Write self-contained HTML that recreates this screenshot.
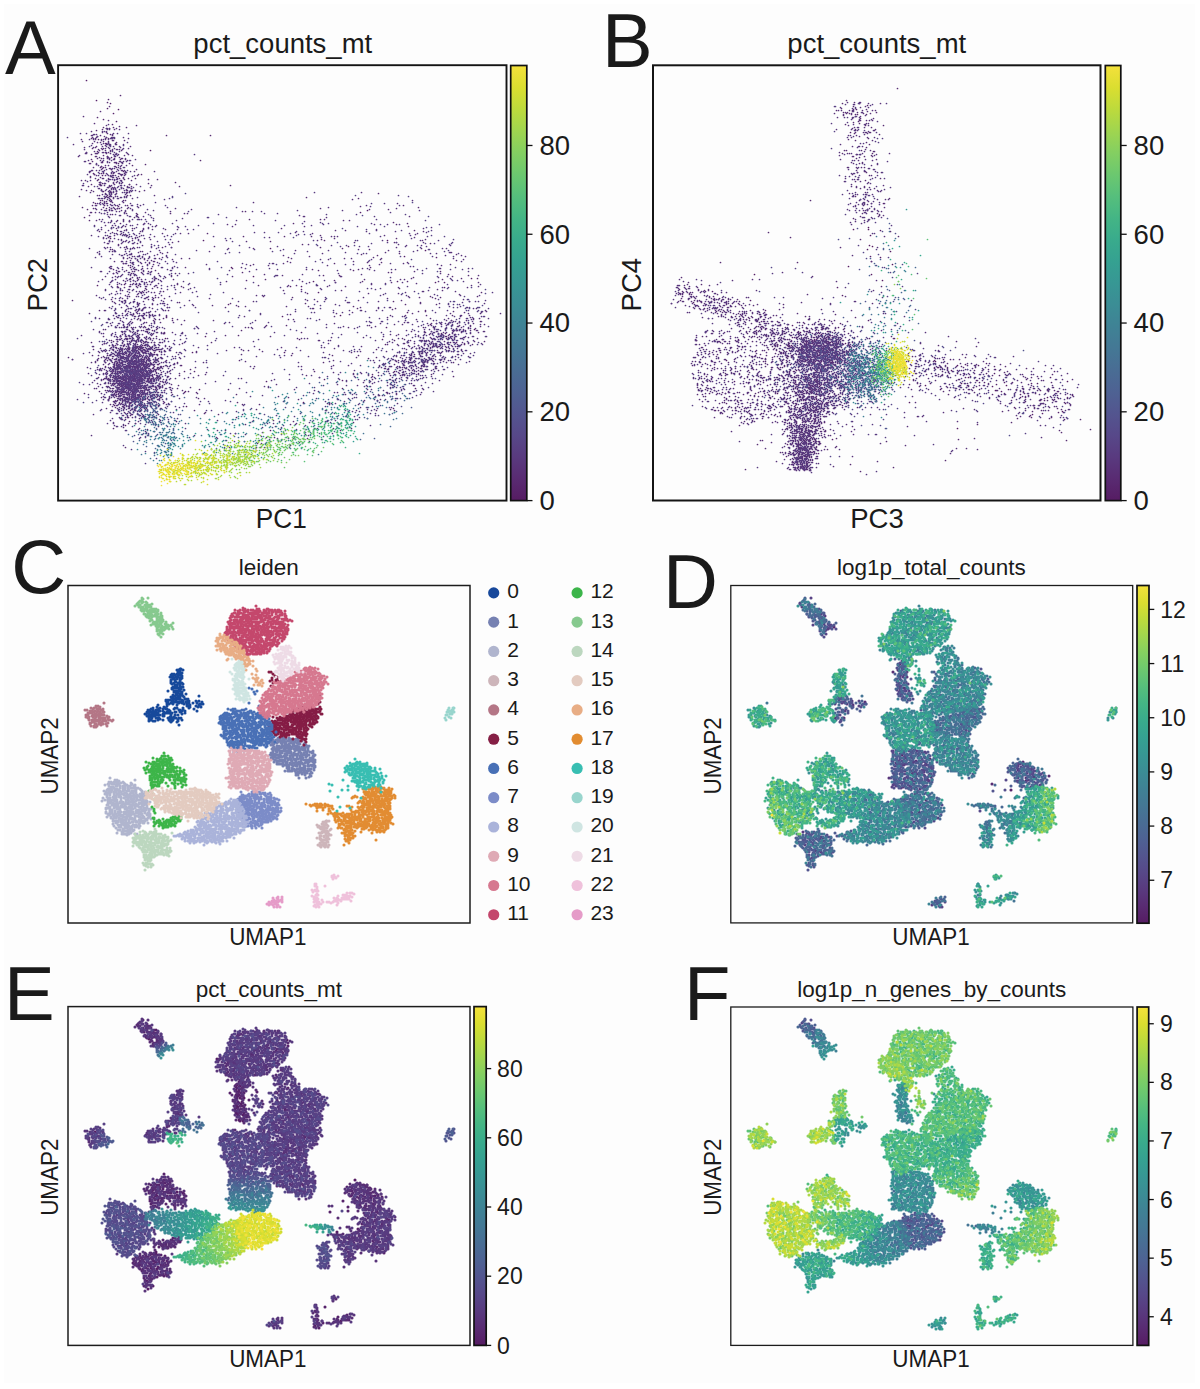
<!DOCTYPE html>
<html><head><meta charset="utf-8"><style>
html,body{margin:0;padding:0;background:#fff;}
svg{display:block;}
text{font-family:"Liberation Sans", sans-serif;fill:#1a1a1a;}
</style></head><body>
<svg width="1200" height="1389" viewBox="0 0 1200 1389">
<defs><linearGradient id="vir" x1="0" y1="0" x2="0" y2="1"><stop offset="0.00" stop-color="#f4e13b"/><stop offset="0.05" stop-color="#dbde30"/><stop offset="0.10" stop-color="#bdda3c"/><stop offset="0.15" stop-color="#a0d54f"/><stop offset="0.20" stop-color="#84cf61"/><stop offset="0.25" stop-color="#6cc86f"/><stop offset="0.30" stop-color="#56bf7c"/><stop offset="0.35" stop-color="#44b585"/><stop offset="0.40" stop-color="#39ab8c"/><stop offset="0.45" stop-color="#35a191"/><stop offset="0.50" stop-color="#379794"/><stop offset="0.55" stop-color="#3b8d95"/><stop offset="0.60" stop-color="#3f8295"/><stop offset="0.65" stop-color="#447895"/><stop offset="0.70" stop-color="#496d94"/><stop offset="0.75" stop-color="#4e6293"/><stop offset="0.80" stop-color="#53558f"/><stop offset="0.85" stop-color="#574889"/><stop offset="0.90" stop-color="#593a7f"/><stop offset="0.95" stop-color="#592b72"/><stop offset="1.00" stop-color="#561c63"/></linearGradient><filter id="bl" x="-2%" y="-2%" width="104%" height="104%"><feGaussianBlur stdDeviation="0.45"/></filter><filter id="bl2" x="-2%" y="-2%" width="104%" height="104%"><feGaussianBlur stdDeviation="0.6"/></filter></defs>
<rect x="4" y="4" width="1191" height="1379" fill="#fdfdfd"/>
<g fill="none" stroke-linecap="round" stroke-width="3.1" filter="url(#bl)">
<path stroke="#17489b" d="M180 669h0m1 0h0m-4 1h0m1 0h0m5 0h0m-3 1h0m-2 1h0m2 1h0m2 0h0m-10 1h0m2 0h0m3 0h0m2 0h0m-8 1h0m4 0h0m4 0h0m2 0h0m-8 1h0m5 0h0m4 0h0m-12 1h0m2 0h0m4 0h0m2 0h0m-4 1h0m6 0h0m2 0h0m-9 1h0m4 0h0m4 0h0m-10 1h0m4 0h0m5 0h0m-9 1h0m9 0h0m-9 1h0m4 0h0m1 0h0m-5 1h0m3 0h0m4 0h0m2 0h0m2 0h0m-10 1h0m11 0h0m-8 1h0m2 0h0m0 0h0m3 0h0m-5 1h0m2 0h0m-4 1h0m7 0h0m2 0h0m1 0h0m-11 1h0m2 0h0m2 0h0m2 0h0m-6 1h0m7 0h0m2 0h0m-1 1h0m4 0h0m-16 1h0m6 0h0m2 0h0m0 0h0m2 0h0m2 0h0m-6 1h0m3 0h0m5 0h0m-6 1h0m2 0h0m2 1h0m2 0h0m4 0h0m-13 1h0m3 0h0m0 0h0m1 0h0m5 0h0m-9 1h0m2 0h0m3 0h0m1 0h0m1 0h0m3 0h0m16 0h0m-28 1h0m7 0h0m2 0h0m4 0h0m-12 1h0m1 0h0m3 0h0m4 0h0m-6 1h0m2 0h0m2 0h0m1 0h0m1 0h0m5 0h0m1 0h0m2 0h0m-22 1h0m2 0h0m2 0h0m3 0h0m9 0h0m0 0h0m-16 1h0m1 0h0m1 0h0m4 0h0m1 0h0m3 0h0m7 0h0m5 0h0m1 0h0m7 0h0m3 0h0m-26 1h0m1 0h0m2 0h0m1 0h0m2 0h0m1 0h0m1 0h0m5 0h0m16 0h0m-35 1h0m1 0h0m3 0h0m8 0h0m3 0h0m1 0h0m4 0h0m2 0h0m4 0h0m4 0h0m-30 1h0m2 0h0m4 0h0m11 0h0m16 0h0m1 0h0m2 0h0m0 0h0m-45 1h0m19 0h0m10 0h0m3 0h0m9 0h0m-32 1h0m20 0h0m1 0h0m8 0h0m-39 1h0m0 0h0m7 0h0m26 0h0m8 0h0m3 0h0m-48 1h0m7 0h0m5 0h0m0 0h0m10 0h0m2 0h0m6 0h0m6 0h0m-38 1h0m8 0h0m4 0h0m3 0h0m1 0h0m7 0h0m9 0h0m11 0h0m-46 1h0m2 0h0m3 0h0m3 0h0m1 0h0m11 0h0m1 0h0m10 0h0m1 0h0m-21 1h0m1 0h0m0 0h0m3 0h0m7 0h0m12 0h0m3 0h0m12 0h0m-50 1h0m2 0h0m2 0h0m1 0h0m2 0h0m2 0h0m8 0h0m0 0h0m3 0h0m8 0h0m1 0h0m4 0h0m1 0h0m-33 1h0m4 0h0m6 0h0m6 0h0m2 0h0m2 0h0m2 0h0m2 0h0m13 0h0m-40 1h0m1 0h0m3 0h0m3 0h0m2 0h0m1 0h0m8 0h0m19 0h0m-33 1h0m2 0h0m5 0h0m2 0h0m2 0h0m4 0h0m7 0h0m4 0h0m0 0h0m3 0h0m-31 1h0m1 0h0m1 0h0m4 0h0m1 0h0m1 0h0m8 0h0m0 0h0m1 0h0m7 0h0m-20 1h0m19 0h0m4 0h0m-25 1h0m3 0h0m4 0h0m2 0h0m1 0h0m9 0h0m4 0h0m3 0h0m1 0h0m3 0h0m2 0h0m0 0h0m-23 1h0m2 0h0m10 0h0m-21 1h0m2 0h0m7 0h0m5 0h0m6 0h0m4 0h0m5 0h0m4 0h0m-33 1h0m4 0h0m2 0h0m15 0h0m2 0h0m6 0h0m-7 1h0m6 0h0m2 3h0"/>
<path stroke="#7681b2" d="M276 735h0m6 2h0m3 0h0m15 0h0m-22 1h0m1 0h0m5 0h0m5 0h0m-17 1h0m8 0h0m3 0h0m3 0h0m5 0h0m2 0h0m3 0h0m2 0h0m4 0h0m-29 1h0m3 0h0m2 0h0m6 0h0m5 0h0m1 0h0m3 0h0m3 0h0m-16 1h0m2 0h0m6 0h0m1 0h0m3 0h0m1 0h0m5 0h0m1 0h0m3 0h0m-31 1h0m2 0h0m1 0h0m4 0h0m6 0h0m2 0h0m9 0h0m4 0h0m-26 1h0m4 0h0m0 0h0m4 0h0m1 0h0m9 0h0m3 0h0m3 0h0m8 0h0m-31 1h0m11 0h0m1 0h0m3 0h0m4 0h0m6 0h0m1 0h0m0 0h0m4 0h0m-33 1h0m2 0h0m9 0h0m6 0h0m6 0h0m10 0h0m2 0h0m-29 1h0m2 0h0m5 0h0m2 0h0m4 0h0m3 0h0m2 0h0m1 0h0m1 0h0m7 0h0m3 0h0m2 0h0m-35 1h0m3 0h0m4 0h0m1 0h0m3 0h0m1 0h0m2 0h0m2 0h0m2 0h0m4 0h0m3 0h0m3 0h0m-29 1h0m5 0h0m2 0h0m1 0h0m6 0h0m11 0h0m5 0h0m2 0h0m0 0h0m3 0h0m-36 1h0m1 0h0m2 0h0m2 0h0m7 0h0m1 0h0m4 0h0m2 0h0m3 0h0m2 0h0m3 0h0m2 0h0m-28 1h0m6 0h0m18 0h0m2 0h0m4 0h0m2 0h0m3 0h0m0 0h0m-35 1h0m0 0h0m3 0h0m0 0h0m4 0h0m2 0h0m2 0h0m0 0h0m2 0h0m1 0h0m1 0h0m2 0h0m5 0h0m5 0h0m13 0h0m-36 1h0m12 0h0m2 0h0m8 0h0m1 0h0m6 0h0m1 0h0m3 0h0m2 0h0m-41 1h0m2 0h0m7 0h0m2 0h0m5 0h0m2 0h0m2 0h0m3 0h0m7 0h0m3 0h0m8 0h0m1 0h0m-38 1h0m10 0h0m1 0h0m9 0h0m2 0h0m1 0h0m6 0h0m3 0h0m-37 1h0m2 0h0m4 0h0m1 0h0m1 0h0m2 0h0m7 0h0m5 0h0m2 0h0m2 0h0m5 0h0m2 0h0m2 0h0m4 0h0m6 0h0m-42 1h0m2 0h0m4 0h0m2 0h0m3 0h0m2 0h0m4 0h0m7 0h0m3 0h0m6 0h0m1 0h0m6 0h0m1 0h0m-39 1h0m5 0h0m2 0h0m8 0h0m3 0h0m9 0h0m4 0h0m0 0h0m-35 1h0m2 0h0m4 0h0m1 0h0m7 0h0m2 0h0m10 0h0m3 0h0m1 0h0m2 0h0m7 0h0m1 0h0m2 0h0m-40 1h0m12 0h0m3 0h0m2 0h0m1 0h0m3 0h0m2 0h0m2 0h0m4 0h0m9 0h0m-36 1h0m5 0h0m2 0h0m2 0h0m4 0h0m3 0h0m4 0h0m6 0h0m3 0h0m2 0h0m1 0h0m1 0h0m2 0h0m3 0h0m2 0h0m-38 1h0m2 0h0m1 0h0m2 0h0m3 0h0m7 0h0m4 0h0m5 0h0m9 0h0m2 0h0m-38 1h0m12 0h0m1 0h0m9 0h0m3 0h0m7 0h0m2 0h0m1 0h0m4 0h0m2 0h0m-38 1h0m6 0h0m7 0h0m3 0h0m1 0h0m3 0h0m3 0h0m2 0h0m3 0h0m0 0h0m9 0h0m-37 1h0m1 0h0m1 0h0m1 0h0m2 0h0m0 0h0m4 0h0m1 0h0m4 0h0m7 0h0m5 0h0m5 0h0m6 0h0m-30 1h0m2 0h0m3 0h0m3 0h0m3 0h0m2 0h0m3 0h0m8 0h0m3 0h0m2 0h0m-30 1h0m4 0h0m6 0h0m3 0h0m1 0h0m7 0h0m1 0h0m3 0h0m1 0h0m3 0h0m3 0h0m-26 1h0m11 0h0m15 0h0m-28 1h0m5 0h0m9 0h0m2 0h0m2 0h0m9 0h0m-26 1h0m1 0h0m0 0h0m4 0h0m1 0h0m3 0h0m1 0h0m2 0h0m4 0h0m4 0h0m2 0h0m0 0h0m1 0h0m-19 1h0m4 0h0m6 0h0m3 0h0m4 0h0m5 0h0m-29 1h0m3 0h0m2 0h0m2 0h0m3 0h0m5 0h0m4 0h0m3 0h0m1 0h0m-10 1h0m1 0h0m2 0h0m3 0h0m7 0h0m-15 1h0m3 0h0m3 0h0m3 0h0m2 0h0m5 0h0m-14 1h0m4 0h0m3 0h0m5 0h0m-14 1h0m2 0h0m7 0h0m5 1h0m1 0h0m-2 1h0m-10 1h0m7 0h0"/>
<path stroke="#b0b5ce" d="M110 778h0m5 2h0m2 0h0m18 0h0m-19 1h0m1 0h0m2 0h0m-10 1h0m2 0h0m3 0h0m1 0h0m8 0h0m-14 1h0m2 0h0m2 0h0m5 0h0m3 0h0m3 0h0m7 0h0m-23 1h0m1 0h0m3 0h0m2 0h0m3 0h0m2 0h0m6 0h0m7 0h0m-27 1h0m11 0h0m9 0h0m2 0h0m4 0h0m4 0h0m-26 1h0m7 0h0m1 0h0m3 0h0m3 0h0m2 0h0m3 0h0m2 0h0m4 0h0m1 0h0m-24 1h0m2 0h0m10 0h0m5 0h0m-17 1h0m3 0h0m6 0h0m0 0h0m5 0h0m0 0h0m3 0h0m3 0h0m1 0h0m0 0h0m2 0h0m2 0h0m2 0h0m-30 1h0m1 0h0m6 0h0m2 0h0m6 0h0m17 0h0m-33 1h0m5 0h0m5 0h0m2 0h0m6 0h0m3 0h0m1 0h0m7 0h0m5 0h0m-37 1h0m5 0h0m2 0h0m4 0h0m4 0h0m1 0h0m3 0h0m4 0h0m2 0h0m3 0h0m0 0h0m2 0h0m0 0h0m8 0h0m-36 1h0m3 0h0m2 0h0m3 0h0m2 0h0m3 0h0m2 0h0m15 0h0m9 0h0m-37 1h0m6 0h0m11 0h0m1 0h0m5 0h0m1 0h0m1 0h0m3 0h0m6 0h0m4 0h0m-41 1h0m2 0h0m3 0h0m4 0h0m3 0h0m2 0h0m3 0h0m1 0h0m4 0h0m3 0h0m10 0h0m4 0h0m-37 1h0m3 0h0m10 0h0m4 0h0m4 0h0m2 0h0m4 0h0m3 0h0m4 0h0m4 0h0m-38 1h0m7 0h0m2 0h0m3 0h0m7 0h0m6 0h0m4 0h0m2 0h0m4 0h0m4 0h0m-39 1h0m6 0h0m3 0h0m3 0h0m2 0h0m5 0h0m2 0h0m2 0h0m1 0h0m4 0h0m2 0h0m3 0h0m4 0h0m-41 1h0m6 0h0m1 0h0m4 0h0m2 0h0m5 0h0m3 0h0m10 0h0m7 0h0m1 0h0m-34 1h0m2 0h0m5 0h0m13 0h0m3 0h0m1 0h0m2 0h0m3 0h0m6 0h0m2 0h0m-40 1h0m3 0h0m4 0h0m2 0h0m3 0h0m4 0h0m5 0h0m0 0h0m1 0h0m5 0h0m5 0h0m2 0h0m1 0h0m3 0h0m3 0h0m-44 1h0m6 0h0m2 0h0m5 0h0m14 0h0m4 0h0m3 0h0m6 0h0m5 0h0m-36 1h0m6 0h0m0 0h0m3 0h0m1 0h0m1 0h0m1 0h0m3 0h0m5 0h0m3 0h0m11 0h0m5 0h0m-42 1h0m2 0h0m3 0h0m7 0h0m3 0h0m5 0h0m5 0h0m6 0h0m2 0h0m1 0h0m2 0h0m3 0h0m-33 1h0m1 0h0m2 0h0m1 0h0m6 0h0m1 0h0m2 0h0m2 0h0m7 0h0m3 0h0m5 0h0m2 0h0m1 0h0m-40 1h0m1 0h0m4 0h0m10 0h0m9 0h0m1 0h0m2 0h0m4 0h0m4 0h0m2 0h0m-30 1h0m2 0h0m2 0h0m3 0h0m4 0h0m10 0h0m2 0h0m6 0h0m4 0h0m-37 1h0m0 0h0m6 0h0m5 0h0m2 0h0m3 0h0m3 0h0m2 0h0m1 0h0m7 0h0m2 0h0m-35 1h0m2 0h0m2 0h0m4 0h0m4 0h0m2 0h0m6 0h0m1 0h0m2 0h0m6 0h0m6 0h0m3 0h0m2 0h0m1 0h0m-41 1h0m11 0h0m1 0h0m1 0h0m6 0h0m2 0h0m4 0h0m1 0h0m1 0h0m8 0h0m4 0h0m4 0h0m2 0h0m0 0h0m-41 1h0m2 0h0m8 0h0m7 0h0m10 0h0m2 0h0m3 0h0m4 0h0m-36 1h0m5 0h0m14 0h0m2 0h0m5 0h0m2 0h0m1 0h0m4 0h0m2 0h0m4 0h0m-43 1h0m4 0h0m2 0h0m6 0h0m1 0h0m2 0h0m3 0h0m2 0h0m1 0h0m6 0h0m8 0h0m8 0h0m0 0h0m-43 1h0m6 0h0m3 0h0m3 0h0m2 0h0m6 0h0m3 0h0m2 0h0m2 0h0m3 0h0m2 0h0m7 0h0m3 0h0m-40 1h0m2 0h0m0 0h0m6 0h0m8 0h0m2 0h0m7 0h0m1 0h0m5 0h0m2 0h0m1 0h0m8 0h0m-41 1h0m4 0h0m6 0h0m2 0h0m2 0h0m4 0h0m2 0h0m2 0h0m11 0h0m5 0h0m2 0h0m1 0h0m-36 1h0m3 0h0m4 0h0m7 0h0m7 0h0m1 0h0m2 0h0m5 0h0m0 0h0m7 0h0m-43 1h0m4 0h0m0 0h0m3 0h0m2 0h0m7 0h0m1 0h0m2 0h0m4 0h0m5 0h0m4 0h0m1 0h0m4 0h0m5 0h0m-38 1h0m4 0h0m1 0h0m3 0h0m8 0h0m5 0h0m10 0h0m2 0h0m4 0h0m-35 1h0m6 0h0m2 0h0m1 0h0m4 0h0m4 0h0m2 0h0m2 0h0m1 0h0m6 0h0m5 0h0m5 0h0m-29 1h0m2 0h0m2 0h0m3 0h0m6 0h0m4 0h0m8 0h0m-34 1h0m1 0h0m2 0h0m1 0h0m1 0h0m3 0h0m15 0h0m5 0h0m1 0h0m2 0h0m1 0h0m-27 1h0m3 0h0m2 0h0m3 0h0m3 0h0m3 0h0m1 0h0m3 0h0m1 0h0m3 0h0m-24 1h0m8 0h0m3 0h0m3 0h0m10 0h0m3 0h0m1 0h0m4 0h0m-35 1h0m9 0h0m4 0h0m13 0h0m-21 1h0m2 0h0m4 0h0m4 0h0m5 0h0m1 0h0m2 0h0m-22 1h0m5 0h0m2 0h0m5 0h0m1 0h0m2 0h0m3 0h0m5 0h0m3 0h0m-21 1h0m2 0h0m0 0h0m4 0h0m3 0h0m3 0h0m1 0h0m3 0h0m1 0h0m-20 1h0m9 0h0m2 0h0m12 0h0m-16 1h0m7 0h0m2 0h0m-14 1h0m2 0h0m0 0h0m8 0h0m5 0h0m1 0h0m-11 1h0m2 0h0m2 0h0m3 0h0m3 0h0m-11 1h0m6 0h0m-11 1h0m6 0h0m5 0h0m2 0h0m1 0h0m-9 1h0m2 0h0m2 0h0m3 0h0m6 0h0m2 0h0m-10 1h0m0 0h0"/>
<path stroke="#cdb5ba" d="M326 821h0m1 0h0m2 0h0m-6 1h0m1 0h0m2 1h0m-4 1h0m1 0h0m-6 1h0m8 0h0m2 0h0m-8 1h0m5 0h0m4 0h0m-10 1h0m3 0h0m1 0h0m-2 1h0m4 0h0m2 0h0m1 0h0m-6 1h0m1 0h0m9 0h0m-7 1h0m6 0h0m-4 1h0m1 0h0m-5 1h0m2 0h0m4 0h0m-9 1h0m1 0h0m2 0h0m5 0h0m-1 1h0m3 0h0m-3 1h0m3 0h0m2 0h0m-11 1h0m1 0h0m3 0h0m4 0h0m-8 1h0m4 0h0m3 0h0m-10 1h0m11 0h0m-8 1h0m1 0h0m5 0h0m3 0h0m-8 1h0m1 0h0m1 0h0m2 0h0m2 0h0m0 1h0m-5 1h0m6 0h0m-8 1h0m4 0h0m2 0h0m0 1h0m-8 1h0m3 0h0m1 0h0m2 0h0m2 0h0m3 0h0m-9 1h0m1 0h0m3 0h0m-3 1h0m4 0h0m3 0h0"/>
<path stroke="#b47686" d="M104 703h0m-8 3h0m2 0h0m-2 1h0m4 0h0m-9 1h0m3 0h0m-1 1h0m4 0h0m1 0h0m2 0h0m3 0h0m-18 1h0m2 0h0m14 0h0m-11 1h0m2 0h0m3 0h0m3 0h0m0 0h0m5 0h0m-9 1h0m3 0h0m0 0h0m3 0h0m3 0h0m1 0h0m-16 1h0m2 0h0m1 0h0m1 0h0m3 1h0m1 0h0m3 0h0m2 0h0m-15 1h0m1 0h0m1 0h0m5 0h0m3 0h0m2 0h0m4 0h0m1 0h0m1 0h0m-12 1h0m2 0h0m6 0h0m7 0h0m-21 1h0m3 0h0m4 0h0m3 0h0m3 0h0m9 0h0m0 0h0m1 0h0m-21 1h0m13 0h0m2 0h0m2 0h0m-16 1h0m6 0h0m4 0h0m5 0h0m4 0h0m-19 1h0m3 0h0m1 0h0m4 0h0m3 0h0m3 0h0m2 0h0m4 0h0m1 0h0m3 0h0m-18 1h0m2 0h0m2 0h0m4 0h0m2 0h0m1 0h0m6 0h0m-20 1h0m2 0h0m5 0h0m3 0h0m-12 1h0m1 0h0m8 0h0m2 0h0m7 0h0m-18 1h0m5 0h0m1 0h0m3 0h0m4 0h0m3 0h0m-5 1h0m-10 1h0m3 0h0m3 0h0m10 0h0m-13 1h0m2 0h0"/>
<path stroke="#851f45" d="M269 672h0m2 0h0m2 2h0m2 2h0m2 1h0m-5 1h0m5 1h0m-5 1h0m4 0h0m-6 1h0m8 0h0m-2 1h0m-3 1h0m-2 3h0m9 0h0m40 10h0m-1 1h0m0 2h0m1 3h0m-2 2h0m-16 3h0m3 0h0m2 0h0m2 0h0m2 0h0m9 0h0m-22 1h0m9 0h0m7 0h0m0 0h0m-17 1h0m0 0h0m15 0h0m1 0h0m3 0h0m2 0h0m3 0h0m-34 1h0m7 0h0m1 0h0m4 0h0m2 0h0m3 0h0m1 0h0m4 0h0m1 0h0m-26 1h0m6 0h0m3 0h0m1 0h0m9 0h0m2 0h0m6 0h0m1 0h0m2 0h0m1 0h0m1 0h0m4 0h0m-33 1h0m4 0h0m6 0h0m2 0h0m2 0h0m0 0h0m6 0h0m3 0h0m7 0h0m2 0h0m-14 1h0m1 0h0m2 0h0m6 0h0m2 0h0m-32 1h0m6 0h0m3 0h0m4 0h0m3 0h0m2 0h0m8 0h0m2 0h0m9 0h0m1 0h0m-31 1h0m1 0h0m3 0h0m2 0h0m7 0h0m3 0h0m2 0h0m2 0h0m5 0h0m-31 1h0m1 0h0m2 0h0m10 0h0m1 0h0m2 0h0m4 0h0m9 0h0m0 0h0m3 0h0m-44 1h0m7 0h0m5 0h0m2 0h0m3 0h0m1 0h0m2 0h0m3 0h0m2 0h0m4 0h0m1 0h0m5 0h0m2 0h0m2 0h0m3 0h0m3 0h0m-41 1h0m5 0h0m2 0h0m7 0h0m1 0h0m2 0h0m6 0h0m4 0h0m3 0h0m11 0h0m-40 1h0m2 0h0m2 0h0m4 0h0m2 0h0m8 0h0m2 0h0m5 0h0m8 0h0m2 0h0m3 0h0m-38 1h0m1 0h0m2 0h0m4 0h0m2 0h0m3 0h0m1 0h0m3 0h0m3 0h0m3 0h0m1 0h0m5 0h0m3 0h0m1 0h0m3 0h0m1 0h0m2 0h0m-44 1h0m3 0h0m8 0h0m5 0h0m8 0h0m8 0h0m3 0h0m-34 1h0m3 0h0m9 0h0m6 0h0m2 0h0m4 0h0m1 0h0m2 0h0m2 0h0m4 0h0m4 0h0m3 0h0m4 0h0m-42 1h0m3 0h0m2 0h0m0 0h0m2 0h0m4 0h0m1 0h0m7 0h0m11 0h0m5 0h0m5 0h0m-45 1h0m3 0h0m3 0h0m6 0h0m2 0h0m4 0h0m7 0h0m3 0h0m1 0h0m2 0h0m2 0h0m3 0h0m6 0h0m2 0h0m-39 1h0m3 0h0m5 0h0m9 0h0m1 0h0m11 0h0m5 0h0m1 0h0m-39 1h0m3 0h0m6 0h0m4 0h0m2 0h0m2 0h0m9 0h0m2 0h0m2 0h0m2 0h0m3 0h0m4 0h0m-41 1h0m6 0h0m1 0h0m8 0h0m4 0h0m2 0h0m0 0h0m2 0h0m5 0h0m3 0h0m1 0h0m11 0h0m-41 1h0m2 0h0m4 0h0m2 0h0m2 0h0m5 0h0m7 0h0m2 0h0m9 0h0m1 0h0m2 0h0m-35 1h0m4 0h0m6 0h0m4 0h0m2 0h0m6 0h0m2 0h0m3 0h0m2 0h0m6 0h0m1 0h0m-34 1h0m4 0h0m1 0h0m5 0h0m2 0h0m0 0h0m4 0h0m1 0h0m1 0h0m2 0h0m10 0h0m3 0h0m-18 1h0m7 0h0m3 0h0m7 0h0m-37 1h0m2 0h0m2 0h0m1 0h0m2 0h0m1 0h0m2 0h0m2 0h0m3 0h0m5 0h0m2 0h0m2 0h0m3 0h0m2 0h0m3 0h0m0 0h0m3 0h0m-30 1h0m4 0h0m3 0h0m1 0h0m1 0h0m4 0h0m16 0h0m3 0h0m-28 1h0m7 0h0m7 0h0m1 0h0m1 0h0m2 0h0m3 0h0m1 0h0m5 0h0m1 0h0m1 0h0m-32 1h0m1 0h0m5 0h0m2 0h0m4 0h0m2 0h0m9 0h0m4 0h0m2 0h0m-22 1h0m3 0h0m12 0h0m9 0h0m-26 1h0m6 0h0m12 0h0m2 0h0m2 0h0m-2 1h0m1 0h0m-8 1h0m10 0h0m1 0h0m2 0h0m-1 1h0m-4 1h0m5 1h0m-2 3h0"/>
<path stroke="#4870b6" d="M249 688h0m3 1h0m5 2h0m-3 1h0m1 2h0m-6 9h0m10 3h0m-31 3h0m5 0h0m2 0h0m11 0h0m-15 1h0m11 0h0m2 0h0m-11 1h0m4 0h0m1 0h0m2 0h0m10 0h0m1 0h0m-16 1h0m13 0h0m6 0h0m-29 1h0m2 0h0m6 0h0m3 0h0m5 0h0m0 0h0m3 0h0m2 0h0m3 0h0m3 0h0m6 0h0m3 0h0m3 0h0m-40 1h0m5 0h0m3 0h0m0 0h0m3 0h0m2 0h0m19 0h0m0 0h0m4 0h0m-37 1h0m2 0h0m2 0h0m1 0h0m2 0h0m7 0h0m2 0h0m2 0h0m1 0h0m3 0h0m1 0h0m2 0h0m5 0h0m4 0h0m2 0h0m2 0h0m3 0h0m3 0h0m-46 1h0m15 0h0m2 0h0m3 0h0m5 0h0m1 0h0m6 0h0m10 0h0m2 0h0m-45 1h0m1 0h0m3 0h0m1 0h0m2 0h0m4 0h0m3 0h0m6 0h0m4 0h0m6 0h0m2 0h0m4 0h0m2 0h0m2 0h0m7 0h0m1 0h0m-46 1h0m7 0h0m1 0h0m0 0h0m2 0h0m6 0h0m2 0h0m4 0h0m1 0h0m1 0h0m3 0h0m4 0h0m3 0h0m3 0h0m2 0h0m-41 1h0m4 0h0m2 0h0m11 0h0m13 0h0m5 0h0m8 0h0m0 0h0m2 0h0m4 0h0m0 0h0m-46 1h0m4 0h0m2 0h0m3 0h0m4 0h0m2 0h0m1 0h0m8 0h0m3 0h0m4 0h0m7 0h0m4 0h0m-44 1h0m13 0h0m4 0h0m4 0h0m3 0h0m1 0h0m2 0h0m4 0h0m0 0h0m15 0h0m-47 1h0m4 0h0m3 0h0m2 0h0m3 0h0m3 0h0m5 0h0m2 0h0m6 0h0m7 0h0m4 0h0m3 0h0m3 0h0m3 0h0m2 0h0m-51 1h0m3 0h0m3 0h0m2 0h0m3 0h0m3 0h0m9 0h0m7 0h0m4 0h0m3 0h0m4 0h0m4 0h0m-43 1h0m2 0h0m9 0h0m3 0h0m3 0h0m1 0h0m4 0h0m3 0h0m5 0h0m1 0h0m2 0h0m1 0h0m8 0h0m1 0h0m3 0h0m1 0h0m3 0h0m-43 1h0m2 0h0m2 0h0m2 0h0m2 0h0m3 0h0m2 0h0m8 0h0m3 0h0m6 0h0m3 0h0m7 0h0m1 0h0m2 0h0m1 0h0m-49 1h0m2 0h0m1 0h0m5 0h0m5 0h0m6 0h0m3 0h0m2 0h0m4 0h0m1 0h0m4 0h0m2 0h0m1 0h0m6 0h0m-39 1h0m7 0h0m6 0h0m4 0h0m1 0h0m4 0h0m11 0h0m1 0h0m5 0h0m7 0h0m-49 1h0m1 0h0m5 0h0m3 0h0m5 0h0m10 0h0m5 0h0m2 0h0m2 0h0m2 0h0m9 0h0m2 0h0m1 0h0m0 0h0m-47 1h0m3 0h0m9 0h0m2 0h0m2 0h0m8 0h0m3 0h0m6 0h0m6 0h0m4 0h0m2 0h0m4 0h0m-39 1h0m3 0h0m5 0h0m0 0h0m2 0h0m1 0h0m5 0h0m5 0h0m7 0h0m1 0h0m2 0h0m6 0h0m-45 1h0m2 0h0m3 0h0m1 0h0m3 0h0m3 0h0m4 0h0m2 0h0m4 0h0m5 0h0m2 0h0m3 0h0m7 0h0m3 0h0m-43 1h0m7 0h0m4 0h0m7 0h0m2 0h0m4 0h0m7 0h0m1 0h0m6 0h0m7 0h0m7 0h0m-52 1h0m5 0h0m4 0h0m4 0h0m1 0h0m6 0h0m4 0h0m3 0h0m3 0h0m5 0h0m4 0h0m2 0h0m2 0h0m2 0h0m2 0h0m-46 1h0m2 0h0m3 0h0m3 0h0m3 0h0m6 0h0m12 0h0m2 0h0m6 0h0m2 0h0m3 0h0m2 0h0m-48 1h0m3 0h0m2 0h0m6 0h0m5 0h0m3 0h0m4 0h0m1 0h0m3 0h0m1 0h0m2 0h0m10 0h0m9 0h0m2 0h0m0 0h0m-50 1h0m2 0h0m6 0h0m7 0h0m2 0h0m4 0h0m2 0h0m8 0h0m3 0h0m3 0h0m2 0h0m2 0h0m3 0h0m4 0h0m-41 1h0m6 0h0m1 0h0m3 0h0m1 0h0m7 0h0m0 0h0m1 0h0m3 0h0m0 0h0m4 0h0m3 0h0m4 0h0m6 0h0m0 0h0m6 0h0m-50 1h0m2 0h0m3 0h0m3 0h0m1 0h0m4 0h0m4 0h0m15 0h0m16 0h0m-45 1h0m1 0h0m8 0h0m0 0h0m8 0h0m3 0h0m5 0h0m1 0h0m6 0h0m2 0h0m2 0h0m2 0h0m1 0h0m2 0h0m2 0h0m1 0h0m-44 1h0m14 0h0m1 0h0m3 0h0m4 0h0m4 0h0m3 0h0m2 0h0m4 0h0m4 0h0m5 0h0m-40 1h0m1 0h0m6 0h0m7 0h0m3 0h0m2 0h0m1 0h0m3 0h0m5 0h0m2 0h0m3 0h0m-37 1h0m3 0h0m4 0h0m1 0h0m2 0h0m2 0h0m3 0h0m2 0h0m7 0h0m1 0h0m4 0h0m6 0h0m5 0h0m2 0h0m6 0h0m-47 1h0m3 0h0m1 0h0m5 0h0m3 0h0m2 0h0m3 0h0m8 0h0m2 0h0m2 0h0m3 0h0m2 0h0m4 0h0m3 0h0m-35 1h0m7 0h0m15 0h0m11 0h0m-39 1h0m2 0h0m2 0h0m1 0h0m3 0h0m2 0h0m2 0h0m2 0h0m3 0h0m10 0h0m4 0h0m2 0h0m3 0h0m-26 1h0m5 0h0m1 0h0m3 0h0m1 0h0m1 0h0m1 0h0m3 0h0m14 0h0m-37 1h0m3 0h0m1 0h0m5 0h0m2 0h0m1 0h0m9 0h0m15 0h0m-29 1h0m1 0h0m5 0h0m6 0h0m3 0h0m3 0h0m2 0h0m-23 1h0m7 0h0m4 0h0m-9 1h0m3 1h0m5 0h0m-10 1h0m4 0h0m1 0h0"/>
<path stroke="#7c8cc8" d="M253 789h0m-12 3h0m11 0h0m0 0h0m4 0h0m2 0h0m1 0h0m1 0h0m3 1h0m2 0h0m5 0h0m-21 1h0m3 0h0m2 0h0m6 0h0m1 0h0m3 0h0m4 0h0m-26 1h0m1 0h0m5 0h0m1 0h0m5 0h0m2 0h0m1 0h0m8 0h0m6 0h0m-26 1h0m1 0h0m2 0h0m4 0h0m2 0h0m12 0h0m-26 1h0m2 0h0m1 0h0m7 0h0m7 0h0m1 0h0m3 0h0m6 0h0m2 0h0m2 0h0m-28 1h0m2 0h0m5 0h0m4 0h0m2 0h0m2 0h0m1 0h0m8 0h0m4 0h0m3 0h0m-36 1h0m1 0h0m2 0h0m3 0h0m3 0h0m4 0h0m5 0h0m4 0h0m1 0h0m3 0h0m3 0h0m2 0h0m6 0h0m1 0h0m1 0h0m-28 1h0m6 0h0m4 0h0m5 0h0m3 0h0m2 0h0m2 0h0m8 0h0m-45 1h0m5 0h0m1 0h0m2 0h0m5 0h0m1 0h0m3 0h0m1 0h0m21 0h0m0 0h0m-37 1h0m1 0h0m5 0h0m2 0h0m1 0h0m4 0h0m2 0h0m4 0h0m4 0h0m0 0h0m5 0h0m3 0h0m0 0h0m3 0h0m2 0h0m3 0h0m-37 1h0m5 0h0m4 0h0m5 0h0m5 0h0m2 0h0m3 0h0m1 0h0m1 0h0m4 0h0m2 0h0m3 0h0m5 0h0m-42 1h0m9 0h0m4 0h0m1 0h0m4 0h0m8 0h0m10 0h0m3 0h0m2 0h0m-45 1h0m7 0h0m3 0h0m2 0h0m4 0h0m2 0h0m6 0h0m1 0h0m4 0h0m0 0h0m4 0h0m6 0h0m1 0h0m3 0h0m4 0h0m-42 1h0m2 0h0m3 0h0m3 0h0m2 0h0m4 0h0m2 0h0m1 0h0m7 0h0m2 0h0m5 0h0m9 0h0m-41 1h0m2 0h0m1 0h0m5 0h0m6 0h0m4 0h0m3 0h0m2 0h0m6 0h0m4 0h0m1 0h0m-30 1h0m8 0h0m9 0h0m5 0h0m6 0h0m5 0h0m3 0h0m2 0h0m3 0h0m-39 1h0m1 0h0m3 0h0m3 0h0m3 0h0m1 0h0m7 0h0m7 0h0m3 0h0m2 0h0m2 0h0m-37 1h0m3 0h0m2 0h0m5 0h0m0 0h0m3 0h0m5 0h0m1 0h0m6 0h0m1 0h0m3 0h0m3 0h0m2 0h0m4 0h0m3 0h0m-41 1h0m11 0h0m5 0h0m2 0h0m6 0h0m3 0h0m3 0h0m6 0h0m2 0h0m2 0h0m4 0h0m-37 1h0m1 0h0m0 0h0m7 0h0m1 0h0m3 0h0m3 0h0m4 0h0m5 0h0m8 0h0m2 0h0m2 0h0m-41 1h0m3 0h0m1 0h0m4 0h0m2 0h0m9 0h0m1 0h0m2 0h0m2 0h0m3 0h0m3 0h0m3 0h0m3 0h0m-30 1h0m1 0h0m5 0h0m3 0h0m3 0h0m5 0h0m3 0h0m1 0h0m7 0h0m2 0h0m-35 1h0m5 0h0m2 0h0m2 0h0m3 0h0m7 0h0m4 0h0m6 0h0m2 0h0m7 0h0m-39 1h0m2 0h0m11 0h0m3 0h0m2 0h0m4 0h0m5 0h0m1 0h0m3 0h0m2 0h0m5 0h0m-34 1h0m3 0h0m7 0h0m4 0h0m3 0h0m3 0h0m1 0h0m1 0h0m6 0h0m3 0h0m-34 1h0m3 0h0m2 0h0m4 0h0m4 0h0m1 0h0m6 0h0m8 0h0m2 0h0m3 0h0m2 0h0m-30 1h0m4 0h0m1 0h0m9 0h0m3 0h0m2 0h0m3 0h0m3 0h0m3 0h0m4 0h0m-35 1h0m5 0h0m6 0h0m5 0h0m8 0h0m-11 1h0m4 0h0m2 0h0m1 0h0m4 0h0m2 0h0m3 0h0m-26 1h0m1 0h0m2 0h0m3 0h0m6 0h0m7 0h0m1 0h0m1 0h0m2 0h0m-20 1h0m1 0h0m4 0h0m3 0h0m5 0h0m-22 1h0m4 0h0m12 0h0m2 0h0m1 0h0m4 0h0m0 0h0m-11 1h0m7 0h0m3 0h0m-15 1h0m2 0h0m3 0h0m1 0h0m3 0h0m4 0h0m-7 2h0m4 0h0m6 0h0"/>
<path stroke="#aab3da" d="M231 799h0m3 1h0m2 0h0m1 0h0m-8 1h0m7 0h0m-10 1h0m3 0h0m1 0h0m3 0h0m1 0h0m4 0h0m-20 1h0m7 0h0m4 0h0m2 0h0m5 0h0m-15 1h0m2 0h0m1 0h0m4 0h0m0 0h0m3 0h0m2 0h0m4 0h0m3 0h0m-25 1h0m6 0h0m5 0h0m7 0h0m1 0h0m2 0h0m-17 1h0m4 0h0m8 0h0m7 0h0m1 0h0m-22 1h0m4 0h0m5 0h0m7 0h0m3 0h0m6 0h0m-30 1h0m3 0h0m2 0h0m10 0h0m3 0h0m7 0h0m1 0h0m3 0h0m-20 1h0m1 0h0m1 0h0m4 0h0m1 0h0m1 0h0m3 0h0m1 0h0m6 0h0m4 0h0m-27 1h0m5 0h0m2 0h0m3 0h0m1 0h0m3 0h0m2 0h0m4 0h0m0 0h0m5 0h0m-28 1h0m1 0h0m3 0h0m2 0h0m9 0h0m10 0h0m2 0h0m-28 1h0m3 0h0m6 0h0m1 0h0m5 0h0m9 0h0m8 0h0m-39 1h0m3 0h0m5 0h0m1 0h0m3 0h0m7 0h0m0 0h0m3 0h0m5 0h0m1 0h0m2 0h0m0 0h0m1 0h0m5 0h0m1 0h0m-34 1h0m2 0h0m4 0h0m6 0h0m1 0h0m11 0h0m7 0h0m2 0h0m2 0h0m-36 1h0m3 0h0m3 0h0m3 0h0m4 0h0m6 0h0m1 0h0m6 0h0m4 0h0m2 0h0m2 0h0m2 0h0m-45 1h0m6 0h0m7 0h0m6 0h0m4 0h0m3 0h0m4 0h0m1 0h0m5 0h0m10 0h0m2 0h0m-36 1h0m3 0h0m7 0h0m5 0h0m6 0h0m6 0h0m2 0h0m2 0h0m3 0h0m-39 1h0m2 0h0m1 0h0m1 0h0m0 0h0m6 0h0m2 0h0m2 0h0m5 0h0m3 0h0m2 0h0m4 0h0m2 0h0m11 0h0m-45 1h0m2 0h0m3 0h0m5 0h0m5 0h0m4 0h0m2 0h0m2 0h0m1 0h0m3 0h0m1 0h0m3 0h0m3 0h0m1 0h0m4 0h0m4 0h0m-37 1h0m7 0h0m3 0h0m4 0h0m15 0h0m1 0h0m1 0h0m4 0h0m-44 1h0m3 0h0m7 0h0m3 0h0m2 0h0m1 0h0m3 0h0m2 0h0m7 0h0m6 0h0m12 0h0m-47 1h0m5 0h0m1 0h0m1 0h0m4 0h0m4 0h0m3 0h0m2 0h0m5 0h0m2 0h0m0 0h0m1 0h0m4 0h0m4 0h0m2 0h0m2 0h0m1 0h0m4 0h0m0 0h0m3 0h0m0 0h0m1 0h0m2 0h0m-48 1h0m3 0h0m3 0h0m8 0h0m5 0h0m12 0h0m1 0h0m7 0h0m1 0h0m-38 1h0m3 0h0m19 0h0m5 0h0m1 0h0m3 0h0m3 0h0m4 0h0m1 0h0m3 0h0m-46 1h0m0 0h0m2 0h0m6 0h0m3 0h0m1 0h0m3 0h0m2 0h0m1 0h0m3 0h0m2 0h0m1 0h0m4 0h0m5 0h0m7 0h0m8 0h0m-47 1h0m2 0h0m3 0h0m4 0h0m1 0h0m2 0h0m6 0h0m1 0h0m4 0h0m5 0h0m5 0h0m3 0h0m4 0h0m2 0h0m1 0h0m-47 1h0m11 0h0m10 0h0m4 0h0m4 0h0m1 0h0m1 0h0m6 0h0m5 0h0m1 0h0m5 0h0m2 0h0m-49 1h0m4 0h0m4 0h0m3 0h0m2 0h0m12 0h0m2 0h0m3 0h0m3 0h0m-31 1h0m3 0h0m1 0h0m6 0h0m3 0h0m1 0h0m2 0h0m2 0h0m3 0h0m1 0h0m0 0h0m2 0h0m3 0h0m2 0h0m3 0h0m1 0h0m1 0h0m1 0h0m2 0h0m1 0h0m2 0h0m-47 1h0m2 0h0m3 0h0m1 0h0m3 0h0m6 0h0m4 0h0m1 0h0m4 0h0m13 0h0m10 0h0m3 0h0m1 0h0m2 0h0m-56 1h0m9 0h0m6 0h0m7 0h0m3 0h0m8 0h0m9 0h0m2 0h0m2 0h0m7 0h0m-56 1h0m0 0h0m6 0h0m1 0h0m2 0h0m7 0h0m1 0h0m2 0h0m3 0h0m2 0h0m7 0h0m2 0h0m4 0h0m4 0h0m2 0h0m7 0h0m1 0h0m3 0h0m-55 1h0m3 0h0m4 0h0m6 0h0m5 0h0m1 0h0m5 0h0m3 0h0m3 0h0m4 0h0m3 0h0m9 0h0m1 0h0m9 0h0m-60 1h0m4 0h0m5 0h0m4 0h0m3 0h0m3 0h0m7 0h0m3 0h0m4 0h0m2 0h0m5 0h0m1 0h0m3 0h0m2 0h0m0 0h0m2 0h0m6 0h0m2 0h0m-58 1h0m4 0h0m4 0h0m2 0h0m7 0h0m4 0h0m1 0h0m7 0h0m21 0h0m2 0h0m2 0h0m-58 1h0m2 0h0m3 0h0m2 0h0m8 0h0m2 0h0m3 0h0m10 0h0m2 0h0m2 0h0m3 0h0m2 0h0m2 0h0m3 0h0m1 0h0m4 0h0m4 0h0m-44 1h0m3 0h0m0 0h0m9 0h0m7 0h0m2 0h0m6 0h0m2 0h0m3 0h0m3 0h0m2 0h0m2 0h0m2 0h0m2 0h0m2 0h0m2 0h0m-45 1h0m3 0h0m1 0h0m1 0h0m1 0h0m4 0h0m3 0h0m1 0h0m2 0h0m6 0h0m1 0h0m1 0h0m4 0h0m7 0h0m3 0h0m3 0h0m8 0h0m-52 1h0m3 0h0m7 0h0m2 0h0m4 0h0m4 0h0m2 0h0m11 0h0m2 0h0m5 0h0m-32 1h0m14 0h0m1 0h0m5 0h0m1 0h0m3 0h0m2 0h0m1 0h0m2 0h0m-34 1h0m3 0h0m3 0h0m2 0h0m2 0h0m2 0h0m3 0h0m2 0h0m5 0h0m4 0h0m10 0h0m2 0h0m4 0h0m-31 1h0m4 0h0m5 0h0m3 0h0m4 0h0m3 0h0m4 0h0m-29 1h0m4 0h0m13 0h0m9 0h0m4 1h0m-16 1h0"/>
<path stroke="#dfaab5" d="M241 747h0m-10 1h0m10 1h0m-8 1h0m2 0h0m1 0h0m3 0h0m3 0h0m5 0h0m1 0h0m3 0h0m1 0h0m-23 1h0m1 0h0m5 0h0m3 0h0m1 0h0m2 0h0m3 0h0m2 0h0m4 0h0m1 0h0m3 0h0m2 0h0m1 0h0m2 0h0m-25 1h0m7 0h0m7 0h0m8 0h0m3 0h0m3 0h0m3 0h0m-35 1h0m9 0h0m11 0h0m4 0h0m7 0h0m2 0h0m-30 1h0m1 0h0m3 0h0m4 0h0m3 0h0m3 0h0m1 0h0m8 0h0m2 0h0m2 0h0m-30 1h0m2 0h0m1 0h0m5 0h0m1 0h0m4 0h0m2 0h0m3 0h0m5 0h0m3 0h0m6 0h0m4 0h0m-33 1h0m2 0h0m7 0h0m2 0h0m4 0h0m2 0h0m2 0h0m1 0h0m12 0h0m3 0h0m-37 1h0m6 0h0m4 0h0m9 0h0m5 0h0m3 0h0m3 0h0m2 0h0m-28 1h0m4 0h0m1 0h0m3 0h0m2 0h0m2 0h0m2 0h0m3 0h0m3 0h0m1 0h0m0 0h0m1 0h0m5 0h0m3 0h0m0 0h0m-36 1h0m2 0h0m2 0h0m4 0h0m5 0h0m5 0h0m12 0h0m5 0h0m4 0h0m-38 1h0m2 0h0m2 0h0m10 0h0m3 0h0m4 0h0m15 0h0m3 0h0m2 0h0m-42 1h0m7 0h0m3 0h0m2 0h0m0 0h0m2 0h0m6 0h0m4 0h0m3 0h0m1 0h0m3 0h0m1 0h0m2 0h0m-33 1h0m4 0h0m3 0h0m7 0h0m4 0h0m3 0h0m2 0h0m1 0h0m4 0h0m1 0h0m3 0h0m2 0h0m5 0h0m-39 1h0m3 0h0m2 0h0m5 0h0m6 0h0m7 0h0m2 0h0m8 0h0m4 0h0m2 0h0m-41 1h0m6 0h0m2 0h0m2 0h0m4 0h0m2 0h0m2 0h0m2 0h0m3 0h0m7 0h0m12 0h0m-38 1h0m8 0h0m1 0h0m9 0h0m7 0h0m0 0h0m5 0h0m2 0h0m2 0h0m2 0h0m-36 1h0m2 0h0m1 0h0m2 0h0m2 0h0m9 0h0m4 0h0m1 0h0m4 0h0m3 0h0m8 0h0m2 0h0m-34 1h0m2 0h0m10 0h0m8 0h0m0 0h0m4 0h0m6 0h0m-37 1h0m6 0h0m5 0h0m5 0h0m1 0h0m5 0h0m1 0h0m1 0h0m3 0h0m6 0h0m0 0h0m0 0h0m6 0h0m2 0h0m-39 1h0m3 0h0m3 0h0m7 0h0m2 0h0m1 0h0m17 0h0m2 0h0m3 0h0m-33 1h0m3 0h0m3 0h0m2 0h0m6 0h0m3 0h0m1 0h0m5 0h0m1 0h0m2 0h0m2 0h0m1 0h0m-35 1h0m3 0h0m2 0h0m1 0h0m2 0h0m2 0h0m2 0h0m5 0h0m2 0h0m2 0h0m2 0h0m4 0h0m10 0h0m2 0h0m1 0h0m-38 1h0m6 0h0m9 0h0m5 0h0m6 0h0m2 0h0m1 0h0m3 0h0m1 0h0m7 0h0m-42 1h0m4 0h0m5 0h0m5 0h0m6 0h0m3 0h0m3 0h0m3 0h0m12 0h0m-38 1h0m1 0h0m3 0h0m1 0h0m2 0h0m2 0h0m2 0h0m2 0h0m3 0h0m2 0h0m1 0h0m2 0h0m3 0h0m10 0h0m1 0h0m0 0h0m-37 1h0m18 0h0m9 0h0m1 0h0m2 0h0m5 0h0m5 0h0m-38 1h0m5 0h0m1 0h0m6 0h0m5 0h0m3 0h0m3 0h0m6 0h0m5 0h0m3 0h0m-41 1h0m3 0h0m0 0h0m3 0h0m10 0h0m6 0h0m2 0h0m9 0h0m3 0h0m3 0h0m-42 1h0m2 0h0m6 0h0m4 0h0m4 0h0m3 0h0m2 0h0m6 0h0m5 0h0m5 0h0m2 0h0m-34 1h0m2 0h0m3 0h0m0 0h0m3 0h0m2 0h0m7 0h0m1 0h0m5 0h0m6 0h0m2 0h0m7 0h0m-37 1h0m6 0h0m4 0h0m3 0h0m5 0h0m2 0h0m2 0h0m3 0h0m0 0h0m7 0h0m1 0h0m4 0h0m1 0h0m-36 1h0m8 0h0m1 0h0m7 0h0m2 0h0m3 0h0m5 0h0m2 0h0m4 0h0m0 0h0m-37 1h0m2 0h0m1 0h0m4 0h0m3 0h0m2 0h0m6 0h0m1 0h0m9 0h0m2 0h0m1 0h0m9 0h0m-34 1h0m2 0h0m2 0h0m3 0h0m2 0h0m1 0h0m4 0h0m4 0h0m3 0h0m2 0h0m4 0h0m2 0h0m3 0h0m-36 1h0m1 0h0m2 0h0m14 0h0m0 0h0m4 0h0m8 0h0m8 0h0m-38 1h0m9 0h0m3 0h0m3 0h0m6 0h0m9 0h0m-27 1h0m2 0h0m1 0h0m4 0h0m2 0h0m5 0h0m5 0h0m1 0h0m1 0h0m2 0h0m1 0h0m5 0h0m2 0h0m0 0h0m3 0h0m-38 1h0m7 0h0m2 0h0m2 0h0m3 0h0m5 0h0m5 0h0m5 0h0m4 0h0m3 0h0m-34 1h0m5 0h0m2 0h0m5 0h0m2 0h0m1 0h0m4 0h0m0 0h0m1 0h0m7 0h0m2 0h0m-14 1h0m7 0h0m2 0h0m3 0h0m3 0h0m3 0h0m0 0h0m-16 1h0m13 0h0m2 0h0m-7 1h0m-2 1h0m3 0h0"/>
<path stroke="#d6788f" d="M310 667h0m-5 1h0m1 0h0m3 0h0m3 0h0m3 0h0m-11 1h0m1 0h0m9 0h0m4 0h0m-10 1h0m2 0h0m1 0h0m-10 1h0m2 0h0m2 0h0m1 0h0m3 0h0m6 0h0m-20 1h0m1 0h0m1 0h0m0 0h0m1 0h0m13 0h0m1 0h0m1 0h0m2 0h0m1 0h0m-15 1h0m3 0h0m4 0h0m1 0h0m8 0h0m2 0h0m-19 1h0m0 0h0m5 0h0m3 0h0m4 0h0m3 0h0m0 0h0m5 0h0m-24 1h0m2 0h0m4 0h0m3 0h0m5 0h0m-18 1h0m2 0h0m1 0h0m3 0h0m7 0h0m1 0h0m7 0h0m5 0h0m4 0h0m2 0h0m-33 1h0m8 0h0m1 0h0m4 0h0m3 0h0m2 0h0m5 0h0m2 0h0m4 0h0m7 0h0m-38 1h0m1 0h0m2 0h0m2 0h0m12 0h0m2 0h0m3 0h0m1 0h0m1 0h0m3 0h0m4 0h0m2 0h0m-38 1h0m4 0h0m7 0h0m3 0h0m1 0h0m1 0h0m2 0h0m2 0h0m11 0h0m4 0h0m2 0h0m4 0h0m-42 1h0m4 0h0m2 0h0m2 0h0m16 0h0m4 0h0m2 0h0m2 0h0m5 0h0m-39 1h0m3 0h0m9 0h0m2 0h0m1 0h0m1 0h0m2 0h0m2 0h0m3 0h0m1 0h0m5 0h0m7 0h0m7 0h0m-50 1h0m4 0h0m2 0h0m3 0h0m6 0h0m1 0h0m12 0h0m3 0h0m4 0h0m2 0h0m4 0h0m6 0h0m5 0h0m-51 1h0m2 0h0m1 0h0m3 0h0m3 0h0m2 0h0m2 0h0m0 0h0m3 0h0m1 0h0m1 0h0m7 0h0m0 0h0m5 0h0m2 0h0m4 0h0m1 0h0m5 0h0m2 0h0m4 0h0m-43 1h0m3 0h0m12 0h0m6 0h0m8 0h0m5 0h0m2 0h0m3 0h0m3 0h0m2 0h0m4 0h0m-44 1h0m2 0h0m8 0h0m2 0h0m3 0h0m4 0h0m6 0h0m3 0h0m6 0h0m1 0h0m4 0h0m-50 1h0m5 0h0m3 0h0m1 0h0m6 0h0m2 0h0m2 0h0m8 0h0m2 0h0m2 0h0m2 0h0m5 0h0m6 0h0m3 0h0m-48 1h0m2 0h0m1 0h0m5 0h0m3 0h0m2 0h0m4 0h0m3 0h0m0 0h0m3 0h0m9 0h0m1 0h0m5 0h0m1 0h0m2 0h0m7 0h0m2 0h0m-46 1h0m3 0h0m20 0h0m1 0h0m1 0h0m7 0h0m3 0h0m4 0h0m3 0h0m5 0h0m-54 1h0m6 0h0m5 0h0m5 0h0m2 0h0m2 0h0m0 0h0m14 0h0m1 0h0m2 0h0m8 0h0m4 0h0m-46 1h0m1 0h0m4 0h0m2 0h0m3 0h0m0 0h0m10 0h0m1 0h0m1 0h0m1 0h0m2 0h0m2 0h0m0 0h0m7 0h0m2 0h0m5 0h0m2 0h0m1 0h0m1 0h0m4 0h0m-53 1h0m3 0h0m6 0h0m3 0h0m5 0h0m5 0h0m6 0h0m5 0h0m2 0h0m7 0h0m1 0h0m2 0h0m6 0h0m-53 1h0m8 0h0m3 0h0m5 0h0m1 0h0m3 0h0m0 0h0m1 0h0m5 0h0m3 0h0m7 0h0m5 0h0m2 0h0m1 0h0m6 0h0m-51 1h0m2 0h0m9 0h0m14 0h0m3 0h0m4 0h0m4 0h0m3 0h0m2 0h0m7 0h0m2 0h0m4 0h0m1 0h0m-54 1h0m3 0h0m1 0h0m2 0h0m1 0h0m2 0h0m10 0h0m2 0h0m2 0h0m9 0h0m0 0h0m3 0h0m3 0h0m12 0h0m1 0h0m3 0h0m2 0h0m-59 1h0m1 0h0m8 0h0m5 0h0m2 0h0m1 0h0m3 0h0m5 0h0m3 0h0m1 0h0m2 0h0m2 0h0m1 0h0m8 0h0m1 0h0m1 0h0m3 0h0m1 0h0m3 0h0m-46 1h0m5 0h0m7 0h0m11 0h0m3 0h0m5 0h0m1 0h0m2 0h0m4 0h0m4 0h0m4 0h0m2 0h0m2 0h0m-52 1h0m1 0h0m3 0h0m2 0h0m4 0h0m0 0h0m3 0h0m3 0h0m1 0h0m3 0h0m10 0h0m12 0h0m4 0h0m0 0h0m8 0h0m-58 1h0m6 0h0m4 0h0m4 0h0m3 0h0m7 0h0m3 0h0m7 0h0m7 0h0m2 0h0m4 0h0m4 0h0m3 0h0m2 0h0m2 0h0m2 0h0m-57 1h0m6 0h0m7 0h0m2 0h0m1 0h0m4 0h0m5 0h0m3 0h0m2 0h0m4 0h0m0 0h0m3 0h0m1 0h0m4 0h0m5 0h0m5 0h0m3 0h0m-57 1h0m2 0h0m2 0h0m3 0h0m1 0h0m2 0h0m3 0h0m4 0h0m3 0h0m6 0h0m4 0h0m3 0h0m5 0h0m5 0h0m5 0h0m4 0h0m-55 1h0m4 0h0m2 0h0m4 0h0m4 0h0m2 0h0m5 0h0m6 0h0m3 0h0m1 0h0m4 0h0m0 0h0m3 0h0m2 0h0m2 0h0m1 0h0m1 0h0m4 0h0m1 0h0m4 0h0m6 0h0m-58 1h0m11 0h0m7 0h0m4 0h0m2 0h0m3 0h0m1 0h0m4 0h0m14 0h0m5 0h0m4 0h0m1 0h0m-53 1h0m10 0h0m8 0h0m2 0h0m6 0h0m6 0h0m2 0h0m3 0h0m8 0h0m2 0h0m4 0h0m-53 1h0m6 0h0m1 0h0m1 0h0m2 0h0m4 0h0m1 0h0m4 0h0m5 0h0m1 0h0m1 0h0m2 0h0m2 0h0m3 0h0m7 0h0m3 0h0m2 0h0m0 0h0m2 0h0m3 0h0m4 0h0m1 0h0m-50 1h0m6 0h0m13 0h0m12 0h0m1 0h0m5 0h0m7 0h0m2 0h0m3 0h0m-56 1h0m0 0h0m2 0h0m2 0h0m1 0h0m2 0h0m2 0h0m3 0h0m2 0h0m2 0h0m1 0h0m1 0h0m3 0h0m1 0h0m1 0h0m6 0h0m2 0h0m2 0h0m2 0h0m0 0h0m6 0h0m6 0h0m3 0h0m-44 1h0m3 0h0m4 0h0m3 0h0m3 0h0m5 0h0m2 0h0m4 0h0m2 0h0m2 0h0m5 0h0m1 0h0m5 0h0m3 0h0m5 0h0m1 0h0m-56 1h0m3 0h0m1 0h0m7 0h0m5 0h0m18 0h0m1 0h0m4 0h0m4 0h0m2 0h0m0 0h0m7 0h0m-46 1h0m7 0h0m1 0h0m4 0h0m3 0h0m2 0h0m1 0h0m3 0h0m2 0h0m2 0h0m6 0h0m11 0h0m1 0h0m-48 1h0m2 0h0m3 0h0m5 0h0m12 0h0m3 0h0m2 0h0m6 0h0m6 0h0m2 0h0m3 0h0m-35 1h0m5 0h0m1 0h0m2 0h0m1 0h0m1 0h0m5 0h0m0 0h0m5 0h0m2 0h0m5 0h0m2 0h0m1 0h0m-35 1h0m1 0h0m3 0h0m3 0h0m4 0h0m5 0h0m2 0h0m4 0h0m2 0h0m2 0h0m2 0h0m13 0h0m-44 1h0m1 0h0m3 0h0m4 0h0m4 0h0m-6 1h0m2 0h0m1 0h0m5 0h0m4 0h0m4 0h0m1 0h0m2 0h0m-22 1h0m13 0h0m-11 1h0m1 0h0m3 0h0m1 0h0m14 0h0m-19 1h0m2 1h0"/>
<path stroke="#c4466c" d="M256 606h0m-13 2h0m2 1h0m12 0h0m2 0h0m8 0h0m1 0h0m-33 1h0m5 0h0m3 0h0m2 0h0m3 0h0m3 0h0m0 0h0m2 0h0m11 0h0m5 0h0m1 0h0m2 0h0m3 0h0m3 0h0m1 0h0m-41 1h0m9 0h0m8 0h0m2 0h0m1 0h0m2 0h0m4 0h0m2 0h0m6 0h0m9 0h0m4 0h0m-46 1h0m5 0h0m1 0h0m3 0h0m9 0h0m2 0h0m10 0h0m4 0h0m3 0h0m2 0h0m2 0h0m-46 1h0m0 0h0m1 0h0m3 0h0m2 0h0m1 0h0m9 0h0m2 0h0m1 0h0m2 0h0m7 0h0m1 0h0m2 0h0m1 0h0m2 0h0m1 0h0m3 0h0m0 0h0m10 0h0m-50 1h0m7 0h0m4 0h0m7 0h0m5 0h0m2 0h0m1 0h0m4 0h0m5 0h0m9 0h0m0 0h0m6 0h0m0 0h0m3 0h0m-48 1h0m8 0h0m2 0h0m1 0h0m4 0h0m0 0h0m6 0h0m2 0h0m12 0h0m8 0h0m2 0h0m-51 1h0m2 0h0m5 0h0m5 0h0m3 0h0m1 0h0m6 0h0m6 0h0m2 0h0m3 0h0m2 0h0m3 0h0m1 0h0m8 0h0m7 0h0m1 0h0m-54 1h0m3 0h0m0 0h0m1 0h0m2 0h0m1 0h0m2 0h0m1 0h0m7 0h0m3 0h0m3 0h0m0 0h0m2 0h0m1 0h0m17 0h0m0 0h0m2 0h0m2 0h0m-49 1h0m11 0h0m3 0h0m2 0h0m2 0h0m12 0h0m2 0h0m4 0h0m2 0h0m1 0h0m1 0h0m4 0h0m4 0h0m1 0h0m7 0h0m-43 1h0m3 0h0m3 0h0m1 0h0m2 0h0m2 0h0m2 0h0m1 0h0m8 0h0m5 0h0m2 0h0m6 0h0m4 0h0m2 0h0m3 0h0m-56 1h0m3 0h0m1 0h0m2 0h0m3 0h0m1 0h0m7 0h0m13 0h0m1 0h0m1 0h0m1 0h0m1 0h0m8 0h0m4 0h0m7 0h0m2 0h0m4 0h0m-60 1h0m6 0h0m6 0h0m4 0h0m5 0h0m12 0h0m5 0h0m5 0h0m2 0h0m13 0h0m4 0h0m-64 1h0m6 0h0m3 0h0m2 0h0m2 0h0m3 0h0m5 0h0m3 0h0m2 0h0m0 0h0m2 0h0m2 0h0m1 0h0m2 0h0m7 0h0m1 0h0m2 0h0m3 0h0m2 0h0m3 0h0m1 0h0m1 0h0m2 0h0m-52 1h0m2 0h0m15 0h0m4 0h0m7 0h0m5 0h0m3 0h0m4 0h0m5 0h0m1 0h0m-48 1h0m1 0h0m3 0h0m1 0h0m1 0h0m3 0h0m3 0h0m0 0h0m1 0h0m4 0h0m4 0h0m6 0h0m0 0h0m2 0h0m9 0h0m1 0h0m5 0h0m3 0h0m2 0h0m2 0h0m1 0h0m1 0h0m3 0h0m0 0h0m-47 1h0m6 0h0m2 0h0m5 0h0m1 0h0m11 0h0m2 0h0m6 0h0m12 0h0m5 0h0m-58 1h0m1 0h0m6 0h0m4 0h0m5 0h0m2 0h0m2 0h0m4 0h0m2 0h0m3 0h0m1 0h0m4 0h0m3 0h0m13 0h0m2 0h0m2 0h0m-57 1h0m6 0h0m2 0h0m3 0h0m1 0h0m4 0h0m9 0h0m6 0h0m4 0h0m5 0h0m2 0h0m3 0h0m2 0h0m1 0h0m4 0h0m8 0h0m-57 1h0m2 0h0m2 0h0m2 0h0m2 0h0m2 0h0m8 0h0m8 0h0m2 0h0m3 0h0m4 0h0m2 0h0m5 0h0m1 0h0m1 0h0m3 0h0m2 0h0m2 0h0m2 0h0m2 0h0m-58 1h0m15 0h0m2 0h0m2 0h0m6 0h0m0 0h0m2 0h0m2 0h0m8 0h0m0 0h0m4 0h0m18 0h0m2 0h0m-59 1h0m1 0h0m4 0h0m6 0h0m4 0h0m2 0h0m2 0h0m1 0h0m5 0h0m4 0h0m1 0h0m3 0h0m3 0h0m11 0h0m5 0h0m4 0h0m3 0h0m-61 1h0m2 0h0m9 0h0m2 0h0m2 0h0m0 0h0m7 0h0m2 0h0m6 0h0m10 0h0m2 0h0m2 0h0m3 0h0m2 0h0m2 0h0m1 0h0m2 0h0m1 0h0m-56 1h0m6 0h0m2 0h0m1 0h0m10 0h0m1 0h0m7 0h0m1 0h0m7 0h0m2 0h0m2 0h0m2 0h0m2 0h0m2 0h0m2 0h0m4 0h0m6 0h0m3 0h0m1 0h0m-62 1h0m2 0h0m3 0h0m2 0h0m5 0h0m2 0h0m2 0h0m2 0h0m6 0h0m2 0h0m7 0h0m15 0h0m-45 1h0m5 0h0m12 0h0m8 0h0m3 0h0m1 0h0m4 0h0m3 0h0m3 0h0m2 0h0m7 0h0m3 0h0m1 0h0m3 0h0m2 0h0m2 0h0m-60 1h0m6 0h0m1 0h0m1 0h0m4 0h0m0 0h0m5 0h0m3 0h0m1 0h0m3 0h0m8 0h0m2 0h0m1 0h0m3 0h0m3 0h0m3 0h0m2 0h0m5 0h0m1 0h0m3 0h0m2 0h0m-58 1h0m5 0h0m0 0h0m5 0h0m6 0h0m11 0h0m2 0h0m1 0h0m4 0h0m7 0h0m4 0h0m8 0h0m-52 1h0m1 0h0m5 0h0m3 0h0m7 0h0m3 0h0m4 0h0m4 0h0m2 0h0m2 0h0m2 0h0m7 0h0m1 0h0m2 0h0m6 0h0m7 0h0m2 0h0m-55 1h0m3 0h0m3 0h0m4 0h0m1 0h0m7 0h0m3 0h0m0 0h0m7 0h0m3 0h0m6 0h0m7 0h0m6 0h0m0 0h0m2 0h0m-45 1h0m4 0h0m8 0h0m3 0h0m4 0h0m5 0h0m1 0h0m4 0h0m3 0h0m6 0h0m9 0h0m-56 1h0m0 0h0m4 0h0m3 0h0m4 0h0m1 0h0m3 0h0m1 0h0m2 0h0m2 0h0m2 0h0m2 0h0m3 0h0m3 0h0m4 0h0m5 0h0m3 0h0m1 0h0m1 0h0m2 0h0m4 0h0m0 0h0m-44 1h0m3 0h0m4 0h0m3 0h0m9 0h0m3 0h0m4 0h0m3 0h0m3 0h0m8 0h0m1 0h0m7 0h0m-51 1h0m5 0h0m3 0h0m3 0h0m4 0h0m6 0h0m5 0h0m1 0h0m3 0h0m12 0h0m1 0h0m3 0h0m-46 1h0m4 0h0m5 0h0m9 0h0m2 0h0m13 0h0m0 0h0m4 0h0m2 0h0m2 0h0m7 0h0m-46 1h0m1 0h0m5 0h0m3 0h0m2 0h0m1 0h0m9 0h0m4 0h0m1 0h0m7 0h0m4 0h0m2 0h0m2 0h0m4 0h0m-40 1h0m12 0h0m6 0h0m5 0h0m3 0h0m5 0h0m1 0h0m3 0h0m3 0h0m-41 1h0m8 0h0m1 0h0m2 0h0m7 0h0m2 0h0m3 0h0m3 0h0m2 0h0m2 0h0m2 0h0m5 0h0m5 0h0m-41 1h0m1 0h0m2 0h0m0 0h0m3 0h0m5 0h0m2 0h0m2 0h0m3 0h0m3 0h0m7 0h0m2 0h0m-23 1h0m3 0h0m6 0h0m4 0h0m2 0h0m1 0h0m3 0h0m8 0h0m-31 1h0m2 0h0m5 0h0m7 0h0m4 0h0m4 0h0m4 0h0m2 0h0m3 0h0m-28 1h0m3 0h0m3 0h0m3 0h0m4 0h0m4 0h0m4 0h0m-22 1h0m2 0h0m1 0h0m6 0h0m3 0h0m9 0h0m2 0h0m5 0h0m-22 1h0m5 0h0m4 0h0m1 0h0m3 0h0m2 0h0m5 0h0m-10 1h0m1 0h0m6 0h0m3 0h0m-23 1h0m3 0h0m1 0h0m2 0h0m0 0h0m3 0h0m1 0h0m1 0h0m2 0h0m3 0h0m1 0h0m-16 1h0m3 0h0"/>
<path stroke="#3cb54a" d="M164 753h0m-2 3h0m2 0h0m1 0h0m3 0h0m-15 2h0m8 0h0m8 0h0m2 0h0m-14 1h0m3 0h0m1 0h0m3 0h0m2 0h0m0 0h0m-3 1h0m5 0h0m2 0h0m2 0h0m-15 1h0m2 0h0m8 0h0m-21 1h0m7 0h0m1 0h0m7 0h0m2 0h0m2 0h0m5 0h0m-21 1h0m5 0h0m1 0h0m8 0h0m5 0h0m2 0h0m-19 1h0m3 0h0m3 0h0m2 0h0m3 0h0m5 0h0m6 0h0m0 0h0m-20 1h0m12 0h0m2 0h0m3 0h0m2 0h0m-24 1h0m8 0h0m0 0h0m2 0h0m2 0h0m3 0h0m0 0h0m4 0h0m3 0h0m-23 1h0m5 0h0m2 0h0m5 0h0m13 0h0m2 0h0m3 0h0m-33 1h0m10 0h0m4 0h0m2 0h0m3 0h0m5 0h0m7 0h0m1 0h0m4 0h0m-33 1h0m4 0h0m2 0h0m3 0h0m11 0h0m3 0h0m2 0h0m-27 1h0m4 0h0m9 0h0m1 0h0m1 0h0m2 0h0m6 0h0m3 0h0m2 0h0m11 0h0m-34 1h0m2 0h0m2 0h0m2 0h0m8 0h0m2 0h0m2 0h0m6 0h0m3 0h0m3 0h0m1 0h0m-32 1h0m1 0h0m3 0h0m4 0h0m2 0h0m1 0h0m8 0h0m1 0h0m2 0h0m3 0h0m1 0h0m8 0h0m-37 1h0m8 0h0m8 0h0m2 0h0m1 0h0m15 0h0m4 0h0m-32 1h0m2 0h0m2 0h0m4 0h0m4 0h0m13 0h0m3 0h0m4 0h0m-32 1h0m3 0h0m2 0h0m8 0h0m2 0h0m3 0h0m2 0h0m0 0h0m3 0h0m4 0h0m7 0h0m-36 1h0m7 0h0m1 0h0m2 0h0m9 0h0m9 0h0m-24 1h0m6 0h0m2 0h0m2 0h0m3 0h0m1 0h0m2 0h0m3 0h0m2 0h0m4 0h0m5 0h0m-34 1h0m2 0h0m4 0h0m2 0h0m4 0h0m7 0h0m9 0h0m0 0h0m3 0h0m2 0h0m-31 1h0m3 0h0m3 0h0m19 0h0m5 0h0m2 0h0m2 0h0m-36 1h0m11 0h0m2 0h0m0 0h0m7 0h0m4 0h0m0 0h0m1 0h0m3 0h0m1 0h0m1 0h0m-28 1h0m6 0h0m17 0h0m6 0h0m2 0h0m2 0h0m-32 1h0m1 0h0m1 0h0m2 0h0m3 0h0m2 0h0m13 0h0m10 0h0m-34 1h0m9 0h0m6 0h0m6 0h0m3 0h0m6 0h0m-23 1h0m1 0h0m15 0h0m4 0h0m-27 1h0m2 0h0m2 0h0m28 0h0m3 0h0m-32 1h0m3 0h0m2 0h0m9 0h0m7 0h0m-23 1h0m30 0h0m-29 1h0m22 0h0m-23 1h0m-3 2h0m4 3h0m2 5h0m0 1h0m2 1h0m-5 6h0m2 2h0m0 2h0m1 2h0m24 0h0m-3 2h0m3 1h0m-6 1h0m2 0h0m6 0h0m-28 1h0m1 0h0m17 0h0m5 0h0m2 0h0m2 0h0m-26 1h0m9 0h0m9 0h0m5 0h0m4 0h0m-22 1h0m8 0h0m1 0h0m2 0h0m4 0h0m5 0h0m-22 1h0m3 0h0m6 0h0m1 0h0m2 0h0m4 0h0m5 0h0m2 0h0m-26 1h0m5 0h0m5 0h0m7 0h0m4 0h0m-19 1h0m3 0h0m2 0h0m3 0h0m2 0h0m3 0h0m2 0h0m4 0h0m1 0h0m-21 1h0m6 0h0m2 0h0m9 0h0m-10 1h0m4 0h0m3 0h0m3 0h0m2 0h0m-20 1h0m5 0h0m5 0h0m3 0h0m4 0h0m4 0h0m-12 1h0m2 0h0m2 0h0m1 0h0m-5 1h0"/>
<path stroke="#86c98e" d="M142 598h0m6 0h0m-5 1h0m-1 1h0m-2 1h0m-1 1h0m3 0h0m1 0h0m3 0h0m-8 1h0m4 0h0m5 0h0m-10 1h0m15 0h0m-14 1h0m2 0h0m5 0h0m1 0h0m2 0h0m2 0h0m-15 1h0m11 0h0m-7 1h0m3 0h0m1 0h0m4 0h0m1 0h0m1 0h0m1 0h0m1 0h0m-10 1h0m5 0h0m-3 1h0m2 0h0m2 0h0m5 0h0m2 0h0m2 0h0m-15 1h0m9 0h0m2 0h0m1 0h0m5 0h0m-16 1h0m2 0h0m3 0h0m1 0h0m7 0h0m3 0h0m-8 1h0m1 0h0m2 0h0m1 0h0m3 0h0m-9 1h0m9 0h0m4 0h0m0 0h0m-17 1h0m1 0h0m6 0h0m5 0h0m2 0h0m-11 1h0m3 0h0m2 0h0m3 0h0m1 0h0m5 0h0m-15 1h0m2 0h0m0 0h0m2 0h0m4 0h0m2 0h0m1 0h0m5 0h0m-15 1h0m5 0h0m6 0h0m1 0h0m-10 1h0m8 0h0m3 0h0m2 0h0m-11 1h0m1 1h0m5 0h0m1 0h0m1 0h0m1 0h0m1 0h0m1 0h0m1 0h0m-13 1h0m8 0h0m2 0h0m3 0h0m-9 1h0m2 0h0m6 0h0m4 0h0m-13 1h0m2 0h0m2 0h0m3 0h0m0 0h0m6 0h0m7 0h0m-20 1h0m1 0h0m7 0h0m4 0h0m-14 1h0m6 0h0m2 0h0m7 0h0m2 0h0m3 0h0m-15 1h0m3 0h0m3 0h0m7 0h0m-12 1h0m1 0h0m5 0h0m2 0h0m2 0h0m5 0h0m-11 1h0m5 0h0m2 0h0m-11 1h0m5 0h0m3 0h0m4 0h0m4 0h0m-15 1h0m1 0h0m2 0h0m3 0h0m-7 1h0m5 0h0m-2 1h0m1 1h0m-3 1h0m5 0h0m-4 1h0m2 2h0"/>
<path stroke="#bcd7bf" d="M155 829h0m-12 2h0m13 0h0m-16 1h0m5 0h0m5 0h0m1 0h0m3 0h0m-9 1h0m1 0h0m4 0h0m2 0h0m4 0h0m16 0h0m-37 1h0m14 0h0m5 0h0m3 0h0m2 0h0m0 0h0m2 0h0m-21 1h0m3 0h0m3 0h0m2 0h0m8 0h0m9 0h0m-29 1h0m2 0h0m5 0h0m3 0h0m6 0h0m2 0h0m9 0h0m-22 1h0m4 0h0m3 0h0m3 0h0m5 0h0m3 0h0m1 0h0m4 0h0m2 0h0m2 0h0m-35 1h0m1 0h0m3 0h0m2 0h0m3 0h0m1 0h0m2 0h0m4 0h0m3 0h0m1 0h0m7 0h0m2 0h0m6 0h0m-32 1h0m11 0h0m0 0h0m1 0h0m5 0h0m3 0h0m1 0h0m1 0h0m6 0h0m-30 1h0m6 0h0m2 0h0m9 0h0m4 0h0m4 0h0m4 0h0m4 0h0m4 0h0m-27 1h0m3 0h0m4 0h0m5 0h0m6 0h0m3 0h0m4 0h0m-36 1h0m3 0h0m1 0h0m2 0h0m2 0h0m2 0h0m3 0h0m3 0h0m9 0h0m1 0h0m3 0h0m6 0h0m-34 1h0m1 0h0m7 0h0m8 0h0m2 0h0m2 0h0m3 0h0m1 0h0m5 0h0m-25 1h0m2 0h0m5 0h0m1 0h0m9 0h0m6 0h0m2 0h0m1 0h0m2 0h0m2 0h0m-31 1h0m5 0h0m3 0h0m3 0h0m1 0h0m2 0h0m4 0h0m6 0h0m1 0h0m4 0h0m1 0h0m-34 1h0m6 0h0m13 0h0m1 0h0m5 0h0m6 0h0m-25 1h0m5 0h0m2 0h0m2 0h0m3 0h0m6 0h0m2 0h0m2 0h0m-21 1h0m3 0h0m11 0h0m0 0h0m6 0h0m2 0h0m5 0h0m3 0h0m-27 1h0m5 0h0m1 0h0m3 0h0m-10 1h0m0 0h0m3 0h0m4 0h0m2 0h0m4 0h0m2 0h0m1 0h0m4 0h0m2 0h0m2 0h0m1 0h0m3 0h0m-23 1h0m6 0h0m2 0h0m2 0h0m4 0h0m1 0h0m5 0h0m1 0h0m3 0h0m-28 1h0m2 0h0m2 0h0m4 0h0m3 0h0m4 0h0m4 0h0m4 0h0m2 0h0m2 0h0m-20 1h0m5 0h0m5 0h0m3 0h0m3 0h0m-16 1h0m2 0h0m3 0h0m4 0h0m2 0h0m2 0h0m4 0h0m1 0h0m-24 1h0m2 0h0m3 0h0m3 0h0m5 0h0m7 0h0m3 0h0m-17 1h0m5 0h0m14 0h0m-25 1h0m3 0h0m5 0h0m2 0h0m-9 1h0m4 0h0m2 0h0m-4 1h0m3 0h0m-5 1h0m6 0h0m-3 1h0m2 0h0m-7 2h0m3 0h0m1 0h0m1 1h0m2 0h0m2 0h0m-8 1h0m2 0h0m5 0h0m2 0h0m-7 1h0m2 1h0m3 0h0m-6 3h0"/>
<path stroke="#e3cbc0" d="M162 788h0m33 0h0m-40 1h0m16 0h0m19 0h0m1 0h0m2 0h0m3 0h0m-43 1h0m3 0h0m11 0h0m19 0h0m12 0h0m1 0h0m2 0h0m5 0h0m-56 1h0m1 0h0m8 0h0m4 0h0m4 0h0m0 0h0m3 0h0m9 0h0m2 0h0m14 0h0m2 0h0m5 0h0m4 0h0m-60 1h0m6 0h0m6 0h0m1 0h0m4 0h0m7 0h0m3 0h0m2 0h0m1 0h0m0 0h0m7 0h0m1 0h0m2 0h0m1 0h0m2 0h0m2 0h0m1 0h0m4 0h0m3 0h0m4 0h0m4 0h0m1 0h0m-60 1h0m12 0h0m6 0h0m6 0h0m5 0h0m3 0h0m8 0h0m4 0h0m2 0h0m8 0h0m4 0h0m4 0h0m-64 1h0m5 0h0m3 0h0m9 0h0m1 0h0m2 0h0m2 0h0m1 0h0m3 0h0m1 0h0m5 0h0m3 0h0m0 0h0m3 0h0m3 0h0m3 0h0m7 0h0m3 0h0m4 0h0m4 0h0m2 0h0m6 0h0m3 0h0m-70 1h0m3 0h0m2 0h0m5 0h0m5 0h0m13 0h0m8 0h0m7 0h0m3 0h0m3 0h0m5 0h0m4 0h0m4 0h0m2 0h0m-65 1h0m8 0h0m1 0h0m11 0h0m1 0h0m6 0h0m0 0h0m8 0h0m7 0h0m1 0h0m0 0h0m3 0h0m3 0h0m0 0h0m4 0h0m5 0h0m11 0h0m-71 1h0m5 0h0m1 0h0m4 0h0m1 0h0m3 0h0m1 0h0m2 0h0m2 0h0m2 0h0m4 0h0m3 0h0m4 0h0m2 0h0m1 0h0m3 0h0m2 0h0m1 0h0m9 0h0m4 0h0m2 0h0m2 0h0m2 0h0m3 0h0m2 0h0m4 0h0m2 0h0m1 0h0m-73 1h0m2 0h0m3 0h0m8 0h0m1 0h0m3 0h0m4 0h0m14 0h0m7 0h0m8 0h0m2 0h0m9 0h0m1 0h0m6 0h0m0 0h0m2 0h0m4 0h0m-67 1h0m3 0h0m13 0h0m3 0h0m2 0h0m2 0h0m2 0h0m1 0h0m4 0h0m3 0h0m4 0h0m2 0h0m1 0h0m7 0h0m3 0h0m1 0h0m7 0h0m2 0h0m-58 1h0m3 0h0m2 0h0m2 0h0m3 0h0m1 0h0m5 0h0m19 0h0m4 0h0m4 0h0m2 0h0m0 0h0m4 0h0m3 0h0m4 0h0m5 0h0m1 0h0m-61 1h0m12 0h0m3 0h0m1 0h0m1 0h0m2 0h0m0 0h0m4 0h0m1 0h0m4 0h0m3 0h0m2 0h0m4 0h0m10 0h0m5 0h0m5 0h0m-56 1h0m2 0h0m3 0h0m3 0h0m2 0h0m3 0h0m12 0h0m4 0h0m1 0h0m4 0h0m0 0h0m5 0h0m2 0h0m3 0h0m1 0h0m2 0h0m7 0h0m7 0h0m2 0h0m-64 1h0m6 0h0m1 0h0m14 0h0m3 0h0m3 0h0m10 0h0m2 0h0m2 0h0m9 0h0m0 0h0m1 0h0m2 0h0m1 0h0m4 0h0m2 0h0m3 0h0m-69 1h0m8 0h0m9 0h0m4 0h0m4 0h0m4 0h0m1 0h0m4 0h0m3 0h0m13 0h0m2 0h0m7 0h0m2 0h0m2 0h0m3 0h0m1 0h0m6 0h0m-63 1h0m7 0h0m5 0h0m6 0h0m2 0h0m2 0h0m2 0h0m3 0h0m2 0h0m1 0h0m0 0h0m3 0h0m3 0h0m1 0h0m6 0h0m1 0h0m8 0h0m5 0h0m-61 1h0m9 0h0m4 0h0m3 0h0m14 0h0m6 0h0m8 0h0m7 0h0m1 0h0m2 0h0m5 0h0m-57 1h0m1 0h0m7 0h0m4 0h0m6 0h0m1 0h0m6 0h0m5 0h0m4 0h0m4 0h0m1 0h0m2 0h0m3 0h0m4 0h0m1 0h0m3 0h0m1 0h0m-48 1h0m1 0h0m4 0h0m3 0h0m3 0h0m5 0h0m2 0h0m3 0h0m3 0h0m1 0h0m2 0h0m5 0h0m8 0h0m10 0h0m2 0h0m-53 1h0m3 0h0m1 0h0m3 0h0m3 0h0m5 0h0m2 0h0m5 0h0m7 0h0m2 0h0m5 0h0m6 0h0m4 0h0m2 0h0m3 0h0m2 0h0m-45 1h0m4 0h0m2 0h0m10 0h0m3 0h0m0 0h0m8 0h0m6 0h0m2 0h0m0 0h0m5 0h0m1 0h0m-45 1h0m3 0h0m6 0h0m2 0h0m2 0h0m1 0h0m2 0h0m5 0h0m3 0h0m3 0h0m2 0h0m4 0h0m4 0h0m10 0h0m-47 1h0m4 0h0m1 0h0m0 0h0m6 0h0m21 0h0m9 0h0m1 0h0m6 0h0m-41 1h0m2 0h0m4 0h0m3 0h0m1 0h0m3 0h0m1 0h0m6 0h0m3 0h0m5 0h0m1 0h0m-27 1h0m1 0h0m5 0h0m3 0h0m3 0h0m3 0h0m3 0h0m4 0h0m3 0h0m3 0h0m-25 1h0m4 0h0m1 0h0m6 0h0m3 0h0m3 0h0m3 0h0m8 0h0m0 0h0m3 0h0m0 0h0m-16 1h0m3 0h0m1 0h0m5 0h0m7 0h0m-22 1h0m2 0h0m2 0h0m8 0h0m5 0h0m6 0h0m-28 1h0m13 0h0m3 0h0m3 0h0m8 1h0m-20 2h0"/>
<path stroke="#e8ad85" d="M220 634h0m0 1h0m4 0h0m-3 2h0m1 0h0m1 0h0m3 0h0m2 0h0m-11 1h0m2 0h0m1 0h0m6 0h0m1 0h0m-8 1h0m4 0h0m3 0h0m2 0h0m-11 1h0m7 0h0m5 0h0m2 0h0m1 0h0m-16 1h0m2 0h0m4 0h0m3 0h0m5 0h0m-2 1h0m6 0h0m2 0h0m-18 1h0m9 0h0m1 0h0m3 0h0m0 0h0m3 0h0m3 0h0m-17 1h0m1 0h0m2 0h0m9 0h0m5 0h0m-19 1h0m5 0h0m3 0h0m6 0h0m3 0h0m3 0h0m-22 1h0m2 0h0m2 0h0m4 0h0m6 0h0m7 0h0m4 0h0m-18 1h0m14 0h0m3 0h0m-19 1h0m2 0h0m0 0h0m2 0h0m1 0h0m1 0h0m4 0h0m0 0h0m1 0h0m2 0h0m3 0h0m3 0h0m-20 1h0m7 0h0m3 0h0m4 0h0m3 0h0m-20 1h0m4 0h0m3 0h0m8 0h0m8 0h0m4 0h0m-23 1h0m4 0h0m3 0h0m3 0h0m4 0h0m0 0h0m1 0h0m3 0h0m2 0h0m1 0h0m2 0h0m-19 1h0m2 0h0m3 0h0m3 0h0m4 0h0m7 0h0m-13 1h0m9 0h0m2 0h0m-16 1h0m2 0h0m4 0h0m2 0h0m5 0h0m5 0h0m-15 1h0m2 0h0m5 0h0m-2 1h0m2 0h0m2 0h0m1 0h0m2 0h0m4 0h0m-10 1h0m7 0h0m1 0h0m1 0h0m4 0h0m-10 1h0m3 0h0m6 0h0m-19 1h0m8 0h0m4 0h0m1 0h0m2 0h0m6 0h0m-22 1h0m16 0h0m3 0h0m2 0h0m-7 1h0m3 0h0m5 0h0m1 0h0m3 0h0m-8 2h0m4 0h0m-7 1h0m2 0h0m0 0h0m4 0h0m2 0h0m-4 1h0m2 0h0m-3 1h0m2 0h0m6 0h0m-9 3h0m12 0h0m-10 1h0m11 1h0m-5 3h0m4 1h0m0 0h0m-3 3h0m4 0h0m1 0h0m-3 1h0m2 0h0m-1 1h0m6 0h0m-5 1h0m4 0h0m-5 1h0m0 0h0m3 1h0m4 0h0m-3 1h0m-6 1h0m4 0h0m1 0h0m3 1h0"/>
<path stroke="#e28c30" d="M373 786h0m0 1h0m2 0h0m3 0h0m1 0h0m2 0h0m-12 1h0m9 0h0m4 0h0m2 0h0m5 0h0m-26 1h0m2 0h0m1 0h0m3 0h0m2 0h0m2 0h0m3 0h0m8 0h0m8 0h0m-20 1h0m5 0h0m3 0h0m0 0h0m6 0h0m1 0h0m2 0h0m-13 1h0m9 0h0m6 0h0m-27 1h0m2 0h0m2 0h0m1 0h0m3 0h0m2 0h0m4 0h0m2 0h0m2 0h0m5 0h0m2 0h0m-16 1h0m7 0h0m0 0h0m4 0h0m7 0h0m-26 1h0m2 0h0m1 0h0m3 0h0m2 0h0m2 0h0m1 0h0m9 0h0m3 0h0m2 0h0m-24 1h0m15 0h0m3 0h0m2 0h0m3 0h0m5 0h0m-39 1h0m14 0h0m2 0h0m2 0h0m2 0h0m3 0h0m3 0h0m1 0h0m2 0h0m5 0h0m2 0h0m1 0h0m3 0h0m-42 1h0m1 0h0m3 0h0m6 0h0m5 0h0m2 0h0m7 0h0m2 0h0m7 0h0m1 0h0m-35 1h0m10 0h0m3 0h0m10 0h0m4 0h0m13 0h0m3 0h0m-31 1h0m2 0h0m4 0h0m2 0h0m3 0h0m7 0h0m3 0h0m2 0h0m2 0h0m2 0h0m-21 1h0m5 0h0m2 0h0m2 0h0m11 0h0m-30 1h0m3 0h0m4 0h0m2 0h0m3 0h0m0 0h0m1 0h0m8 0h0m2 0h0m2 0h0m2 0h0m0 0h0m-28 1h0m5 0h0m6 0h0m6 0h0m2 0h0m6 0h0m5 0h0m-31 1h0m4 0h0m2 0h0m3 0h0m6 0h0m4 0h0m2 0h0m3 0h0m2 0h0m4 0h0m2 0h0m-84 1h0m9 0h0m2 0h0m3 0h0m1 0h0m4 0h0m40 0h0m3 0h0m2 0h0m0 0h0m4 0h0m6 0h0m5 0h0m-75 1h0m3 0h0m2 0h0m2 0h0m5 0h0m3 0h0m2 0h0m1 0h0m36 0h0m2 0h0m2 0h0m2 0h0m6 0h0m4 0h0m2 0h0m1 0h0m6 0h0m-78 1h0m5 0h0m2 0h0m2 0h0m5 0h0m3 0h0m2 0h0m2 0h0m15 0h0m2 0h0m13 0h0m11 0h0m1 0h0m4 0h0m6 0h0m3 0h0m3 0h0m-72 1h0m1 0h0m2 0h0m4 0h0m27 0h0m6 0h0m3 0h0m2 0h0m1 0h0m5 0h0m2 0h0m4 0h0m4 0h0m2 0h0m3 0h0m-67 1h0m6 0h0m9 0h0m27 0h0m8 0h0m6 0h0m4 0h0m1 0h0m7 0h0m3 0h0m2 0h0m-61 1h0m4 0h0m30 0h0m6 0h0m4 0h0m5 0h0m8 0h0m4 0h0m-67 1h0m28 0h0m9 0h0m0 0h0m2 0h0m5 0h0m4 0h0m1 0h0m1 0h0m7 0h0m2 0h0m6 0h0m-71 1h0m12 0h0m1 0h0m26 0h0m2 0h0m5 0h0m2 0h0m3 0h0m3 0h0m3 0h0m3 0h0m2 0h0m6 0h0m2 0h0m-35 1h0m2 0h0m0 0h0m3 0h0m5 0h0m4 0h0m3 0h0m4 0h0m7 0h0m2 0h0m2 0h0m4 0h0m-57 1h0m4 0h0m2 0h0m6 0h0m12 0h0m4 0h0m4 0h0m6 0h0m5 0h0m3 0h0m0 0h0m6 0h0m1 0h0m2 0h0m4 0h0m-62 1h0m5 0h0m1 0h0m5 0h0m2 0h0m6 0h0m2 0h0m2 0h0m4 0h0m10 0h0m4 0h0m3 0h0m2 0h0m1 0h0m13 0h0m-51 1h0m4 0h0m4 0h0m1 0h0m3 0h0m3 0h0m7 0h0m2 0h0m2 0h0m4 0h0m11 0h0m0 0h0m3 0h0m2 0h0m2 0h0m4 0h0m2 0h0m-57 1h0m2 0h0m1 0h0m5 0h0m0 0h0m2 0h0m5 0h0m6 0h0m5 0h0m3 0h0m11 0h0m4 0h0m11 0h0m2 0h0m-53 1h0m8 0h0m0 0h0m2 0h0m4 0h0m1 0h0m2 0h0m2 0h0m6 0h0m0 0h0m5 0h0m2 0h0m2 0h0m5 0h0m8 0h0m2 0h0m5 0h0m-57 1h0m4 0h0m5 0h0m5 0h0m1 0h0m8 0h0m2 0h0m10 0h0m4 0h0m1 0h0m2 0h0m2 0h0m3 0h0m3 0h0m5 0h0m1 0h0m-46 1h0m7 0h0m3 0h0m1 0h0m5 0h0m4 0h0m1 0h0m1 0h0m1 0h0m1 0h0m5 0h0m2 0h0m7 0h0m4 0h0m2 0h0m-54 1h0m3 0h0m2 0h0m1 0h0m3 0h0m6 0h0m3 0h0m4 0h0m3 0h0m5 0h0m5 0h0m3 0h0m5 0h0m5 0h0m2 0h0m2 0h0m3 0h0m-52 1h0m3 0h0m3 0h0m3 0h0m2 0h0m2 0h0m0 0h0m3 0h0m6 0h0m1 0h0m8 0h0m1 0h0m6 0h0m3 0h0m1 0h0m0 0h0m9 0h0m-53 1h0m6 0h0m4 0h0m17 0h0m2 0h0m2 0h0m7 0h0m3 0h0m6 0h0m2 0h0m3 0h0m-42 1h0m2 0h0m2 0h0m2 0h0m1 0h0m1 0h0m4 0h0m0 0h0m6 0h0m2 0h0m7 0h0m2 0h0m1 0h0m5 0h0m2 0h0m5 0h0m3 0h0m-52 1h0m2 0h0m2 0h0m0 0h0m10 0h0m2 0h0m5 0h0m1 0h0m7 0h0m1 0h0m10 0h0m4 0h0m1 0h0m2 0h0m7 0h0m-53 1h0m4 0h0m7 0h0m4 0h0m2 0h0m2 0h0m4 0h0m2 0h0m4 0h0m3 0h0m3 0h0m5 0h0m1 0h0m5 0h0m2 0h0m-49 1h0m8 0h0m2 0h0m2 0h0m9 0h0m1 0h0m1 0h0m2 0h0m2 0h0m4 0h0m4 0h0m3 0h0m-38 1h0m7 0h0m8 0h0m2 0h0m2 0h0m7 0h0m2 0h0m4 0h0m2 0h0m3 0h0m5 0h0m2 0h0m3 0h0m2 0h0m-50 1h0m3 0h0m1 0h0m6 0h0m1 0h0m2 0h0m6 0h0m7 0h0m2 0h0m13 0h0m2 0h0m2 0h0m5 0h0m-43 1h0m1 0h0m16 0h0m2 0h0m7 0h0m2 0h0m2 0h0m5 0h0m6 0h0m-42 1h0m1 0h0m6 0h0m1 0h0m17 0h0m0 0h0m0 0h0m4 0h0m0 0h0m3 0h0m2 0h0m1 0h0m6 0h0m-37 1h0m2 0h0m5 0h0m26 0h0m2 0h0m-37 1h0m15 0h0m16 0h0m3 0h0m4 0h0m-42 1h0m2 0h0m5 0h0m1 0h0m1 0h0m1 0h0m1 0h0m19 0h0m-27 1h0m7 0h0m-5 1h0m0 0h0m3 0h0m-5 1h0m4 0h0m4 0h0m2 0h0m-7 1h0m2 1h0m2 0h0m1 0h0m-8 1h0m0 0h0m3 0h0m2 0h0m-4 1h0m4 0h0m26 0h0m-30 1h0m2 0h0m1 2h0m-5 2h0"/>
<path stroke="#38beb2" d="M355 759h0m2 3h0m3 0h0m-10 1h0m6 0h0m3 0h0m8 0h0m-14 1h0m1 0h0m1 0h0m1 0h0m1 0h0m4 0h0m0 0h0m2 0h0m1 0h0m1 0h0m2 0h0m-15 1h0m8 0h0m-13 1h0m3 0h0m5 0h0m1 0h0m7 0h0m2 0h0m2 0h0m-19 1h0m4 0h0m6 0h0m3 0h0m8 0h0m1 0h0m-25 1h0m9 0h0m5 0h0m6 0h0m6 0h0m4 0h0m-27 1h0m1 0h0m2 0h0m4 0h0m2 0h0m2 0h0m3 0h0m2 0h0m0 0h0m2 0h0m2 0h0m1 0h0m1 0h0m10 0h0m-34 1h0m1 0h0m3 0h0m2 0h0m3 0h0m5 0h0m3 0h0m12 0h0m-28 1h0m9 0h0m5 0h0m5 0h0m2 0h0m3 0h0m2 0h0m1 0h0m-29 1h0m8 0h0m4 0h0m2 0h0m5 0h0m3 0h0m2 0h0m7 0h0m-27 1h0m3 0h0m4 0h0m0 0h0m2 0h0m6 0h0m6 0h0m7 0h0m4 0h0m0 0h0m-32 1h0m3 0h0m3 0h0m6 0h0m1 0h0m5 0h0m2 0h0m9 0h0m-28 1h0m1 0h0m4 0h0m5 0h0m1 0h0m2 0h0m5 0h0m3 0h0m1 0h0m0 0h0m2 0h0m1 0h0m3 0h0m-24 1h0m3 0h0m0 0h0m8 0h0m10 0h0m7 0h0m0 0h0m0 0h0m4 0h0m-31 1h0m4 0h0m6 0h0m2 0h0m2 0h0m2 0h0m6 0h0m2 0h0m-26 1h0m0 0h0m2 0h0m5 0h0m3 0h0m11 0h0m8 0h0m-22 1h0m4 0h0m4 0h0m3 0h0m3 0h0m6 0h0m-37 1h0m14 0h0m8 0h0m2 0h0m2 0h0m6 0h0m3 0h0m1 0h0m1 0h0m4 0h0m-32 1h0m2 0h0m2 0h0m2 0h0m2 0h0m3 0h0m6 0h0m6 0h0m2 0h0m-22 1h0m3 0h0m2 0h0m1 0h0m2 0h0m8 0h0m0 0h0m4 0h0m4 0h0m4 0h0m-26 1h0m3 0h0m6 0h0m7 0h0m6 0h0m4 0h0m-54 1h0m29 0h0m7 0h0m1 0h0m8 0h0m5 0h0m-47 1h0m37 0h0m2 0h0m1 0h0m6 0h0m2 0h0m-32 1h0m9 0h0m2 0h0m2 0h0m3 0h0m6 0h0m4 0h0m4 0h0m-19 1h0m6 0h0m3 0h0m2 0h0m-7 1h0m2 0h0m1 0h0m15 0h0m-15 1h0m-24 1h0m6 0h0m10 0h0m-28 1h0m51 1h0m-43 5h0m23 1h0m-21 9h0m10 1h0m-13 3h0"/>
<path stroke="#98d5cd" d="M449 708h0m4 0h0m1 0h0m-6 2h0m4 0h0m1 0h0m-3 1h0m-3 1h0m1 0h0m4 0h0m1 0h0m0 0h0m1 0h0m-4 2h0m2 0h0m-6 1h0m1 0h0m2 2h0m-4 1h0m6 0h0m-5 2h0"/>
<path stroke="#cfe5e2" d="M232 659h0m7 2h0m1 1h0m2 0h0m-5 1h0m2 0h0m3 0h0m-6 1h0m1 0h0m-2 1h0m5 0h0m-4 1h0m3 0h0m3 0h0m1 0h0m0 0h0m-6 1h0m2 0h0m-5 1h0m5 0h0m2 0h0m1 0h0m-6 1h0m6 0h0m2 0h0m-9 1h0m4 0h0m4 0h0m-6 1h0m0 0h0m-7 1h0m8 0h0m3 0h0m3 0h0m-6 1h0m4 0h0m1 0h0m-11 1h0m4 0h0m3 0h0m-3 1h0m2 0h0m3 0h0m2 0h0m0 0h0m-8 1h0m2 1h0m3 0h0m4 0h0m-8 1h0m6 0h0m-9 1h0m2 0h0m2 0h0m6 0h0m6 0h0m-16 1h0m5 0h0m-3 1h0m4 0h0m3 0h0m-7 1h0m8 0h0m-7 1h0m2 0h0m3 0h0m-4 1h0m7 0h0m1 0h0m-11 1h0m2 0h0m4 0h0m1 0h0m2 0h0m-8 1h0m3 0h0m-2 1h0m8 0h0m-9 1h0m3 0h0m1 0h0m2 0h0m2 0h0m3 0h0m-13 1h0m12 0h0m-10 1h0m2 0h0m1 0h0m5 0h0m-3 1h0m2 0h0m2 0h0m2 0h0m-10 1h0m2 0h0m1 0h0m-2 1h0m4 0h0m5 0h0m2 0h0m-13 1h0m3 0h0m5 0h0m2 0h0m0 0h0m-6 1h0m9 0h0m-11 1h0m1 0h0m1 0h0m5 0h0m1 0h0m2 0h0m2 0h0m-9 1h0m2 1h0m0 0h0m2 0h0m-8 1h0m3 0h0m7 0h0m1 0h0m3 0h0m-10 1h0m3 0h0m2 0h0m2 0h0m-3 2h0"/>
<path stroke="#eedbe6" d="M286 646h0m3 0h0m-8 1h0m2 0h0m2 1h0m3 0h0m3 0h0m-10 1h0m2 0h0m-5 1h0m5 0h0m1 0h0m3 0h0m1 0h0m-1 1h0m-2 1h0m4 0h0m2 0h0m-10 1h0m1 0h0m3 0h0m-9 1h0m3 0h0m6 0h0m2 0h0m0 0h0m1 0h0m2 0h0m-17 1h0m8 0h0m9 0h0m1 0h0m-14 1h0m7 0h0m9 0h0m-19 1h0m2 0h0m3 0h0m1 0h0m3 0h0m1 0h0m2 0h0m6 0h0m0 1h0m3 0h0m-20 1h0m3 0h0m1 0h0m2 0h0m2 0h0m12 0h0m-8 1h0m0 0h0m2 0h0m-10 1h0m1 0h0m2 0h0m6 0h0m4 0h0m3 0h0m-21 1h0m18 0h0m2 0h0m-17 1h0m2 0h0m2 0h0m4 0h0m2 0h0m8 0h0m4 0h0m-24 1h0m16 0h0m2 0h0m-11 1h0m13 0h0m1 0h0m3 0h0m-19 1h0m5 0h0m7 0h0m5 0h0m-9 1h0m4 0h0m-14 1h0m1 0h0m3 0h0m2 0h0m3 0h0m9 0h0m3 0h0m-16 1h0m7 0h0m4 0h0m1 0h0m3 0h0m1 0h0m-20 1h0m2 0h0m-5 1h0m5 0h0m0 0h0m3 0h0m5 0h0m2 0h0m1 0h0m5 0h0m-22 1h0m2 0h0m10 0h0m12 0h0m4 0h0m-22 1h0m4 0h0m2 0h0m3 0h0m1 0h0m-12 1h0m0 0h0m2 0h0m2 0h0m9 0h0m-8 1h0m7 0h0m-9 1h0m4 0h0m2 0h0m-12 1h0m4 0h0m3 0h0m-1 2h0m2 0h0m-1 2h0"/>
<path stroke="#efc1db" d="M334 875h0m-2 1h0m2 0h0m4 0h0m-6 1h0m1 0h0m2 0h0m1 1h0m-3 1h0m0 0h0m-18 5h0m1 0h0m-1 1h0m0 1h0m1 0h0m9 0h0m-8 1h0m0 2h0m-5 1h0m3 0h0m1 1h0m1 0h0m1 0h0m-5 1h0m34 1h0m3 0h0m1 0h0m1 0h0m-35 1h0m37 0h0m-38 1h0m2 0h0m25 0h0m1 0h0m2 0h0m-34 1h0m26 0h0m9 0h0m1 0h0m2 0h0m-36 1h0m31 0h0m4 0h0m3 0h0m-36 1h0m1 0h0m17 0h0m3 0h0m5 0h0m1 0h0m5 0h0m-34 1h0m2 0h0m2 0h0m20 0h0m5 0h0m2 0h0m2 0h0m2 0h0m-27 1h0m0 0h0m14 0h0m3 0h0m2 0h0m-26 1h0m2 0h0m17 0h0m1 0h0m2 0h0m4 0h0m10 0h0m-37 1h0m5 0h0m4 0h0m4 0h0m2 0h0m4 0h0m-16 1h0m2 0h0m0 0h0m12 0h0m7 0h0m-18 1h0m1 0h0m-6 1h0m3 0h0m19 0h0m-23 1h0m2 1h0m3 0h0"/>
<path stroke="#e59bc8" d="M278 897h0m4 0h0m-9 1h0m4 0h0m1 1h0m4 0h0m-8 1h0m7 0h0m-9 1h0m3 0h0m1 0h0m3 0h0m3 0h0m-13 1h0m4 0h0m0 0h0m5 0h0m4 0h0m-12 1h0m5 0h0m1 0h0m-9 1h0m4 0h0m4 0h0m-6 1h0m4 0h0m4 0h0m1 0h0m-1 1h0m-3 1h0m3 0h0m3 0h0"/>
<path stroke="#561c63" d="M900 664h0m4 87h0m19 10h0m2 7h0m-13 3h0m18 3h0m104 3h0m-107 1h0m99 3h0m-122 5h0m139 6h0m-124 20h0m-96 26h0"/>
<path stroke="#57246b" d="M834 627h0m64 43h0m6 18h0m-69 30h0m67 37h0m28 4h0m88 5h0m14 5h0m-127 2h0m7 3h0m19 3h0m-16 4h0m-12 6h0m13 0h0m95 3h0m-85 10h0"/>
<path stroke="#592d73" d="M902 661h0m-9 11h0m7 7h0m1 13h0m0 4h0m-55 13h0m-2 9h0m69 39h0m110 5h0m-127 1h0m30 2h0m-31 1h0m20 6h0m112 1h0m22 3h0m-124 1h0m101 1h0m2 2h0m-99 1h0m63 3h0m-68 2h0m-12 2h0m-96 63h0"/>
<path stroke="#59347a" d="M825 616h0m80 50h0m2 11h0m-8 10h0m1 3h0m7 6h0m-55 5h0m13 1h0m-23 1h0m11 2h0m-10 13h0m100 2h0m-5 2h0m-41 28h0m8 0h0m17 2h0m-6 9h0m-23 1h0m20 0h0m9 0h0m4 1h0m92 3h0m0 3h0m0 1h0m18 1h0m-112 1h0m-11 1h0m130 0h0m-126 1h0m14 0h0m113 2h0m-155 2h0m39 2h0m-26 3h0m8 3h0m5 3h0m5 0h0m-12 7h0m-7 11h0m27 7h0m10 4h0m-131 15h0m1 11h0m13 8h0"/>
<path stroke="#593b80" d="M802 607h0m19 7h0m3 10h0m7 1h0m-3 4h0m71 37h0m8 6h0m-4 5h0m5 7h0m-11 6h0m12 1h0m-1 3h0m2 6h0m-71 1h0m4 1h0m0 0h0m-8 2h0m12 0h0m17 0h0m-19 7h0m-7 7h0m3 2h0m125 10h0m3 1h0m-37 1h0m-15 19h0m-21 1h0m4 2h0m11 1h0m-12 6h0m18 1h0m100 2h0m-114 1h0m1 0h0m19 1h0m8 0h0m-30 1h0m22 3h0m97 2h0m-120 2h0m24 1h0m93 0h0m-109 3h0m-12 1h0m8 0h0m8 0h0m10 2h0m7 0h0m88 0h0m2 0h0m-121 2h0m-4 1h0m148 0h0m-116 2h0m-25 2h0m7 0h0m7 6h0m-9 33h0m-103 5h0m10 1h0m8 4h0m-1 2h0m4 2h0m-13 8h0m7 2h0m127 51h0m-13 3h0"/>
<path stroke="#584285" d="M811 598h0m-11 5h0m22 15h0m4 3h0m-13 4h0m8 2h0m8 1h0m1 0h0m-4 2h0m0 4h0m76 33h0m0 1h0m2 1h0m1 4h0m-4 2h0m3 0h0m-4 2h0m-1 6h0m1 5h0m6 3h0m-4 4h0m9 0h0m-68 2h0m-1 2h0m-7 1h0m10 0h0m0 1h0m14 0h0m-23 1h0m23 4h0m-19 9h0m114 3h0m8 6h0m-13 4h0m13 6h0m-59 15h0m11 1h0m-21 1h0m16 0h0m3 0h0m13 1h0m-19 6h0m9 4h0m10 0h0m-16 1h0m-4 1h0m115 0h0m8 0h0m-5 1h0m-112 1h0m123 2h0m-102 1h0m80 0h0m-88 1h0m-22 3h0m131 0h0m-138 1h0m10 0h0m2 3h0m20 3h0m111 1h0m-4 1h0m-120 2h0m-21 1h0m147 0h0m-144 1h0m19 0h0m122 0h0m4 0h0m-149 1h0m135 0h0m4 0h0m-3 2h0m-116 15h0m-83 33h0m-19 2h0m10 0h0m9 5h0m-24 1h0m8 0h0m-4 7h0m3 6h0m-3 5h0m4 2h0m125 38h0m4 4h0"/>
<path stroke="#57498a" d="M800 604h0m7 10h0m12 8h0m10 3h0m-2 2h0m-7 4h0m5 0h0m-3 4h0m81 27h0m1 4h0m-3 6h0m-4 7h0m61 0h0m-59 5h0m2 2h0m5 2h0m-1 2h0m0 1h0m-6 1h0m-1 2h0m3 0h0m2 3h0m-64 2h0m74 0h0m-5 1h0m-63 3h0m-3 7h0m129 0h0m9 2h0m-25 3h0m26 2h0m-141 5h0m110 1h0m-58 28h0m10 0h0m2 1h0m-11 1h0m33 0h0m-21 3h0m-1 1h0m21 0h0m-13 1h0m-16 1h0m4 0h0m27 0h0m-35 2h0m10 0h0m2 0h0m16 0h0m99 2h0m-122 1h0m10 0h0m110 0h0m7 0h0m-104 1h0m5 0h0m46 0h0m44 0h0m6 2h0m11 0h0m-101 1h0m86 0h0m11 0h0m5 1h0m-111 1h0m-24 1h0m121 0h0m15 0h0m-133 1h0m15 1h0m116 1h0m9 0h0m-8 1h0m-15 2h0m-127 1h0m124 0h0m3 0h0m-119 1h0m12 0h0m1 1h0m94 0h0m-93 1h0m-18 3h0m32 2h0m-16 1h0m-5 1h0m17 0h0m1 6h0m5 2h0m-14 5h0m12 1h0m-7 3h0m22 0h0m-43 2h0m6 3h0m33 1h0m42 0h0m-68 2h0m22 8h0m-20 1h0m73 6h0m-173 4h0m13 3h0m-22 3h0m11 0h0m-17 4h0m24 3h0m1 0h0m6 0h0m0 3h0m-10 3h0m10 0h0m3 1h0m-20 1h0m-4 2h0m9 1h0m-8 3h0m131 40h0"/>
<path stroke="#554f8d" d="M819 609h0m5 6h0m-5 1h0m-10 1h0m11 6h0m8 1h0m-3 2h0m5 1h0m6 2h0m-12 8h0m76 26h0m-2 1h0m-1 4h0m2 7h0m-2 7h0m7 1h0m3 1h0m-10 1h0m46 1h0m-32 7h0m-3 1h0m2 2h0m-69 1h0m64 1h0m-65 4h0m2 0h0m10 1h0m120 1h0m-110 1h0m-9 2h0m8 0h0m-25 2h0m143 0h0m-58 1h0m35 0h0m-6 2h0m-102 1h0m-10 2h0m126 1h0m-11 1h0m14 1h0m-17 2h0m-109 1h0m126 2h0m-31 1h0m25 0h0m6 1h0m-3 2h0m-8 1h0m-17 4h0m-24 18h0m-15 1h0m39 0h0m-16 2h0m-5 1h0m12 2h0m-30 1h0m10 1h0m-6 1h0m18 0h0m15 3h0m-38 2h0m14 0h0m113 0h0m-98 1h0m89 1h0m11 0h0m-99 1h0m-14 1h0m18 0h0m-39 1h0m16 0h0m120 0h0m-104 1h0m1 0h0m-31 1h0m37 0h0m98 0h0m-108 1h0m93 0h0m-123 1h0m29 0h0m12 0h0m87 0h0m-48 1h0m39 0h0m3 0h0m-94 1h0m13 0h0m80 0h0m21 0h0m5 0h0m-115 1h0m103 0h0m-133 1h0m127 0h0m-117 1h0m11 0h0m1 1h0m8 0h0m97 0h0m-127 1h0m5 0h0m5 0h0m27 0h0m100 0h0m10 0h0m1 0h0m-138 1h0m-1 1h0m114 0h0m8 0h0m-126 1h0m5 0h0m2 0h0m129 0h0m-128 2h0m-9 2h0m26 0h0m97 0h0m-128 1h0m5 0h0m22 0h0m106 0h0m-22 2h0m-88 2h0m20 6h0m87 0h0m-158 2h0m48 1h0m-4 4h0m-8 1h0m6 0h0m83 0h0m-65 4h0m-18 2h0m33 0h0m-20 1h0m20 2h0m-7 2h0m-8 2h0m-56 1h0m48 1h0m-6 2h0m-1 3h0m14 2h0m-116 5h0m183 1h0m-181 1h0m-12 1h0m38 0h0m52 1h0m-93 1h0m35 0h0m-15 1h0m-13 1h0m7 1h0m21 1h0m-18 1h0m-1 2h0m-2 2h0m-7 1h0m22 2h0m-19 2h0m25 2h0m-22 11h0"/>
<path stroke="#52568f" d="M811 605h0m5 7h0m8 1h0m-15 3h0m2 0h0m10 4h0m1 0h0m-9 1h0m3 2h0m18 2h0m-2 1h0m0 3h0m-11 1h0m83 33h0m77 6h0m-47 3h0m-28 1h0m5 6h0m-10 1h0m50 0h0m-45 2h0m-7 3h0m-1 1h0m48 1h0m4 2h0m-47 2h0m-62 5h0m-2 2h0m4 0h0m-2 1h0m10 0h0m51 0h0m-51 2h0m-1 2h0m16 1h0m-16 1h0m1 1h0m116 4h0m-119 1h0m107 0h0m24 0h0m-140 1h0m3 0h0m118 0h0m3 0h0m19 0h0m-34 4h0m-111 1h0m136 0h0m2 0h0m-26 2h0m-7 1h0m-7 2h0m1 4h0m-2 2h0m11 1h0m-8 1h0m22 2h0m-14 1h0m25 1h0m-6 7h0m-45 3h0m39 2h0m-10 1h0m11 2h0m-63 1h0m24 1h0m-9 1h0m8 0h0m9 0h0m-32 2h0m10 1h0m2 0h0m11 0h0m-8 1h0m7 1h0m1 1h0m6 0h0m-18 2h0m3 0h0m1 1h0m-8 2h0m13 0h0m-15 1h0m20 0h0m105 2h0m-107 1h0m-27 1h0m17 0h0m10 0h0m58 0h0m31 0h0m-108 1h0m127 0h0m2 0h0m-127 1h0m14 0h0m-15 1h0m2 0h0m7 0h0m6 0h0m94 0h0m-2 1h0m19 0h0m5 0h0m-13 1h0m-105 1h0m5 0h0m12 0h0m99 0h0m-136 1h0m35 0h0m95 0h0m6 0h0m8 0h0m-130 1h0m137 0h0m-117 1h0m-28 1h0m145 0h0m-151 1h0m23 1h0m3 0h0m110 0h0m11 0h0m-147 2h0m26 0h0m12 0h0m106 0h0m4 0h0m-130 1h0m117 0h0m-127 2h0m-4 1h0m21 0h0m105 0h0m2 2h0m-115 2h0m82 1h0m-67 2h0m-9 1h0m-4 4h0m-12 1h0m3 0h0m3 0h0m3 0h0m-7 2h0m33 0h0m-48 1h0m33 1h0m10 0h0m-12 2h0m13 2h0m-63 2h0m65 0h0m-45 1h0m22 1h0m-4 1h0m-1 1h0m9 2h0m-13 1h0m85 6h0m-84 2h0m-14 1h0m101 1h0m-92 3h0m-47 2h0m-39 3h0m-3 1h0m10 0h0m7 1h0m-12 1h0m77 0h0m-83 1h0m2 1h0m-5 1h0m-2 2h0m3 0h0m5 0h0m-13 1h0m191 1h0m-189 1h0m23 3h0m-18 2h0m7 0h0m3 4h0m9 0h0m-9 3h0m-1 10h0m-6 3h0m129 30h0m6 0h0m-8 1h0m0 1h0m5 0h0m-1 4h0m1 1h0"/>
<path stroke="#505d92" d="M805 598h0m4 7h0m4 2h0m-4 1h0m-2 3h0m4 0h0m90 0h0m-78 2h0m-9 1h0m1 1h0m2 1h0m-2 1h0m6 0h0m-9 1h0m3 2h0m5 0h0m4 0h0m1 0h0m4 3h0m-5 5h0m71 7h0m30 5h0m-30 19h0m8 9h0m4 1h0m-5 1h0m74 2h0m-81 2h0m4 0h0m47 0h0m28 4h0m-78 1h0m9 0h0m83 0h0m-53 1h0m9 1h0m14 3h0m-23 3h0m-35 6h0m-62 3h0m8 0h0m53 0h0m-63 2h0m69 0h0m-57 1h0m-3 1h0m112 1h0m-108 1h0m14 2h0m3 0h0m-14 4h0m112 2h0m-104 1h0m87 0h0m18 0h0m-23 1h0m22 0h0m-32 2h0m26 1h0m-7 1h0m26 0h0m-27 1h0m9 0h0m4 1h0m-18 1h0m31 0h0m-140 1h0m105 3h0m-3 2h0m2 0h0m22 1h0m2 0h0m5 0h0m-37 1h0m8 3h0m15 0h0m-3 2h0m8 0h0m-4 2h0m8 4h0m-20 7h0m13 4h0m-48 1h0m-11 1h0m21 0h0m28 0h0m-34 2h0m3 0h0m-5 1h0m18 1h0m-33 1h0m2 0h0m-5 1h0m31 0h0m-27 1h0m21 0h0m10 0h0m-35 2h0m4 0h0m16 0h0m10 1h0m3 0h0m45 1h0m-73 1h0m20 0h0m12 0h0m15 1h0m-25 1h0m-19 1h0m32 0h0m-14 1h0m92 0h0m13 0h0m-121 1h0m11 0h0m11 0h0m97 0h0m-126 1h0m31 0h0m24 0h0m63 0h0m6 0h0m-121 1h0m6 0h0m2 0h0m10 0h0m-20 1h0m30 1h0m112 0h0m-120 1h0m120 0h0m-142 1h0m10 0h0m-15 3h0m140 0h0m-136 1h0m73 0h0m-70 1h0m23 0h0m10 0h0m95 0h0m16 0h0m-123 1h0m127 0h0m-122 1h0m98 0h0m8 0h0m-136 1h0m7 0h0m20 0h0m-25 2h0m140 0h0m-132 1h0m18 0h0m112 0h0m-136 1h0m4 0h0m108 0h0m11 0h0m11 0h0m-124 2h0m8 1h0m7 1h0m-6 1h0m0 4h0m20 7h0m-14 1h0m-47 1h0m61 0h0m-15 1h0m11 0h0m-21 1h0m13 0h0m69 0h0m-76 1h0m-27 1h0m39 0h0m2 1h0m-14 1h0m10 0h0m-52 1h0m47 0h0m-54 3h0m129 2h0m-63 2h0m-7 2h0m-34 1h0m34 0h0m-18 2h0m14 1h0m63 1h0m-79 1h0m10 2h0m-43 1h0m-29 3h0m-28 1h0m16 0h0m68 0h0m-106 1h0m25 0h0m0 0h0m23 1h0m-39 1h0m36 0h0m-37 2h0m-7 1h0m15 1h0m64 0h0m-70 1h0m7 0h0m7 1h0m-17 1h0m12 0h0m-2 3h0m10 1h0m-18 1h0m11 0h0m-2 1h0m-7 1h0m6 0h0m-5 1h0m5 1h0m4 1h0m5 0h0m-1 1h0m8 0h0m-16 4h0m-1 1h0m0 2h0m0 3h0m-6 1h0m2 1h0m127 36h0m3 1h0m-2 1h0"/>
<path stroke="#4d6393" d="M806 602h0m3 1h0m-1 2h0m6 2h0m-4 2h0m5 1h0m-5 1h0m-3 3h0m10 1h0m-5 1h0m10 1h0m-3 1h0m-1 5h0m18 0h0m-11 6h0m80 33h0m-2 3h0m-1 1h0m4 0h0m69 2h0m-76 1h0m2 4h0m5 2h0m41 4h0m-113 4h0m130 1h0m-30 2h0m-36 2h0m10 1h0m23 2h0m-28 2h0m-1 3h0m80 0h0m-76 2h0m4 1h0m38 0h0m34 0h0m-79 1h0m-41 1h0m45 1h0m-61 1h0m10 0h0m123 2h0m-52 1h0m18 0h0m27 1h0m-132 1h0m17 1h0m112 0h0m6 0h0m-132 1h0m131 1h0m-136 1h0m132 0h0m2 0h0m-5 1h0m10 0h0m-14 1h0m12 0h0m-15 1h0m13 0h0m-30 2h0m23 0h0m-128 1h0m92 0h0m44 1h0m5 0h0m-26 1h0m16 0h0m-24 3h0m11 0h0m-71 1h0m70 1h0m18 1h0m-26 1h0m12 2h0m-6 1h0m9 1h0m-25 1h0m7 1h0m22 0h0m-11 1h0m5 1h0m-42 2h0m45 0h0m-76 1h0m21 3h0m29 1h0m12 0h0m13 0h0m6 0h0m-24 5h0m7 0h0m8 0h0m7 3h0m-52 1h0m-12 2h0m2 1h0m3 0h0m-12 1h0m1 0h0m11 1h0m6 0h0m8 1h0m12 3h0m9 1h0m21 0h0m-63 1h0m113 1h0m-102 1h0m-17 1h0m3 1h0m1 0h0m77 0h0m-52 1h0m92 0h0m-4 2h0m16 0h0m-114 1h0m97 0h0m15 0h0m13 0h0m-146 1h0m28 0h0m104 0h0m-129 1h0m26 0h0m7 0h0m7 0h0m-39 1h0m63 0h0m-56 1h0m57 0h0m65 0h0m-12 1h0m13 0h0m-130 1h0m37 0h0m-39 1h0m134 0h0m-102 1h0m110 0h0m0 1h0m2 1h0m-141 1h0m118 0h0m6 0h0m-113 2h0m11 0h0m127 0h0m-25 1h0m7 0h0m-115 1h0m4 1h0m2 0h0m-19 1h0m9 2h0m-42 5h0m45 0h0m18 0h0m-60 1h0m58 0h0m-17 1h0m8 2h0m2 0h0m1 0h0m-57 1h0m74 0h0m-61 1h0m39 0h0m13 0h0m2 0h0m-67 1h0m71 0h0m-7 1h0m-62 1h0m33 0h0m-1 4h0m83 0h0m-76 2h0m10 0h0m21 0h0m-56 2h0m37 0h0m4 1h0m-20 1h0m2 0h0m110 1h0m-111 1h0m29 0h0m1 0h0m-3 1h0m4 0h0m-21 3h0m17 0h0m-30 1h0m16 0h0m-45 1h0m33 1h0m6 0h0m9 1h0m85 1h0m-122 1h0m12 0h0m24 1h0m66 3h0m23 1h0m-188 1h0m52 1h0m31 0h0m85 0h0m-184 3h0m59 0h0m-53 1h0m-7 2h0m13 0h0m3 1h0m26 0h0m-26 1h0m8 0h0m41 0h0m-48 1h0m-19 1h0m2 0h0m23 0h0m-22 2h0m15 0h0m13 0h0m-36 2h0m21 0h0m-14 1h0m7 0h0m13 0h0m-12 2h0m10 1h0m7 0h0m2 0h0m3 0h0m-8 1h0m1 0h0m0 1h0m6 0h0m-24 5h0m138 40h0m-7 4h0m3 4h0"/>
<path stroke="#4a6994" d="M804 600h0m-1 1h0m12 3h0m-6 2h0m1 1h0m11 3h0m114 0h0m-114 1h0m-11 2h0m10 0h0m-10 2h0m9 0h0m7 5h0m-3 1h0m6 1h0m-6 1h0m-3 2h0m0 2h0m6 0h0m-6 2h0m98 21h0m40 8h0m-56 5h0m-2 4h0m-1 4h0m74 1h0m-24 1h0m31 0h0m-44 1h0m-30 1h0m-8 1h0m1 2h0m36 0h0m18 0h0m3 3h0m12 1h0m-19 1h0m31 0h0m-77 2h0m56 0h0m-23 1h0m29 0h0m-10 1h0m-53 1h0m-6 1h0m72 0h0m-67 1h0m55 0h0m-3 1h0m-51 1h0m68 0h0m-15 1h0m-50 1h0m59 0h0m21 0h0m-45 1h0m2 0h0m-30 1h0m-65 1h0m0 2h0m82 2h0m38 0h0m-26 1h0m-81 1h0m118 0h0m-20 1h0m-28 1h0m-80 1h0m94 0h0m-98 2h0m114 0h0m16 1h0m8 0h0m-27 2h0m18 0h0m-132 1h0m-8 1h0m89 0h0m7 0h0m22 1h0m7 0h0m23 0h0m-44 1h0m28 0h0m3 0h0m2 0h0m-24 1h0m23 1h0m-5 2h0m11 1h0m-8 2h0m7 0h0m-33 1h0m6 0h0m-55 1h0m-52 1h0m109 1h0m-13 1h0m4 1h0m-7 1h0m14 0h0m15 0h0m2 3h0m-20 1h0m19 2h0m-20 1h0m-29 3h0m19 0h0m18 1h0m-8 1h0m-15 1h0m-10 1h0m14 2h0m-30 2h0m33 0h0m-39 3h0m13 0h0m-9 2h0m8 2h0m10 0h0m-27 1h0m50 0h0m-28 1h0m53 1h0m-67 1h0m63 0h0m-13 1h0m2 0h0m12 0h0m53 0h0m-123 1h0m24 1h0m53 0h0m-66 1h0m5 0h0m16 0h0m-34 1h0m129 0h0m-131 1h0m125 0h0m-103 1h0m17 0h0m-14 1h0m4 0h0m-22 1h0m13 0h0m-13 1h0m10 0h0m17 0h0m48 1h0m40 1h0m2 0h0m-102 1h0m116 0h0m-14 2h0m4 0h0m-1 1h0m5 1h0m12 0h0m-134 1h0m1 0h0m14 0h0m104 0h0m-106 1h0m1 0h0m115 0h0m12 0h0m-132 1h0m110 2h0m-102 1h0m122 0h0m-17 1h0m10 0h0m13 0h0m-125 1h0m9 0h0m-19 1h0m12 0h0m8 0h0m64 1h0m37 0h0m-12 1h0m-114 1h0m127 0h0m-107 3h0m-11 2h0m4 0h0m-48 2h0m40 1h0m9 0h0m1 2h0m-45 1h0m30 0h0m-4 1h0m36 0h0m-76 1h0m10 0h0m61 0h0m-37 1h0m9 0h0m-47 1h0m38 0h0m4 0h0m8 0h0m-21 1h0m33 0h0m68 1h0m-83 1h0m71 0h0m4 0h0m9 0h0m-107 1h0m23 0h0m19 0h0m55 0h0m4 0h0m-81 1h0m10 0h0m90 0h0m-91 1h0m9 0h0m5 0h0m13 0h0m-26 1h0m18 0h0m-30 1h0m33 0h0m-63 2h0m1 1h0m9 0h0m24 0h0m0 1h0m34 0h0m-67 1h0m41 0h0m-32 1h0m44 0h0m4 0h0m-13 1h0m10 0h0m-22 1h0m5 0h0m8 0h0m24 1h0m-63 1h0m7 0h0m36 2h0m-15 4h0m80 1h0m-96 1h0m3 0h0m-17 1h0m6 0h0m-75 2h0m2 1h0m91 0h0m-52 2h0m-41 1h0m5 2h0m8 0h0m4 0h0m4 0h0m21 0h0m35 0h0m-86 1h0m14 1h0m37 0h0m-51 1h0m33 0h0m4 0h0m151 0h0m-154 1h0m55 0h0m-64 1h0m4 2h0m57 0h0m-16 1h0m-66 1h0m20 0h0m-14 1h0m10 1h0m4 2h0m13 1h0m-17 1h0m-4 2h0m5 0h0m-11 1h0m5 0h0m4 2h0m-6 6h0m0 1h0m130 34h0m4 1h0m-5 2h0m-6 2h0"/>
<path stroke="#486e94" d="M805 603h0m-4 2h0m4 2h0m-2 3h0m15 1h0m0 3h0m-5 1h0m-3 1h0m10 0h0m84 1h0m-79 5h0m107 0h0m-5 1h0m-12 6h0m12 0h0m-103 1h0m-3 4h0m77 6h0m5 8h0m43 2h0m4 10h0m12 5h0m-57 3h0m39 2h0m15 1h0m-27 1h0m-30 2h0m47 2h0m6 0h0m32 0h0m-47 1h0m36 1h0m6 1h0m-80 2h0m3 0h0m36 0h0m31 1h0m12 0h0m5 0h0m-28 3h0m-9 2h0m6 0h0m5 1h0m-9 2h0m7 0h0m-21 2h0m17 0h0m15 0h0m7 0h0m-70 1h0m45 2h0m13 0h0m7 0h0m-41 2h0m13 0h0m-4 1h0m29 0h0m-62 1h0m44 0h0m-48 1h0m69 0h0m-47 1h0m26 0h0m12 0h0m6 0h0m10 0h0m0 3h0m-142 1h0m98 1h0m14 0h0m4 1h0m2 0h0m6 0h0m2 0h0m9 0h0m9 0h0m-46 1h0m36 0h0m4 0h0m-35 1h0m8 0h0m10 0h0m21 0h0m-31 1h0m13 0h0m-2 1h0m0 1h0m-74 1h0m69 1h0m29 0h0m-97 1h0m36 0h0m37 1h0m7 0h0m9 0h0m-30 1h0m-105 1h0m98 0h0m29 0h0m12 0h0m-38 1h0m-99 1h0m96 0h0m23 0h0m-28 1h0m3 0h0m18 1h0m24 0h0m-22 2h0m8 0h0m9 0h0m-19 1h0m16 0h0m-25 1h0m4 1h0m1 0h0m3 0h0m5 0h0m2 0h0m-26 1h0m4 0h0m28 0h0m2 0h0m-31 1h0m12 0h0m6 0h0m4 0h0m-14 1h0m9 0h0m14 0h0m-18 1h0m1 1h0m11 0h0m-15 1h0m10 1h0m-13 1h0m6 0h0m8 1h0m-39 1h0m23 0h0m4 0h0m8 2h0m-44 1h0m51 4h0m5 1h0m1 1h0m-8 2h0m-59 2h0m20 1h0m48 1h0m-25 1h0m6 0h0m6 0h0m-34 1h0m14 0h0m-37 1h0m16 0h0m23 0h0m27 0h0m-52 1h0m-11 2h0m11 0h0m20 0h0m42 0h0m-84 1h0m18 0h0m68 1h0m-72 1h0m-9 1h0m12 2h0m23 0h0m34 0h0m-51 2h0m95 0h0m3 0h0m17 0h0m3 1h0m-118 1h0m35 0h0m-41 1h0m20 0h0m95 0h0m-15 1h0m-58 1h0m4 0h0m12 0h0m-57 1h0m58 1h0m2 0h0m-69 1h0m18 2h0m98 0h0m21 0h0m-141 1h0m24 1h0m95 0h0m6 0h0m9 1h0m-121 3h0m114 0h0m-97 1h0m93 0h0m22 0h0m-13 1h0m4 1h0m-118 1h0m6 1h0m7 0h0m-15 1h0m0 0h0m116 0h0m-105 1h0m3 0h0m94 1h0m-195 1h0m94 1h0m2 0h0m10 1h0m-79 1h0m7 0h0m13 1h0m35 1h0m-40 1h0m12 0h0m49 1h0m-35 1h0m29 0h0m16 0h0m-43 1h0m16 0h0m-10 1h0m8 0h0m-10 1h0m5 0h0m25 0h0m-20 1h0m16 0h0m-2 1h0m11 0h0m-80 1h0m73 0h0m46 1h0m7 1h0m-77 1h0m32 0h0m5 0h0m39 0h0m15 0h0m-111 1h0m12 0h0m7 1h0m29 0h0m-32 1h0m16 0h0m28 0h0m-57 2h0m23 0h0m28 0h0m-61 1h0m6 0h0m34 0h0m2 0h0m76 0h0m-93 1h0m8 0h0m90 0h0m-96 1h0m28 0h0m-59 1h0m47 0h0m-49 1h0m25 0h0m9 0h0m7 0h0m11 0h0m-36 1h0m35 0h0m3 0h0m-24 1h0m-24 1h0m45 0h0m1 0h0m2 0h0m79 0h0m-78 1h0m60 0h0m-117 1h0m32 1h0m23 0h0m62 0h0m-65 1h0m3 0h0m79 0h0m-117 3h0m3 1h0m3 0h0m95 1h0m6 0h0m-127 1h0m-1 1h0m-50 1h0m190 0h0m11 0h0m-127 1h0m100 1h0m-189 1h0m69 0h0m2 0h0m9 0h0m-77 1h0m46 0h0m138 0h0m-3 2h0m-137 2h0m43 0h0m-64 2h0m-25 1h0m22 0h0m4 0h0m164 3h0m-159 1h0m-27 1h0m22 6h0m-18 2h0m2 4h0m4 3h0m0 1h0m119 39h0m1 1h0"/>
<path stroke="#457495" d="M805 599h0m6 8h0m5 3h0m-11 1h0m9 1h0m81 5h0m30 1h0m-111 1h0m131 0h0m-128 3h0m95 0h0m22 1h0m-117 1h0m4 1h0m1 1h0m95 3h0m-94 3h0m126 0h0m-125 1h0m67 1h0m-2 3h0m-6 7h0m64 4h0m3 0h0m-17 1h0m17 5h0m2 0h0m-7 3h0m12 4h0m-59 4h0m47 0h0m10 1h0m-49 4h0m48 1h0m5 1h0m2 0h0m14 0h0m-7 2h0m3 0h0m-10 2h0m-56 2h0m-10 2h0m44 0h0m44 0h0m-20 3h0m12 0h0m-71 2h0m2 0h0m66 0h0m-27 1h0m35 0h0m-42 1h0m-2 3h0m47 0h0m-34 2h0m-22 3h0m24 0h0m7 0h0m19 0h0m-115 1h0m77 1h0m10 0h0m34 0h0m-25 2h0m7 0h0m-13 1h0m-116 1h0m108 0h0m6 0h0m26 0h0m-137 1h0m108 1h0m-115 1h0m121 0h0m8 1h0m-36 1h0m5 0h0m32 1h0m-124 1h0m87 0h0m52 0h0m-29 1h0m20 1h0m5 0h0m5 1h0m-26 1h0m163 0h0m-146 1h0m-132 2h0m117 0h0m26 1h0m-61 1h0m41 0h0m-3 1h0m2 1h0m1 0h0m-68 1h0m62 0h0m10 0h0m3 1h0m-72 1h0m52 0h0m13 0h0m1 0h0m4 0h0m-28 1h0m-39 1h0m29 0h0m18 0h0m6 0h0m-54 1h0m46 1h0m16 0h0m7 0h0m5 3h0m-67 1h0m20 0h0m18 0h0m7 0h0m0 0h0m5 0h0m-61 1h0m66 0h0m-48 1h0m25 0h0m-40 1h0m-3 1h0m54 0h0m21 0h0m-29 1h0m29 1h0m-3 1h0m-24 1h0m22 0h0m-72 1h0m56 1h0m-30 1h0m38 0h0m-36 1h0m38 1h0m-40 2h0m40 0h0m-15 1h0m6 0h0m12 0h0m-20 2h0m4 0h0m6 0h0m16 0h0m1 0h0m-19 1h0m6 0h0m-9 2h0m17 1h0m-9 1h0m5 1h0m-30 2h0m35 0h0m13 0h0m-32 1h0m9 0h0m-45 1h0m65 0h0m-37 1h0m38 0h0m-45 1h0m29 0h0m-54 1h0m17 1h0m38 0h0m13 0h0m48 0h0m-80 1h0m17 0h0m20 0h0m50 1h0m-64 1h0m-131 1h0m123 2h0m11 0h0m56 1h0m-46 1h0m46 0h0m-69 1h0m10 0h0m59 1h0m-113 2h0m65 2h0m71 0h0m-73 1h0m-64 3h0m7 0h0m-16 2h0m24 0h0m97 0h0m-95 1h0m98 0h0m-112 1h0m5 5h0m11 0h0m-58 1h0m54 4h0m4 0h0m-10 2h0m-13 1h0m9 0h0m21 0h0m-26 1h0m2 3h0m-4 1h0m12 0h0m4 0h0m-29 1h0m-47 1h0m27 0h0m35 0h0m9 0h0m23 0h0m40 0h0m-116 1h0m15 0h0m16 0h0m2 0h0m5 0h0m10 0h0m26 0h0m-38 1h0m30 0h0m63 0h0m-121 1h0m-32 1h0m25 0h0m15 0h0m20 0h0m-9 1h0m24 0h0m77 0h0m-120 1h0m41 0h0m-23 1h0m12 0h0m25 0h0m3 0h0m62 0h0m7 0h0m-57 1h0m-47 1h0m27 0h0m2 0h0m2 0h0m80 0h0m-4 1h0m-130 1h0m49 0h0m91 0h0m-122 1h0m30 0h0m20 0h0m-52 1h0m6 0h0m13 0h0m16 0h0m4 0h0m1 0h0m8 0h0m-48 2h0m19 0h0m5 0h0m78 2h0m22 0h0m-126 1h0m1 0h0m21 0h0m0 0h0m23 0h0m-54 1h0m17 0h0m95 0h0m20 0h0m-113 1h0m21 0h0m3 0h0m65 0h0m-122 1h0m50 0h0m94 0h0m-141 1h0m6 0h0m23 0h0m27 0h0m65 0h0m-119 1h0m15 0h0m12 0h0m6 0h0m-31 1h0m44 0h0m-96 1h0m43 0h0m24 0h0m16 1h0m-17 1h0m10 0h0m9 0h0m-91 1h0m5 0h0m-1 2h0m60 0h0m2 0h0m9 0h0m-70 2h0m35 0h0m2 0h0m32 0h0m105 0h0m-160 1h0m47 0h0m3 0h0m-81 1h0m12 0h0m58 0h0m-3 1h0m141 0h0m-20 1h0m21 0h0m-134 2h0m-67 3h0m173 0h0m-154 1h0m-2 2h0m-20 2h0m13 0h0m-5 6h0m19 0h0m-21 11h0m204 26h0m-37 2h0m2 0h0m-39 2h0m59 1h0m-58 3h0m3 0h0m69 0h0"/>
<path stroke="#437995" d="M806 609h0m2 0h0m9 0h0m-5 1h0m96 0h0m10 1h0m-105 1h0m4 0h0m91 3h0m25 3h0m17 1h0m-128 1h0m105 0h0m-5 2h0m-106 2h0m3 2h0m92 2h0m10 0h0m-100 2h0m83 1h0m16 0h0m-14 2h0m-4 2h0m5 0h0m7 0h0m23 3h0m-4 2h0m2 6h0m9 1h0m-29 1h0m35 2h0m-30 3h0m28 1h0m-7 3h0m-32 1h0m49 1h0m-16 2h0m-5 1h0m11 1h0m25 4h0m-11 2h0m6 0h0m5 1h0m-34 1h0m26 0h0m-61 1h0m46 0h0m9 0h0m3 0h0m1 2h0m10 1h0m-34 2h0m24 0h0m20 1h0m-33 2h0m26 0h0m-14 1h0m5 0h0m20 0h0m-50 1h0m1 0h0m-37 1h0m40 0h0m6 0h0m15 0h0m13 2h0m7 0h0m-14 1h0m-1 1h0m-59 1h0m54 0h0m19 0h0m-15 1h0m15 0h0m-41 1h0m5 0h0m33 0h0m-35 1h0m5 0h0m-11 1h0m28 0h0m7 0h0m-40 2h0m51 0h0m-10 2h0m-38 1h0m40 0h0m-23 1h0m16 0h0m13 0h0m-144 1h0m61 0h0m43 0h0m39 0h0m-16 1h0m8 1h0m-136 1h0m134 0h0m5 0h0m4 0h0m-212 1h0m145 0h0m47 0h0m13 0h0m-48 1h0m31 0h0m-32 2h0m9 1h0m7 0h0m14 0h0m-21 1h0m24 0h0m160 0h0m-156 1h0m-36 1h0m8 0h0m14 0h0m-34 1h0m41 0h0m157 1h0m-175 1h0m-90 1h0m101 0h0m-48 2h0m6 0h0m24 0h0m2 1h0m26 0h0m8 0h0m14 0h0m-33 1h0m-14 1h0m10 0h0m10 0h0m21 1h0m0 0h0m-26 1h0m13 0h0m-5 1h0m19 0h0m-30 1h0m35 0h0m-60 1h0m15 0h0m6 0h0m38 0h0m-5 1h0m-38 1h0m19 1h0m-22 1h0m35 0h0m-31 1h0m-23 1h0m22 2h0m5 0h0m8 0h0m9 0h0m8 0h0m-73 1h0m50 0h0m16 1h0m-68 1h0m5 0h0m55 2h0m12 0h0m-26 1h0m6 0h0m-32 1h0m57 0h0m0 0h0m3 0h0m-79 1h0m78 0h0m-75 2h0m7 0h0m3 3h0m65 3h0m-32 1h0m16 0h0m-46 2h0m30 0h0m7 0h0m8 0h0m6 0h0m18 0h0m-24 1h0m10 0h0m12 0h0m-39 1h0m30 0h0m-15 1h0m11 0h0m-27 1h0m31 0h0m14 0h0m-36 1h0m-4 1h0m4 0h0m-22 1h0m20 0h0m8 0h0m11 1h0m-27 1h0m11 0h0m8 0h0m-8 1h0m5 0h0m13 1h0m7 0h0m7 0h0m-29 1h0m3 1h0m3 1h0m-6 1h0m32 0h0m60 2h0m-131 1h0m135 0h0m-85 2h0m73 1h0m-66 1h0m80 0h0m-129 1h0m109 0h0m12 1h0m-64 1h0m67 1h0m-147 5h0m38 4h0m114 2h0m-175 3h0m-31 1h0m83 0h0m-66 3h0m10 2h0m41 0h0m24 0h0m2 0h0m83 1h0m-151 1h0m50 0h0m5 0h0m8 0h0m-71 1h0m66 0h0m-24 1h0m35 1h0m-61 1h0m9 0h0m11 0h0m23 0h0m110 0h0m-164 1h0m23 0h0m-6 1h0m20 0h0m9 0h0m65 0h0m6 0h0m7 0h0m3 0h0m-73 1h0m24 0h0m48 0h0m-119 1h0m21 0h0m16 0h0m17 0h0m11 0h0m-87 1h0m31 0h0m67 0h0m69 0h0m-129 1h0m20 0h0m19 0h0m-121 1h0m34 0h0m12 0h0m40 0h0m22 0h0m-3 2h0m19 0h0m-81 1h0m23 0h0m61 0h0m65 0h0m6 0h0m-86 1h0m98 0h0m-134 1h0m11 0h0m13 0h0m-41 1h0m13 0h0m13 0h0m125 0h0m-3 1h0m-79 1h0m3 0h0m-67 1h0m17 0h0m2 0h0m13 1h0m100 0h0m9 0h0m-100 1h0m82 0h0m21 0h0m-139 1h0m7 0h0m7 0h0m42 0h0m78 0h0m-89 1h0m104 0h0m-117 1h0m3 0h0m0 0h0m100 0h0m-137 1h0m9 0h0m22 0h0m15 1h0m97 0h0m-112 1h0m8 0h0m94 0h0m-130 1h0m128 0h0m-118 1h0m126 0h0m-130 1h0m-22 2h0m10 1h0m5 0h0m10 0h0m109 0h0m-106 1h0m126 1h0m-171 1h0m5 0h0m23 0h0m117 0h0m-119 1h0m-40 1h0m155 0h0m33 0h0m-187 1h0m54 0h0m109 0h0m-193 3h0m13 0h0m6 1h0m64 0h0m-68 2h0m9 2h0m10 3h0m1 1h0m-2 1h0m1 3h0m-22 3h0m0 2h0m200 35h0m-8 4h0m9 0h0m-77 3h0"/>
<path stroke="#407f95" d="M802 602h0m4 5h0m9 2h0m108 2h0m-103 1h0m116 0h0m-16 2h0m5 0h0m14 0h0m-12 2h0m-12 1h0m-91 1h0m70 2h0m-73 1h0m91 3h0m19 0h0m15 4h0m2 0h0m-41 2h0m15 0h0m16 0h0m-7 5h0m-45 2h0m25 1h0m1 1h0m20 0h0m-35 2h0m2 1h0m37 0h0m-30 4h0m-6 1h0m2 0h0m52 1h0m-8 1h0m-5 1h0m-42 2h0m48 0h0m6 0h0m-32 1h0m-8 1h0m29 3h0m13 0h0m-11 2h0m11 8h0m7 1h0m7 0h0m-27 2h0m29 0h0m-71 1h0m51 0h0m27 0h0m-20 1h0m21 0h0m-31 1h0m23 0h0m0 0h0m-27 1h0m34 0h0m-31 1h0m21 0h0m-31 1h0m8 0h0m12 2h0m3 1h0m-15 1h0m0 1h0m-108 1h0m103 1h0m4 0h0m24 0h0m10 1h0m-141 1h0m6 0h0m104 0h0m18 0h0m-120 2h0m98 0h0m29 0h0m-33 1h0m35 0h0m-22 1h0m25 0h0m-7 1h0m-24 2h0m3 0h0m-19 1h0m36 0h0m-48 1h0m17 0h0m19 1h0m15 0h0m1 0h0m-14 1h0m9 0h0m12 0h0m-39 1h0m-13 1h0m10 0h0m14 0h0m10 0h0m17 0h0m3 0h0m-136 1h0m119 0h0m13 0h0m-47 1h0m2 0h0m13 0h0m-10 1h0m30 0h0m-12 1h0m-122 2h0m104 0h0m32 0h0m3 0h0m-29 2h0m2 0h0m29 0h0m-2 1h0m3 0h0m-6 1h0m-13 1h0m-46 1h0m20 0h0m28 0h0m-40 1h0m-148 1h0m167 0h0m21 0h0m-42 1h0m67 0h0m-84 1h0m46 0h0m32 0h0m-222 1h0m195 1h0m-10 1h0m17 0h0m-60 1h0m7 1h0m17 1h0m40 0h0m18 0h0m4 0h0m-219 1h0m145 2h0m10 1h0m11 0h0m8 0h0m-30 1h0m-145 2h0m141 1h0m-1 2h0m18 1h0m22 1h0m3 0h0m2 0h0m-48 2h0m67 0h0m-28 1h0m15 0h0m-57 1h0m29 0h0m7 0h0m2 1h0m-35 1h0m50 1h0m-4 2h0m-35 2h0m29 0h0m4 0h0m-10 1h0m33 0h0m-58 1h0m62 0h0m-14 1h0m2 0h0m12 0h0m5 0h0m-58 1h0m26 0h0m13 0h0m-59 1h0m18 0h0m26 1h0m24 0h0m8 1h0m1 0h0m-35 1h0m3 0h0m8 0h0m28 1h0m-39 1h0m7 0h0m-46 1h0m64 0h0m-37 1h0m10 0h0m7 0h0m31 0h0m-4 1h0m9 0h0m-50 2h0m9 0h0m14 0h0m12 0h0m11 0h0m-80 1h0m63 0h0m5 0h0m8 1h0m4 0h0m-18 1h0m-7 1h0m-16 1h0m21 0h0m2 0h0m75 0h0m-87 1h0m2 0h0m25 0h0m7 0h0m47 0h0m-125 2h0m51 0h0m21 0h0m-19 3h0m16 1h0m4 0h0m-40 1h0m-25 2h0m68 0h0m36 0h0m-89 2h0m37 0h0m9 0h0m52 1h0m-119 3h0m31 1h0m-111 1h0m85 0h0m-84 1h0m94 1h0m-96 3h0m-2 3h0m46 1h0m-26 2h0m66 0h0m19 0h0m-73 1h0m67 2h0m17 0h0m97 1h0m-216 1h0m104 0h0m82 0h0m-132 1h0m-29 1h0m12 0h0m17 1h0m-35 1h0m41 0h0m155 0h0m-167 1h0m19 0h0m16 0h0m16 0h0m113 0h0m-146 1h0m17 0h0m43 0h0m-56 1h0m6 0h0m87 0h0m5 0h0m-131 1h0m36 0h0m103 0h0m-105 1h0m31 0h0m-63 1h0m53 0h0m21 0h0m-50 1h0m23 0h0m1 0h0m-30 1h0m23 0h0m-57 1h0m13 0h0m22 0h0m10 0h0m2 0h0m7 0h0m3 0h0m4 0h0m11 0h0m30 0h0m-64 2h0m32 0h0m7 0h0m16 0h0m8 0h0m-53 1h0m46 0h0m-77 1h0m40 0h0m101 0h0m-126 1h0m-6 1h0m28 0h0m113 0h0m-198 1h0m98 0h0m12 1h0m-49 1h0m3 0h0m62 0h0m-28 1h0m-29 1h0m55 0h0m-30 1h0m22 1h0m88 0h0m-90 1h0m-60 1h0m15 0h0m104 0h0m10 0h0m23 0h0m7 0h0m-122 1h0m5 0h0m99 0h0m-114 1h0m93 0h0m-122 1h0m-5 2h0m9 0h0m150 1h0m-144 1h0m-19 1h0m4 0h0m129 0h0m-163 1h0m4 0h0m28 0h0m10 0h0m26 0h0m11 0h0m89 0h0m-148 1h0m18 0h0m136 0h0m-11 2h0m-129 1h0m18 0h0m4 0h0m107 1h0m-161 1h0m51 0h0m111 0h0m6 0h0m-162 1h0m37 0h0m4 0h0m121 0h0m-119 1h0m-14 1h0m130 0h0m-178 1h0m9 1h0m166 1h0m-177 6h0m22 1h0m-3 1h0m-12 1h0m0 5h0m165 26h0m-43 12h0m43 0h0m3 4h0m-2 1h0"/>
<path stroke="#3e8595" d="M805 602h0m7 3h0m107 1h0m-115 2h0m107 4h0m11 0h0m-26 1h0m49 1h0m-11 1h0m-18 1h0m6 0h0m-24 1h0m14 0h0m6 0h0m-11 1h0m25 0h0m9 1h0m-36 2h0m34 1h0m-10 1h0m-22 2h0m8 0h0m-20 3h0m10 3h0m3 1h0m9 0h0m-24 1h0m9 0h0m22 1h0m4 1h0m-5 1h0m18 0h0m-50 4h0m49 0h0m-43 2h0m8 0h0m8 1h0m17 0h0m-22 1h0m-28 6h0m46 0h0m21 0h0m-50 1h0m8 0h0m15 1h0m36 4h0m-50 1h0m-7 2h0m4 0h0m35 0h0m4 0h0m-31 1h0m38 0h0m-36 1h0m32 0h0m11 1h0m-44 1h0m44 1h0m2 1h0m1 0h0m-17 3h0m18 1h0m12 2h0m-12 1h0m-19 2h0m34 0h0m8 0h0m-29 1h0m4 1h0m3 1h0m5 0h0m11 0h0m2 0h0m3 0h0m-11 1h0m4 0h0m-55 1h0m25 0h0m39 0h0m-66 1h0m36 0h0m-56 1h0m62 0h0m-20 1h0m6 0h0m6 0h0m13 0h0m-27 1h0m13 0h0m4 0h0m-6 2h0m2 1h0m4 0h0m28 0h0m-76 1h0m30 0h0m18 0h0m19 0h0m9 0h0m-51 2h0m24 1h0m1 0h0m23 0h0m-141 1h0m120 0h0m17 0h0m-31 1h0m10 0h0m21 1h0m-47 1h0m4 0h0m13 1h0m27 0h0m-30 1h0m26 0h0m6 1h0m8 1h0m-40 1h0m-17 1h0m20 0h0m13 0h0m-13 2h0m34 0h0m-19 1h0m-30 1h0m1 0h0m7 0h0m1 0h0m3 0h0m6 0h0m18 1h0m9 0h0m-41 1h0m5 0h0m14 0h0m-90 1h0m65 0h0m41 0h0m-15 1h0m6 0h0m3 0h0m2 0h0m-75 1h0m74 1h0m-64 1h0m56 0h0m-47 1h0m16 0h0m18 0h0m9 0h0m-38 1h0m56 0h0m-71 1h0m45 0h0m20 0h0m-64 1h0m77 0h0m-49 1h0m2 0h0m-43 1h0m6 0h0m27 0h0m2 0h0m-17 1h0m2 0h0m8 0h0m31 0h0m161 0h0m-182 1h0m34 1h0m-127 1h0m51 0h0m17 0h0m69 0h0m-85 2h0m87 0h0m-88 1h0m25 0h0m60 0h0m-35 1h0m-26 1h0m10 0h0m10 0h0m-6 1h0m16 0h0m-43 1h0m37 0h0m25 0h0m-50 2h0m10 0h0m-28 1h0m11 0h0m30 0h0m-23 1h0m12 0h0m13 0h0m-42 2h0m28 0h0m12 0h0m11 0h0m27 0h0m-65 1h0m5 0h0m-10 2h0m12 0h0m33 0h0m-24 1h0m8 1h0m31 1h0m4 1h0m-72 1h0m68 0h0m-64 1h0m38 0h0m12 0h0m9 0h0m14 0h0m-64 1h0m46 0h0m-53 1h0m40 0h0m-36 1h0m46 0h0m13 0h0m-57 1h0m62 0h0m-58 1h0m41 1h0m3 2h0m0 2h0m26 0h0m-29 1h0m11 1h0m10 0h0m-20 1h0m21 1h0m-136 3h0m114 0h0m19 0h0m-34 2h0m28 1h0m-124 1h0m114 0h0m80 0h0m-75 1h0m5 0h0m14 0h0m-8 1h0m2 0h0m0 2h0m-135 1h0m124 0h0m3 0h0m-6 1h0m10 0h0m-34 1h0m18 0h0m21 0h0m68 0h0m-75 2h0m-122 1h0m128 0h0m-55 2h0m17 0h0m-92 7h0m205 2h0m-226 1h0m5 5h0m93 1h0m-80 1h0m-9 1h0m47 0h0m-46 1h0m79 0h0m-61 1h0m35 0h0m-39 1h0m175 0h0m-100 1h0m18 0h0m-81 1h0m2 0h0m17 0h0m58 0h0m-98 3h0m32 0h0m27 0h0m21 0h0m23 0h0m-57 1h0m49 0h0m9 0h0m-65 1h0m4 0h0m11 0h0m1 0h0m12 0h0m-47 1h0m42 0h0m41 0h0m-64 1h0m5 0h0m18 0h0m-73 1h0m18 0h0m33 0h0m12 0h0m12 0h0m88 0h0m4 0h0m33 0h0m5 0h0m-151 1h0m15 0h0m132 0h0m-171 2h0m52 0h0m83 0h0m28 0h0m-162 1h0m88 0h0m53 0h0m-95 1h0m18 0h0m109 0h0m-176 1h0m27 0h0m20 0h0m9 0h0m113 0h0m-153 1h0m40 0h0m19 0h0m-56 1h0m22 0h0m10 0h0m6 0h0m20 0h0m78 0h0m-137 1h0m4 0h0m129 0h0m-100 1h0m-56 1h0m13 0h0m33 1h0m5 0h0m4 0h0m8 0h0m101 0h0m-88 1h0m72 1h0m14 0h0m-141 1h0m31 0h0m4 0h0m29 0h0m88 1h0m-149 1h0m23 0h0m-66 1h0m47 0h0m1 0h0m12 0h0m24 0h0m112 0h0m-159 1h0m17 0h0m35 0h0m-25 1h0m95 0h0m-100 1h0m120 0h0m8 0h0m-133 1h0m16 0h0m4 0h0m-31 1h0m6 0h0m136 1h0m-162 1h0m7 0h0m19 1h0m10 0h0m9 0h0m119 0h0m-170 1h0m14 0h0m27 0h0m8 0h0m117 0h0m-193 2h0m61 0h0m142 0h0m-151 1h0m18 0h0m-34 1h0m7 0h0m31 0h0m-35 1h0m24 0h0m6 0h0m124 0h0m5 0h0m-145 1h0m10 0h0m-5 1h0m-10 1h0m5 0h0m10 0h0m-81 1h0m23 0h0m1 0h0m8 2h0m159 0h0m-182 18h0m195 33h0m12 0h0m-37 1h0m30 1h0m-77 6h0m7 3h0"/>
<path stroke="#3c8a95" d="M812 607h0m108 2h0m-10 6h0m19 1h0m9 1h0m-14 3h0m27 1h0m-44 1h0m36 0h0m1 0h0m-122 1h0m70 1h0m27 0h0m-6 2h0m6 0h0m-22 1h0m43 1h0m9 1h0m-40 1h0m-14 4h0m13 0h0m31 0h0m-48 3h0m2 1h0m33 3h0m-33 1h0m28 0h0m-16 2h0m-10 1h0m57 1h0m-26 1h0m-4 1h0m-23 1h0m17 2h0m-6 1h0m42 0h0m-9 1h0m-36 1h0m16 0h0m1 0h0m27 0h0m-11 2h0m7 0h0m2 1h0m3 3h0m-36 1h0m26 0h0m9 0h0m4 0h0m5 5h0m-9 1h0m-6 1h0m33 0h0m-20 1h0m9 0h0m10 0h0m-4 1h0m-29 1h0m19 0h0m-11 2h0m1 0h0m11 0h0m8 4h0m-32 2h0m11 0h0m12 0h0m2 0h0m13 0h0m-31 2h0m26 0h0m7 0h0m6 2h0m-15 1h0m14 0h0m2 0h0m-30 1h0m-17 1h0m23 0h0m4 0h0m9 1h0m9 0h0m-142 2h0m99 1h0m3 0h0m-6 1h0m35 0h0m-24 1h0m-2 2h0m2 0h0m10 0h0m7 0h0m-36 2h0m5 0h0m18 0h0m7 0h0m18 0h0m2 0h0m-37 1h0m15 0h0m-124 1h0m109 1h0m22 0h0m4 0h0m-15 1h0m-32 1h0m14 0h0m-2 1h0m-101 1h0m103 0h0m42 1h0m-43 1h0m12 0h0m-16 1h0m14 0h0m-10 1h0m34 1h0m-72 1h0m29 0h0m18 0h0m25 0h0m-206 1h0m68 0h0m126 0h0m3 0h0m-65 1h0m4 0h0m45 0h0m8 0h0m15 0h0m9 0h0m-162 1h0m109 1h0m2 0h0m-34 1h0m56 0h0m-183 1h0m140 0h0m6 0h0m15 0h0m-110 1h0m68 0h0m24 0h0m8 0h0m46 0h0m-206 1h0m15 0h0m113 0h0m30 0h0m-29 1h0m6 0h0m63 0h0m159 0h0m-181 1h0m-4 1h0m20 0h0m-136 1h0m85 0h0m53 0h0m-195 1h0m128 0h0m6 0h0m29 0h0m10 0h0m35 0h0m-75 1h0m31 0h0m45 1h0m-49 1h0m-10 1h0m70 1h0m-45 1h0m-41 1h0m9 0h0m71 0h0m-82 2h0m32 0h0m-25 1h0m24 0h0m-12 1h0m20 0h0m6 0h0m37 0h0m-82 1h0m13 1h0m10 0h0m28 0h0m6 0h0m23 0h0m-48 1h0m29 0h0m14 1h0m-10 1h0m-37 1h0m17 0h0m-28 1h0m21 0h0m36 1h0m3 0h0m-57 1h0m30 0h0m10 0h0m-2 1h0m-48 1h0m40 0h0m19 0h0m-64 1h0m30 0h0m5 0h0m-21 1h0m-5 2h0m70 0h0m-74 1h0m2 1h0m37 0h0m4 2h0m29 0h0m-3 1h0m-12 2h0m-10 1h0m16 0h0m-41 2h0m22 0h0m18 0h0m7 0h0m-12 2h0m16 0h0m0 0h0m6 0h0m-26 2h0m13 1h0m2 0h0m-24 1h0m1 0h0m19 0h0m-3 2h0m4 1h0m16 0h0m-14 1h0m-12 1h0m4 0h0m14 0h0m-137 1h0m2 0h0m-23 2h0m5 2h0m-2 1h0m146 0h0m-144 2h0m21 0h0m3 3h0m70 2h0m-62 3h0m-55 3h0m5 0h0m2 0h0m52 1h0m-32 3h0m18 0h0m10 0h0m6 0h0m176 0h0m-174 1h0m-16 1h0m64 1h0m7 0h0m-111 1h0m58 0h0m5 0h0m51 0h0m-92 1h0m26 0h0m-66 1h0m75 0h0m1 0h0m-53 1h0m56 1h0m-29 1h0m21 0h0m-6 1h0m25 0h0m48 0h0m-45 1h0m30 0h0m27 0h0m-113 1h0m83 0h0m10 0h0m71 0h0m-144 1h0m18 0h0m25 0h0m41 0h0m-23 1h0m9 0h0m102 0h0m-217 1h0m64 0h0m58 0h0m98 0h0m-163 1h0m23 0h0m111 0h0m-162 1h0m78 0h0m4 0h0m3 0h0m-42 1h0m12 0h0m46 0h0m13 0h0m-63 1h0m0 1h0m8 0h0m137 0h0m-213 1h0m37 0h0m3 0h0m11 0h0m4 0h0m28 0h0m9 0h0m-120 1h0m58 0h0m25 0h0m46 0h0m21 0h0m7 0h0m82 0h0m-147 1h0m12 0h0m25 0h0m-1 1h0m11 0h0m87 0h0m13 0h0m-165 1h0m30 0h0m118 0h0m10 0h0m-206 1h0m64 0h0m29 0h0m11 0h0m89 0h0m-88 2h0m94 0h0m-141 1h0m19 0h0m135 0h0m-217 1h0m3 0h0m61 0h0m34 0h0m13 0h0m88 0h0m9 0h0m-174 2h0m31 0h0m22 0h0m115 0h0m4 0h0m-168 2h0m26 0h0m21 0h0m5 0h0m139 0h0m-151 1h0m8 0h0m123 0h0m19 0h0m-45 1h0m-118 1h0m23 0h0m97 0h0m9 0h0m-135 1h0m14 0h0m134 0h0m-144 2h0m17 0h0m104 0h0m-137 1h0m12 0h0m5 0h0m13 0h0m130 0h0m8 0h0m-152 2h0m28 0h0m-2 1h0m98 0h0m-179 1h0m50 0h0m132 0h0m21 0h0m-164 1h0m14 0h0m10 0h0m15 0h0m-34 2h0m2 1h0m8 0h0m20 1h0m103 0h0m-115 1h0m122 2h0m-178 2h0m174 0h0m-168 8h0m158 29h0m1 7h0m2 0h0m-1 10h0"/>
<path stroke="#3a8f95" d="M808 602h0m-5 3h0m100 5h0m7 1h0m-13 2h0m19 0h0m19 0h0m-14 2h0m-27 1h0m11 1h0m16 0h0m-28 1h0m49 0h0m-29 1h0m-10 1h0m1 0h0m22 1h0m-22 1h0m12 0h0m15 0h0m-20 1h0m4 0h0m-11 1h0m17 3h0m4 0h0m25 0h0m-22 1h0m16 0h0m-54 1h0m16 0h0m-13 1h0m10 0h0m-13 1h0m24 0h0m26 0h0m-25 1h0m-16 1h0m5 0h0m32 0h0m-9 1h0m3 0h0m-19 1h0m5 1h0m-7 1h0m4 0h0m-31 2h0m65 0h0m-67 1h0m23 0h0m10 0h0m2 0h0m-16 1h0m8 0h0m31 0h0m-37 1h0m-7 1h0m4 0h0m35 1h0m8 0h0m-60 1h0m8 0h0m28 2h0m28 0h0m-62 2h0m1 1h0m11 0h0m-7 1h0m31 1h0m-30 2h0m8 0h0m-6 1h0m13 1h0m33 1h0m2 6h0m19 0h0m-11 5h0m25 0h0m-19 1h0m4 0h0m-13 2h0m24 0h0m-128 1h0m127 1h0m-126 1h0m101 0h0m21 0h0m-121 1h0m109 1h0m17 0h0m7 0h0m6 0h0m4 0h0m-43 1h0m-26 1h0m53 0h0m10 0h0m6 0h0m-23 1h0m-119 1h0m115 1h0m1 0h0m4 0h0m-130 1h0m9 1h0m94 0h0m45 0h0m-38 1h0m48 0h0m-10 1h0m-38 1h0m10 0h0m21 0h0m-140 2h0m78 0h0m58 0h0m8 0h0m-43 2h0m27 0h0m-121 1h0m79 0h0m13 0h0m-4 1h0m-88 1h0m87 0h0m25 0h0m10 0h0m6 0h0m14 0h0m-47 1h0m2 0h0m41 0h0m-44 1h0m25 0h0m-4 4h0m27 0h0m-47 1h0m3 0h0m14 1h0m-3 1h0m-23 1h0m18 0h0m16 2h0m-39 1h0m34 0h0m2 0h0m17 1h0m2 0h0m-223 1h0m74 0h0m2 1h0m127 0h0m-8 1h0m-191 1h0m178 0h0m9 0h0m14 0h0m-148 2h0m92 0h0m6 0h0m14 0h0m8 1h0m-164 1h0m45 0h0m-42 1h0m40 0h0m123 0h0m-172 1h0m121 0h0m11 1h0m10 0h0m23 1h0m2 0h0m-26 1h0m11 0h0m-3 1h0m-149 1h0m142 0h0m2 0h0m-143 1h0m9 0h0m120 2h0m-3 1h0m1 0h0m33 0h0m27 0h0m-53 1h0m11 0h0m16 0h0m5 0h0m-36 1h0m52 0h0m-44 1h0m13 0h0m-20 2h0m22 0h0m-28 1h0m17 0h0m30 1h0m3 0h0m-12 1h0m-41 1h0m3 0h0m48 0h0m-35 1h0m5 0h0m28 0h0m-34 1h0m38 0h0m9 1h0m-40 1h0m22 0h0m15 0h0m16 0h0m-18 1h0m15 0h0m-29 1h0m23 0h0m6 0h0m-23 1h0m3 0h0m5 0h0m-51 1h0m70 0h0m-8 1h0m14 0h0m-75 1h0m21 1h0m-15 1h0m8 0h0m-6 1h0m16 0h0m45 2h0m2 0h0m-60 1h0m-6 1h0m5 0h0m74 1h0m-5 1h0m-30 1h0m-2 1h0m18 1h0m-130 2h0m122 0h0m-4 1h0m19 0h0m-23 1h0m34 0h0m-162 2h0m19 0h0m136 0h0m-27 1h0m14 0h0m-138 1h0m160 0h0m-16 1h0m12 0h0m-20 1h0m8 2h0m-140 1h0m26 0h0m112 0h0m-129 1h0m7 0h0m126 1h0m-153 1h0m156 1h0m-145 1h0m10 0h0m11 1h0m-20 2h0m141 0h0m-144 1h0m-5 1h0m-36 2h0m51 1h0m-7 1h0m-42 2h0m12 2h0m4 0h0m63 1h0m171 0h0m7 0h0m-245 1h0m25 0h0m42 1h0m7 0h0m-25 2h0m15 0h0m-39 1h0m28 0h0m3 0h0m190 0h0m-179 1h0m-4 1h0m14 0h0m-98 1h0m43 0h0m58 0h0m148 0h0m7 0h0m-148 1h0m-82 1h0m48 0h0m4 2h0m175 0h0m-170 1h0m13 0h0m27 0h0m4 0h0m-29 1h0m11 1h0m17 0h0m72 0h0m-102 1h0m-35 1h0m178 0h0m-171 1h0m204 0h0m-206 1h0m-32 1h0m56 0h0m15 0h0m2 0h0m13 0h0m-116 1h0m260 0h0m-185 1h0m31 0h0m-69 1h0m7 1h0m59 0h0m21 0h0m37 0h0m91 0h0m-180 1h0m6 0h0m50 0h0m108 0h0m-224 1h0m74 0h0m149 0h0m-112 1h0m18 0h0m82 0h0m10 0h0m-135 1h0m30 0h0m2 0h0m5 0h0m106 0h0m3 0h0m-239 1h0m37 0h0m56 0h0m6 0h0m3 0h0m9 0h0m123 0h0m25 0h0m-160 1h0m14 0h0m6 0h0m37 0h0m80 0h0m4 0h0m13 0h0m-31 1h0m2 0h0m10 0h0m-234 1h0m28 0h0m67 0h0m15 0h0m144 0h0m-173 1h0m15 0h0m13 0h0m16 0h0m136 0h0m-219 1h0m41 0h0m33 0h0m126 0h0m-122 1h0m-64 1h0m44 0h0m5 0h0m144 0h0m-127 1h0m-43 1h0m162 0h0m-153 1h0m123 0h0m13 0h0m11 0h0m-151 1h0m20 0h0m153 0h0m-133 1h0m111 0h0m27 0h0m-181 1h0m30 1h0m4 1h0m119 0h0m-154 1h0m10 0h0m-18 1h0m44 0h0m-13 1h0m126 0h0m-163 1h0m5 1h0m3 0h0m29 0h0m15 0h0m-36 1h0m150 0h0m-155 2h0m4 0h0m151 0h0m-158 2h0m134 2h0m-4 2h0m-5 37h0m2 3h0m-4 5h0m37 1h0m1 0h0m3 1h0m-10 1h0m2 1h0m-1 3h0m3 0h0m-34 7h0"/>
<path stroke="#389494" d="M798 606h0m143 4h0m-6 1h0m13 0h0m-46 1h0m-2 1h0m12 0h0m6 1h0m13 2h0m10 0h0m-23 1h0m24 0h0m-33 1h0m2 0h0m17 0h0m2 0h0m19 0h0m-16 1h0m2 0h0m-37 1h0m2 2h0m19 0h0m21 1h0m-43 1h0m51 0h0m0 0h0m-26 2h0m1 0h0m23 0h0m-4 1h0m-49 1h0m16 1h0m19 1h0m16 0h0m6 0h0m-58 1h0m9 0h0m10 0h0m26 0h0m5 0h0m-53 1h0m-1 1h0m2 0h0m22 0h0m6 1h0m14 0h0m14 0h0m2 0h0m1 0h0m-62 1h0m11 0h0m-2 2h0m21 0h0m-38 1h0m4 0h0m31 0h0m24 1h0m-51 1h0m24 0h0m-7 1h0m25 0h0m16 0h0m-47 1h0m29 1h0m-31 1h0m1 0h0m-11 1h0m46 0h0m-49 1h0m26 0h0m8 0h0m-18 1h0m20 0h0m-35 1h0m13 0h0m21 0h0m7 0h0m-42 3h0m21 0h0m23 0h0m5 0h0m18 0h0m-54 1h0m31 1h0m-10 1h0m25 0h0m7 0h0m-13 1h0m7 0h0m10 0h0m-45 1h0m-3 1h0m6 0h0m44 1h0m-50 1h0m41 0h0m-56 1h0m19 0h0m46 2h0m-47 1h0m54 0h0m-57 1h0m49 0h0m-6 2h0m-10 6h0m39 0h0m-34 1h0m-100 2h0m118 0h0m3 0h0m4 1h0m-22 1h0m24 0h0m20 0h0m-70 1h0m58 2h0m-45 1h0m35 0h0m6 1h0m-24 1h0m4 0h0m-31 1h0m-85 2h0m2 0h0m84 0h0m43 1h0m-25 1h0m22 0h0m22 0h0m-44 1h0m-105 2h0m6 0h0m120 0h0m15 2h0m2 1h0m-144 1h0m107 0h0m-36 1h0m24 2h0m8 0h0m-11 1h0m5 0h0m35 1h0m-137 1h0m127 0h0m-10 1h0m8 0h0m8 1h0m11 1h0m5 0h0m-7 2h0m-31 1h0m25 0h0m-43 1h0m-169 1h0m141 0h0m13 0h0m25 0h0m1 0h0m-187 1h0m214 0h0m-31 1h0m20 0h0m31 0h0m-168 1h0m112 0h0m3 0h0m8 0h0m30 0h0m-213 1h0m0 0h0m79 0h0m63 0h0m25 0h0m-162 1h0m5 0h0m165 0h0m8 0h0m9 0h0m-197 1h0m9 0h0m76 0h0m56 0h0m2 0h0m16 0h0m1 0h0m12 0h0m-166 1h0m146 0h0m-4 1h0m15 0h0m16 0h0m-177 1h0m144 0h0m6 0h0m18 0h0m-96 1h0m60 0h0m18 1h0m8 0h0m15 0h0m-20 1h0m-70 1h0m58 0h0m39 0h0m2 0h0m-179 1h0m128 0h0m14 0h0m19 0h0m7 0h0m-20 1h0m11 0h0m33 0h0m-53 1h0m2 0h0m37 0h0m-178 1h0m132 0h0m23 0h0m5 0h0m-25 1h0m46 0h0m-49 1h0m28 0h0m-5 1h0m-13 1h0m8 0h0m22 1h0m-26 2h0m16 0h0m8 2h0m14 0h0m-22 1h0m7 0h0m3 0h0m-1 1h0m-34 1h0m-1 1h0m59 0h0m5 0h0m7 0h0m3 0h0m-59 1h0m16 0h0m15 0h0m3 0h0m13 0h0m-57 1h0m6 0h0m-6 2h0m45 0h0m22 1h0m-54 1h0m32 1h0m22 1h0m-26 1h0m4 1h0m24 0h0m-58 2h0m43 4h0m4 1h0m-129 3h0m135 2h0m-135 1h0m-6 1h0m150 0h0m-21 2h0m2 0h0m-128 1h0m8 0h0m138 3h0m7 0h0m-14 3h0m-133 2h0m16 0h0m68 1h0m-88 2h0m18 1h0m193 1h0m-186 3h0m179 4h0m-239 2h0m31 2h0m43 0h0m-65 1h0m47 0h0m15 0h0m-13 1h0m7 0h0m17 0h0m167 0h0m-208 1h0m39 0h0m5 0h0m-38 1h0m27 0h0m-57 2h0m25 0h0m30 0h0m-26 1h0m13 0h0m26 0h0m160 0h0m7 0h0m-190 1h0m175 0h0m-184 1h0m-35 1h0m11 0h0m81 0h0m1 0h0m138 0h0m-259 1h0m52 0h0m10 0h0m6 0h0m5 0h0m-22 1h0m51 0h0m150 1h0m-222 1h0m25 0h0m4 0h0m5 0h0m195 0h0m-240 2h0m30 0h0m21 0h0m6 0h0m182 0h0m-191 1h0m16 0h0m18 0h0m153 0h0m-264 1h0m81 0h0m204 0h0m-212 1h0m25 0h0m26 0h0m103 0h0m31 0h0m-168 1h0m41 0h0m-71 1h0m10 0h0m18 0h0m9 0h0m71 0h0m98 0h0m-202 1h0m58 0h0m139 0h0m-192 1h0m4 0h0m22 0h0m35 0h0m99 0h0m25 0h0m-173 1h0m24 0h0m117 0h0m-114 1h0m19 0h0m113 0h0m18 0h0m-171 1h0m2 0h0m2 0h0m25 0h0m25 0h0m114 0h0m-172 1h0m14 0h0m155 0h0m14 0h0m-162 1h0m20 0h0m109 0h0m6 0h0m5 0h0m-186 1h0m38 0h0m-33 1h0m49 0h0m25 0h0m109 1h0m27 0h0m-242 1h0m23 0h0m16 0h0m70 0h0m-81 1h0m39 0h0m149 0h0m-155 2h0m166 1h0m-200 1h0m48 2h0m26 0h0m-45 1h0m50 0h0m2 0h0m107 0h0m18 0h0m-135 1h0m91 0h0m-103 1h0m13 0h0m111 0h0m-160 3h0m164 0h0m-139 1h0m4 0h0m-5 1h0m118 1h0m-134 1h0m8 0h0m17 1h0m-24 1h0m131 2h0m-5 2h0m-158 8h0m168 24h0m5 1h0m7 17h0m-21 7h0m16 1h0m-61 2h0m40 0h0"/>
<path stroke="#379a93" d="M931 609h0m-5 1h0m16 0h0m-22 1h0m12 1h0m-29 1h0m1 0h0m40 0h0m-1 2h0m2 0h0m-36 1h0m1 0h0m22 0h0m-9 2h0m5 1h0m-31 1h0m26 0h0m2 0h0m11 0h0m13 0h0m-56 1h0m16 0h0m5 0h0m16 0h0m6 0h0m-45 1h0m24 0h0m6 0h0m3 0h0m13 0h0m-44 1h0m45 0h0m-41 1h0m12 0h0m10 0h0m10 0h0m-29 1h0m13 0h0m13 0h0m-20 2h0m-8 1h0m2 0h0m-8 2h0m5 0h0m24 0h0m4 0h0m-22 1h0m-8 1h0m35 0h0m4 0h0m15 0h0m-35 1h0m2 1h0m27 0h0m-1 1h0m3 0h0m-40 1h0m25 0h0m-24 1h0m13 0h0m14 0h0m13 0h0m-47 1h0m15 0h0m7 0h0m-17 1h0m11 0h0m10 0h0m4 0h0m-38 1h0m11 0h0m38 2h0m-49 1h0m3 0h0m9 0h0m29 0h0m10 0h0m-56 1h0m38 1h0m-3 1h0m27 0h0m-34 1h0m15 0h0m-44 1h0m9 0h0m6 0h0m6 0h0m27 0h0m-13 1h0m23 0h0m-32 1h0m-18 1h0m12 2h0m25 0h0m-35 1h0m7 0h0m-5 2h0m7 2h0m37 1h0m1 4h0m8 0h0m-40 3h0m31 2h0m27 0h0m-22 1h0m23 2h0m-4 1h0m-123 1h0m-8 2h0m85 3h0m-75 1h0m74 0h0m49 0h0m2 1h0m-26 2h0m10 0h0m-32 1h0m56 1h0m-132 3h0m-8 1h0m2 0h0m2 1h0m106 0h0m32 1h0m-148 1h0m142 0h0m-56 1h0m43 1h0m22 0h0m-137 2h0m111 0h0m-27 2h0m1 0h0m52 0h0m-20 2h0m-23 2h0m14 2h0m21 0h0m-25 1h0m-190 2h0m164 0h0m4 0h0m-107 1h0m101 1h0m23 1h0m-1 1h0m173 0h0m-291 1h0m78 0h0m37 0h0m173 0h0m-165 1h0m163 0h0m5 0h0m-287 1h0m70 0h0m28 0h0m-8 1h0m196 0h0m-359 1h0m67 0h0m68 0h0m13 0h0m6 1h0m-161 1h0m21 0h0m133 0h0m-139 1h0m54 0h0m91 0h0m12 0h0m-88 1h0m54 0h0m26 0h0m-145 1h0m7 0h0m120 0h0m213 0h0m-201 1h0m8 0h0m-29 1h0m11 0h0m-4 1h0m19 0h0m14 0h0m-14 2h0m13 4h0m8 1h0m-30 1h0m25 2h0m-12 1h0m-9 1h0m25 0h0m-22 2h0m4 0h0m-19 1h0m9 0h0m22 1h0m-11 1h0m-21 1h0m20 1h0m1 0h0m10 0h0m7 0h0m16 2h0m-24 1h0m-31 2h0m36 0h0m20 0h0m-41 2h0m27 0h0m33 1h0m-141 3h0m140 1h0m-10 1h0m-130 1h0m143 0h0m-139 4h0m113 1h0m-116 1h0m-14 2h0m8 0h0m5 1h0m2 0h0m129 0h0m-132 1h0m-7 3h0m143 0h0m11 0h0m-157 2h0m15 0h0m12 0h0m128 0h0m-149 1h0m142 0h0m3 0h0m-147 4h0m5 2h0m6 0h0m18 1h0m-69 1h0m-8 2h0m22 3h0m-20 3h0m258 0h0m-1 1h0m-201 1h0m-44 1h0m44 0h0m-53 1h0m2 0h0m36 0h0m32 0h0m180 0h0m1 0h0m-241 1h0m259 0h0m-253 1h0m21 0h0m30 0h0m5 0h0m-1 1h0m13 0h0m14 0h0m154 0h0m-230 1h0m218 0h0m-226 1h0m27 0h0m45 0h0m4 0h0m14 0h0m149 0h0m-161 1h0m12 0h0m-90 1h0m3 0h0m36 0h0m8 0h0m94 0h0m97 0h0m-240 1h0m30 0h0m3 0h0m2 0h0m28 0h0m27 0h0m-45 1h0m-54 1h0m72 0h0m-34 1h0m21 0h0m3 0h0m15 0h0m12 0h0m152 0h0m5 0h0m-246 1h0m49 0h0m71 0h0m130 0h0m-236 1h0m52 0h0m13 0h0m170 0h0m4 0h0m12 0h0m-266 1h0m90 0h0m1 0h0m-55 1h0m13 0h0m205 0h0m-224 1h0m221 0h0m-213 1h0m10 0h0m26 0h0m33 0h0m150 0h0m-171 1h0m2 0h0m156 0h0m0 0h0m-245 1h0m59 0h0m24 0h0m14 0h0m26 0h0m118 0h0m7 0h0m-195 1h0m29 0h0m8 0h0m17 0h0m132 0h0m-133 2h0m25 0h0m95 0h0m31 0h0m-224 1h0m29 0h0m11 0h0m17 0h0m8 2h0m140 0h0m-177 1h0m21 0h0m20 0h0m6 0h0m137 0h0m14 0h0m-134 1h0m-83 2h0m8 0h0m172 0h0m-120 1h0m150 0h0m-206 1h0m78 0h0m111 0h0m3 1h0m2 0h0m24 0h0m-259 1h0m249 0h0m-158 1h0m-46 1h0m191 0h0m11 0h0m4 0h0m-171 1h0m126 0h0m-96 1h0m139 1h0m-159 1h0m117 0h0m-112 1h0m107 1h0m-199 1h0m111 0h0m95 1h0m-10 1h0m34 0h0m-141 1h0m11 0h0m7 0h0m-13 3h0m133 0h0m-129 1h0m125 0h0m-18 1h0m-16 48h0m37 7h0m-13 3h0m1 5h0"/>
<path stroke="#369e92" d="M910 610h0m22 0h0m6 0h0m-30 2h0m33 0h0m-43 1h0m16 0h0m11 0h0m6 0h0m-37 1h0m27 0h0m-22 1h0m16 0h0m0 0h0m-14 1h0m0 1h0m2 1h0m33 0h0m-22 1h0m6 0h0m19 1h0m8 0h0m6 0h0m-15 1h0m-37 1h0m-6 1h0m6 1h0m3 0h0m38 0h0m-38 2h0m23 0h0m18 0h0m-43 1h0m1 1h0m21 0h0m-13 2h0m21 1h0m12 0h0m-47 1h0m1 0h0m26 0h0m2 0h0m14 0h0m-57 3h0m13 0h0m27 0h0m24 0h0m-48 2h0m32 0h0m-42 1h0m15 0h0m20 0h0m6 0h0m12 0h0m-43 1h0m20 0h0m-24 1h0m14 0h0m21 0h0m11 0h0m-4 1h0m-29 1h0m16 0h0m-25 2h0m18 0h0m4 0h0m8 0h0m9 1h0m-51 1h0m16 0h0m26 0h0m-43 1h0m24 0h0m2 0h0m-3 2h0m18 0h0m-19 1h0m6 0h0m8 0h0m-32 2h0m24 0h0m9 0h0m-30 1h0m54 0h0m-56 1h0m19 0h0m3 0h0m-2 1h0m43 0h0m-15 2h0m8 0h0m-41 3h0m38 3h0m-37 1h0m36 2h0m12 5h0m-110 2h0m137 0h0m-63 2h0m0 0h0m-78 1h0m115 0h0m-122 1h0m7 0h0m-4 1h0m118 0h0m-115 1h0m-6 1h0m4 0h0m136 0h0m-55 2h0m-74 1h0m101 1h0m-106 1h0m-4 2h0m112 0h0m-108 1h0m127 1h0m2 1h0m13 1h0m-145 1h0m115 2h0m9 0h0m2 2h0m-22 1h0m30 0h0m-5 1h0m18 0h0m-50 2h0m-105 1h0m136 0h0m-30 3h0m16 0h0m18 0h0m1 0h0m4 1h0m-160 4h0m125 0h0m-123 1h0m6 1h0m115 0h0m2 0h0m1 0h0m-180 1h0m138 0h0m19 0h0m199 0h0m-226 1h0m14 0h0m2 0h0m-98 1h0m79 0h0m13 1h0m16 0h0m-29 2h0m3 0h0m41 0h0m-20 1h0m-90 1h0m68 0h0m29 0h0m-155 1h0m48 0h0m-53 1h0m151 0h0m21 0h0m-19 1h0m11 0h0m-164 2h0m1 0h0m10 0h0m137 0h0m10 0h0m-14 1h0m29 0h0m15 0h0m-186 1h0m153 0h0m8 0h0m-15 1h0m15 1h0m-19 1h0m29 0h0m-33 3h0m13 1h0m3 0h0m-16 1h0m7 0h0m27 0h0m-18 1h0m-12 1h0m1 1h0m53 2h0m-33 2h0m29 0h0m-54 1h0m7 0h0m-3 1h0m-1 2h0m50 0h0m-44 1h0m38 1h0m-41 2h0m38 1h0m11 1h0m10 0h0m-9 1h0m-122 6h0m2 0h0m-8 2h0m-9 2h0m9 0h0m3 2h0m5 1h0m-8 1h0m-16 1h0m25 0h0m3 1h0m-22 1h0m6 1h0m-3 1h0m11 1h0m3 0h0m4 0h0m-9 1h0m15 0h0m-9 2h0m4 0h0m-20 3h0m27 0h0m-65 3h0m68 0h0m-32 1h0m-44 2h0m5 0h0m2 0h0m262 3h0m-264 1h0m6 0h0m55 0h0m19 0h0m195 0h0m-274 1h0m37 0h0m220 1h0m-240 1h0m-26 1h0m54 1h0m56 1h0m3 0h0m-99 1h0m29 0h0m-9 2h0m17 0h0m16 0h0m88 0h0m-152 1h0m25 0h0m11 0h0m5 0h0m215 0h0m-192 1h0m12 0h0m76 0h0m110 0h0m-225 1h0m223 1h0m-248 1h0m60 0h0m16 0h0m162 0h0m-251 1h0m36 0h0m64 0h0m-81 1h0m51 0h0m53 0h0m139 0h0m-189 1h0m7 0h0m194 0h0m-245 1h0m34 0h0m67 0h0m80 0h0m44 0h0m12 0h0m-248 1h0m61 0h0m13 0h0m175 0h0m-250 1h0m4 0h0m58 0h0m185 0h0m-240 1h0m18 0h0m15 0h0m3 0h0m15 0h0m-37 1h0m-1 1h0m33 0h0m-8 1h0m6 0h0m176 0h0m2 0h0m-242 1h0m38 1h0m237 0h0m-241 1h0m4 0h0m26 0h0m5 0h0m13 0h0m167 0h0m6 0h0m18 0h0m-210 2h0m171 0h0m16 0h0m-252 1h0m22 0h0m21 0h0m18 0h0m199 0h0m9 0h0m11 2h0m-278 1h0m55 0h0m1 0h0m20 0h0m10 0h0m19 0h0m-99 1h0m127 0h0m-70 1h0m1 0h0m43 0h0m-64 1h0m75 0h0m131 0h0m-242 2h0m99 0h0m133 0h0m19 0h0m-202 1h0m205 0h0m-16 1h0m-149 1h0m-12 1h0m17 1h0m17 0h0m-26 1h0m157 0h0m-152 2h0m143 0h0m-122 1h0m117 0h0m-153 1h0m129 4h0m-135 1h0m133 4h0m-1 1h0m13 29h0m0 4h0m-18 6h0m-1 14h0m7 1h0m1 0h0m13 1h0m-8 1h0m4 1h0m-11 1h0"/>
<path stroke="#36a490" d="M914 610h0m18 0h0m7 2h0m3 0h0m-15 1h0m8 0h0m-5 1h0m19 2h0m-29 1h0m20 1h0m7 1h0m-47 1h0m11 0h0m6 2h0m-21 2h0m8 0h0m24 1h0m6 0h0m-23 1h0m6 0h0m26 0h0m-28 1h0m-18 1h0m40 0h0m5 0h0m-37 1h0m14 0h0m19 2h0m-6 1h0m-37 1h0m-5 2h0m20 0h0m12 0h0m14 0h0m-2 1h0m-11 1h0m7 0h0m-41 2h0m2 0h0m0 1h0m46 0h0m-58 1h0m6 0h0m31 0h0m6 0h0m15 1h0m-43 1h0m8 1h0m34 0h0m-38 1h0m15 0h0m23 0h0m-44 1h0m5 0h0m19 0h0m-13 1h0m-15 1h0m2 0h0m4 0h0m1 0h0m26 0h0m-29 1h0m5 0h0m9 1h0m45 0h0m-44 1h0m-15 1h0m15 0h0m38 1h0m-6 1h0m-40 1h0m2 1h0m4 1h0m-14 2h0m12 2h0m4 3h0m9 2h0m-72 3h0m62 0h0m13 0h0m-73 1h0m101 1h0m-7 1h0m38 2h0m-141 1h0m122 0h0m-126 2h0m114 2h0m31 3h0m-141 1h0m4 0h0m133 0h0m8 1h0m-143 1h0m78 0h0m21 4h0m-99 2h0m100 2h0m-96 1h0m2 0h0m-11 3h0m90 5h0m-94 1h0m-9 2h0m136 1h0m-144 4h0m92 0h0m209 0h0m-304 2h0m17 0h0m123 0h0m-120 1h0m-21 1h0m89 0h0m21 1h0m7 0h0m4 0h0m-119 1h0m14 0h0m2 0h0m101 0h0m-21 1h0m-141 1h0m2 0h0m156 0h0m-173 2h0m5 0h0m10 0h0m60 0h0m6 0h0m57 0h0m10 0h0m-10 3h0m-127 1h0m136 2h0m35 2h0m-27 3h0m3 0h0m12 2h0m5 1h0m-41 2h0m2 0h0m15 1h0m-13 1h0m11 0h0m31 1h0m-23 1h0m26 0h0m-24 1h0m3 0h0m9 0h0m-20 1h0m-2 1h0m16 0h0m7 0h0m44 2h0m-56 1h0m0 0h0m5 0h0m13 0h0m-11 2h0m2 0h0m22 0h0m-119 10h0m6 1h0m108 1h0m41 2h0m-152 1h0m6 0h0m1 2h0m-14 1h0m136 0h0m-115 1h0m-32 3h0m23 0h0m-18 2h0m7 0h0m3 0h0m14 0h0m8 0h0m129 0h0m-141 3h0m-1 1h0m-2 1h0m-32 3h0m35 0h0m5 0h0m6 1h0m-58 1h0m32 0h0m7 0h0m-2 1h0m-35 1h0m57 1h0m-54 1h0m7 0h0m24 0h0m-7 1h0m220 0h0m8 0h0m-3 1h0m-260 1h0m246 0h0m8 0h0m-254 1h0m8 0h0m73 0h0m182 0h0m-272 2h0m28 0h0m63 0h0m172 0h0m-245 1h0m20 0h0m55 0h0m-96 1h0m13 0h0m5 0h0m31 0h0m12 0h0m207 0h0m-266 1h0m27 0h0m7 0h0m62 0h0m-77 1h0m30 0h0m1 0h0m18 0h0m15 0h0m1 0h0m184 0h0m9 0h0m7 0h0m4 0h0m-265 1h0m7 0h0m7 0h0m17 0h0m35 0h0m158 0h0m25 0h0m-276 1h0m63 0h0m14 0h0m32 0h0m183 0h0m-258 1h0m18 0h0m44 0h0m-73 1h0m153 0h0m-150 1h0m78 0h0m166 0h0m-241 2h0m8 0h0m6 0h0m14 0h0m-36 1h0m12 0h0m23 1h0m40 1h0m-79 2h0m21 0h0m-9 1h0m123 1h0m106 0h0m6 0h0m13 0h0m-226 1h0m38 0h0m166 0h0m-179 2h0m12 0h0m183 0h0m-194 1h0m16 0h0m-77 1h0m1 0h0m7 0h0m225 0h0m26 1h0m-192 1h0m177 0h0m-183 1h0m25 0h0m153 0h0m24 0h0m-257 1h0m9 0h0m38 0h0m39 0h0m150 0h0m6 0h0m-208 1h0m15 0h0m5 0h0m-39 1h0m20 0h0m199 0h0m21 0h0m-226 1h0m49 0h0m26 0h0m136 1h0m-239 1h0m-9 1h0m49 0h0m3 0h0m5 0h0m-11 1h0m45 0h0m111 0h0m42 0h0m-243 1h0m236 0h0m-6 1h0m39 0h0m-41 1h0m-118 1h0m126 1h0m-163 1h0m34 0h0m126 1h0m-144 2h0m-8 3h0m1 0h0m152 0h0m-23 1h0m-134 3h0m125 1h0m13 34h0m-19 9h0m11 0h0m23 10h0m-4 1h0m-27 1h0m22 2h0m2 0h0m-8 1h0m8 0h0"/>
<path stroke="#37a98e" d="M906 608h0m-8 2h0m23 1h0m-14 1h0m13 0h0m12 1h0m-30 1h0m3 0h0m18 1h0m-17 1h0m42 0h0m-49 1h0m39 0h0m1 0h0m-33 2h0m6 0h0m5 0h0m2 0h0m36 2h0m-10 1h0m-24 2h0m15 0h0m2 0h0m5 0h0m-35 1h0m-16 1h0m3 1h0m34 0h0m6 0h0m-1 1h0m-26 4h0m33 3h0m-47 1h0m-5 1h0m2 0h0m29 0h0m23 1h0m-57 1h0m9 1h0m11 0h0m1 0h0m13 0h0m14 0h0m-53 1h0m7 0h0m31 0h0m1 1h0m-39 1h0m20 2h0m25 0h0m14 1h0m-40 1h0m2 0h0m-14 1h0m2 1h0m12 0h0m2 0h0m26 0h0m-25 1h0m-14 1h0m8 0h0m3 0h0m2 0h0m2 0h0m-18 1h0m37 0h0m5 0h0m-27 1h0m-9 2h0m14 0h0m-9 1h0m2 0h0m11 8h0m26 0h0m11 4h0m10 0h0m-119 2h0m79 1h0m-80 3h0m85 6h0m-90 1h0m5 1h0m7 2h0m-12 5h0m81 0h0m36 0h0m-104 1h0m129 0h0m-10 1h0m-121 1h0m-6 3h0m-3 1h0m147 6h0m-19 4h0m-144 1h0m129 0h0m-133 1h0m-57 1h0m2 0h0m-11 1h0m144 0h0m-134 1h0m-3 1h0m2 0h0m4 0h0m54 0h0m-66 1h0m11 1h0m55 0h0m106 0h0m-104 1h0m2 0h0m10 3h0m-73 1h0m15 1h0m-5 1h0m67 0h0m96 3h0m-10 1h0m-151 1h0m124 0h0m8 1h0m-15 1h0m22 0h0m9 0h0m-32 1h0m33 0h0m10 0h0m-24 1h0m20 0h0m-28 1h0m15 4h0m-4 1h0m3 1h0m13 2h0m9 0h0m-36 3h0m20 1h0m8 0h0m-30 2h0m3 0h0m12 1h0m45 1h0m-6 4h0m-121 5h0m119 0h0m-127 5h0m-4 1h0m17 0h0m-13 2h0m3 2h0m13 1h0m-15 1h0m-7 1h0m26 2h0m-8 1h0m15 2h0m-6 1h0m-20 1h0m-8 2h0m2 1h0m23 2h0m-60 1h0m39 0h0m3 0h0m17 0h0m-66 1h0m64 0h0m-52 3h0m3 0h0m2 0h0m9 0h0m34 0h0m7 0h0m-52 1h0m68 2h0m2 0h0m172 0h0m12 1h0m9 0h0m-268 1h0m31 0h0m21 0h0m-11 1h0m28 0h0m9 0h0m12 0h0m57 1h0m115 0h0m-234 1h0m22 0h0m1 0h0m202 0h0m-212 1h0m15 1h0m197 0h0m7 0h0m-243 1h0m28 0h0m18 0h0m33 0h0m-69 2h0m26 0h0m204 0h0m16 0h0m-286 1h0m32 0h0m16 0h0m26 1h0m184 0h0m20 0h0m4 0h0m-264 1h0m34 0h0m-29 1h0m254 0h0m2 0h0m-271 1h0m114 0h0m158 0h0m-206 1h0m185 0h0m-243 2h0m48 0h0m25 0h0m-59 1h0m32 0h0m221 0h0m-271 1h0m53 0h0m5 0h0m17 0h0m177 0h0m-242 1h0m240 1h0m-242 1h0m2 0h0m38 0h0m-45 1h0m12 1h0m2 0h0m5 0h0m229 0h0m-177 1h0m186 0h0m-241 1h0m238 0h0m-226 2h0m30 0h0m22 0h0m-19 1h0m202 0h0m-257 1h0m231 0h0m-240 1h0m63 0h0m173 2h0m10 0h0m11 0h0m-212 1h0m198 0h0m9 0h0m-235 1h0m229 0h0m-192 1h0m-4 1h0m-28 1h0m225 0h0m-2 1h0m9 0h0m-2 1h0m-244 1h0m203 1h0m-9 1h0m34 5h0m-4 5h0m-14 34h0m-20 13h0m32 3h0m5 4h0m-34 2h0m15 3h0m-14 1h0m2 1h0m-2 3h0"/>
<path stroke="#3bae8b" d="M907 609h0m15 0h0m8 0h0m-1 2h0m-11 2h0m30 1h0m-46 3h0m7 2h0m-12 3h0m24 1h0m-21 3h0m1 1h0m31 0h0m5 0h0m1 0h0m-23 2h0m19 2h0m10 0h0m-8 1h0m10 0h0m-52 4h0m5 0h0m19 0h0m1 0h0m-36 1h0m2 0h0m54 0h0m9 0h0m-52 1h0m28 1h0m-35 4h0m23 0h0m15 0h0m-5 1h0m12 0h0m-33 1h0m18 0h0m5 1h0m1 0h0m-17 2h0m16 1h0m-37 1h0m20 4h0m9 0h0m2 0h0m2 0h0m-23 3h0m7 2h0m3 2h0m2 4h0m-70 5h0m4 1h0m112 3h0m-110 2h0m107 2h0m-116 1h0m7 2h0m113 2h0m-35 2h0m-78 5h0m117 0h0m-121 3h0m10 1h0m-10 1h0m87 0h0m52 5h0m-217 6h0m186 1h0m-190 1h0m355 0h0m-347 1h0m64 0h0m-68 2h0m61 0h0m11 0h0m-14 1h0m10 0h0m-76 1h0m67 0h0m-62 1h0m54 0h0m107 0h0m-169 1h0m10 0h0m166 1h0m-167 1h0m353 0h0m-291 1h0m-50 1h0m49 1h0m94 1h0m-158 1h0m169 0h0m-161 1h0m166 1h0m4 1h0m-177 2h0m154 0h0m-24 6h0m43 0h0m-31 6h0m22 0h0m-3 1h0m11 0h0m-1 3h0m-98 13h0m105 0h0m30 1h0m-148 10h0m-10 1h0m24 0h0m-9 2h0m-6 2h0m10 1h0m21 0h0m-28 1h0m9 1h0m7 0h0m14 0h0m-24 2h0m11 0h0m6 0h0m5 0h0m-26 2h0m-43 1h0m48 0h0m0 0h0m16 0h0m-55 3h0m7 0h0m50 0h0m-70 1h0m23 1h0m19 0h0m2 0h0m-46 1h0m21 0h0m245 1h0m-222 1h0m-30 1h0m253 0h0m-248 1h0m13 0h0m45 0h0m200 0h0m-266 1h0m256 0h0m-265 1h0m8 0h0m44 0h0m7 0h0m18 0h0m15 0h0m-90 1h0m20 0h0m15 0h0m-41 1h0m14 0h0m50 0h0m195 0h0m10 0h0m-266 1h0m20 0h0m22 0h0m-4 1h0m21 0h0m213 0h0m-218 1h0m76 0h0m-93 1h0m14 0h0m214 0h0m-5 1h0m19 0h0m-281 1h0m9 0h0m79 0h0m181 0h0m1 0h0m-242 1h0m6 0h0m5 0h0m26 0h0m212 0h0m-229 1h0m30 0h0m-63 1h0m68 0h0m4 0h0m184 0h0m-179 1h0m-62 1h0m230 0h0m21 0h0m-242 1h0m-16 1h0m26 0h0m204 0h0m-181 1h0m-55 1h0m248 1h0m-205 1h0m10 0h0m-45 1h0m82 0h0m154 0h0m11 0h0m2 0h0m2 0h0m-248 1h0m2 0h0m238 0h0m-11 1h0m16 1h0m-238 1h0m38 1h0m17 0h0m170 0h0m18 0h0m-259 1h0m3 1h0m24 0h0m211 0h0m-198 1h0m186 0h0m7 0h0m-182 1h0m191 0h0m-248 1h0m-5 1h0m40 0h0m216 0h0m10 0h0m-243 1h0m249 1h0m-262 1h0m13 0h0m208 0h0m12 0h0m14 0h0m-242 1h0m235 1h0m7 2h0m-24 6h0m-138 4h0m113 6h0m-7 48h0m-5 2h0m22 2h0m13 0h0m-5 1h0m-6 2h0m-22 1h0m4 1h0m-3 2h0m0 2h0"/>
<path stroke="#42b487" d="M929 613h0m10 1h0m6 0h0m-34 1h0m13 1h0m10 6h0m8 0h0m-1 2h0m5 1h0m-37 1h0m10 2h0m11 0h0m-4 1h0m8 6h0m-45 1h0m-8 2h0m22 0h0m42 0h0m-51 2h0m41 0h0m-43 1h0m-1 1h0m16 2h0m0 2h0m21 0h0m-23 1h0m-20 1h0m30 1h0m-12 1h0m22 1h0m-24 7h0m10 7h0m-68 4h0m66 1h0m-74 4h0m80 0h0m39 3h0m-109 1h0m73 4h0m4 3h0m63 0h0m-145 10h0m3 1h0m90 4h0m-103 1h0m4 0h0m127 0h0m-131 2h0m0 3h0m-71 1h0m68 0h0m-4 1h0m5 0h0m-73 3h0m71 2h0m-13 2h0m14 0h0m58 0h0m224 0h0m1 0h0m-354 1h0m7 0h0m8 1h0m-19 2h0m3 1h0m131 0h0m-68 1h0m83 3h0m-2 1h0m18 3h0m10 2h0m-2 2h0m-34 5h0m23 4h0m-9 2h0m-9 4h0m7 0h0m-87 11h0m18 2h0m-13 1h0m9 0h0m-22 1h0m28 2h0m-25 2h0m7 0h0m5 2h0m3 0h0m9 1h0m-23 1h0m13 0h0m1 1h0m18 0h0m-27 2h0m8 0h0m-52 5h0m72 1h0m-8 1h0m5 0h0m-60 1h0m33 0h0m-47 4h0m20 0h0m-8 1h0m256 0h0m-260 1h0m15 0h0m54 0h0m202 1h0m-273 3h0m258 1h0m-227 1h0m231 0h0m-256 1h0m27 0h0m19 0h0m202 0h0m3 0h0m21 0h0m-262 1h0m17 0h0m32 0h0m210 0h0m3 0h0m-273 1h0m78 0h0m-63 1h0m15 0h0m34 0h0m207 0h0m-228 1h0m-32 2h0m13 0h0m30 0h0m-60 1h0m261 0h0m-254 1h0m14 0h0m3 0h0m29 0h0m213 0h0m13 0h0m-269 1h0m257 0h0m-259 1h0m29 0h0m39 0h0m184 0h0m10 0h0m-273 1h0m24 0h0m40 0h0m40 0h0m165 0h0m1 1h0m7 0h0m-256 1h0m236 0h0m-255 1h0m35 0h0m18 0h0m215 0h0m1 0h0m-261 1h0m28 0h0m24 1h0m-59 1h0m26 0h0m7 0h0m38 0h0m184 0h0m-246 1h0m-4 1h0m2 0h0m12 0h0m248 0h0m6 0h0m7 0h0m-248 1h0m32 0h0m-32 1h0m216 0h0m-244 1h0m24 0h0m5 0h0m220 0h0m-237 1h0m9 0h0m38 0h0m197 0h0m15 0h0m7 0h0m-15 1h0m-226 1h0m26 0h0m178 0h0m21 0h0m-253 1h0m246 0h0m-251 1h0m27 0h0m206 0h0m-180 1h0m192 0h0m-221 1h0m2 0h0m25 0h0m-9 1h0m195 1h0m-234 1h0m33 0h0m223 0h0m-245 1h0m101 2h0m131 0h0m-244 1h0m8 0h0m248 0h0m5 1h0m-4 1h0m-254 1h0m8 0h0m213 12h0m-12 34h0m-15 12h0m-2 10h0"/>
<path stroke="#49b883" d="M905 610h0m9 0h0m2 0h0m11 1h0m-14 3h0m-15 7h0m-6 3h0m59 1h0m-57 1h0m36 0h0m-40 1h0m41 2h0m-14 1h0m13 1h0m-9 2h0m21 1h0m-25 6h0m-2 2h0m-36 4h0m20 0h0m14 5h0m-77 25h0m89 7h0m-90 1h0m5 12h0m-7 4h0m-22 10h0m9 0h0m11 0h0m-8 1h0m72 3h0m-83 2h0m6 0h0m16 0h0m-20 1h0m-45 4h0m6 0h0m-22 2h0m13 1h0m-3 1h0m161 0h0m-23 8h0m-78 26h0m6 0h0m125 0h0m-137 9h0m-2 6h0m8 2h0m4 1h0m17 1h0m-49 6h0m27 0h0m-8 1h0m11 3h0m217 2h0m-275 1h0m10 0h0m37 0h0m-30 1h0m23 0h0m236 0h0m9 0h0m-258 1h0m5 0h0m-22 1h0m12 0h0m11 1h0m247 0h0m-265 1h0m-3 1h0m10 0h0m-11 1h0m26 0h0m0 0h0m238 0h0m-271 1h0m47 0h0m57 0h0m173 0h0m2 0h0m-275 1h0m9 0h0m269 0h0m-288 1h0m53 0h0m74 0h0m158 0h0m-265 1h0m4 0h0m24 0h0m219 0h0m-227 1h0m223 1h0m-254 1h0m23 0h0m10 0h0m22 0h0m-45 1h0m-11 1h0m13 0h0m16 0h0m67 0h0m-12 1h0m188 2h0m6 0h0m-260 1h0m11 0h0m240 0h0m-273 2h0m25 0h0m41 0h0m197 0h0m-262 1h0m3 0h0m264 0h0m-192 1h0m-65 1h0m11 0h0m7 0h0m255 0h0m-277 3h0m33 0h0m241 0h0m-253 1h0m239 0h0m5 0h0m-245 2h0m31 0h0m82 0h0m119 0h0m20 0h0m-245 1h0m7 0h0m24 0h0m68 0h0m137 0h0m12 0h0m-20 1h0m15 0h0m3 0h0m7 0h0m-265 1h0m251 0h0m-213 1h0m220 1h0m-270 1h0m257 2h0m-245 2h0m256 0h0m-12 1h0m-246 2h0m205 41h0m3 0h0"/>
<path stroke="#53bd7d" d="M926 613h0m-31 3h0m3 1h0m47 7h0m-34 6h0m37 0h0m-21 2h0m-7 2h0m-18 1h0m-6 8h0m4 0h0m35 0h0m-54 3h0m31 15h0m-1 3h0m-74 10h0m2 3h0m4 1h0m81 3h0m-95 19h0m2 0h0m-69 7h0m354 1h0m-353 1h0m59 0h0m3 0h0m-72 2h0m13 0h0m1 1h0m48 1h0m0 1h0m11 2h0m7 1h0m-11 1h0m-56 1h0m6 1h0m-6 1h0m50 0h0m-60 5h0m175 11h0m-33 2h0m-73 17h0m0 8h0m-10 3h0m7 0h0m16 1h0m-28 1h0m8 6h0m15 2h0m-18 1h0m25 0h0m0 1h0m-17 1h0m13 0h0m-62 3h0m1 0h0m39 0h0m23 1h0m-49 4h0m7 0h0m2 0h0m-22 2h0m24 0h0m-8 1h0m4 0h0m17 0h0m23 1h0m214 0h0m-255 1h0m260 0h0m-251 1h0m14 1h0m-48 1h0m26 0h0m241 0h0m-254 1h0m1 0h0m47 0h0m-57 1h0m281 0h0m-276 1h0m17 1h0m31 0h0m1 0h0m205 0h0m-195 1h0m-55 1h0m26 0h0m15 0h0m-21 1h0m43 0h0m-59 1h0m20 0h0m5 0h0m38 1h0m-68 1h0m25 0h0m-2 1h0m-33 1h0m54 0h0m-36 1h0m5 0h0m20 0h0m-13 2h0m11 0h0m239 1h0m-262 1h0m21 0h0m-37 1h0m18 1h0m2 0h0m253 0h0m-233 1h0m28 0h0m-56 1h0m26 0h0m-33 1h0m4 0h0m271 0h0m-268 1h0m18 0h0m225 0h0m24 0h0m-4 1h0m-249 1h0m240 0h0m7 1h0m-270 2h0m271 0h0m-261 1h0m249 0h0m2 0h0m-242 1h0m27 0h0m-39 1h0m5 1h0m8 2h0m0 1h0m-11 1h0m6 1h0m-1 2h0m249 5h0m-38 36h0m-22 23h0"/>
<path stroke="#5cc278" d="M927 620h0m9 8h0m15 1h0m-69 5h0m13 10h0m36 1h0m-27 6h0m6 3h0m-70 38h0m-21 18h0m295 2h0m-296 2h0m295 0h0m-352 5h0m3 3h0m-11 2h0m160 13h0m-96 27h0m-5 7h0m11 3h0m24 5h0m-1 2h0m-63 2h0m-12 1h0m70 0h0m-62 1h0m11 0h0m252 2h0m3 1h0m-273 3h0m58 0h0m12 0h0m211 0h0m-244 1h0m232 0h0m1 1h0m9 1h0m-7 1h0m13 0h0m-280 1h0m32 0h0m217 3h0m-224 1h0m-6 1h0m-20 2h0m49 0h0m-34 1h0m252 1h0m-225 1h0m232 0h0m3 0h0m-272 2h0m9 0h0m43 0h0m208 1h0m-241 1h0m-6 1h0m243 0h0m3 0h0m8 0h0m-273 1h0m5 0h0m256 0h0m-241 1h0m254 0h0m-12 1h0m-267 3h0m6 0h0m11 0h0m252 0h0m-255 2h0m11 0h0m242 0h0m-236 1h0m-25 1h0m29 0h0m219 0h0m19 0h0m-251 1h0m3 0h0m-5 1h0m2 0h0m37 0h0m219 2h0m-248 1h0m-1 1h0m240 0h0m-246 2h0m254 1h0m-257 1h0m3 2h0m-8 1h0m195 55h0m12 13h0"/>
<path stroke="#68c671" d="M925 635h0m-36 3h0m9 13h0m10 15h0m12 15h0m50 2h0m141 27h0m-300 2h0m14 2h0m-73 3h0m60 1h0m-53 2h0m58 43h0m25 5h0m-27 3h0m-36 10h0m-5 6h0m59 2h0m-63 1h0m27 1h0m8 0h0m243 0h0m-275 3h0m14 1h0m265 1h0m-276 1h0m45 1h0m-51 3h0m50 0h0m223 0h0m-270 2h0m263 0h0m17 0h0m-268 2h0m20 0h0m239 2h0m3 0h0m-237 1h0m-28 1h0m253 1h0m-262 2h0m31 0h0m243 1h0m-246 4h0m-19 2h0m10 1h0m41 0h0m3 1h0m-50 1h0m3 0h0m265 1h0m-256 2h0m246 0h0m-255 3h0m253 0h0m1 1h0m-258 2h0m4 3h0m3 0h0m6 0h0m207 64h0"/>
<path stroke="#74ca6b" d="M912 659h0m-147 56h0m52 1h0m-3 2h0m0 2h0m-52 1h0m58 38h0m9 10h0m2 8h0m-50 7h0m2 4h0m-12 1h0m32 0h0m-13 2h0m259 6h0m-272 1h0m10 0h0m8 1h0m239 2h0m17 2h0m-273 1h0m-5 3h0m-4 2h0m14 1h0m4 2h0m2 2h0m-13 1h0m8 1h0m-5 1h0m269 1h0m-238 2h0m235 0h0m4 0h0m2 2h0m-264 1h0m5 3h0m232 0h0m-240 1h0m6 0h0m256 0h0m-2 1h0m-259 1h0m-5 1h0m17 0h0m-4 1h0m252 0h0"/>
<path stroke="#82ce62" d="M944 611h0m-60 33h0m-57 68h0m-14 64h0m-39 6h0m7 1h0m1 7h0m266 4h0m-4 2h0m11 0h0m-278 4h0m264 2h0m-270 3h0m5 1h0m11 0h0m-11 2h0m272 0h0m4 1h0m-247 1h0m-37 2h0m15 0h0m258 3h0m-234 3h0m245 0h0m-254 1h0m-13 1h0m252 2h0m-252 2h0m3 3h0m10 0h0m253 0h0m-226 1h0m213 1h0m10 0h0m-265 1h0m257 0h0m-240 4h0"/>
<path stroke="#90d259" d="M843 687h0m204 102h0m-2 3h0m-274 1h0m72 0h0m-28 6h0m-13 5h0m10 5h0m237 0h0m1 2h0m-263 3h0m267 1h0m-2 1h0m-278 1h0m0 0h0m29 0h0m228 2h0m-4 1h0m-243 1h0m12 4h0m-19 1h0m267 1h0"/>
<path stroke="#9ed551" d="M772 789h0m280 1h0m-202 7h0m-77 2h0m272 0h0m-271 3h0m37 10h0m-19 5h0m3 12h0"/>
<path stroke="#add846" d="M1047 802h0m-268 5h0m-7 3h0m32 4h0m248 7h0m-262 5h0m256 2h0m-4 4h0"/>
<path stroke="#bbda3d" d="M1055 789h0m-3 26h0"/>
<path stroke="#cbdc35" d="M1044 823h0m-264 10h0"/>
<path stroke="#f4e13b" d="M772 815h0"/>
<path stroke="#561c63" d="M156 1030h0m-3 1h0m-7 6h0m10 0h0m-7 2h0m129 1h0m9 0h0m-70 19h0m23 21h0m2 3h0m-6 2h0m1 0h0m3 1h0m-4 1h0m7 0h0m-4 2h0m3 0h0m1 2h0m-6 1h0m2 3h0m-3 1h0m4 2h0m4 0h0m-2 4h0m-1 2h0m-4 1h0m-1 1h0m7 0h0m-5 1h0m-2 1h0m8 0h0m41 0h0m-46 2h0m-3 3h0m2 0h0m-1 1h0m6 1h0m5 1h0m-9 4h0m4 1h0m-148 11h0m196 19h0m12 9h0m52 20h0m-185 3h0m-7 6h0m-10 1h0m202 0h0m-187 1h0m9 1h0m6 1h0m195 2h0m-223 1h0m2 0h0m214 0h0m4 0h0m7 1h0m0 0h0m-11 1h0m-213 2h0m16 5h0m184 24h0m-21 3h0m12 7h0m-168 1h0m-25 12h0m0 2h0m-6 1h0m-2 2h0m11 1h0m4 0h0m0 3h0m-25 4h0m13 3h0m6 1h0m-10 12h0m6 5h0m-5 3h0m193 32h0m-26 5h0"/>
<path stroke="#57246b" d="M143 1028h0m8 0h0m-5 1h0m-2 3h0m7 3h0m-1 1h0m5 0h0m4 5h0m102 0h0m27 5h0m-50 2h0m18 2h0m20 1h0m-25 3h0m-24 2h0m27 12h0m16 1h0m-50 1h0m14 1h0m20 4h0m1 0h0m6 0h0m-22 7h0m3 2h0m53 0h0m-45 1h0m-11 2h0m-2 1h0m51 0h0m-52 2h0m3 1h0m18 1h0m-27 1h0m8 0h0m3 0h0m3 0h0m33 0h0m-39 1h0m-2 1h0m2 1h0m5 0h0m-6 2h0m-1 1h0m13 1h0m28 0h0m-42 2h0m3 0h0m66 0h0m-65 1h0m6 2h0m-4 1h0m-6 3h0m10 1h0m40 0h0m-41 3h0m-6 2h0m0 2h0m9 0h0m52 0h0m-57 2h0m2 0h0m-4 2h0m36 9h0m-106 2h0m-16 3h0m151 2h0m-6 10h0m2 6h0m-22 6h0m-115 15h0m117 4h0m-117 2h0m2 0h0m-1 3h0m194 1h0m-208 1h0m6 0h0m2 0h0m202 0h0m2 0h0m-196 1h0m-11 1h0m7 0h0m184 0h0m-193 1h0m18 0h0m198 0h0m-211 1h0m15 0h0m173 2h0m5 0h0m-200 1h0m221 0h0m-224 1h0m8 0h0m14 0h0m13 1h0m197 0h0m-225 1h0m196 0h0m-185 1h0m3 0h0m9 0h0m171 0h0m1 0h0m9 0h0m12 0h0m2 0h0m-9 1h0m-203 1h0m197 0h0m-209 1h0m8 0h0m4 0h0m-10 1h0m203 0h0m-205 1h0m20 0h0m5 0h0m168 0h0m31 0h0m-193 1h0m-28 1h0m22 0h0m196 0h0m-220 1h0m15 0h0m207 0h0m-13 1h0m-205 1h0m28 0h0m197 0h0m-32 1h0m16 1h0m-211 1h0m212 0h0m-17 2h0m29 0h0m-47 1h0m50 2h0m7 5h0m2 1h0m-232 2h0m216 0h0m-11 2h0m20 0h0m-9 3h0m2 8h0m-202 3h0m-10 2h0m9 0h0m193 0h0m8 1h0m-207 1h0m3 0h0m11 0h0m180 0h0m19 0h0m-25 1h0m-198 1h0m10 0h0m200 0h0m-203 1h0m11 1h0m-15 1h0m9 1h0m216 5h0m-239 1h0m7 0h0m-17 1h0m22 0h0m2 0h0m2 0h0m-15 1h0m19 0h0m185 0h0m-214 1h0m-2 2h0m6 2h0m13 0h0m2 0h0m12 0h0m-11 1h0m-23 1h0m3 0h0m23 0h0m-9 1h0m4 0h0m-14 1h0m21 0h0m2 0h0m3 0h0m-8 2h0m1 1h0m2 0h0m-21 1h0m3 0h0m5 0h0m-6 2h0m0 0h0m24 0h0m1 0h0m-12 1h0m6 0h0m-1 3h0m3 0h0m4 0h0m-18 1h0m15 0h0m-7 1h0m-13 1h0m6 2h0m-6 6h0m189 12h0m3 1h0m-11 8h0m22 8h0m-9 2h0m-21 2h0m32 1h0m-26 3h0m-4 5h0"/>
<path stroke="#592d73" d="M143 1020h0m-5 4h0m-1 1h0m1 1h0m10 0h0m2 0h0m4 4h0m-13 1h0m123 0h0m5 0h0m9 0h0m-6 1h0m-119 1h0m2 0h0m2 0h0m81 1h0m3 0h0m-2 1h0m-92 1h0m138 0h0m-131 1h0m-7 1h0m91 0h0m-81 1h0m91 0h0m-97 1h0m1 1h0m5 0h0m1 0h0m3 0h0m109 0h0m-120 1h0m101 0h0m-97 1h0m2 0h0m118 0h0m14 0h0m-135 1h0m115 1h0m-115 1h0m107 1h0m-25 1h0m8 0h0m15 1h0m7 0h0m12 0h0m11 2h0m-59 1h0m49 0h0m4 0h0m-56 1h0m6 0h0m35 0h0m16 0h0m-42 1h0m12 1h0m25 1h0m4 0h0m-51 2h0m2 0h0m3 0h0m35 0h0m-51 1h0m29 1h0m12 0h0m-33 1h0m3 0h0m10 0h0m-13 2h0m-1 1h0m4 0h0m3 0h0m15 0h0m-26 2h0m3 0h0m38 0h0m9 0h0m-7 2h0m-40 1h0m1 0h0m40 1h0m14 0h0m2 0h0m-55 2h0m8 0h0m-11 1h0m2 0h0m49 2h0m-2 3h0m-46 2h0m4 0h0m63 0h0m-46 2h0m43 1h0m-55 1h0m48 0h0m-41 1h0m4 0h0m-13 1h0m11 0h0m-3 1h0m37 0h0m-38 1h0m-1 1h0m3 1h0m12 0h0m23 1h0m-42 2h0m50 1h0m14 0h0m18 0h0m-142 1h0m55 0h0m9 1h0m2 0h0m-61 1h0m60 2h0m-9 1h0m86 0h0m-148 1h0m62 0h0m23 0h0m6 0h0m33 1h0m-52 1h0m-7 1h0m27 0h0m28 0h0m28 1h0m-85 1h0m6 0h0m4 0h0m-69 1h0m96 0h0m-93 2h0m60 0h0m3 0h0m-4 2h0m-57 1h0m60 0h0m2 0h0m-3 1h0m15 0h0m-76 1h0m141 0h0m-137 1h0m63 0h0m0 0h0m1 0h0m70 0h0m-77 1h0m-61 1h0m67 0h0m43 0h0m3 0h0m-113 1h0m62 0h0m42 0h0m-15 1h0m-31 1h0m11 0h0m60 0h0m-139 1h0m8 1h0m119 0h0m8 0h0m-59 1h0m40 1h0m32 1h0m-147 1h0m-2 1h0m138 1h0m8 0h0m7 0h0m-27 1h0m-58 1h0m29 0h0m30 1h0m7 0h0m9 0h0m-151 1h0m1 0h0m15 1h0m-11 1h0m82 0h0m6 0h0m54 0h0m11 0h0m-171 1h0m81 1h0m36 0h0m41 0h0m-38 1h0m32 0h0m16 0h0m-74 1h0m68 0h0m-149 1h0m125 0h0m10 0h0m10 0h0m-146 2h0m152 0h0m-221 1h0m204 4h0m-59 1h0m35 1h0m21 0h0m0 0h0m7 0h0m3 0h0m-14 1h0m9 0h0m-3 2h0m-6 1h0m-15 1h0m13 0h0m12 0h0m-14 1h0m24 0h0m-6 1h0m-20 3h0m2 1h0m16 1h0m2 5h0m-52 2h0m40 5h0m-50 1h0m44 1h0m12 2h0m11 0h0m-141 1h0m-3 2h0m8 0h0m116 0h0m21 0h0m-149 1h0m3 0h0m3 1h0m7 0h0m-16 2h0m7 0h0m2 0h0m-14 1h0m5 0h0m1 0h0m13 0h0m125 0h0m9 0h0m48 0h0m-187 1h0m4 0h0m124 0h0m12 0h0m61 0h0m3 0h0m-202 1h0m112 0h0m88 0h0m-209 1h0m4 0h0m3 0h0m193 0h0m9 0h0m2 0h0m-220 1h0m5 0h0m137 0h0m63 0h0m17 0h0m-225 1h0m10 0h0m6 0h0m15 0h0m112 0h0m84 0h0m4 0h0m-228 1h0m9 0h0m14 0h0m2 0h0m176 0h0m3 0h0m8 0h0m5 0h0m4 0h0m-223 1h0m4 0h0m35 0h0m166 0h0m-186 1h0m2 0h0m2 0h0m12 0h0m1 0h0m166 0h0m9 0h0m10 0h0m8 0h0m-224 1h0m3 0h0m1 0h0m14 0h0m1 0h0m5 0h0m171 0h0m8 0h0m6 0h0m8 0h0m2 0h0m2 0h0m-217 1h0m10 0h0m188 0h0m18 0h0m-206 1h0m13 0h0m7 0h0m-12 1h0m3 0h0m11 0h0m176 0h0m1 0h0m15 0h0m-220 1h0m20 0h0m179 0h0m0 0h0m-203 1h0m6 0h0m4 0h0m4 0h0m7 0h0m4 0h0m5 0h0m-28 1h0m22 0h0m0 0h0m5 0h0m180 0h0m11 0h0m-219 1h0m213 0h0m12 0h0m-219 1h0m2 0h0m194 0h0m8 0h0m-213 1h0m211 0h0m-8 1h0m-195 1h0m223 0h0m-25 1h0m16 0h0m-221 1h0m212 0h0m1 0h0m3 0h0m-212 1h0m18 0h0m190 1h0m8 0h0m-7 1h0m3 0h0m-217 1h0m217 0h0m-11 1h0m14 1h0m4 0h0m-12 1h0m8 0h0m6 0h0m3 0h0m-228 2h0m237 0h0m-15 2h0m20 0h0m-57 1h0m30 0h0m-6 1h0m-207 1h0m220 1h0m-3 1h0m-7 3h0m3 1h0m15 0h0m-36 1h0m27 0h0m-15 3h0m18 0h0m-17 1h0m0 0h0m3 1h0m-6 1h0m-20 1h0m6 0h0m9 0h0m17 0h0m14 0h0m-48 1h0m6 0h0m18 1h0m2 0h0m13 1h0m-199 1h0m163 0h0m8 0h0m7 0h0m10 0h0m-192 2h0m6 0h0m178 0h0m21 0h0m-202 1h0m5 0h0m208 0h0m-227 1h0m-1 1h0m12 0h0m4 0h0m199 0h0m-213 1h0m3 0h0m5 0h0m2 0h0m187 0h0m25 0h0m-222 1h0m182 0h0m-181 1h0m4 0h0m3 0h0m188 0h0m23 0h0m-226 1h0m10 0h0m3 0h0m4 0h0m4 0h0m195 0h0m7 0h0m-214 1h0m4 0h0m184 1h0m15 0h0m17 0h0m-228 1h0m190 0h0m24 1h0m7 0h0m-28 1h0m-203 1h0m5 0h0m1 0h0m210 0h0m-221 1h0m14 1h0m-14 1h0m207 0h0m-209 1h0m5 0h0m3 0h0m-5 1h0m10 0h0m17 0h0m-26 1h0m10 0h0m1 0h0m-10 1h0m21 0h0m181 0h0m-211 1h0m25 0h0m12 0h0m177 0h0m-204 1h0m-5 1h0m10 0h0m9 0h0m10 0h0m-34 1h0m8 0h0m21 0h0m-28 1h0m33 0h0m-31 1h0m11 0h0m3 0h0m4 0h0m7 0h0m2 0h0m2 0h0m-27 1h0m13 0h0m-6 1h0m8 1h0m16 0h0m-18 1h0m-9 1h0m14 0h0m13 0h0m-12 1h0m4 0h0m-17 1h0m6 0h0m15 0h0m2 0h0m-18 1h0m13 0h0m3 0h0m-16 1h0m9 0h0m2 0h0m7 0h0m-16 1h0m15 0h0m-17 1h0m5 0h0m-4 2h0m1 0h0m-7 1h0m6 1h0m-3 1h0m-2 4h0m187 15h0m-18 10h0m1 1h0m1 0h0m-4 1h0m4 2h0m1 1h0m34 2h0m-38 1h0m2 0h0m21 0h0m11 0h0m-70 1h0m40 0h0m20 0h0m7 0h0m2 0h0m-30 2h0m17 0h0m1 0h0m-6 1h0m-53 1h0m-1 1h0m45 0h0m-6 2h0"/>
<path stroke="#59347a" d="M142 1019h0m6 1h0m-8 2h0m-1 1h0m3 1h0m1 0h0m4 0h0m-7 2h0m6 0h0m-11 1h0m11 0h0m1 1h0m1 0h0m1 0h0m-6 2h0m4 0h0m104 1h0m19 0h0m5 0h0m4 0h0m-132 1h0m1 0h0m2 0h0m8 0h0m85 0h0m4 0h0m8 0h0m9 0h0m-113 1h0m93 0h0m4 0h0m21 0h0m9 0h0m-124 1h0m3 0h0m4 0h0m79 0h0m12 0h0m13 0h0m-120 1h0m117 0h0m14 0h0m-118 1h0m3 0h0m76 0h0m21 0h0m2 0h0m-112 1h0m2 0h0m6 0h0m1 0h0m102 0h0m19 0h0m-126 1h0m7 0h0m73 0h0m3 0h0m44 0h0m-119 1h0m2 0h0m104 0h0m4 0h0m-29 1h0m5 0h0m6 0h0m32 0h0m-122 1h0m72 0h0m3 0h0m3 0h0m24 0h0m26 0h0m-130 1h0m3 0h0m73 0h0m37 0h0m-115 1h0m96 0h0m17 0h0m-38 1h0m1 1h0m33 0h0m0 0h0m-113 1h0m111 0h0m-15 1h0m17 0h0m17 0h0m-22 1h0m7 0h0m6 0h0m-43 1h0m2 0h0m4 0h0m2 0h0m27 0h0m12 0h0m2 0h0m2 0h0m-29 1h0m32 0h0m-32 1h0m5 0h0m22 0h0m4 0h0m-43 1h0m6 0h0m1 0h0m25 0h0m2 0h0m-30 1h0m7 0h0m10 0h0m10 0h0m14 0h0m-52 1h0m2 0h0m36 0h0m-40 1h0m23 0h0m-36 1h0m24 0h0m3 0h0m4 0h0m11 0h0m9 0h0m8 0h0m-53 1h0m10 0h0m6 0h0m14 0h0m11 0h0m-46 1h0m64 0h0m-66 1h0m14 0h0m8 0h0m10 0h0m16 0h0m-48 1h0m33 0h0m6 0h0m11 0h0m6 0h0m-47 1h0m1 0h0m21 0h0m17 0h0m11 0h0m-60 1h0m4 0h0m10 0h0m2 0h0m19 0h0m10 0h0m-38 1h0m9 0h0m2 0h0m6 0h0m16 0h0m17 0h0m2 0h0m-42 1h0m1 0h0m37 0h0m1 0h0m5 0h0m-51 1h0m9 0h0m21 0h0m1 0h0m7 0h0m-28 1h0m12 0h0m-32 1h0m26 0h0m21 0h0m2 0h0m10 0h0m12 0h0m-66 1h0m13 0h0m15 0h0m6 0h0m-34 1h0m11 0h0m9 0h0m-22 1h0m9 0h0m9 0h0m14 0h0m4 0h0m-40 1h0m15 0h0m10 0h0m36 0h0m5 0h0m-44 1h0m3 0h0m20 0h0m25 0h0m-52 1h0m6 0h0m6 0h0m3 0h0m6 0h0m11 0h0m-37 1h0m3 0h0m24 0h0m1 0h0m6 0h0m3 0h0m14 0h0m-55 1h0m8 0h0m5 0h0m11 0h0m-21 1h0m7 0h0m12 0h0m43 0h0m-60 1h0m14 0h0m32 0h0m16 0h0m-49 1h0m4 0h0m35 0h0m-36 2h0m32 0h0m-36 1h0m44 0h0m-43 1h0m6 0h0m-11 2h0m40 0h0m20 0h0m-55 1h0m47 0h0m-43 1h0m45 0h0m2 0h0m-50 1h0m8 0h0m34 2h0m-107 1h0m103 0h0m11 0h0m-117 1h0m1 0h0m5 0h0m52 0h0m11 0h0m-66 1h0m95 1h0m28 0h0m13 0h0m-74 1h0m1 0h0m38 0h0m32 0h0m4 0h0m-12 1h0m10 0h0m-59 1h0m42 0h0m-63 1h0m57 0h0m2 0h0m-17 1h0m22 0h0m5 0h0m-124 1h0m78 0h0m32 0h0m21 0h0m11 0h0m-87 1h0m2 0h0m6 0h0m41 0h0m-12 1h0m28 0h0m-22 1h0m-98 1h0m55 0h0m21 0h0m46 0h0m9 0h0m15 0h0m-155 1h0m3 0h0m6 0h0m58 0h0m40 0h0m10 0h0m4 0h0m17 0h0m2 0h0m12 0h0m-145 1h0m131 0h0m7 0h0m-133 1h0m71 0h0m26 0h0m29 0h0m-132 1h0m58 0h0m43 0h0m-105 1h0m9 0h0m93 0h0m17 0h0m12 0h0m7 0h0m-68 1h0m3 0h0m33 0h0m36 0h0m8 0h0m-142 1h0m106 0h0m2 0h0m11 0h0m14 0h0m-79 1h0m59 0h0m1 0h0m2 0h0m9 0h0m2 0h0m-130 1h0m68 0h0m25 0h0m30 0h0m-124 1h0m109 0h0m1 0h0m20 0h0m-131 1h0m65 0h0m7 0h0m72 0h0m-140 1h0m55 0h0m37 0h0m3 0h0m5 1h0m16 0h0m10 0h0m5 0h0m-74 1h0m7 0h0m5 0h0m19 0h0m34 0h0m4 0h0m8 0h0m-143 1h0m141 0h0m7 0h0m1 0h0m-78 1h0m80 0h0m-150 1h0m74 0h0m4 0h0m30 0h0m5 0h0m24 0h0m10 0h0m-36 1h0m10 0h0m-17 1h0m26 0h0m7 0h0m10 0h0m-40 1h0m4 0h0m29 0h0m-14 1h0m11 0h0m7 0h0m-149 1h0m102 0h0m3 0h0m9 2h0m1 0h0m1 0h0m10 0h0m-197 1h0m4 0h0m176 0h0m31 0h0m1 0h0m6 0h0m-161 1h0m105 0h0m47 0h0m9 0h0m-35 1h0m-194 1h0m2 0h0m61 0h0m2 0h0m7 0h0m107 0h0m23 0h0m8 0h0m2 0h0m2 0h0m4 0h0m1 0h0m9 0h0m-223 1h0m13 0h0m174 0h0m1 0h0m12 0h0m21 0h0m4 0h0m5 0h0m-223 1h0m50 0h0m29 0h0m88 0h0m17 0h0m16 0h0m22 0h0m-227 1h0m56 0h0m112 0h0m1 0h0m3 0h0m23 0h0m14 0h0m-152 1h0m6 0h0m138 0h0m9 0h0m8 0h0m-212 1h0m53 0h0m9 0h0m4 0h0m84 0h0m68 0h0m6 0h0m-226 1h0m53 0h0m6 0h0m92 0h0m37 0h0m11 0h0m-206 1h0m4 0h0m131 0h0m56 0h0m5 0h0m6 0h0m19 0h0m-83 1h0m65 0h0m-203 1h0m141 0h0m61 0h0m22 0h0m-164 1h0m14 0h0m76 0h0m22 0h0m18 0h0m37 0h0m-165 1h0m87 0h0m37 0h0m13 0h0m19 0h0m-215 1h0m156 0h0m20 0h0m23 0h0m-16 1h0m19 0h0m16 0h0m5 0h0m2 0h0m-227 1h0m198 0h0m16 1h0m2 0h0m4 0h0m-39 1h0m3 0h0m-48 1h0m49 0h0m9 0h0m28 0h0m-45 1h0m14 0h0m-31 1h0m44 0h0m5 0h0m2 0h0m-17 1h0m2 0h0m0 0h0m8 0h0m10 0h0m-47 1h0m32 0h0m-20 1h0m8 0h0m-12 1h0m9 0h0m4 0h0m15 0h0m-15 1h0m18 0h0m2 1h0m6 0h0m-82 1h0m61 0h0m23 0h0m-77 1h0m39 0h0m17 0h0m-52 1h0m67 0h0m-17 1h0m10 0h0m13 0h0m-44 1h0m14 0h0m17 0h0m12 0h0m-73 1h0m48 0h0m19 0h0m-72 1h0m68 0h0m-42 1h0m32 1h0m-53 1h0m74 0h0m-62 1h0m5 0h0m45 0h0m-17 1h0m3 1h0m5 1h0m4 0h0m9 0h0m10 1h0m-21 1h0m-26 2h0m12 0h0m28 0h0m-12 1h0m3 1h0m6 0h0m11 0h0m-144 1h0m3 0h0m111 0h0m11 0h0m23 0h0m-20 1h0m-22 1h0m40 0h0m-145 1h0m122 0h0m-120 1h0m4 0h0m108 0h0m4 0h0m6 0h0m25 0h0m-156 1h0m8 0h0m110 0h0m29 1h0m9 0h0m42 0h0m3 0h0m-190 1h0m107 0h0m6 0h0m7 0h0m15 0h0m51 0h0m-74 1h0m26 0h0m48 0h0m5 0h0m6 0h0m-214 1h0m1 0h0m16 0h0m2 0h0m108 0h0m4 0h0m16 0h0m54 0h0m6 0h0m-212 1h0m19 0h0m3 0h0m126 0h0m8 0h0m46 0h0m-173 1h0m184 0h0m-193 1h0m177 0h0m14 0h0m-208 1h0m16 0h0m122 0h0m9 0h0m2 0h0m8 0h0m41 0h0m8 0h0m5 0h0m7 0h0m1 0h0m10 0h0m-222 1h0m1 0h0m3 0h0m9 0h0m140 0h0m44 0h0m8 0h0m1 0h0m2 0h0m9 0h0m-225 1h0m6 0h0m4 0h0m140 0h0m4 0h0m64 0h0m-193 1h0m132 0h0m57 0h0m12 0h0m-214 1h0m137 0h0m6 0h0m44 0h0m28 0h0m-225 1h0m28 0h0m181 0h0m6 0h0m2 0h0m-197 1h0m200 0h0m-220 1h0m8 0h0m7 1h0m3 0h0m3 0h0m192 0h0m4 0h0m8 0h0m5 0h0m-213 1h0m12 0h0m118 0h0m7 0h0m47 0h0m2 0h0m5 0h0m-208 1h0m32 0h0m2 0h0m178 0h0m-201 1h0m17 0h0m187 0h0m2 0h0m6 0h0m9 0h0m-226 1h0m16 0h0m1 0h0m3 0h0m5 0h0m171 0h0m6 0h0m9 0h0m6 0h0m2 0h0m3 0h0m-226 1h0m1 0h0m2 0h0m3 0h0m2 0h0m198 0h0m1 0h0m-180 1h0m4 0h0m181 0h0m9 0h0m-200 1h0m3 0h0m151 1h0m3 0h0m46 0h0m-227 1h0m3 0h0m14 0h0m193 0h0m9 0h0m4 0h0m4 0h0m-219 1h0m23 0h0m177 0h0m14 0h0m5 0h0m1 0h0m2 0h0m-206 1h0m193 0h0m14 0h0m-17 1h0m1 0h0m0 0h0m7 0h0m7 1h0m12 0h0m-243 1h0m219 1h0m16 1h0m5 0h0m2 0h0m-268 1h0m242 0h0m2 0h0m4 0h0m2 0h0m2 0h0m-20 2h0m14 0h0m2 0h0m10 0h0m8 0h0m2 0h0m-34 1h0m22 0h0m7 0h0m-21 1h0m12 0h0m-11 1h0m9 0h0m0 0h0m-220 1h0m227 0h0m3 0h0m5 0h0m-27 1h0m4 0h0m16 0h0m4 0h0m-18 1h0m1 0h0m14 0h0m-26 1h0m6 0h0m13 0h0m11 1h0m2 0h0m-10 1h0m0 0h0m2 0h0m7 0h0m-40 1h0m21 0h0m-218 1h0m188 0h0m21 0h0m2 0h0m12 0h0m4 0h0m-29 1h0m19 0h0m19 0h0m-15 1h0m5 0h0m-27 1h0m22 0h0m7 0h0m8 0h0m-30 1h0m10 0h0m11 0h0m-25 1h0m15 0h0m8 0h0m3 0h0m4 0h0m-205 1h0m176 0h0m8 0h0m10 0h0m1 0h0m-41 1h0m6 0h0m10 0h0m20 0h0m5 0h0m14 0h0m2 0h0m-53 1h0m12 0h0m3 0h0m26 0h0m7 0h0m-206 1h0m155 0h0m8 0h0m7 0h0m6 0h0m5 0h0m29 0h0m2 0h0m-43 1h0m4 0h0m3 0h0m13 0h0m19 0h0m-52 1h0m4 0h0m5 0h0m6 0h0m25 0h0m7 0h0m3 0h0m5 0h0m-255 1h0m226 0h0m7 0h0m6 0h0m15 0h0m-235 1h0m5 0h0m181 0h0m1 0h0m4 0h0m8 0h0m4 0h0m13 0h0m8 0h0m7 0h0m-218 1h0m3 0h0m3 0h0m5 0h0m166 0h0m5 0h0m12 0h0m19 0h0m0 0h0m-226 1h0m10 0h0m178 0h0m4 0h0m31 0h0m-218 1h0m16 0h0m1 0h0m172 0h0m6 0h0m10 0h0m-209 1h0m17 0h0m197 0h0m-197 1h0m200 0h0m3 0h0m13 0h0m-49 1h0m21 0h0m-14 1h0m12 0h0m6 0h0m9 0h0m10 0h0m5 0h0m-225 1h0m179 0h0m15 0h0m19 0h0m3 0h0m2 0h0m7 0h0m-42 1h0m18 0h0m9 0h0m5 1h0m7 0h0m-12 1h0m-219 1h0m223 0h0m3 0h0m-234 1h0m198 0h0m5 0h0m2 0h0m1 0h0m-193 1h0m193 0h0m-209 1h0m13 0h0m-4 1h0m197 0h0m4 0h0m-208 1h0m3 0h0m18 0h0m189 0h0m-222 1h0m4 0h0m2 0h0m6 0h0m4 0h0m13 0h0m6 0h0m180 0h0m-191 1h0m1 0h0m187 0h0m5 0h0m-214 1h0m6 0h0m234 0h0m-229 1h0m4 0h0m11 0h0m7 0h0m177 0h0m-205 1h0m5 0h0m19 0h0m-28 1h0m15 0h0m5 0h0m-11 1h0m-4 1h0m7 0h0m18 0h0m-34 1h0m12 0h0m16 0h0m3 0h0m180 0h0m-205 1h0m15 1h0m13 0h0m-19 1h0m-3 1h0m4 0h0m6 0h0m7 0h0m2 0h0m-11 1h0m18 0h0m-24 1h0m0 0h0m23 0h0m-15 1h0m3 0h0m-14 2h0m3 2h0m7 0h0m-5 1h0m-4 3h0m1 2h0m1 0h0m1 1h0m2 0h0m1 1h0m-5 1h0m5 1h0m-6 3h0m189 5h0m1 2h0m-20 7h0m1 0h0m-1 2h0m2 1h0m0 2h0m33 4h0m4 1h0m-38 1h0m28 0h0m2 0h0m1 1h0m1 0h0m-70 1h0m4 0h0m67 0h0m-72 1h0m57 0h0m8 0h0m1 0h0m-61 1h0m40 1h0m14 0h0m-64 1h0m65 0h0m2 0h0m-66 1h0m46 0h0m8 0h0m6 0h0m8 0h0m-27 1h0m3 0h0m2 0h0m0 0h0m-50 2h0m4 0h0m4 0h0m41 0h0m-44 2h0m6 0h0m36 0h0"/>
<path stroke="#593b80" d="M142 1021h0m4 2h0m-4 1h0m10 1h0m-7 1h0m-6 2h0m11 0h0m106 0h0m-115 1h0m104 1h0m12 0h0m-99 1h0m77 0h0m18 0h0m-111 1h0m103 0h0m3 0h0m9 0h0m1 0h0m-19 1h0m6 0h0m21 0h0m7 0h0m3 0h0m-126 1h0m11 0h0m102 0h0m5 0h0m4 0h0m0 0h0m-40 1h0m11 0h0m12 0h0m3 0h0m18 0h0m-132 1h0m8 0h0m95 0h0m5 0h0m20 0h0m8 0h0m-132 1h0m83 0h0m7 0h0m8 0h0m15 0h0m3 0h0m21 0h0m-127 1h0m81 0h0m3 0h0m13 0h0m2 0h0m12 0h0m-39 1h0m16 0h0m6 0h0m22 0h0m1 0h0m-19 1h0m1 0h0m12 0h0m-109 1h0m71 0h0m53 0h0m-54 1h0m12 0h0m20 0h0m24 0h0m6 0h0m-55 1h0m2 0h0m2 0h0m3 0h0m12 0h0m3 0h0m2 0h0m7 0h0m1 0h0m10 0h0m2 0h0m-121 1h0m0 0h0m92 0h0m24 0h0m1 0h0m3 0h0m-47 1h0m2 0h0m3 0h0m3 0h0m1 0h0m16 0h0m15 0h0m3 0h0m4 0h0m2 0h0m3 0h0m0 0h0m-134 1h0m100 0h0m30 0h0m-50 1h0m13 0h0m2 0h0m13 0h0m5 0h0m-6 1h0m16 0h0m13 0h0m-57 1h0m6 0h0m12 0h0m8 0h0m11 0h0m6 0h0m6 0h0m6 0h0m-43 1h0m22 0h0m0 0h0m-30 1h0m10 0h0m14 0h0m4 0h0m3 0h0m-27 1h0m2 0h0m11 0h0m6 0h0m14 0h0m8 0h0m2 0h0m-20 1h0m8 0h0m-11 1h0m-30 1h0m15 0h0m2 0h0m12 0h0m26 0h0m-48 1h0m24 0h0m2 0h0m0 0h0m4 0h0m8 0h0m-39 1h0m19 0h0m2 0h0m5 0h0m-37 1h0m4 0h0m1 0h0m15 0h0m15 0h0m2 0h0m10 0h0m6 0h0m-49 1h0m9 0h0m10 0h0m2 0h0m6 0h0m7 0h0m6 0h0m7 0h0m6 0h0m0 0h0m2 0h0m-56 1h0m0 0h0m2 0h0m9 0h0m19 0h0m6 0h0m4 0h0m18 0h0m-67 1h0m15 0h0m3 0h0m4 0h0m7 0h0m2 0h0m4 0h0m3 0h0m3 0h0m16 0h0m4 0h0m-62 1h0m14 0h0m14 0h0m12 0h0m26 0h0m-51 1h0m8 0h0m7 0h0m-15 1h0m6 0h0m24 0h0m3 0h0m0 0h0m4 0h0m2 0h0m-50 1h0m1 0h0m2 0h0m10 0h0m1 0h0m8 0h0m2 0h0m10 0h0m16 0h0m2 0h0m6 0h0m-60 1h0m14 0h0m24 0h0m5 0h0m8 0h0m1 0h0m-54 1h0m4 0h0m10 0h0m5 0h0m28 0h0m9 0h0m-35 1h0m2 0h0m0 0h0m3 0h0m22 0h0m17 0h0m2 0h0m-58 1h0m12 0h0m0 0h0m3 0h0m12 0h0m4 0h0m3 0h0m3 0h0m26 0h0m3 0h0m-64 1h0m4 0h0m30 0h0m4 0h0m-25 1h0m5 0h0m1 0h0m2 0h0m7 0h0m4 0h0m28 0h0m-66 1h0m4 0h0m6 0h0m38 0h0m-25 1h0m8 0h0m33 0h0m4 0h0m-52 1h0m3 0h0m45 0h0m-57 1h0m4 0h0m10 0h0m2 0h0m0 0h0m3 0h0m1 0h0m9 0h0m28 0h0m2 0h0m0 0h0m1 0h0m-43 1h0m28 0h0m8 0h0m9 0h0m-56 1h0m4 0h0m3 0h0m1 1h0m1 0h0m33 0h0m4 0h0m6 0h0m6 0h0m-57 1h0m3 0h0m3 0h0m0 1h0m8 0h0m34 0h0m-56 1h0m51 0h0m11 0h0m-48 1h0m5 0h0m34 0h0m8 0h0m-48 1h0m13 0h0m-8 1h0m4 0h0m25 0h0m3 0h0m10 0h0m-45 1h0m33 0h0m7 1h0m-35 1h0m38 0h0m12 0h0m-58 1h0m-5 1h0m48 0h0m2 0h0m12 0h0m16 0h0m-22 1h0m5 0h0m3 0h0m6 0h0m10 0h0m-72 1h0m66 0h0m10 0h0m-42 1h0m15 0h0m1 0h0m5 0h0m4 0h0m8 0h0m1 0h0m1 0h0m4 0h0m-137 1h0m109 0h0m8 0h0m1 0h0m1 0h0m1 0h0m13 0h0m-131 1h0m2 0h0m109 0h0m6 0h0m7 0h0m4 0h0m-134 1h0m5 0h0m73 0h0m27 0h0m13 0h0m8 0h0m20 0h0m-139 1h0m100 0h0m10 0h0m5 0h0m6 0h0m3 0h0m5 0h0m-35 1h0m7 0h0m42 0h0m-148 1h0m2 0h0m0 0h0m102 0h0m3 0h0m8 0h0m16 0h0m2 0h0m5 0h0m2 0h0m-22 1h0m12 0h0m7 0h0m3 0h0m4 0h0m-139 1h0m76 0h0m41 0h0m1 0h0m3 0h0m-13 1h0m2 0h0m22 0h0m7 0h0m-149 1h0m4 0h0m82 0h0m24 0h0m2 0h0m18 0h0m-130 1h0m4 0h0m1 0h0m100 0h0m-94 1h0m91 0h0m1 0h0m1 0h0m6 0h0m5 0h0m26 0h0m-29 1h0m5 0h0m13 0h0m6 0h0m7 0h0m-139 1h0m119 0h0m9 0h0m16 0h0m4 0h0m-64 1h0m3 0h0m11 0h0m9 0h0m2 0h0m2 0h0m2 0h0m2 0h0m12 0h0m4 0h0m5 0h0m-31 1h0m0 0h0m3 0h0m9 0h0m3 0h0m5 0h0m10 0h0m3 0h0m-139 1h0m75 0h0m43 0h0m7 0h0m-127 1h0m61 0h0m42 0h0m5 0h0m9 0h0m14 0h0m3 0h0m-122 1h0m54 0h0m5 0h0m26 0h0m4 0h0m9 0h0m33 0h0m1 0h0m5 0h0m-147 1h0m2 0h0m0 0h0m4 0h0m97 0h0m34 0h0m-137 1h0m92 0h0m29 0h0m-2 1h0m11 0h0m11 0h0m-129 1h0m79 0h0m1 0h0m19 0h0m2 0h0m2 0h0m9 0h0m0 0h0m-122 1h0m0 0h0m116 0h0m13 0h0m5 0h0m12 0h0m-123 1h0m40 0h0m34 0h0m7 0h0m11 0h0m3 0h0m16 0h0m6 0h0m4 0h0m-34 1h0m-110 1h0m100 0h0m3 0h0m10 0h0m-115 1h0m4 0h0m1 0h0m92 0h0m7 0h0m12 0h0m3 0h0m6 0h0m0 0h0m3 0h0m10 0h0m5 0h0m-147 1h0m75 0h0m20 0h0m8 0h0m7 0h0m1 0h0m15 0h0m-130 1h0m2 0h0m5 0h0m101 0h0m17 0h0m9 0h0m-127 1h0m3 0h0m3 0h0m85 0h0m8 0h0m16 0h0m1 0h0m4 0h0m27 0h0m-152 1h0m6 0h0m100 0h0m8 0h0m-6 1h0m1 0h0m9 0h0m2 0h0m7 0h0m12 0h0m2 0h0m8 0h0m-140 1h0m90 0h0m32 0h0m17 0h0m-56 1h0m5 0h0m9 0h0m2 0h0m2 0h0m13 0h0m10 0h0m6 0h0m-150 1h0m0 0h0m7 0h0m96 0h0m9 0h0m3 0h0m7 0h0m7 0h0m4 0h0m10 0h0m-206 1h0m66 0h0m15 0h0m86 0h0m8 0h0m28 0h0m4 0h0m2 0h0m4 0h0m2 0h0m1 0h0m4 0h0m-221 1h0m5 0h0m61 0h0m4 0h0m2 0h0m68 0h0m13 0h0m66 0h0m4 0h0m2 0h0m-165 1h0m16 0h0m100 0h0m17 0h0m6 0h0m13 0h0m4 0h0m-149 1h0m3 0h0m5 0h0m72 0h0m11 0h0m17 0h0m6 0h0m2 0h0m12 0h0m6 0h0m1 0h0m8 0h0m2 0h0m9 0h0m-217 1h0m6 0h0m51 0h0m2 0h0m107 0h0m7 0h0m3 0h0m10 0h0m2 0h0m19 0h0m-214 1h0m1 0h0m73 0h0m2 0h0m59 0h0m16 0h0m-146 1h0m137 0h0m4 0h0m20 0h0m10 0h0m2 0h0m1 0h0m13 0h0m1 0h0m1 0h0m1 0h0m5 0h0m7 0h0m24 0h0m-235 1h0m13 0h0m50 0h0m9 0h0m72 0h0m9 0h0m2 0h0m4 0h0m31 0h0m2 0h0m31 0h0m-209 1h0m48 0h0m5 0h0m1 0h0m82 0h0m2 0h0m27 0h0m20 0h0m14 0h0m2 0h0m16 0h0m-231 1h0m65 0h0m74 0h0m33 0h0m11 0h0m4 0h0m17 0h0m8 0h0m4 0h0m1 0h0m9 0h0m3 0h0m3 0h0m-230 1h0m13 0h0m48 0h0m7 0h0m2 0h0m74 0h0m17 0h0m18 0h0m15 0h0m36 0h0m-98 1h0m6 0h0m43 0h0m13 0h0m4 0h0m2 0h0m-196 1h0m131 0h0m6 0h0m7 0h0m2 0h0m9 0h0m3 0h0m13 0h0m15 0h0m0 0h0m12 0h0m1 0h0m3 0h0m6 0h0m1 0h0m5 0h0m-211 1h0m60 0h0m90 0h0m22 0h0m16 0h0m13 0h0m8 0h0m-69 1h0m58 0h0m7 0h0m2 0h0m11 0h0m-222 1h0m151 0h0m11 0h0m3 0h0m22 0h0m2 0h0m6 0h0m1 0h0m-197 1h0m9 0h0m139 0h0m16 0h0m9 0h0m10 0h0m3 0h0m6 0h0m13 0h0m8 0h0m9 0h0m2 0h0m-75 1h0m10 0h0m19 0h0m3 0h0m4 0h0m17 0h0m-201 1h0m140 0h0m11 0h0m5 0h0m9 0h0m9 0h0m18 0h0m3 0h0m2 0h0m13 0h0m2 0h0m7 0h0m-74 1h0m44 0h0m8 0h0m-19 1h0m1 0h0m9 0h0m14 0h0m8 0h0m-66 1h0m21 0h0m6 0h0m4 0h0m6 0h0m4 0h0m12 0h0m19 0h0m0 0h0m1 0h0m-72 1h0m5 0h0m0 0h0m3 0h0m10 0h0m20 0h0m-40 1h0m7 0h0m11 0h0m9 0h0m-30 1h0m24 0h0m19 0h0m5 0h0m12 0h0m7 0h0m3 0h0m3 0h0m-75 1h0m6 0h0m3 0h0m10 0h0m11 0h0m8 0h0m2 0h0m7 0h0m5 0h0m6 0h0m16 0h0m-73 1h0m12 0h0m12 0h0m29 0h0m11 0h0m5 0h0m-67 1h0m8 0h0m5 0h0m4 0h0m2 0h0m24 0h0m17 0h0m-7 1h0m1 1h0m12 0h0m2 0h0m0 0h0m-63 1h0m52 0h0m-61 1h0m13 0h0m12 0h0m38 0h0m5 0h0m6 0h0m2 0h0m-77 1h0m29 0h0m15 0h0m18 0h0m-48 1h0m8 0h0m2 0h0m41 0h0m1 0h0m9 0h0m-28 1h0m4 0h0m21 0h0m7 0h0m-55 1h0m18 0h0m4 0h0m0 0h0m4 0h0m0 0h0m14 0h0m14 0h0m-71 1h0m7 0h0m48 0h0m8 0h0m3 0h0m-60 1h0m24 0h0m9 0h0m9 0h0m6 0h0m-45 1h0m7 0h0m27 0h0m2 0h0m11 0h0m5 0h0m9 0h0m3 0h0m2 0h0m-75 1h0m7 0h0m40 0h0m1 0h0m14 0h0m3 0h0m-47 1h0m26 0h0m27 0h0m-60 1h0m49 0h0m5 0h0m6 0h0m-66 1h0m8 0h0m52 0h0m-19 1h0m6 0h0m14 0h0m5 0h0m-66 1h0m60 0h0m1 0h0m10 0h0m-60 1h0m6 0h0m24 0h0m11 0h0m13 0h0m8 0h0m1 0h0m-76 1h0m38 0h0m11 0h0m-10 1h0m11 0h0m8 0h0m8 0h0m12 0h0m-153 1h0m111 0h0m41 0h0m-24 1h0m10 0h0m-147 1h0m18 0h0m66 0h0m36 0h0m24 0h0m3 0h0m1 0h0m-140 1h0m135 0h0m15 0h0m-7 1h0m2 0h0m1 0h0m1 0h0m2 0h0m3 0h0m-34 1h0m1 0h0m2 0h0m10 0h0m4 0h0m14 0h0m-157 1h0m133 0h0m23 0h0m4 0h0m-167 1h0m151 0h0m3 0h0m14 0h0m-152 1h0m11 0h0m106 0h0m7 0h0m67 0h0m4 0h0m-184 1h0m119 0h0m21 0h0m39 0h0m-194 1h0m125 0h0m14 0h0m11 0h0m4 0h0m3 0h0m40 0h0m-179 2h0m4 0h0m121 0h0m13 0h0m40 0h0m4 0h0m-48 1h0m-137 1h0m129 0h0m3 0h0m41 0h0m14 0h0m-72 1h0m4 0h0m3 0h0m13 0h0m53 0h0m-201 1h0m139 0h0m5 0h0m7 0h0m-165 1h0m19 0h0m131 0h0m16 0h0m44 0h0m0 0h0m2 0h0m6 0h0m17 0h0m-227 1h0m6 0h0m145 0h0m44 0h0m6 0h0m-190 1h0m203 0h0m-218 1h0m19 0h0m141 0h0m1 0h0m43 0h0m32 0h0m-229 1h0m210 0h0m8 0h0m4 0h0m-26 1h0m29 0h0m-205 1h0m5 0h0m178 0h0m11 0h0m-192 1h0m200 0h0m-262 1h0m68 0h0m167 0h0m4 0h0m2 0h0m5 1h0m8 0h0m8 0h0m-207 1h0m207 0h0m-221 1h0m199 0h0m22 0h0m-263 1h0m255 0h0m1 0h0m-242 1h0m227 0h0m2 0h0m-248 1h0m259 0h0m5 0h0m-12 1h0m15 0h0m3 0h0m8 0h0m-13 1h0m8 0h0m-255 1h0m257 0h0m1 0h0m2 0h0m-15 2h0m6 0h0m11 0h0m-270 1h0m11 0h0m-15 1h0m251 0h0m8 0h0m-262 1h0m252 0h0m26 1h0m-38 1h0m9 0h0m-11 1h0m9 0h0m18 0h0m13 0h0m-264 1h0m236 0h0m6 0h0m2 0h0m23 0h0m-18 1h0m10 0h0m-27 1h0m12 0h0m9 0h0m4 0h0m2 0h0m-253 1h0m225 0h0m17 0h0m2 0h0m-11 1h0m6 0h0m11 0h0m-16 1h0m2 0h0m-248 1h0m244 0h0m8 0h0m2 0h0m-12 1h0m20 0h0m-32 1h0m29 0h0m-246 1h0m232 0h0m4 0h0m2 0h0m17 0h0m-236 1h0m209 0h0m23 0h0m-24 1h0m5 0h0m5 0h0m10 0h0m-253 1h0m25 0h0m202 0h0m9 0h0m6 0h0m3 0h0m11 0h0m2 0h0m-33 1h0m8 0h0m26 0h0m-243 1h0m10 0h0m176 0h0m28 0h0m18 0h0m7 0h0m2 0h0m-58 1h0m6 0h0m-158 1h0m170 0h0m17 0h0m9 0h0m6 0h0m5 0h0m8 0h0m-248 1h0m194 0h0m5 0h0m3 0h0m18 0h0m26 0h0m-278 1h0m70 0h0m165 0h0m11 0h0m13 0h0m7 0h0m-224 1h0m25 0h0m182 0h0m14 0h0m3 0h0m-243 1h0m218 0h0m4 0h0m2 0h0m12 0h0m17 0h0m-220 1h0m1 0h0m170 0h0m6 0h0m6 0h0m10 0h0m23 0h0m-45 1h0m27 0h0m5 0h0m6 0h0m14 0h0m-264 1h0m31 0h0m169 0h0m10 0h0m29 0h0m2 0h0m16 0h0m5 0h0m-35 1h0m20 0h0m2 0h0m10 0h0m3 0h0m-49 1h0m4 0h0m10 0h0m7 0h0m1 0h0m7 0h0m13 0h0m3 0h0m2 0h0m7 0h0m-273 1h0m6 0h0m201 0h0m13 0h0m11 0h0m4 0h0m4 0h0m6 0h0m4 0h0m-243 1h0m221 0h0m15 0h0m4 0h0m8 0h0m-253 1h0m44 0h0m189 0h0m11 0h0m2 0h0m14 0h0m-33 1h0m1 0h0m22 1h0m9 0h0m-35 1h0m24 0h0m4 0h0m-230 1h0m207 0h0m29 0h0m2 0h0m2 0h0m-266 2h0m55 0h0m170 0h0m11 0h0m-204 1h0m201 0h0m22 0h0m-25 1h0m-193 1h0m191 0h0m-189 1h0m4 0h0m4 0h0m-4 1h0m193 0h0m-206 1h0m9 0h0m-8 1h0m3 1h0m199 0h0m-207 1h0m19 0h0m166 0h0m-173 2h0m174 1h0m-176 1h0m-9 1h0m181 0h0m-165 1h0m2 0h0m-13 1h0m2 1h0m6 1h0m10 0h0m-24 1h0m11 0h0m8 0h0m-16 3h0m6 0h0m-2 6h0m2 3h0m182 12h0m-1 3h0m-17 7h0m2 5h0m33 2h0m1 0h0m-9 3h0m7 0h0m-77 2h0m43 1h0m27 0h0m-21 1h0m-47 1h0m1 0h0m3 0h0m3 0h0m69 0h0m-78 1h0m9 0h0m-7 1h0m56 0h0m7 0h0m-17 1h0m-43 1h0m59 0h0"/>
<path stroke="#584285" d="M142 1028h0m101 1h0m-98 1h0m122 0h0m1 0h0m-116 1h0m88 0h0m19 0h0m13 0h0m-34 1h0m19 1h0m2 0h0m1 0h0m20 0h0m1 0h0m4 0h0m-137 1h0m86 0h0m0 0h0m1 0h0m15 0h0m5 0h0m7 0h0m7 0h0m13 0h0m-126 1h0m94 0h0m7 0h0m25 0h0m0 0h0m-34 1h0m34 0h0m-120 1h0m85 0h0m19 0h0m20 0h0m-50 1h0m5 0h0m2 0h0m6 0h0m6 0h0m3 0h0m17 0h0m-31 1h0m16 0h0m2 0h0m6 0h0m10 0h0m1 0h0m7 0h0m-43 1h0m6 0h0m1 0h0m22 0h0m10 0h0m-119 1h0m72 0h0m6 0h0m7 0h0m15 0h0m2 0h0m0 0h0m-19 1h0m17 0h0m5 0h0m-40 1h0m21 0h0m3 0h0m6 0h0m17 0h0m1 0h0m7 0h0m-128 1h0m2 0h0m74 0h0m17 0h0m23 0h0m-42 1h0m1 0h0m16 0h0m10 0h0m0 0h0m-97 1h0m79 0h0m25 0h0m15 0h0m5 0h0m-53 1h0m7 0h0m4 0h0m7 0h0m-21 1h0m25 0h0m9 1h0m11 0h0m2 0h0m-47 1h0m17 0h0m2 0h0m42 0h0m-59 1h0m11 0h0m6 0h0m3 0h0m-22 1h0m15 0h0m25 0h0m2 0h0m-35 1h0m11 0h0m9 0h0m11 0h0m6 0h0m6 0h0m9 0h0m-56 1h0m2 0h0m7 0h0m10 0h0m-29 1h0m47 0h0m2 0h0m7 0h0m4 0h0m5 0h0m-61 1h0m9 0h0m6 0h0m9 0h0m20 0h0m11 0h0m-48 1h0m48 0h0m-57 1h0m4 0h0m2 0h0m22 0h0m6 0h0m12 0h0m-38 1h0m10 0h0m11 0h0m-28 1h0m17 1h0m3 0h0m19 0h0m8 0h0m1 0h0m1 0h0m-35 1h0m4 0h0m25 0h0m-14 1h0m5 0h0m-26 1h0m9 0h0m11 0h0m-33 1h0m14 0h0m13 0h0m27 0h0m-37 1h0m3 0h0m38 0h0m-52 1h0m13 0h0m4 0h0m5 0h0m7 0h0m2 0h0m6 0h0m25 0h0m-46 1h0m7 0h0m2 0h0m-26 1h0m8 0h0m1 0h0m14 0h0m12 0h0m27 0h0m-44 1h0m29 0h0m-26 1h0m7 0h0m12 0h0m21 0h0m4 0h0m-53 1h0m6 0h0m3 0h0m0 0h0m9 0h0m11 0h0m-7 1h0m3 0h0m31 0h0m-60 1h0m31 0h0m20 0h0m-29 1h0m26 0h0m11 0h0m-54 2h0m48 0h0m-5 1h0m5 1h0m8 0h0m3 0h0m-59 1h0m7 0h0m32 0h0m-27 1h0m31 1h0m8 0h0m5 0h0m3 0h0m-1 1h0m-13 1h0m15 2h0m-4 1h0m7 0h0m-7 1h0m-14 1h0m1 0h0m30 0h0m1 0h0m-129 1h0m63 0h0m55 0h0m6 0h0m-24 1h0m0 1h0m0 0h0m3 0h0m5 0h0m14 0h0m3 0h0m-37 1h0m2 0h0m28 0h0m16 0h0m-25 1h0m-11 1h0m4 0h0m25 0h0m-137 1h0m8 0h0m77 0h0m44 0h0m-127 1h0m2 0h0m113 0h0m30 0h0m4 0h0m-150 1h0m128 0h0m27 0h0m-153 1h0m8 0h0m71 0h0m36 0h0m19 0h0m12 0h0m-147 1h0m4 0h0m78 0h0m27 0h0m2 0h0m4 0h0m27 0h0m-28 1h0m20 0h0m4 0h0m4 0h0m6 0h0m-51 1h0m14 0h0m9 0h0m3 0h0m9 0h0m5 0h0m14 0h0m-68 1h0m22 0h0m2 0h0m25 0h0m10 0h0m-15 1h0m0 0h0m19 0h0m-147 1h0m88 0h0m35 0h0m10 0h0m17 0h0m2 0h0m-147 1h0m3 0h0m78 0h0m54 0h0m6 0h0m-141 1h0m143 0h0m-140 1h0m94 0h0m15 0h0m16 0h0m17 0h0m-146 1h0m100 0h0m25 0h0m7 0h0m3 0h0m7 0h0m-66 1h0m66 0h0m-46 1h0m5 0h0m2 0h0m20 0h0m0 0h0m5 0h0m13 0h0m-149 1h0m112 0h0m5 0h0m5 0h0m6 0h0m14 0h0m3 0h0m-45 1h0m6 0h0m3 0h0m9 0h0m6 0h0m10 0h0m7 0h0m10 0h0m-52 1h0m9 0h0m14 0h0m7 0h0m9 0h0m7 0h0m3 0h0m-47 1h0m4 0h0m31 0h0m13 0h0m3 0h0m-138 1h0m95 0h0m6 0h0m11 0h0m7 0h0m6 0h0m-132 1h0m4 0h0m118 0h0m3 0h0m-34 1h0m4 0h0m2 0h0m4 0h0m3 0h0m4 0h0m25 0h0m-135 1h0m89 0h0m24 0h0m10 0h0m7 0h0m9 0h0m1 0h0m-137 1h0m89 0h0m30 0h0m25 0h0m-154 1h0m81 0h0m16 0h0m8 0h0m5 0h0m13 0h0m12 0h0m10 0h0m4 0h0m-143 1h0m88 0h0m10 0h0m0 0h0m28 0h0m10 0h0m-128 1h0m81 0h0m34 0h0m22 0h0m-213 1h0m63 0h0m4 0h0m8 0h0m85 0h0m21 0h0m5 0h0m6 0h0m5 0h0m10 0h0m-49 1h0m19 0h0m6 0h0m3 0h0m12 0h0m3 0h0m2 0h0m5 0h0m6 0h0m-160 1h0m115 0h0m25 0h0m6 0h0m-208 1h0m2 0h0m161 0h0m8 0h0m19 0h0m9 0h0m15 0h0m1 0h0m-47 1h0m2 0h0m7 0h0m4 0h0m7 0h0m5 0h0m6 0h0m4 0h0m3 0h0m9 0h0m-220 1h0m74 0h0m12 0h0m85 0h0m12 0h0m18 0h0m0 0h0m6 0h0m-201 1h0m69 0h0m1 0h0m105 0h0m9 0h0m1 0h0m7 0h0m17 0h0m-205 1h0m50 0h0m108 0h0m2 0h0m20 0h0m4 0h0m-193 1h0m6 0h0m135 0h0m4 0h0m46 0h0m1 0h0m9 0h0m5 0h0m-204 1h0m55 0h0m2 0h0m87 0h0m10 0h0m31 0h0m10 0h0m1 0h0m17 0h0m9 0h0m-164 1h0m0 0h0m75 0h0m22 0h0m15 0h0m4 0h0m19 0h0m4 0h0m25 0h0m-164 1h0m11 0h0m61 0h0m8 0h0m12 0h0m16 0h0m14 0h0m26 0h0m12 0h0m-224 1h0m57 0h0m11 0h0m72 0h0m18 0h0m7 0h0m6 0h0m32 0h0m16 0h0m4 0h0m-224 1h0m5 0h0m2 0h0m53 0h0m74 0h0m25 0h0m7 0h0m4 0h0m13 0h0m16 0h0m2 0h0m9 0h0m17 0h0m-218 1h0m138 0h0m10 0h0m6 0h0m15 0h0m22 0h0m6 0h0m3 0h0m-65 1h0m9 0h0m4 0h0m2 0h0m7 0h0m8 0h0m7 0h0m9 0h0m23 0h0m-76 1h0m31 0h0m8 0h0m6 0h0m11 0h0m36 0h0m-223 1h0m6 0h0m6 0h0m160 0h0m16 0h0m4 0h0m12 0h0m16 0h0m1 0h0m-217 1h0m52 0h0m4 0h0m68 0h0m21 0h0m6 0h0m4 0h0m20 0h0m15 0h0m-193 1h0m126 0h0m9 0h0m3 0h0m8 0h0m22 0h0m8 0h0m6 0h0m9 0h0m13 0h0m-199 1h0m2 0h0m126 0h0m0 0h0m3 0h0m52 0h0m23 0h0m5 0h0m-89 1h0m22 0h0m17 0h0m10 0h0m1 0h0m9 0h0m18 0h0m3 0h0m-55 1h0m23 0h0m3 0h0m6 0h0m31 0h0m-50 1h0m47 0h0m-210 1h0m137 0h0m6 0h0m4 0h0m22 0h0m27 0h0m5 0h0m-74 1h0m9 0h0m5 0h0m15 0h0m4 0h0m2 0h0m46 0h0m-81 1h0m24 0h0m21 0h0m37 0h0m-62 1h0m47 0h0m-65 1h0m6 0h0m12 0h0m11 0h0m10 0h0m3 0h0m29 0h0m3 0h0m-75 1h0m32 0h0m6 0h0m7 0h0m4 0h0m8 0h0m-57 1h0m20 0h0m7 0h0m20 0h0m-46 1h0m8 0h0m3 0h0m26 0h0m2 0h0m3 0h0m2 0h0m24 0h0m12 0h0m1 0h0m1 0h0m-70 1h0m7 0h0m4 0h0m22 0h0m2 0h0m4 0h0m11 0h0m2 0h0m13 0h0m-78 1h0m6 0h0m23 0h0m3 0h0m5 0h0m2 0h0m13 0h0m6 0h0m15 0h0m-58 1h0m0 0h0m8 0h0m1 0h0m7 0h0m3 0h0m8 0h0m8 0h0m28 0h0m-76 1h0m30 0h0m22 0h0m6 0h0m17 0h0m-74 1h0m25 0h0m9 0h0m4 0h0m1 0h0m2 0h0m2 0h0m2 0h0m8 0h0m6 0h0m7 0h0m-48 1h0m13 0h0m8 0h0m7 0h0m5 0h0m12 0h0m6 0h0m-65 1h0m7 0h0m12 0h0m4 0h0m10 0h0m20 0h0m4 0h0m1 0h0m-37 1h0m-20 1h0m5 0h0m3 0h0m2 0h0m3 0h0m10 0h0m26 0h0m13 0h0m-38 1h0m10 0h0m8 0h0m12 0h0m13 0h0m-71 1h0m5 0h0m12 0h0m22 0h0m4 0h0m-24 1h0m20 0h0m17 0h0m9 0h0m3 0h0m1 0h0m-67 1h0m11 0h0m10 0h0m34 0h0m3 0h0m4 0h0m10 0h0m-60 1h0m1 0h0m6 0h0m17 0h0m7 0h0m1 0h0m7 0h0m22 0h0m5 0h0m-67 1h0m34 0h0m9 0h0m12 0h0m5 0h0m-68 1h0m9 0h0m10 0h0m20 0h0m1 0h0m4 0h0m14 0h0m6 0h0m6 0h0m5 0h0m-79 1h0m1 0h0m8 0h0m1 0h0m5 0h0m29 0h0m3 0h0m6 0h0m2 0h0m6 0h0m5 0h0m18 0h0m-79 1h0m0 0h0m10 0h0m4 0h0m2 0h0m12 0h0m22 0h0m7 0h0m15 0h0m6 0h0m-58 1h0m5 0h0m4 0h0m8 0h0m6 0h0m-33 1h0m53 0h0m7 0h0m3 0h0m-74 1h0m39 0h0m-4 1h0m18 0h0m21 0h0m-27 1h0m26 0h0m-57 1h0m54 0h0m-63 1h0m54 0h0m4 0h0m-16 1h0m19 0h0m0 1h0m11 0h0m-38 1h0m22 0h0m3 0h0m9 0h0m-14 1h0m11 0h0m-23 1h0m5 0h0m11 0h0m57 0h0m-60 1h0m2 0h0m14 0h0m-25 1h0m1 0h0m6 0h0m12 0h0m3 0h0m1 0h0m54 0h0m-15 1h0m-190 1h0m147 0h0m60 0h0m-77 1h0m6 0h0m3 0h0m7 0h0m6 0h0m-18 1h0m-118 1h0m116 0h0m6 0h0m-137 1h0m198 0h0m-177 1h0m122 0h0m-4 1h0m4 1h0m59 1h0m-52 1h0m-135 3h0m204 1h0m-255 1h0m235 0h0m25 0h0m-274 2h0m10 0h0m13 0h0m27 0h0m27 1h0m-63 2h0m29 0h0m-16 1h0m248 0h0m-21 1h0m8 0h0m-235 1h0m5 0h0m-18 1h0m9 0h0m248 0h0m5 0h0m-279 1h0m23 0h0m240 0h0m13 0h0m5 0h0m-14 1h0m7 0h0m-273 1h0m3 0h0m30 0h0m245 0h0m3 0h0m-247 1h0m3 0h0m1 0h0m239 0h0m2 0h0m8 0h0m-280 1h0m264 0h0m4 0h0m2 0h0m5 0h0m-270 1h0m7 0h0m227 0h0m17 0h0m-261 1h0m33 0h0m-34 1h0m35 0h0m-6 1h0m8 0h0m225 0h0m21 0h0m-276 1h0m14 0h0m-12 1h0m16 0h0m231 0h0m25 0h0m-19 2h0m-228 1h0m243 0h0m-260 1h0m237 0h0m16 0h0m12 0h0m-258 1h0m9 0h0m243 0h0m3 0h0m-281 1h0m25 0h0m254 0h0m-277 1h0m41 0h0m2 0h0m218 0h0m-242 1h0m244 0h0m-232 1h0m-27 1h0m29 0h0m8 0h0m217 0h0m16 0h0m-264 1h0m2 0h0m257 0h0m-251 1h0m8 0h0m213 0h0m4 0h0m4 0h0m10 0h0m-246 1h0m10 0h0m212 0h0m26 0h0m14 0h0m-260 1h0m14 0h0m3 0h0m206 0h0m-233 1h0m3 0h0m12 0h0m237 0h0m9 0h0m13 0h0m-266 1h0m5 0h0m30 0h0m26 0h0m199 0h0m12 0h0m-264 1h0m24 0h0m25 0h0m190 0h0m1 0h0m2 0h0m14 0h0m-266 2h0m210 0h0m14 0h0m6 0h0m4 0h0m0 0h0m18 0h0m-236 1h0m-6 1h0m21 0h0m202 0h0m8 0h0m5 0h0m13 0h0m15 0h0m-269 1h0m17 0h0m183 0h0m19 0h0m14 0h0m24 0h0m-261 1h0m226 0h0m19 0h0m18 0h0m2 0h0m3 0h0m-246 1h0m188 0h0m-207 1h0m218 0h0m17 0h0m5 0h0m10 0h0m15 0h0m-259 1h0m12 0h0m185 0h0m14 0h0m3 0h0m23 0h0m-44 1h0m1 0h0m41 0h0m13 0h0m11 0h0m-268 1h0m10 0h0m216 0h0m7 0h0m1 0h0m-229 1h0m232 0h0m-9 1h0m-218 1h0m3 0h0m189 4h0m7 0h0m-3 1h0m26 0h0m2 0h0m-205 1h0m176 1h0m23 0h0m-19 1h0m21 0h0m-26 1h0m27 1h0m-204 1h0m181 0h0m0 1h0m-5 1h0m0 1h0m7 0h0m-173 7h0m14 2h0m-26 7h0m189 13h0m6 0h0m-6 1h0m-17 8h0m-3 5h0m0 6h0m33 1h0m-64 3h0m33 0h0m-45 2h0m9 0h0m37 0h0m-45 1h0m7 4h0m0 0h0"/>
<path stroke="#57498a" d="M152 1030h0m99 1h0m2 3h0m13 0h0m1 1h0m-34 2h0m20 0h0m17 0h0m-35 1h0m42 0h0m-23 2h0m19 1h0m4 0h0m-43 2h0m20 0h0m10 1h0m-103 1h0m80 0h0m9 0h0m-93 1h0m89 0h0m6 0h0m19 0h0m-112 1h0m97 0h0m24 0h0m2 0h0m-43 1h0m33 0h0m-39 1h0m19 1h0m0 0h0m16 0h0m-43 4h0m2 1h0m37 0h0m23 0h0m-3 1h0m-1 2h0m-59 3h0m20 0h0m16 1h0m-21 4h0m4 2h0m-22 3h0m3 1h0m19 0h0m7 3h0m10 0h0m-21 2h0m42 4h0m1 1h0m17 7h0m7 0h0m9 0h0m-10 3h0m-20 2h0m24 0h0m-137 1h0m101 0h0m39 0h0m3 0h0m-31 1h0m2 1h0m12 0h0m7 0h0m1 0h0m7 0h0m-143 1h0m87 1h0m15 0h0m40 0h0m-17 1h0m9 0h0m-124 1h0m96 1h0m21 0h0m2 0h0m18 0h0m-56 1h0m28 0h0m1 0h0m31 0h0m-62 1h0m18 0h0m7 0h0m9 0h0m24 0h0m11 1h0m-32 1h0m-15 1h0m18 0h0m5 0h0m13 0h0m-134 1h0m89 0h0m48 0h0m-148 1h0m7 1h0m103 1h0m10 0h0m21 0h0m-56 1h0m36 0h0m10 0h0m-121 1h0m100 0h0m1 0h0m27 0h0m-9 1h0m-46 1h0m15 0h0m-97 1h0m4 0h0m87 0h0m8 0h0m42 0h0m-141 1h0m7 0h0m83 0h0m55 0h0m-42 1h0m20 0h0m-28 1h0m48 0h0m2 0h0m-145 2h0m94 0h0m36 0h0m3 0h0m-40 1h0m15 0h0m6 0h0m3 0h0m14 0h0m9 0h0m-136 1h0m138 1h0m-142 1h0m95 0h0m45 1h0m-44 1h0m25 1h0m9 1h0m-200 1h0m125 0h0m59 0h0m10 0h0m10 0h0m14 0h0m-165 1h0m23 0h0m63 0h0m2 0h0m40 0h0m16 0h0m-202 1h0m152 0h0m62 0h0m-212 1h0m64 0h0m71 0h0m19 0h0m37 0h0m8 0h0m2 0h0m9 0h0m-77 1h0m8 0h0m17 0h0m3 0h0m6 0h0m5 0h0m2 0h0m31 0h0m9 0h0m-156 1h0m71 0h0m8 0h0m-144 1h0m11 0h0m119 0h0m2 0h0m12 0h0m5 0h0m22 0h0m28 0h0m-129 1h0m0 0h0m102 0h0m-166 1h0m65 0h0m56 0h0m32 0h0m4 0h0m4 0h0m3 0h0m4 0h0m-162 1h0m47 0h0m70 0h0m7 0h0m9 0h0m21 0h0m48 0h0m-212 1h0m13 0h0m50 0h0m2 0h0m77 0h0m8 0h0m5 0h0m6 0h0m40 0h0m2 0h0m5 0h0m8 0h0m-211 1h0m4 0h0m123 0h0m82 0h0m-210 1h0m4 0h0m129 0h0m2 0h0m12 0h0m6 0h0m-10 1h0m13 0h0m4 0h0m6 0h0m8 0h0m24 0h0m9 0h0m-42 1h0m-168 1h0m127 0h0m2 0h0m7 0h0m7 0h0m10 0h0m2 0h0m4 0h0m9 0h0m3 0h0m1 0h0m16 0h0m15 0h0m-69 1h0m6 0h0m16 0h0m6 0h0m-35 1h0m2 0h0m1 0h0m19 0h0m7 0h0m32 0h0m-40 1h0m4 0h0m11 0h0m1 0h0m12 0h0m4 0h0m-52 1h0m5 0h0m18 0h0m7 0h0m16 0h0m1 0h0m2 0h0m4 0h0m-51 1h0m11 0h0m35 0h0m10 0h0m-43 1h0m10 0h0m15 0h0m6 0h0m8 0h0m1 0h0m17 0h0m11 0h0m-80 1h0m20 0h0m59 0h0m-30 1h0m13 0h0m-45 1h0m12 1h0m-35 1h0m3 0h0m57 0h0m-55 1h0m33 0h0m-24 1h0m5 0h0m7 0h0m4 0h0m11 0h0m-33 1h0m3 0h0m4 0h0m32 0h0m4 0h0m-25 1h0m16 0h0m8 0h0m-35 1h0m6 0h0m3 1h0m53 0h0m3 0h0m-67 1h0m1 0h0m2 0h0m2 0h0m3 0h0m14 0h0m3 0h0m3 0h0m9 0h0m4 0h0m7 0h0m4 0h0m-58 1h0m3 0h0m31 0h0m5 0h0m15 0h0m-22 1h0m33 0h0m11 0h0m-74 1h0m6 0h0m6 0h0m13 0h0m6 0h0m43 0h0m-66 1h0m48 0h0m18 0h0m-65 1h0m47 0h0m4 0h0m-53 1h0m1 0h0m19 0h0m30 0h0m-56 1h0m42 0h0m-38 1h0m1 0h0m12 0h0m31 0h0m-44 1h0m4 0h0m2 0h0m15 0h0m17 0h0m-14 1h0m6 0h0m11 0h0m13 0h0m18 0h0m-66 1h0m46 0h0m7 0h0m-47 1h0m1 0h0m37 0h0m-55 1h0m2 0h0m7 0h0m6 0h0m33 0h0m23 0h0m-66 1h0m15 0h0m27 0h0m7 0h0m13 0h0m-44 1h0m22 0h0m7 0h0m24 0h0m-28 1h0m32 0h0m3 0h0m-80 1h0m29 0h0m11 0h0m4 0h0m14 0h0m11 0h0m-27 1h0m13 0h0m3 0h0m4 0h0m-138 1h0m96 0h0m8 0h0m24 1h0m2 0h0m27 2h0m-25 2h0m3 2h0m-3 1h0m25 1h0m-29 1h0m13 1h0m3 0h0m9 2h0m-12 1h0m7 0h0m50 0h0m-245 3h0m-1 4h0m2 0h0m3 0h0m1 0h0m2 0h0m1 1h0m3 0h0m3 0h0m-10 2h0m13 0h0m4 0h0m-22 1h0m11 0h0m3 0h0m2 0h0m3 0h0m6 0h0m1 0h0m-22 1h0m12 1h0m3 0h0m3 0h0m1 0h0m2 0h0m-26 1h0m12 0h0m-13 1h0m5 0h0m5 0h0m8 0h0m217 0h0m-233 1h0m6 0h0m5 0h0m16 1h0m230 0h0m-257 1h0m17 0h0m7 0h0m9 0h0m-34 1h0m19 0h0m7 1h0m-27 1h0m9 0h0m16 0h0m10 0h0m4 0h0m227 0h0m8 0h0m-260 1h0m7 0h0m2 0h0m14 0h0m-34 1h0m4 0h0m2 0h0m8 0h0m17 0h0m-26 1h0m16 0h0m1 0h0m5 0h0m-25 1h0m5 0h0m23 0h0m3 0h0m-35 1h0m2 0h0m4 0h0m33 0h0m232 0h0m-256 1h0m3 0h0m24 0h0m-37 1h0m15 0h0m3 0h0m2 0h0m246 0h0m-269 1h0m5 0h0m2 0h0m7 0h0m1 0h0m11 0h0m8 0h0m-36 1h0m31 0h0m5 0h0m-7 1h0m6 0h0m-27 1h0m23 0h0m225 0h0m-254 1h0m10 0h0m27 0h0m-30 1h0m16 0h0m11 0h0m234 0h0m12 0h0m-284 1h0m4 0h0m29 0h0m3 0h0m-27 1h0m30 0h0m4 0h0m-16 1h0m-21 1h0m24 0h0m12 0h0m-40 1h0m25 0h0m8 0h0m1 0h0m-21 1h0m6 0h0m20 0h0m-33 1h0m9 1h0m16 0h0m1 0h0m4 0h0m5 0h0m-7 1h0m2 0h0m4 0h0m-26 1h0m4 0h0m6 0h0m9 0h0m-19 1h0m7 0h0m10 0h0m196 0h0m-214 1h0m15 0h0m5 0h0m1 0h0m2 0h0m185 0h0m60 0h0m-266 1h0m6 0h0m7 0h0m1 0h0m8 0h0m-15 1h0m2 0h0m8 0h0m3 0h0m1 0h0m180 0h0m2 0h0m20 0h0m6 0h0m-239 1h0m210 0h0m-190 1h0m184 0h0m-203 1h0m13 0h0m5 0h0m5 0h0m182 0h0m30 0h0m-228 1h0m7 0h0m194 0h0m29 0h0m-226 1h0m202 0h0m-195 1h0m199 0h0m-9 1h0m8 0h0m39 0h0m-244 1h0m8 0h0m194 0h0m-200 1h0m197 0h0m-194 1h0m189 0h0m1 0h0m7 0h0m1 0h0m-204 1h0m2 0h0m219 0h0m-223 1h0m5 0h0m10 0h0m192 0h0m-5 1h0m-3 1h0m7 1h0m-11 1h0m3 0h0m6 0h0m-5 2h0m-163 2h0m162 0h0m4 0h0m2 0h0m-5 2h0m1 0h0m-2 1h0m4 0h0m-156 6h0m99 52h0m4 0h0"/>
<path stroke="#554f8d" d="M245 1036h0m7 0h0m-90 7h0m97 1h0m-5 4h0m-24 3h0m9 5h0m35 6h0m0 3h0m-16 2h0m-21 3h0m68 19h0m7 4h0m-17 4h0m-19 1h0m16 1h0m33 1h0m-42 1h0m0 2h0m22 16h0m15 0h0m-48 1h0m-105 2h0m140 1h0m-58 1h0m21 1h0m22 0h0m-30 2h0m-162 3h0m74 0h0m97 0h0m24 0h0m-64 1h0m67 0h0m155 0h0m-156 1h0m151 1h0m5 0h0m1 0h0m-366 1h0m16 0h0m204 0h0m-212 1h0m160 0h0m-153 1h0m132 0h0m26 0h0m6 0h0m180 0h0m-339 2h0m113 0h0m-118 1h0m162 1h0m-168 1h0m157 0h0m-151 1h0m3 0h0m118 1h0m-5 1h0m3 0h0m11 0h0m-138 1h0m140 0h0m17 0h0m-24 1h0m33 0h0m-167 1h0m3 0h0m-3 1h0m157 0h0m-18 3h0m29 0h0m-32 1h0m7 0h0m5 1h0m-5 1h0m26 0h0m-9 1h0m31 0h0m-24 1h0m-24 1h0m6 0h0m2 0h0m27 0h0m-21 1h0m19 0h0m-46 1h0m12 1h0m8 0h0m15 0h0m-6 1h0m-5 1h0m13 0h0m-31 1h0m14 0h0m40 0h0m-27 1h0m-19 2h0m15 1h0m-20 1h0m22 1h0m-14 1h0m10 1h0m-5 1h0m8 0h0m3 0h0m-27 2h0m9 0h0m-6 1h0m8 0h0m15 0h0m4 0h0m-22 1h0m5 0h0m10 0h0m3 0h0m6 0h0m4 0h0m4 0h0m10 0h0m16 0h0m-63 1h0m11 0h0m21 0h0m10 0h0m-44 1h0m10 0h0m9 0h0m8 0h0m44 0h0m-63 1h0m4 0h0m2 0h0m10 0h0m1 0h0m1 0h0m30 0h0m-2 1h0m-42 2h0m17 0h0m-23 1h0m16 0h0m5 0h0m-7 1h0m49 4h0m15 0h0m-22 2h0m16 1h0m-2 3h0m-11 2h0m-181 5h0m20 0h0m-19 1h0m3 0h0m-10 2h0m22 0h0m-19 1h0m5 0h0m0 2h0m18 0h0m-7 1h0m-14 1h0m6 0h0m18 0h0m-29 1h0m14 0h0m2 0h0m-6 1h0m-15 1h0m15 0h0m15 0h0m-20 1h0m2 0h0m29 0h0m-20 1h0m6 0h0m-12 1h0m3 0h0m-12 1h0m10 0h0m8 0h0m2 0h0m7 0h0m-18 1h0m17 0h0m2 0h0m-25 1h0m3 0h0m15 0h0m4 0h0m5 0h0m-6 2h0m-13 1h0m5 0h0m6 0h0m4 1h0m6 0h0m-40 1h0m9 0h0m6 0h0m3 0h0m1 0h0m1 0h0m-14 1h0m12 0h0m21 0h0m6 0h0m-18 1h0m15 0h0m3 0h0m-40 1h0m11 0h0m13 0h0m1 0h0m2 0h0m-18 1h0m5 0h0m26 0h0m-37 1h0m19 0h0m-19 1h0m8 0h0m8 0h0m1 0h0m-9 1h0m7 0h0m2 0h0m4 0h0m1 0h0m13 0h0m1 0h0m-26 1h0m17 0h0m9 0h0m-36 1h0m28 0h0m5 0h0m-37 1h0m4 0h0m8 0h0m1 0h0m5 0h0m12 0h0m13 0h0m-34 1h0m16 0h0m-21 1h0m14 0h0m26 0h0m-37 1h0m29 0h0m7 0h0m-32 1h0m26 0h0m193 0h0m42 0h0m-271 1h0m9 0h0m14 0h0m5 0h0m257 0h0m-281 1h0m21 0h0m-13 1h0m2 0h0m9 0h0m-4 1h0m9 0h0m12 0h0m-34 1h0m5 1h0m3 0h0m202 0h0m-207 1h0m8 0h0m16 1h0m-16 1h0m4 0h0m6 0h0m191 0h0m-206 1h0m10 0h0m7 0h0m-11 1h0m6 0h0m1 0h0m4 0h0m-20 1h0m4 2h0m13 0h0m1 0h0m-4 1h0m-8 1h0m6 0h0m194 0h0m-199 1h0m199 0h0m-193 1h0m197 1h0m5 0h0m-204 1h0m193 0h0m8 0h0m-7 3h0m1 1h0m5 0h0m-9 5h0m6 0h0"/>
<path stroke="#52568f" d="M156 1047h0m1 1h0m1 0h0m121 68h0m175 13h0m-7 4h0m-346 2h0m349 0h0m-348 1h0m5 1h0m134 0h0m-133 1h0m341 0h0m-219 1h0m221 0h0m-5 2h0m-341 1h0m4 0h0m3 0h0m-9 3h0m3 0h0m135 1h0m-9 1h0m26 0h0m-25 7h0m15 0h0m-21 2h0m42 7h0m-10 3h0m-25 4h0m2 1h0m15 2h0m-17 2h0m24 0h0m-10 1h0m-6 1h0m10 0h0m3 1h0m-20 1h0m17 0h0m4 0h0m7 0h0m2 0h0m-36 1h0m8 0h0m27 0h0m-34 1h0m2 0h0m2 0h0m10 0h0m24 0h0m1 0h0m2 0h0m-42 1h0m12 0h0m0 0h0m16 0h0m-13 1h0m10 0h0m-24 1h0m33 1h0m15 0h0m-26 2h0m51 2h0m-192 15h0m2 0h0m12 1h0m-20 1h0m3 0h0m17 1h0m-14 2h0m21 0h0m-17 1h0m2 0h0m-6 2h0m16 0h0m7 0h0m-23 1h0m8 0h0m13 0h0m-18 1h0m22 0h0m10 0h0m-41 1h0m25 0h0m-23 1h0m17 0h0m2 1h0m-19 1h0m30 0h0m-34 1h0m18 0h0m-16 2h0m3 0h0m18 0h0m13 0h0m7 0h0m-19 1h0m18 1h0m-22 1h0m16 0h0m-25 1h0m13 0h0m19 0h0m-34 1h0m26 0h0m-24 1h0m4 0h0m17 0h0m-12 1h0m3 0h0m3 1h0m12 0h0m-22 1h0m32 0h0m-39 1h0m19 1h0m-10 1h0m5 0h0m1 0h0m-1 1h0m3 0h0m4 0h0m5 0h0m-22 1h0m23 0h0m-8 1h0m19 0h0m-41 1h0m19 0h0m8 0h0m14 0h0m-35 2h0m1 0h0m-3 1h0m11 1h0m22 0h0m-32 1h0m2 0h0m2 1h0m206 4h0m-205 1h0m16 0h0m183 0h0m3 0h0m5 1h0m-203 1h0m7 1h0m194 0h0m-204 1h0m206 0h0m-191 3h0m191 0h0m3 0h0m0 5h0m-4 1h0m-51 60h0"/>
<path stroke="#505d92" d="M166 1043h0m0 1h0m-1 1h0m1 1h0m-5 3h0m-4 1h0m27 68h0m5 4h0m-2 4h0m262 3h0m4 0h0m-273 2h0m268 0h0m4 0h0m-2 1h0m3 1h0m-1 2h0m-6 1h0m-337 2h0m336 1h0m-335 2h0m3 0h0m-11 2h0m-3 1h0m2 2h0m147 31h0m-1 2h0m14 0h0m4 0h0m-34 1h0m16 1h0m19 0h0m-27 1h0m10 0h0m-1 1h0m11 0h0m-24 1h0m20 0h0m12 0h0m-19 1h0m10 0h0m-18 1h0m10 0h0m7 0h0m11 0h0m-33 1h0m35 0h0m-41 2h0m33 0h0m-15 1h0m-107 20h0m-12 1h0m14 1h0m-8 7h0m-24 1h0m32 4h0m-21 4h0m-7 1h0m27 1h0m-35 4h0m4 1h0m13 1h0"/>
<path stroke="#4d6393" d="M163 1048h0m19 73h0m1 1h0m5 0h0m-7 1h0m5 0h0m1 1h0m2 0h0m4 0h0m-9 1h0m16 0h0m-10 1h0m6 1h0m-6 1h0m262 5h0m-345 14h0m135 33h0m5 0h0m4 1h0m8 0h0m-23 1h0m27 0h0m-33 1h0m4 0h0m35 1h0m0 0h0m-41 1h0m6 0h0m2 0h0m2 0h0m6 0h0m2 0h0m5 0h0m19 0h0m-8 1h0m2 0h0m-27 1h0m2 0h0m9 0h0m20 0h0m-22 2h0m6 0h0m-18 1h0m19 1h0m7 0h0m5 0h0m-18 1h0m7 0h0m-138 15h0"/>
<path stroke="#4a6994" d="M162 1047h0m-4 4h0m3 0h0m-4 1h0m2 0h0m21 68h0m6 0h0m2 0h0m8 2h0m-14 2h0m19 1h0m-14 2h0m12 0h0m-1 1h0m-16 4h0m-74 12h0m132 40h0m6 0h0m7 0h0m-20 1h0m-1 1h0m9 0h0m16 0h0m-25 2h0m6 0h0m10 0h0m8 0h0m-21 1h0m5 0h0m13 0h0m3 0h0m6 0h0m8 0h0m-39 1h0m6 0h0m9 0h0m18 0h0m5 0h0m-33 1h0m6 0h0m8 0h0m14 0h0m-22 1h0m9 0h0m11 0h0m-13 3h0m5 0h0m3 0h0m10 0h0m-39 5h0"/>
<path stroke="#486e94" d="M165 1048h0m18 69h0m-3 1h0m0 1h0m22 4h0m-19 1h0m20 1h0m-15 2h0m13 1h0m-18 1h0m0 1h0m2 2h0m71 50h0m6 1h0m2 0h0m-22 3h0m24 0h0m-32 1h0m19 0h0m7 0h0m-24 1h0m21 0h0m-12 1h0m6 0h0m9 0h0m2 0h0m6 0h0m-24 1h0m-5 1h0m-9 1h0m3 0h0m5 0h0m6 0h0m5 0h0m4 0h0m4 0h0m10 0h0m3 0h0m-10 1h0m4 0h0m-30 1h0m19 0h0m3 0h0m2 3h0m-29 1h0m4 0h0m12 0h0m-7 1h0m32 2h0m-119 11h0"/>
<path stroke="#457495" d="M168 1046h0m-6 4h0m2 1h0m-6 4h0m27 65h0m14 2h0m4 3h0m-14 4h0m5 1h0m3 2h0m69 56h0m-10 1h0m3 2h0m-24 1h0m5 0h0m29 0h0m-31 1h0m27 0h0m7 0h0m-42 1h0m14 0h0m3 0h0m3 0h0m8 0h0m13 0h0m-38 1h0m11 0h0m2 0h0m5 0h0m17 0h0m0 0h0m-31 1h0m12 0h0m10 0h0m-20 1h0m6 0h0m5 0h0m3 0h0m17 0h0m-19 1h0m2 0h0m-19 1h0m11 0h0m8 0h0m-8 2h0m-93 19h0m3 0h0"/>
<path stroke="#437995" d="M171 1046h0m-6 4h0m17 71h0m15 3h0m39 68h0m-4 1h0m29 0h0m-22 2h0m-8 1h0m30 0h0m5 0h0m5 0h0m-33 1h0m24 1h0m3 0h0m-23 1h0m5 0h0m18 0h0m-34 1h0m18 0h0m5 0h0m9 0h0m6 0h0m-26 2h0m-4 1h0m20 0h0m-28 1h0m1 1h0m25 2h0m-102 3h0m-9 3h0m6 1h0m12 1h0m-12 1h0m-4 1h0m9 0h0m-11 1h0m19 0h0m-20 1h0m2 0h0m15 0h0m-5 2h0m7 0h0m1 0h0m-8 4h0m-2 2h0"/>
<path stroke="#407f95" d="M173 1045h0m-4 2h0m-2 1h0m-1 1h0m2 0h0m-9 7h0m107 134h0m-14 3h0m7 1h0m-21 1h0m2 0h0m-6 1h0m22 1h0m11 0h0m-35 1h0m0 0h0m3 0h0m-9 1h0m32 0h0m-19 1h0m9 0h0m12 0h0m2 0h0m-30 1h0m1 0h0m17 0h0m2 0h0m5 0h0m0 0h0m12 0h0m-27 1h0m13 0h0m7 0h0m3 0h0m1 0h0m-30 1h0m11 0h0m1 0h0m21 0h0m-34 1h0m18 0h0m11 0h0m-30 1h0m14 0h0m0 0h0m12 0h0m-15 1h0m8 1h0m-100 4h0m3 0h0m3 1h0m4 0h0m13 1h0m0 0h0m-25 2h0m3 0h0m6 0h0m-6 1h0m10 0h0m-12 2h0m4 0h0m1 0h0m16 3h0m-18 1h0m6 3h0m1 4h0m1 0h0m169 0h0m-167 1h0m168 0h0m-164 3h0"/>
<path stroke="#3e8595" d="M160 1053h0m2 0h0m-1 1h0m81 141h0m10 0h0m10 3h0m6 0h0m-32 2h0m5 0h0m-3 1h0m4 0h0m12 0h0m10 0h0m-14 1h0m2 0h0m8 0h0m6 0h0m-34 1h0m28 0h0m-21 1h0m3 0h0m2 0h0m5 0h0m7 0h0m11 0h0m-15 1h0m-13 1h0m21 0h0m4 1h0m-26 1h0m5 1h0m12 1h0m-105 2h0m17 0h0m-4 3h0m3 0h0m-20 1h0m3 0h0m36 0h0m-10 1h0m0 0h0m-24 1h0m9 0h0m1 0h0m2 0h0m-13 1h0m9 0h0m-5 2h0m7 0h0m11 1h0m-16 1h0m2 0h0m3 0h0m3 0h0m-9 1h0m-6 1h0m29 0h0m-10 2h0m164 0h0m-174 1h0m11 0h0m7 0h0m0 2h0m-11 2h0m13 0h0m-4 2h0m0 1h0"/>
<path stroke="#3c8a95" d="M172 1048h0m-3 2h0m67 150h0m-7 3h0m28 0h0m-20 1h0m21 0h0m4 0h0m6 1h0m-26 1h0m9 0h0m-16 1h0m12 0h0m17 0h0m3 0h0m-38 1h0m4 0h0m3 0h0m7 0h0m5 0h0m4 0h0m1 0h0m3 0h0m9 0h0m-25 1h0m5 0h0m1 0h0m5 0h0m7 0h0m-87 1h0m82 0h0m8 0h0m3 0h0m-97 1h0m91 0h0m-99 2h0m4 0h0m7 0h0m0 0h0m5 0h0m-27 1h0m24 0h0m-3 1h0m3 0h0m-13 1h0m-3 1h0m15 1h0m-13 1h0m22 0h0m-3 1h0m-18 2h0m8 0h0m4 0h0m3 0h0m-4 1h0m-8 1h0m4 0h0m0 1h0m8 0h0m-8 1h0m-9 2h0m168 0h0m-164 2h0m7 0h0m3 0h0m3 2h0m155 0h0m-164 1h0m3 0h0m9 3h0"/>
<path stroke="#3a8f95" d="M173 1050h0m-10 5h0m71 147h0m7 1h0m-10 2h0m9 2h0m2 0h0m12 0h0m8 0h0m-100 2h0m76 0h0m24 0h0m-26 1h0m14 0h0m-2 1h0m15 0h0m-7 1h0m-98 1h0m23 0h0m2 0h0m1 0h0m3 0h0m67 0h0m-88 1h0m26 0h0m-24 1h0m0 2h0m1 0h0m-3 2h0m9 1h0m3 0h0m0 2h0m1 0h0m6 1h0m-9 1h0m3 0h0m3 0h0m-12 1h0m9 0h0m141 0h0m-161 1h0m12 0h0m6 0h0m9 0h0m9 0h0m132 0h0m1 0h0m-164 1h0m7 0h0m157 0h0m-163 1h0m2 1h0m3 0h0m8 0h0m8 0h0m1 0h0m-7 1h0m149 0h0m-160 1h0m6 0h0m13 0h0m-18 2h0m0 0h0m6 0h0"/>
<path stroke="#389494" d="M161 1058h0m84 146h0m5 5h0m8 0h0m2 0h0m4 1h0m-3 1h0m-94 1h0m12 0h0m-6 1h0m19 0h0m65 0h0m-69 1h0m-15 1h0m7 0h0m1 0h0m3 0h0m16 0h0m-13 1h0m-20 2h0m13 0h0m4 0h0m-16 2h0m3 0h0m14 0h0m17 0h0m-32 1h0m13 1h0m5 0h0m4 0h0m-23 1h0m5 0h0m12 0h0m139 2h0m-144 1h0m2 0h0m142 0h0m5 1h0m-155 1h0m12 0h0m138 0h0m-129 1h0m127 0h0m-159 1h0m14 0h0m5 0h0m2 1h0m11 0h0m-15 1h0m149 0h0m-154 1h0m2 1h0m3 0h0m-9 1h0m10 1h0m-1 1h0m13 2h0"/>
<path stroke="#379a93" d="M236 1207h0m-45 3h0m55 0h0m-56 1h0m3 0h0m5 0h0m3 1h0m-24 3h0m1 0h0m3 0h0m16 0h0m-20 1h0m18 0h0m-12 1h0m-9 1h0m4 0h0m3 0h0m5 0h0m1 1h0m-1 3h0m4 1h0m0 0h0m5 0h0m-14 1h0m11 0h0m13 0h0m-22 1h0m137 2h0m2 0h0m-140 1h0m-9 1h0m10 0h0m11 1h0m9 0h0m-30 1h0m13 1h0m8 0h0m-12 2h0m3 0h0m1 1h0m3 0h0m-14 1h0m15 2h0m8 0h0m-17 1h0m7 3h0"/>
<path stroke="#369e92" d="M230 1207h0m-35 2h0m36 0h0m-35 1h0m-10 1h0m13 0h0m-4 1h0m2 0h0m5 0h0m-8 2h0m-2 2h0m6 0h0m-7 1h0m0 0h0m3 0h0m7 0h0m2 0h0m-16 1h0m9 0h0m10 0h0m-11 1h0m-13 1h0m7 0h0m2 0h0m1 0h0m7 0h0m-10 1h0m10 0h0m0 0h0m17 0h0m-20 3h0m-10 1h0m13 0h0m2 0h0m7 0h0m-29 1h0m10 0h0m0 0h0m-4 1h0m6 0h0m4 1h0m10 0h0m116 0h0m-132 1h0m3 1h0m-4 1h0m-9 1h0m10 0h0m3 0h0m6 1h0m4 0h0m-16 1h0m9 0h0m5 0h0m-17 1h0m9 0h0m7 0h0m-11 1h0m3 0h0m3 0h0m11 0h0m-13 1h0m4 0h0m-10 1h0m2 0h0"/>
<path stroke="#36a490" d="M171 1136h0m18 77h0m2 0h0m5 0h0m11 0h0m-5 1h0m-12 1h0m18 0h0m-1 1h0m-17 1h0m7 0h0m3 1h0m9 0h0m2 0h0m-14 1h0m5 0h0m2 0h0m2 0h0m1 0h0m6 0h0m2 0h0m-3 1h0m-15 1h0m9 0h0m-13 1h0m9 0h0m-1 1h0m-7 1h0m15 0h0m4 0h0m-1 1h0m103 0h0m-127 1h0m4 0h0m4 0h0m6 0h0m114 1h0m-125 1h0m128 0h0m-118 1h0m1 0h0m116 0h0m-121 1h0m12 0h0m-5 1h0m0 0h0m119 1h0m-117 1h0m-5 1h0m-21 1h0m12 0h0m4 0h0m6 0h0m6 2h0m1 1h0m-12 1h0m11 1h0m-24 15h0"/>
<path stroke="#37a98e" d="M175 1136h0m-7 3h0m38 72h0m0 1h0m-7 1h0m9 0h0m-22 1h0m33 1h0m-9 1h0m-4 1h0m11 0h0m-20 1h0m21 0h0m-15 2h0m7 0h0m2 2h0m-15 1h0m3 0h0m3 1h0m15 0h0m4 1h0m95 0h0m4 0h0m-118 1h0m107 0h0m7 0h0m-118 1h0m-1 1h0m9 2h0m7 0h0m-24 1h0m19 0h0m108 1h0m-120 4h0m11 0h0m-13 1h0m8 1h0m-3 1h0m-19 18h0"/>
<path stroke="#3bae8b" d="M167 1133h0m1 1h0m14 1h0m-7 1h0m3 0h0m-6 3h0m2 0h0m2 0h0m5 0h0m-8 2h0m-3 1h0m12 0h0m21 71h0m3 1h0m4 0h0m-6 1h0m12 0h0m-3 2h0m2 1h0m-2 1h0m-10 2h0m4 1h0m3 1h0m7 0h0m-12 1h0m1 0h0m2 0h0m11 0h0m-4 1h0m98 1h0m-107 1h0m3 0h0m106 0h0m-109 1h0m3 0h0m1 0h0m2 1h0m0 1h0m-10 1h0m8 0h0m-13 2h0m10 0h0m-2 3h0m-9 15h0m-11 2h0m8 2h0m-11 1h0m6 0h0m-14 1h0m5 0h0m7 1h0m2 1h0m4 1h0m-7 2h0"/>
<path stroke="#42b487" d="M170 1134h0m2 0h0m13 1h0m-14 2h0m8 2h0m2 0h0m-11 1h0m-1 1h0m9 0h0m-6 1h0m6 0h0m-7 1h0m40 74h0m6 1h0m2 1h0m-9 3h0m5 2h0m-5 1h0m6 0h0m0 1h0m-5 1h0m107 0h0m-104 2h0m103 0h0m-105 3h0m1 1h0m-12 4h0m-10 14h0m-3 1h0m-3 1h0m-1 1h0m3 0h0m-7 1h0m-2 1h0m8 0h0m-10 1h0m15 0h0m3 0h0m-11 1h0m16 1h0m-14 1h0m5 1h0m14 0h0m-7 1h0m-1 1h0m-6 1h0"/>
<path stroke="#49b883" d="M180 1133h0m1 0h0m-11 5h0m5 1h0m4 7h0m36 75h0m91 4h0m-99 2h0m7 0h0m97 0h0m-103 9h0m-10 11h0m-2 2h0m8 1h0m-13 3h0m3 0h0m-3 1h0m5 1h0m-1 1h0m-9 2h0m3 1h0m1 0h0m5 0h0m-13 1h0m3 0h0m9 0h0m-3 2h0m3 2h0"/>
<path stroke="#53bd7d" d="M197 1243h0m5 0h0m-2 1h0m-2 2h0m8 2h0m-4 2h0m-9 1h0m4 1h0m6 0h0m-11 1h0m10 1h0m-13 1h0m17 0h0m3 0h0m-20 2h0m11 0h0m6 1h0m4 0h0m-19 1h0m10 0h0m1 1h0m9 1h0m-23 1h0m5 0h0m2 0h0m5 0h0m2 0h0m-2 1h0m7 1h0m-3 2h0"/>
<path stroke="#5cc278" d="M177 1143h0m35 91h0m-2 4h0m-1 1h0m-8 1h0m2 0h0m-5 2h0m13 0h0m-7 1h0m10 1h0m-13 3h0m-6 1h0m3 2h0m3 0h0m5 1h0m-5 2h0m-4 1h0m5 0h0m1 0h0m8 0h0m-12 1h0m0 1h0m5 1h0m3 0h0m4 0h0m4 0h0m-20 1h0m3 1h0m9 0h0m6 0h0m-9 1h0m11 0h0m2 0h0m-19 1h0m9 1h0m1 1h0"/>
<path stroke="#68c671" d="M205 1234h0m-7 4h0m7 1h0m4 0h0m-3 1h0m1 1h0m10 0h0m-16 1h0m16 0h0m-15 3h0m4 1h0m4 0h0m-11 1h0m5 0h0m4 0h0m9 0h0m-17 2h0m7 1h0m5 0h0m-15 1h0m14 0h0m2 1h0m-6 1h0m3 0h0m18 0h0m-20 1h0m1 0h0m5 1h0m1 0h0m-7 2h0m11 0h0m8 0h0m-15 1h0m6 0h0m4 0h0m-14 1h0m1 0h0m13 1h0m-17 1h0m5 0h0m4 0h0m5 0h0m-7 2h0m3 0h0m1 1h0"/>
<path stroke="#74ca6b" d="M217 1228h0m-5 1h0m2 3h0m5 0h0m-6 2h0m11 0h0m-16 1h0m2 0h0m10 0h0m-9 2h0m6 0h0m-4 1h0m-6 1h0m1 0h0m7 0h0m2 0h0m-1 1h0m-8 2h0m6 0h0m5 0h0m-11 1h0m7 0h0m-9 1h0m16 0h0m-22 2h0m19 0h0m3 0h0m-13 1h0m11 1h0m-11 1h0m12 0h0m-13 1h0m3 0h0m5 0h0m4 0h0m-20 1h0m10 0h0m12 2h0m-4 1h0m3 0h0m-8 1h0m7 0h0m1 0h0m-8 2h0m5 0h0m-16 1h0m2 0h0m16 0h0m-5 1h0m8 0h0m3 0h0m-10 2h0m-5 1h0m-6 1h0m14 0h0"/>
<path stroke="#82ce62" d="M218 1224h0m-3 2h0m8 1h0m-6 2h0m4 1h0m5 1h0m1 0h0m-6 2h0m-13 1h0m6 0h0m3 0h0m5 0h0m-15 2h0m3 0h0m3 0h0m3 0h0m-12 1h0m25 0h0m-18 3h0m14 0h0m13 1h0m-25 1h0m-1 1h0m5 0h0m20 0h0m-34 1h0m2 1h0m4 1h0m7 0h0m5 0h0m-10 1h0m7 0h0m6 1h0m1 0h0m-9 1h0m10 0h0m-12 1h0m5 0h0m3 0h0m3 0h0m-10 1h0m13 0h0m-12 2h0m5 0h0m14 0h0m-31 1h0m27 0h0m-5 1h0m10 0h0m-8 1h0m2 0h0m-7 1h0m1 1h0m4 0h0m-8 1h0m-3 2h0m4 1h0m6 1h0m-7 3h0"/>
<path stroke="#90d259" d="M221 1225h0m2 0h0m14 0h0m-16 1h0m7 0h0m3 1h0m8 0h0m-24 2h0m22 0h0m-16 2h0m2 0h0m-10 1h0m3 0h0m-1 1h0m9 1h0m18 0h0m-28 1h0m7 0h0m6 1h0m14 0h0m-17 1h0m4 0h0m-3 1h0m2 1h0m-7 1h0m2 0h0m2 0h0m5 0h0m-15 1h0m7 0h0m11 1h0m-29 1h0m21 0h0m1 0h0m13 0h0m-19 1h0m12 0h0m-2 1h0m1 0h0m3 0h0m-20 1h0m2 0h0m7 2h0m1 1h0m6 0h0m9 0h0m-18 1h0m7 0h0m14 1h0m-11 1h0m2 0h0m-14 1h0m8 0h0m13 0h0m-15 2h0m2 3h0"/>
<path stroke="#9ed551" d="M231 1220h0m3 1h0m-3 3h0m5 0h0m-12 1h0m9 0h0m-2 1h0m2 0h0m1 0h0m43 1h0m-51 1h0m1 1h0m-5 1h0m1 0h0m5 0h0m5 1h0m3 0h0m0 0h0m5 0h0m-24 1h0m13 0h0m-2 1h0m-1 1h0m5 0h0m3 0h0m0 0h0m-3 1h0m-12 1h0m6 0h0m13 0h0m-6 1h0m1 0h0m12 0h0m-26 1h0m11 0h0m6 0h0m-18 1h0m5 0h0m4 1h0m8 0h0m-12 3h0m5 0h0m13 0h0m-18 2h0m8 0h0m9 0h0m3 0h0m-18 1h0m20 0h0m-19 1h0m8 0h0m4 0h0m3 0h0m-16 1h0m6 1h0m-1 1h0m1 0h0m1 0h0m5 0h0m-4 2h0m7 0h0m-5 1h0m-6 1h0m-2 1h0m-2 1h0m4 3h0m4 0h0m-11 3h0"/>
<path stroke="#add846" d="M246 1217h0m-10 4h0m-7 1h0m7 0h0m-7 1h0m5 0h0m-9 1h0m37 0h0m-34 1h0m-9 2h0m14 1h0m9 0h0m17 0h0m-29 1h0m8 0h0m-11 1h0m5 0h0m0 1h0m6 1h0m-11 1h0m9 0h0m13 1h0m-10 1h0m2 0h0m-4 1h0m3 0h0m12 0h0m-31 1h0m46 0h0m-38 2h0m17 0h0m-14 1h0m8 0h0m-4 1h0m6 0h0m-16 1h0m7 1h0m2 0h0m13 0h0m-2 1h0m-15 2h0m1 1h0m9 1h0m2 0h0m-13 2h0m5 0h0m1 0h0m2 1h0m-4 4h0m-2 1h0"/>
<path stroke="#bbda3d" d="M257 1216h0m-12 3h0m13 0h0m-2 1h0m21 0h0m-40 1h0m2 0h0m28 0h0m-28 1h0m-13 1h0m7 0h0m3 0h0m1 0h0m1 0h0m11 0h0m-20 1h0m9 0h0m5 0h0m21 0h0m14 0h0m-29 1h0m-23 1h0m12 1h0m1 0h0m15 0h0m-18 1h0m8 0h0m-23 1h0m8 1h0m10 0h0m4 0h0m13 1h0m7 0h0m3 0h0m7 1h0m-40 2h0m39 0h0m-6 1h0m7 0h0m-14 1h0m19 0h0m-39 2h0m7 0h0m18 0h0m-31 1h0m2 0h0m9 1h0m5 1h0m-4 2h0m3 0h0m-10 3h0m14 1h0m-15 1h0m8 0h0m-1 3h0m-4 3h0"/>
<path stroke="#cbdc35" d="M253 1210h0m-1 3h0m-11 1h0m29 0h0m-18 1h0m9 0h0m3 0h0m-21 1h0m17 0h0m11 0h0m-23 1h0m4 0h0m5 1h0m10 0h0m-26 2h0m3 0h0m7 0h0m10 0h0m3 0h0m3 0h0m-12 1h0m-8 1h0m1 0h0m3 0h0m22 0h0m0 0h0m-43 1h0m14 0h0m1 0h0m6 0h0m4 0h0m9 0h0m3 0h0m5 0h0m-20 1h0m5 0h0m15 1h0m-30 1h0m15 0h0m22 0h0m-43 1h0m1 0h0m8 0h0m-9 1h0m17 0h0m12 0h0m-24 1h0m32 0h0m5 0h0m-35 1h0m6 0h0m-9 1h0m7 0h0m8 0h0m15 0h0m-30 1h0m21 0h0m3 0h0m17 0h0m-37 1h0m1 0h0m0 0h0m3 0h0m8 0h0m11 0h0m-26 1h0m1 0h0m19 0h0m2 0h0m12 0h0m-32 1h0m0 0h0m8 0h0m6 0h0m8 0h0m-22 1h0m4 0h0m10 1h0m13 0h0m-29 1h0m12 0h0m4 0h0m6 0h0m8 0h0m1 0h0m-32 1h0m4 0h0m10 0h0m6 0h0m-25 1h0m42 0h0m-35 1h0m2 1h0m24 0h0m3 0h0m-29 1h0m3 0h0m23 0h0m-29 1h0m9 0h0m13 0h0m-25 1h0m3 0h0m1 0h0m19 2h0m-7 2h0m-10 2h0"/>
<path stroke="#d9de30" d="M252 1213h0m-3 2h0m-1 1h0m18 1h0m-24 1h0m27 0h0m-15 1h0m2 0h0m-18 1h0m9 0h0m22 1h0m2 0h0m-37 1h0m6 0h0m19 1h0m0 0h0m11 0h0m5 0h0m-16 1h0m11 0h0m3 0h0m-37 1h0m4 0h0m22 0h0m-23 1h0m5 0h0m17 0h0m4 0h0m-14 1h0m12 0h0m5 0h0m-29 1h0m8 0h0m3 0h0m4 0h0m15 0h0m-29 1h0m22 0h0m19 0h0m-28 1h0m7 0h0m7 0h0m5 0h0m-20 1h0m1 1h0m2 0h0m20 0h0m2 0h0m-33 1h0m9 0h0m6 0h0m4 0h0m5 0h0m8 0h0m2 0h0m2 0h0m-44 1h0m11 0h0m12 0h0m10 0h0m-24 1h0m0 1h0m4 0h0m14 0h0m6 0h0m2 0h0m-30 1h0m3 0h0m22 0h0m-23 1h0m17 0h0m5 0h0m-22 1h0m2 0h0m4 0h0m21 0h0m-25 1h0m19 0h0m3 0h0m-30 1h0m10 0h0m11 0h0m8 0h0m-13 1h0m6 0h0m2 0h0m5 0h0m-21 1h0m12 0h0m5 0h0m-22 1h0m13 0h0m3 0h0m-1 1h0m7 0h0m-4 1h0"/>
<path stroke="#e8e033" d="M258 1213h0m2 0h0m-4 1h0m3 0h0m4 0h0m2 0h0m-11 1h0m-12 1h0m7 0h0m5 0h0m2 0h0m-2 1h0m-14 1h0m10 0h0m8 0h0m3 0h0m10 0h0m-21 1h0m9 0h0m8 0h0m4 0h0m3 0h0m-14 1h0m9 0h0m7 0h0m-27 1h0m15 0h0m15 0h0m-37 1h0m10 0h0m-10 1h0m25 0h0m-20 1h0m16 0h0m5 0h0m-23 1h0m5 0h0m4 0h0m21 0h0m-27 1h0m8 0h0m5 0h0m10 0h0m1 0h0m5 0h0m-35 1h0m-4 1h0m32 0h0m-22 1h0m20 0h0m8 0h0m-34 1h0m4 0h0m11 0h0m17 0h0m-37 1h0m10 0h0m3 0h0m12 0h0m7 0h0m6 0h0m-33 1h0m-5 1h0m15 0h0m14 1h0m-12 1h0m21 0h0m-13 1h0m-7 1h0m6 0h0m16 0h0m-3 1h0m-21 1h0m15 0h0m5 0h0m2 0h0m-16 1h0m14 0h0m-3 1h0m-15 1h0m-9 1h0m18 0h0m1 0h0m1 0h0m-23 2h0m14 0h0m1 0h0m-7 1h0m10 0h0m-6 1h0m-7 1h0m8 1h0"/>
<path stroke="#f4e13b" d="M268 1215h0m-3 1h0m-20 1h0m-2 1h0m0 1h0m32 1h0m-16 1h0m-27 5h0m18 0h0m25 0h0m-18 2h0m4 0h0m17 3h0m-7 1h0m-32 2h0m19 0h0m-12 1h0m-7 2h0m13 0h0m-2 3h0m12 0h0m-11 3h0m-2 1h0m13 1h0m-16 2h0m5 0h0m11 2h0"/>
<path stroke="#592d73" d="M910 1226h0m27 5h0"/>
<path stroke="#59347a" d="M918 1231h0"/>
<path stroke="#593b80" d="M906 1224h0m20 3h0m-19 7h0m17 2h0"/>
<path stroke="#584285" d="M802 1023h0m101 195h0m5 0h0m0 2h0m13 0h0m12 4h0m-25 2h0m24 5h0m-22 1h0m30 8h0"/>
<path stroke="#57498a" d="M805 1020h0m4 4h0m-8 3h0m13 1h0m-3 1h0m3 4h0m107 186h0m16 0h0m-30 2h0m5 0h0m30 0h0m-4 2h0m-9 1h0m2 1h0m-3 1h0m-26 2h0m11 0h0m-2 2h0m-11 1h0m19 0h0m19 4h0m-36 1h0m19 1h0m-11 6h0m-9 2h0m10 0h0"/>
<path stroke="#554f8d" d="M811 1020h0m-6 5h0m110 188h0m0 1h0m8 0h0m3 0h0m-14 1h0m22 1h0m-19 2h0m-2 1h0m-7 1h0m24 0h0m2 0h0m-15 1h0m-12 1h0m27 0h0m-22 1h0m17 1h0m6 0h0m-34 2h0m1 1h0m25 2h0m6 0h0m7 0h0m6 3h0m-18 1h0m14 0h0m-34 2h0m6 0h0m17 0h0m-21 1h0m15 2h0m11 0h0m-6 1h0m-15 1h0m3 0h0m9 0h0m-14 8h0m8 1h0"/>
<path stroke="#52568f" d="M803 1022h0m5 2h0m1 2h0m-3 2h0m4 0h0m-6 1h0m9 0h0m-10 2h0m17 3h0m-7 3h0m104 178h0m7 1h0m-20 3h0m12 0h0m6 0h0m12 0h0m-24 1h0m9 0h0m8 0h0m-28 1h0m3 0h0m1 1h0m7 0h0m5 0h0m-1 1h0m22 0h0m-36 1h0m21 1h0m3 0h0m-30 1h0m18 0h0m5 0h0m18 0h0m5 0h0m-41 2h0m11 0h0m14 0h0m-24 1h0m22 0h0m11 2h0m1 0h0m-19 2h0m3 0h0m3 1h0m1 1h0m4 0h0m12 0h0m3 1h0m-33 1h0m16 0h0m8 0h0m8 0h0m-25 1h0m15 1h0m-18 1h0m10 1h0m13 0h0m-12 1h0m6 0h0m5 0h0m-26 1h0m6 0h0m-6 1h0m4 0h0m8 0h0"/>
<path stroke="#505d92" d="M805 1019h0m-1 2h0m-4 4h0m0 1h0m12 0h0m-3 1h0m-3 3h0m2 0h0m4 2h0m-5 4h0m101 161h0m24 17h0m-17 1h0m-10 1h0m1 1h0m2 0h0m21 0h0m-18 1h0m18 1h0m3 0h0m-13 2h0m11 0h0m3 0h0m6 0h0m-25 1h0m12 0h0m-21 1h0m3 0h0m27 0h0m-20 1h0m3 0h0m2 2h0m18 0h0m-36 1h0m5 0h0m10 0h0m22 0h0m-38 1h0m7 0h0m4 0h0m-7 1h0m39 0h0m-42 1h0m4 0h0m7 1h0m2 0h0m8 0h0m3 0h0m14 0h0m-40 2h0m16 0h0m6 0h0m8 0h0m1 0h0m11 0h0m-33 2h0m6 1h0m21 0h0m-21 1h0m-10 3h0m3 0h0m22 0h0m8 0h0m-5 1h0m-23 1h0m-2 1h0m19 0h0m-1 1h0m5 0h0m-22 3h0m16 2h0m-51 3h0m19 2h0"/>
<path stroke="#4d6393" d="M806 1024h0m9 1h0m-13 3h0m10 0h0m3 2h0m6 1h0m-8 3h0m2 5h0m7 3h0m4 0h0m80 137h0m10 31h0m3 4h0m1 2h0m3 0h0m4 0h0m1 1h0m-11 1h0m-11 1h0m7 0h0m11 0h0m-20 1h0m20 0h0m10 0h0m-40 1h0m18 2h0m9 0h0m-21 1h0m26 0h0m-7 2h0m15 0h0m42 0h0m-64 1h0m-5 1h0m21 0h0m5 1h0m-49 1h0m20 0h0m32 0h0m-47 2h0m16 0h0m33 0h0m-37 1h0m7 0h0m3 0h0m-1 1h0m25 0h0m-16 1h0m-5 1h0m3 0h0m9 0h0m3 0h0m-9 1h0m-16 1h0m5 0h0m19 0h0m6 0h0m-14 1h0m3 0h0m-45 1h0m29 1h0m5 0h0m4 1h0m15 0h0m-6 1h0m-6 1h0m10 0h0m-33 1h0m10 0h0m15 0h0m2 0h0m1 0h0m-24 1h0m17 0h0m8 0h0m-7 1h0m-20 1h0m-3 3h0"/>
<path stroke="#4a6994" d="M805 1024h0m6 2h0m-13 1h0m7 2h0m5 2h0m4 4h0m7 1h0m-4 1h0m7 0h0m-15 1h0m12 0h0m-6 4h0m-2 1h0m7 4h0m81 58h0m17 80h0m-17 1h0m14 2h0m-5 2h0m-16 1h0m22 1h0m-7 19h0m-5 3h0m24 1h0m2 3h0m-16 2h0m-13 1h0m22 0h0m15 0h0m-2 1h0m-40 1h0m31 0h0m-17 1h0m12 0h0m2 0h0m17 0h0m-28 1h0m7 0h0m15 0h0m-57 1h0m25 0h0m20 0h0m-8 2h0m17 1h0m-30 1h0m-11 1h0m38 0h0m1 0h0m8 0h0m-39 1h0m34 0h0m-55 1h0m26 1h0m3 0h0m1 0h0m24 1h0m1 1h0m-31 1h0m8 0h0m-13 1h0m8 0h0m27 0h0m-15 1h0m8 0h0m-22 1h0m-5 1h0m28 0h0m-21 1h0m2 0h0m22 0h0m-34 1h0m-4 2h0m18 1h0m4 0h0m-42 1h0m44 0h0m7 1h0m-8 1h0m-20 3h0m-10 1h0m-18 1h0"/>
<path stroke="#486e94" d="M803 1026h0m6 3h0m6 2h0m-10 1h0m5 1h0m0 4h0m0 0h0m1 0h0m10 4h0m1 6h0m84 66h0m-6 2h0m3 6h0m5 1h0m-4 54h0m6 3h0m20 7h0m-4 1h0m-15 1h0m14 2h0m-12 3h0m-17 2h0m15 2h0m22 0h0m-33 4h0m30 4h0m-27 2h0m18 7h0m1 0h0m-10 2h0m18 0h0m-13 1h0m2 1h0m3 3h0m17 0h0m-43 1h0m2 0h0m2 1h0m6 0h0m24 0h0m-38 2h0m-6 1h0m19 0h0m33 0h0m-56 1h0m19 0h0m41 0h0m-58 2h0m8 0h0m4 0h0m-1 1h0m21 0h0m25 0h0m-32 1h0m1 0h0m15 0h0m-23 1h0m1 0h0m24 0h0m-11 1h0m-39 2h0m47 0h0m-24 1h0m2 0h0m26 0h0m-38 1h0m28 0h0m-18 1h0m4 0h0m3 0h0m20 0h0m9 0h0m-33 1h0m33 1h0m-41 1h0m3 1h0m22 0h0m-44 1h0m20 0h0m8 0h0m0 0h0m-2 1h0m-15 1h0m7 0h0m12 0h0m-12 1h0m5 0h0m21 0h0m-6 2h0m-14 2h0m7 1h0m-31 1h0m17 1h0m10 1h0m-32 1h0m20 1h0"/>
<path stroke="#457495" d="M808 1026h0m8 6h0m-5 1h0m-4 2h0m11 0h0m-6 3h0m10 2h0m-2 2h0m-3 1h0m3 1h0m2 0h0m-5 2h0m7 0h0m78 42h0m-3 2h0m7 4h0m-7 3h0m6 14h0m-3 2h0m-3 5h0m19 61h0m15 2h0m-1 3h0m85 2h0m-110 5h0m16 0h0m9 0h0m-37 5h0m39 1h0m-12 3h0m-20 3h0m-4 1h0m123 2h0m-128 1h0m20 0h0m-13 1h0m24 3h0m-13 5h0m-13 7h0m4 0h0m-4 1h0m70 1h0m-74 1h0m8 0h0m-7 1h0m29 0h0m-23 1h0m4 0h0m25 0h0m-40 1h0m0 1h0m9 1h0m87 1h0m-67 1h0m-15 1h0m1 0h0m34 0h0m2 0h0m-51 1h0m-1 1h0m13 0h0m2 0h0m1 0h0m-2 1h0m9 0h0m-51 1h0m29 1h0m43 0h0m-26 1h0m-20 1h0m35 1h0m-30 1h0m26 0h0m-43 1h0m2 1h0m-5 1h0m21 0h0m31 0h0m-46 1h0m6 0h0m-1 2h0m-4 1h0m9 0h0m10 0h0m-27 1h0m21 0h0m11 0h0m-19 4h0m-4 2h0m2 5h0m63 61h0"/>
<path stroke="#437995" d="M819 1030h0m-12 2h0m14 0h0m2 2h0m-14 3h0m6 0h0m5 1h0m4 1h0m1 3h0m-6 1h0m10 0h0m-1 3h0m-7 2h0m5 4h0m73 36h0m7 8h0m-5 6h0m-2 4h0m2 6h0m4 1h0m-4 3h0m6 2h0m0 5h0m-3 45h0m-10 2h0m6 2h0m2 0h0m13 0h0m-22 2h0m20 0h0m9 0h0m-17 3h0m3 0h0m6 0h0m10 2h0m-21 1h0m27 1h0m-19 2h0m-13 1h0m-2 1h0m15 1h0m0 1h0m5 0h0m12 0h0m3 1h0m-33 1h0m35 1h0m-34 1h0m2 1h0m32 0h0m-37 1h0m26 2h0m-3 1h0m-6 1h0m-19 1h0m23 2h0m-22 1h0m6 0h0m7 0h0m112 0h0m-105 1h0m-10 1h0m19 4h0m102 2h0m-106 2h0m-2 6h0m-26 5h0m-5 2h0m6 0h0m4 0h0m39 1h0m44 0h0m8 0h0m-104 1h0m3 0h0m101 0h0m-100 1h0m-2 1h0m8 0h0m88 0h0m-104 1h0m1 0h0m1 0h0m39 0h0m61 0h0m8 0h0m-104 1h0m2 0h0m34 0h0m-45 2h0m8 0h0m5 0h0m7 0h0m8 0h0m-13 1h0m34 0h0m-53 1h0m12 0h0m12 0h0m3 0h0m-30 1h0m30 0h0m-15 2h0m7 0h0m-14 1h0m16 0h0m38 0h0m-23 1h0m2 0h0m-21 1h0m2 0h0m-7 1h0m16 0h0m6 0h0m-42 1h0m14 0h0m23 0h0m-14 1h0m12 1h0m18 1h0m5 1h0m-49 2h0m14 0h0m20 1h0m-28 2h0m5 0h0m18 0h0m4 0h0m-2 2h0m-13 1h0m8 0h0m1 0h0m-18 1h0m3 1h0m-14 1h0m1 2h0m8 5h0"/>
<path stroke="#407f95" d="M816 1033h0m1 1h0m7 1h0m1 3h0m-13 1h0m10 3h0m1 0h0m2 5h0m6 0h0m-12 1h0m1 0h0m7 0h0m9 3h0m-12 1h0m0 3h0m80 29h0m-1 2h0m-1 1h0m-4 4h0m8 1h0m-6 1h0m1 1h0m-2 2h0m2 1h0m6 2h0m-2 4h0m-8 3h0m1 2h0m0 1h0m8 1h0m2 0h0m-11 1h0m4 2h0m1 3h0m0 2h0m1 1h0m7 1h0m-67 3h0m68 48h0m0 2h0m-5 4h0m18 0h0m-28 1h0m1 1h0m4 0h0m18 0h0m0 0h0m1 1h0m-25 1h0m21 1h0m10 0h0m0 3h0m98 1h0m-127 2h0m4 0h0m32 0h0m99 0h0m-140 1h0m16 0h0m-5 1h0m6 0h0m-7 1h0m-4 1h0m28 0h0m1 0h0m-35 1h0m13 0h0m7 0h0m112 0h0m-97 1h0m1 0h0m-25 1h0m28 0h0m81 0h0m-97 3h0m-10 2h0m3 0h0m8 0h0m11 1h0m5 0h0m-15 1h0m-20 1h0m35 0h0m94 0h0m-107 1h0m101 0h0m-126 1h0m1 1h0m4 1h0m3 0h0m13 0h0m15 0h0m-34 1h0m20 0h0m3 0h0m-16 1h0m22 0h0m68 4h0m-76 1h0m-21 11h0m4 0h0m84 0h0m-93 1h0m6 0h0m75 0h0m7 1h0m4 0h0m-66 1h0m67 0h0m3 0h0m-112 1h0m29 0h0m-12 1h0m14 0h0m6 0h0m74 0h0m-90 1h0m40 1h0m-49 2h0m12 0h0m-27 2h0m11 0h0m-9 1h0m35 0h0m-22 1h0m7 0h0m-16 1h0m7 1h0m7 0h0m-4 3h0m20 0h0m3 0h0m-40 1h0m7 0h0m24 0h0m1 1h0m-18 1h0m-16 1h0m31 2h0m-18 1h0m11 0h0m-4 1h0m8 2h0m-3 1h0m-20 1h0m13 1h0m-9 2h0m5 0h0m14 1h0m-63 2h0m39 2h0m17 0h0m-32 1h0m13 0h0m69 65h0"/>
<path stroke="#3e8595" d="M817 1030h0m3 3h0m-1 6h0m5 3h0m1 1h0m-9 1h0m0 2h0m16 4h0m-12 3h0m78 32h0m7 2h0m-4 7h0m4 1h0m-6 4h0m-2 2h0m5 2h0m-3 2h0m5 1h0m-3 1h0m4 9h0m-64 2h0m64 1h0m-3 2h0m3 0h0m-59 8h0m51 42h0m1 1h0m-2 1h0m16 0h0m8 0h0m3 1h0m3 1h0m-3 1h0m6 1h0m-31 1h0m2 1h0m25 0h0m-13 1h0m2 0h0m-10 1h0m23 0h0m2 0h0m-25 1h0m19 0h0m-19 1h0m2 0h0m5 0h0m6 0h0m2 0h0m-19 1h0m3 0h0m22 0h0m7 0h0m98 1h0m-117 1h0m7 0h0m5 3h0m-10 1h0m93 0h0m6 0h0m24 0h0m-138 1h0m129 0h0m8 2h0m-136 1h0m14 0h0m1 0h0m8 0h0m-15 1h0m4 0h0m2 0h0m-8 1h0m24 0h0m102 0h0m3 0h0m-114 1h0m-25 1h0m10 0h0m21 0h0m-28 1h0m25 0h0m-31 1h0m5 0h0m27 0h0m92 0h0m-107 1h0m116 0h0m5 0h0m-137 2h0m16 0h0m14 0h0m4 0h0m0 0h0m92 0h0m5 0h0m8 0h0m-142 1h0m2 0h0m142 0h0m-134 1h0m6 0h0m6 0h0m-4 2h0m16 0h0m-15 1h0m4 0h0m112 1h0m-121 1h0m6 0h0m15 0h0m117 0h0m-117 1h0m-16 1h0m100 0h0m-10 6h0m-110 5h0m7 0h0m-17 1h0m97 1h0m2 2h0m5 0h0m-96 2h0m113 0h0m-10 1h0m-107 1h0m7 1h0m101 0h0m6 0h0m-122 1h0m103 0h0m12 0h0m-116 2h0m20 0h0m6 0h0m-22 2h0m4 0h0m11 0h0m7 1h0m-6 1h0m2 0h0m-24 1h0m-6 1h0m12 0h0m21 0h0m-30 1h0m6 0h0m5 0h0m2 0h0m3 1h0m14 0h0m8 1h0m-6 1h0m-30 1h0m32 1h0m-43 1h0m19 0h0m27 0h0m-30 1h0m8 0h0m15 0h0m-83 1h0m56 0h0m-1 1h0m3 0h0m9 0h0m14 0h0m-39 1h0m8 0h0m-65 2h0m64 0h0m21 0h0m-11 1h0m6 1h0m14 0h0m-34 1h0m8 0h0m-6 2h0m13 0h0m11 0h0m2 0h0m2 0h0m-17 1h0m-2 1h0m3 0h0m1 0h0m2 0h0m4 0h0m-22 1h0m-6 1h0m-36 6h0m121 49h0m3 2h0"/>
<path stroke="#3c8a95" d="M818 1033h0m1 4h0m0 1h0m3 0h0m-8 3h0m12 1h0m-8 3h0m2 6h0m1 0h0m0 4h0m84 29h0m-3 6h0m1 0h0m-1 5h0m4 1h0m-8 1h0m0 6h0m5 3h0m3 1h0m-6 2h0m8 2h0m-8 1h0m8 3h0m-7 2h0m-54 2h0m-12 1h0m70 0h0m1 0h0m3 1h0m-50 6h0m3 0h0m-5 4h0m-9 4h0m-10 1h0m135 2h0m-10 4h0m-25 4h0m25 12h0m-58 13h0m-12 1h0m21 0h0m3 0h0m-13 2h0m7 1h0m5 0h0m2 0h0m-2 1h0m-16 1h0m2 0h0m5 0h0m6 0h0m6 0h0m2 1h0m9 0h0m-17 1h0m14 0h0m-27 1h0m8 0h0m2 0h0m18 0h0m-6 1h0m-16 1h0m-13 1h0m4 0h0m25 0h0m-13 1h0m104 1h0m-116 1h0m-3 1h0m4 0h0m27 0h0m92 0h0m-98 1h0m1 0h0m3 0h0m87 0h0m-81 1h0m95 0h0m4 0h0m-109 1h0m8 0h0m4 0h0m103 0h0m-112 1h0m93 0h0m12 0h0m-130 1h0m19 0h0m94 0h0m-91 2h0m100 0h0m-126 1h0m37 0h0m100 0h0m-133 1h0m15 0h0m5 0h0m96 0h0m10 0h0m12 0h0m-111 1h0m-8 1h0m102 1h0m-86 1h0m113 0h0m-149 1h0m16 0h0m13 0h0m117 0h0m-136 1h0m125 0h0m12 0h0m-139 1h0m9 0h0m7 0h0m-4 1h0m11 0h0m111 0h0m-131 1h0m113 0h0m-97 1h0m110 0h0m9 0h0m-47 1h0m40 0h0m-131 1h0m13 0h0m110 0h0m-135 1h0m7 0h0m22 0h0m2 0h0m-24 1h0m14 0h0m4 1h0m9 1h0m-8 1h0m-30 10h0m5 0h0m-3 2h0m93 0h0m8 1h0m-13 1h0m-77 2h0m80 0h0m-102 3h0m11 1h0m-5 1h0m13 0h0m-18 1h0m-7 1h0m3 0h0m19 0h0m-24 1h0m17 1h0m-17 2h0m21 0h0m-26 3h0m8 0h0m6 0h0m-20 1h0m6 0h0m3 0h0m13 1h0m13 0h0m-19 2h0m3 0h0m6 1h0m10 0h0m-36 1h0m36 0h0m-25 1h0m11 0h0m3 0h0m1 3h0m-38 1h0m16 0h0m8 0h0m9 0h0m9 1h0m10 1h0m-48 1h0m7 0h0m31 0h0m-20 1h0m17 0h0m-14 1h0m9 0h0m1 0h0m-17 1h0m24 0h0m-63 1h0m54 1h0m-61 1h0m12 0h0m37 1h0m119 0h0m-177 6h0m125 53h0m5 0h0m-5 3h0m-3 1h0"/>
<path stroke="#3a8f95" d="M810 1034h0m7 3h0m4 6h0m2 1h0m13 1h0m-10 3h0m-2 2h0m1 1h0m-2 3h0m77 31h0m2 0h0m2 3h0m2 0h0m1 2h0m-14 4h0m41 0h0m-31 5h0m2 0h0m0 2h0m-1 4h0m-5 1h0m8 0h0m1 0h0m-12 5h0m7 1h0m-4 1h0m4 1h0m-5 2h0m10 0h0m3 0h0m-73 2h0m72 0h0m0 4h0m-49 6h0m-16 5h0m3 0h0m131 1h0m-134 1h0m115 2h0m0 1h0m-125 2h0m114 0h0m-6 1h0m-40 30h0m-11 1h0m12 0h0m5 0h0m10 0h0m-13 1h0m-4 2h0m-7 1h0m25 0h0m-9 1h0m-18 3h0m32 0h0m-32 1h0m20 0h0m-21 2h0m10 0h0m18 0h0m3 0h0m4 0h0m96 0h0m-110 1h0m8 1h0m11 0h0m85 0h0m9 0h0m-127 1h0m21 0h0m98 0h0m2 0h0m8 0h0m-124 1h0m126 1h0m-115 1h0m4 0h0m4 0h0m99 0h0m-97 1h0m4 0h0m101 1h0m-113 1h0m7 0h0m98 0h0m-99 1h0m-28 1h0m120 0h0m24 0h0m-137 1h0m12 0h0m105 0h0m5 0h0m-123 1h0m4 0h0m24 0h0m112 0h0m-120 1h0m107 0h0m2 0h0m-134 1h0m35 0h0m101 0h0m17 0h0m-153 1h0m119 0h0m11 0h0m4 0h0m-8 1h0m16 1h0m-118 1h0m8 0h0m4 0h0m-17 1h0m3 0h0m4 0h0m101 0h0m10 0h0m7 0h0m-117 1h0m119 0h0m0 0h0m4 0h0m-141 1h0m6 0h0m20 0h0m-26 1h0m3 0h0m3 0h0m121 0h0m-126 2h0m-12 1h0m19 0h0m-12 1h0m23 1h0m-4 2h0m-40 5h0m16 4h0m-13 5h0m15 0h0m93 0h0m2 1h0m2 1h0m0 2h0m-122 1h0m7 1h0m1 0h0m-3 3h0m6 0h0m22 0h0m-33 2h0m-3 4h0m19 0h0m-24 1h0m-1 1h0m21 0h0m15 0h0m-32 2h0m11 0h0m3 0h0m7 1h0m1 0h0m11 0h0m2 1h0m-11 1h0m-20 1h0m3 0h0m14 0h0m7 1h0m-42 1h0m-3 1h0m22 0h0m-18 1h0m23 0h0m-24 1h0m10 0h0m-55 1h0m50 0h0m3 0h0m33 0h0m-89 1h0m46 0h0m22 0h0m8 0h0m11 0h0m-67 1h0m49 0h0m1 0h0m-15 1h0m9 1h0m-18 2h0m-56 1h0m3 0h0m22 0h0m42 0h0m12 1h0m-77 1h0m15 0h0m57 0h0m117 2h0m-173 2h0m18 2h0m-9 4h0m-8 1h0m-8 2h0m2 0h0m4 7h0m166 28h0m-36 8h0m-5 2h0m2 3h0m1 1h0"/>
<path stroke="#389494" d="M829 1044h0m0 2h0m5 0h0m-13 1h0m11 0h0m-2 1h0m-1 2h0m1 0h0m-9 2h0m5 4h0m-2 3h0m124 26h0m11 2h0m-59 2h0m5 0h0m-8 1h0m2 2h0m62 1h0m-57 1h0m-4 6h0m-4 1h0m-1 1h0m11 2h0m30 1h0m-37 4h0m10 6h0m51 0h0m-53 2h0m5 1h0m70 1h0m-146 1h0m3 0h0m6 1h0m68 0h0m-67 3h0m6 0h0m8 1h0m4 0h0m-29 1h0m28 0h0m3 0h0m-26 3h0m125 0h0m-129 1h0m124 1h0m-117 1h0m110 1h0m21 0h0m-10 1h0m-9 2h0m-117 3h0m51 3h0m-48 1h0m120 0h0m-72 1h0m-47 2h0m130 0h0m-32 5h0m-16 9h0m0 6h0m-15 5h0m-13 1h0m2 0h0m16 1h0m8 0h0m-3 1h0m6 0h0m3 0h0m-28 1h0m7 0h0m-14 3h0m18 0h0m-7 1h0m-12 1h0m4 0h0m1 1h0m18 2h0m6 0h0m9 1h0m27 0h0m-64 1h0m14 0h0m6 0h0m103 0h0m8 0h0m-133 1h0m12 0h0m2 0h0m110 0h0m-114 1h0m127 0h0m-129 1h0m119 0h0m8 0h0m7 0h0m-135 1h0m123 0h0m-125 1h0m13 0h0m108 0h0m1 0h0m2 0h0m4 0h0m-111 1h0m98 0h0m2 0h0m12 0h0m-118 1h0m3 0h0m121 0h0m7 0h0m-118 1h0m12 0h0m97 0h0m3 0h0m2 0h0m-113 1h0m123 0h0m-29 1h0m18 0h0m-132 2h0m29 0h0m90 0h0m4 0h0m2 0h0m-134 1h0m10 0h0m115 0h0m3 0h0m-125 1h0m15 0h0m-21 1h0m15 0h0m8 0h0m9 0h0m110 0h0m-126 1h0m129 0h0m-112 1h0m84 0h0m9 0h0m-105 1h0m107 0h0m1 0h0m1 0h0m-94 2h0m118 1h0m-145 1h0m21 0h0m8 0h0m95 0h0m2 0h0m13 0h0m-10 1h0m6 0h0m-12 4h0m3 7h0m-149 7h0m106 1h0m14 0h0m-21 1h0m-99 1h0m-10 4h0m21 2h0m124 0h0m-143 2h0m3 0h0m129 0h0m-116 1h0m-15 1h0m4 1h0m-6 1h0m14 1h0m-19 5h0m5 0h0m8 0h0m-16 1h0m30 1h0m1 0h0m-24 1h0m2 0h0m24 1h0m-83 2h0m179 0h0m-178 1h0m50 0h0m6 0h0m37 0h0m-87 1h0m76 0h0m-15 1h0m12 0h0m-69 1h0m48 0h0m-30 1h0m145 0h0m-168 1h0m71 0h0m1 0h0m-86 1h0m57 0h0m-54 1h0m19 0h0m-15 1h0m71 0h0m-68 1h0m12 0h0m3 0h0m26 0h0m33 0h0m2 0h0m-3 3h0m-56 2h0m-21 1h0m24 0h0m-13 1h0m-10 7h0m7 0h0m18 0h0m-24 3h0m5 2h0m-2 7h0m167 23h0m-38 8h0m5 3h0m-13 1h0m1 1h0m5 0h0m1 3h0"/>
<path stroke="#379a93" d="M834 1049h0m-6 2h0m-3 2h0m-3 4h0m76 29h0m6 5h0m-2 1h0m-7 3h0m5 3h0m40 2h0m-43 3h0m10 6h0m-3 1h0m7 5h0m43 2h0m-115 3h0m8 0h0m-12 1h0m16 1h0m-15 1h0m4 0h0m5 2h0m21 1h0m-27 1h0m12 1h0m13 0h0m-26 1h0m127 0h0m-105 3h0m38 1h0m74 0h0m-51 3h0m59 1h0m-138 2h0m133 0h0m-34 2h0m31 0h0m-3 1h0m0 1h0m-51 2h0m38 2h0m-9 2h0m10 0h0m-65 1h0m68 6h0m0 1h0m5 1h0m-47 3h0m35 6h0m-13 2h0m-2 2h0m-45 5h0m3 0h0m1 0h0m31 1h0m-13 1h0m-8 3h0m3 0h0m34 0h0m-35 5h0m102 2h0m-97 1h0m113 1h0m5 0h0m-23 1h0m24 0h0m-130 1h0m133 0h0m-142 4h0m124 0h0m7 0h0m10 0h0m-110 2h0m114 0h0m-125 1h0m108 0h0m20 0h0m-143 2h0m131 0h0m-110 1h0m-21 2h0m130 0h0m-132 1h0m26 0h0m114 0h0m-8 1h0m-9 1h0m20 0h0m-29 1h0m-102 1h0m122 0h0m2 0h0m-118 1h0m6 0h0m107 0h0m-23 1h0m-136 1h0m174 2h0m-163 3h0m-14 4h0m-1 1h0m10 0h0m-9 2h0m14 0h0m2 0h0m17 5h0m-34 1h0m1 1h0m9 3h0m1 0h0m-7 5h0m11 0h0m-16 1h0m-3 3h0m1 1h0m125 0h0m3 4h0m-6 1h0m-118 3h0m-47 1h0m50 0h0m-62 1h0m12 0h0m29 0h0m-26 1h0m47 0h0m-66 1h0m13 0h0m6 0h0m2 0h0m38 0h0m-51 1h0m16 0h0m27 0h0m-55 1h0m18 0h0m22 0h0m18 0h0m10 0h0m6 0h0m-46 1h0m31 0h0m-62 1h0m12 0h0m2 0h0m16 0h0m5 0h0m19 0h0m-52 1h0m20 0h0m30 0h0m6 0h0m7 0h0m-33 2h0m41 0h0m-72 1h0m7 1h0m27 0h0m-30 1h0m188 0h0m-194 1h0m6 0h0m23 0h0m164 0h0m-166 1h0m-20 1h0m181 0h0m-172 1h0m12 0h0m-18 1h0m3 0h0m-2 3h0m15 0h0m1 1h0m-10 1h0m14 0h0m-13 1h0m7 0h0m-2 1h0m-6 1h0m-4 3h0m7 3h0m163 22h0m32 8h0m-65 3h0m64 0h0m-33 1h0m-40 1h0m-1 2h0m7 1h0m-3 1h0m41 0h0m-51 1h0m5 0h0m3 0h0m-1 4h0"/>
<path stroke="#369e92" d="M936 1076h0m15 0h0m2 0h0m-58 4h0m8 4h0m39 12h0m-38 1h0m7 4h0m-9 9h0m36 1h0m-29 1h0m73 1h0m-21 3h0m-115 2h0m93 0h0m-98 1h0m2 0h0m0 0h0m55 1h0m-53 1h0m6 0h0m-12 1h0m13 0h0m-3 1h0m-13 1h0m20 1h0m88 3h0m28 1h0m11 0h0m-74 1h0m51 0h0m10 0h0m-128 1h0m4 0h0m60 1h0m76 0h0m-144 1h0m74 1h0m-77 1h0m5 1h0m138 0h0m-48 2h0m47 0h0m-140 1h0m6 0h0m60 0h0m33 0h0m7 0h0m7 0h0m3 0h0m1 0h0m3 0h0m-10 1h0m13 0h0m-9 1h0m6 0h0m18 0h0m1 0h0m-17 1h0m-44 1h0m41 0h0m-41 1h0m57 0h0m-26 1h0m-20 1h0m-32 1h0m75 0h0m-80 1h0m53 1h0m24 0h0m-26 1h0m-36 1h0m23 0h0m20 0h0m2 1h0m-34 1h0m29 0h0m15 0h0m7 0h0m-48 2h0m-34 2h0m28 0h0m33 0h0m1 0h0m-55 1h0m0 1h0m71 0h0m2 0h0m-43 2h0m28 0h0m-39 1h0m27 1h0m-1 1h0m13 1h0m-5 3h0m0 2h0m-8 2h0m-34 1h0m59 3h0m-29 6h0m90 3h0m5 0h0m3 1h0m-67 1h0m50 1h0m-58 2h0m87 0h0m-137 1h0m105 0h0m2 0h0m10 0h0m-87 2h0m81 0h0m14 0h0m-120 1h0m133 0h0m-136 1h0m27 0h0m80 1h0m26 0h0m-121 1h0m126 0h0m-1 1h0m1 0h0m-9 1h0m-145 1h0m36 0h0m116 1h0m-20 1h0m5 0h0m10 1h0m-126 1h0m112 0h0m-124 1h0m146 0h0m-54 1h0m49 2h0m-19 1h0m7 0h0m-160 3h0m3 8h0m-10 1h0m15 4h0m2 1h0m6 0h0m104 0h0m24 3h0m-170 1h0m34 0h0m-2 1h0m2 3h0m-23 1h0m3 1h0m13 0h0m-6 1h0m8 2h0m9 0h0m5 0h0m103 4h0m17 0h0m-146 3h0m128 0h0m2 0h0m-126 1h0m118 0h0m-123 4h0m4 0h0m-9 2h0m-40 1h0m36 0h0m6 0h0m-14 1h0m-30 1h0m35 0h0m25 0h0m-32 1h0m-29 2h0m10 0h0m4 0h0m-28 1h0m8 0h0m7 0h0m35 0h0m6 0h0m10 0h0m4 0h0m19 0h0m-76 1h0m58 0h0m-55 1h0m34 0h0m7 0h0m13 0h0m-64 1h0m79 0h0m-82 1h0m2 0h0m18 0h0m33 0h0m-50 1h0m64 1h0m-67 1h0m11 0h0m13 1h0m-14 1h0m-7 1h0m12 0h0m10 1h0m2 0h0m-15 1h0m13 0h0m-5 1h0m9 0h0m2 0h0m-24 1h0m18 0h0m-7 1h0m0 0h0m11 0h0m2 0h0m-7 1h0m6 0h0m0 1h0m-15 2h0m-2 7h0m-4 1h0m0 1h0m5 0h0m182 9h0m0 4h0m-15 12h0m34 1h0m2 1h0m-6 3h0m-32 2h0m26 0h0m-21 1h0m16 0h0m-61 2h0m43 0h0m14 1h0m5 0h0"/>
<path stroke="#36a490" d="M813 1046h0m93 2h0m28 6h0m13 19h0m-2 1h0m5 2h0m-7 1h0m2 12h0m28 0h0m-15 1h0m-6 5h0m7 1h0m28 1h0m-42 1h0m25 0h0m-25 3h0m32 4h0m-37 6h0m27 0h0m-30 2h0m2 0h0m-21 2h0m37 0h0m-5 1h0m19 0h0m-36 2h0m-91 2h0m6 0h0m-7 1h0m134 0h0m-133 2h0m17 0h0m106 0h0m15 0h0m-141 1h0m4 0h0m22 0h0m114 0h0m-132 1h0m6 1h0m128 0h0m-131 1h0m127 2h0m-2 2h0m-72 1h0m2 0h0m27 0h0m-93 1h0m75 0h0m49 0h0m7 0h0m5 0h0m-132 1h0m66 0h0m12 1h0m35 0h0m4 1h0m3 0h0m4 0h0m-76 1h0m57 0h0m6 0h0m18 0h0m-85 1h0m60 0h0m9 0h0m6 0h0m-124 1h0m6 0h0m45 1h0m65 0h0m-62 1h0m72 0h0m-120 1h0m86 0h0m18 0h0m-39 1h0m-14 1h0m40 0h0m2 0h0m17 0h0m9 0h0m-30 1h0m17 0h0m8 0h0m4 0h0m-11 1h0m-65 1h0m9 0h0m27 2h0m10 0h0m-32 1h0m21 0h0m28 0h0m20 0h0m-32 1h0m25 1h0m-56 1h0m28 0h0m2 0h0m1 0h0m2 0h0m25 0h0m-53 1h0m17 0h0m-12 1h0m41 0h0m-49 1h0m22 0h0m9 0h0m24 0h0m-70 2h0m25 0h0m11 0h0m2 0h0m-17 1h0m21 0h0m-19 1h0m15 0h0m23 0h0m-18 1h0m11 1h0m8 0h0m7 0h0m-45 1h0m25 0h0m5 0h0m-47 1h0m14 0h0m30 0h0m1 1h0m-53 1h0m42 0h0m-31 1h0m2 0h0m11 0h0m21 2h0m-33 2h0m35 1h0m18 1h0m6 0h0m-67 2h0m47 1h0m-25 2h0m35 3h0m21 0h0m-75 1h0m43 0h0m8 1h0m70 0h0m-104 2h0m30 0h0m77 2h0m-128 1h0m123 3h0m1 1h0m8 1h0m-16 1h0m10 0h0m1 0h0m5 0h0m-127 2h0m132 0h0m6 2h0m-2 3h0m11 0h0m-126 4h0m102 0h0m-161 6h0m-2 4h0m11 0h0m11 0h0m-38 1h0m5 0h0m22 2h0m10 2h0m-2 2h0m-42 1h0m17 0h0m9 2h0m-17 1h0m13 1h0m10 0h0m7 0h0m-14 1h0m-13 1h0m14 0h0m9 0h0m5 1h0m-40 5h0m28 0h0m125 1h0m60 0h0m-53 1h0m-137 2h0m143 7h0m3 0h0m-138 2h0m119 1h0m-126 1h0m139 0h0m8 0h0m-153 1h0m4 0h0m4 0h0m122 0h0m-172 4h0m39 1h0m140 0h0m-186 1h0m9 1h0m29 0h0m1 0h0m139 0h0m3 0h0m4 0h0m-188 1h0m28 0h0m18 0h0m13 0h0m149 0h0m-153 1h0m126 0h0m-164 1h0m10 0h0m156 0h0m3 0h0m-184 1h0m60 0h0m8 0h0m115 0h0m-177 1h0m3 0h0m12 1h0m52 0h0m-57 1h0m5 0h0m31 0h0m-27 1h0m-22 1h0m15 0h0m158 0h0m-165 1h0m-7 1h0m8 0h0m8 0h0m-20 2h0m13 0h0m3 1h0m-4 1h0m14 1h0m-22 3h0m5 2h0m-1 2h0m-4 3h0m1 0h0m-3 3h0m8 0h0m-7 5h0m187 9h0m-15 10h0m27 7h0m5 1h0m-71 1h0m58 1h0m-3 1h0m8 0h0m-68 1h0m44 0h0m19 0h0m-57 6h0"/>
<path stroke="#37a98e" d="M914 1031h0m28 7h0m-25 6h0m0 4h0m6 8h0m29 11h0m-7 2h0m5 1h0m-40 5h0m29 0h0m5 6h0m-44 5h0m43 1h0m17 3h0m-10 3h0m-43 1h0m41 0h0m14 0h0m14 0h0m-33 1h0m32 0h0m-20 1h0m7 5h0m-23 1h0m29 0h0m0 1h0m-24 1h0m36 0h0m-23 3h0m-11 1h0m16 3h0m-9 1h0m-4 1h0m15 3h0m-8 1h0m15 1h0m-134 2h0m6 1h0m125 0h0m-11 1h0m8 0h0m11 1h0m-140 1h0m105 0h0m-10 2h0m49 0h0m-57 1h0m40 1h0m7 0h0m-8 1h0m4 0h0m8 0h0m-122 1h0m94 1h0m23 0h0m7 0h0m1 1h0m-9 1h0m-126 1h0m104 1h0m7 0h0m-23 1h0m-46 1h0m1 0h0m31 0h0m54 0h0m7 0h0m-49 1h0m31 0h0m-66 1h0m14 0h0m60 0h0m11 0h0m-87 1h0m17 0h0m5 0h0m-81 1h0m4 0h0m96 0h0m8 0h0m2 0h0m35 0h0m2 0h0m-95 1h0m15 0h0m11 0h0m7 0h0m62 0h0m-96 1h0m14 0h0m25 0h0m43 0h0m-79 1h0m7 0h0m38 0h0m42 0h0m5 0h0m2 0h0m-67 1h0m18 0h0m25 0h0m8 0h0m3 0h0m-74 1h0m1 0h0m30 0h0m7 0h0m30 0h0m8 0h0m3 0h0m-75 1h0m76 0h0m-60 1h0m40 0h0m6 0h0m3 0h0m13 0h0m-57 1h0m12 0h0m14 0h0m8 0h0m-35 1h0m15 0h0m38 0h0m-21 1h0m10 0h0m2 0h0m10 0h0m-2 1h0m-60 1h0m10 0h0m11 1h0m9 0h0m5 0h0m1 0h0m7 0h0m12 0h0m2 0h0m-65 1h0m25 0h0m20 0h0m22 0h0m-42 1h0m15 0h0m9 0h0m9 0h0m9 0h0m-83 1h0m25 0h0m3 1h0m48 0h0m-72 1h0m1 1h0m8 0h0m6 0h0m62 0h0m-58 1h0m27 0h0m24 0h0m-55 1h0m10 0h0m36 0h0m2 0h0m12 0h0m-42 1h0m-29 1h0m4 0h0m18 0h0m17 0h0m-30 1h0m26 0h0m12 0h0m23 0h0m-62 1h0m26 0h0m40 0h0m-23 1h0m7 0h0m4 0h0m-45 1h0m41 0h0m21 0h0m-66 1h0m12 0h0m35 0h0m2 0h0m7 0h0m-12 1h0m12 0h0m-22 1h0m14 0h0m-18 2h0m13 0h0m13 0h0m-22 1h0m-30 1h0m23 1h0m25 0h0m-23 1h0m26 3h0m57 1h0m-75 1h0m1 0h0m7 0h0m-3 1h0m0 1h0m-6 1h0m10 2h0m8 3h0m79 5h0m-1 1h0m-10 2h0m-6 1h0m-94 9h0m107 1h0m-127 1h0m121 0h0m-182 4h0m8 0h0m9 0h0m167 0h0m-196 1h0m0 0h0m27 0h0m-36 1h0m35 0h0m-42 1h0m19 0h0m32 0h0m-16 1h0m-25 1h0m38 0h0m9 0h0m5 0h0m-43 1h0m2 0h0m24 0h0m5 0h0m6 0h0m3 0h0m0 1h0m-9 1h0m163 0h0m-180 1h0m16 1h0m4 0h0m1 0h0m-6 1h0m-30 1h0m12 0h0m3 0h0m17 2h0m155 0h0m-174 2h0m3 1h0m16 0h0m-18 1h0m4 0h0m3 0h0m14 0h0m-28 2h0m156 1h0m2 0h0m16 1h0m-161 1h0m4 2h0m142 2h0m-13 1h0m18 1h0m4 0h0m3 1h0m-150 2h0m115 0h0m38 0h0m-33 3h0m17 0h0m-139 1h0m169 1h0m-42 1h0m20 0h0m7 0h0m-33 1h0m-167 1h0m30 0h0m-50 1h0m81 0h0m112 0h0m-170 1h0m168 0h0m1 0h0m-189 1h0m19 2h0m29 0h0m6 0h0m-49 1h0m39 1h0m146 0h0m-193 1h0m34 0h0m29 0h0m130 1h0m-184 1h0m177 0h0m-154 1h0m-17 1h0m1 0h0m178 2h0m-186 3h0m15 0h0m4 1h0m-8 1h0m-7 1h0m4 1h0m3 3h0m-2 4h0m182 17h0m2 0h0m-18 10h0m0 3h0m-4 1h0m38 2h0m-6 6h0m6 1h0m-22 1h0m-10 2h0m2 0h0m16 1h0"/>
<path stroke="#3bae8b" d="M912 1038h0m18 1h0m-8 5h0m-18 3h0m42 3h0m-10 6h0m-17 12h0m2 0h0m-13 1h0m46 1h0m2 8h0m2 1h0m-20 2h0m12 0h0m-47 1h0m-1 1h0m53 1h0m7 1h0m-2 3h0m17 3h0m-22 1h0m23 0h0m-38 2h0m25 0h0m12 0h0m-10 1h0m15 0h0m-19 1h0m-26 1h0m9 1h0m8 0h0m31 0h0m-50 1h0m7 0h0m33 0h0m-21 2h0m-21 1h0m34 0h0m7 0h0m6 0h0m-24 1h0m33 0h0m-52 1h0m4 1h0m6 0h0m21 0h0m10 0h0m-3 1h0m-7 1h0m-34 1h0m34 2h0m11 1h0m-10 1h0m-23 1h0m4 0h0m3 2h0m-26 1h0m29 1h0m9 1h0m10 0h0m-40 2h0m18 0h0m18 0h0m-126 2h0m118 0h0m8 0h0m-44 1h0m34 0h0m22 0h0m-141 1h0m82 0h0m13 0h0m11 0h0m22 1h0m-37 1h0m13 2h0m-93 1h0m124 0h0m139 0h0m-220 1h0m41 0h0m23 0h0m-34 1h0m30 0h0m2 0h0m4 0h0m5 0h0m1 0h0m13 0h0m-34 1h0m-46 1h0m25 0h0m26 0h0m3 0h0m24 0h0m-50 1h0m21 0h0m32 0h0m132 0h0m-227 1h0m8 0h0m1 0h0m27 0h0m46 0h0m-132 1h0m61 0h0m2 0h0m11 0h0m13 0h0m13 0h0m4 0h0m5 0h0m37 0h0m-91 1h0m59 0h0m10 0h0m12 0h0m-75 1h0m5 0h0m7 0h0m54 0h0m2 0h0m-78 1h0m93 0h0m-18 1h0m3 0h0m15 0h0m-95 1h0m23 0h0m45 0h0m-113 1h0m77 1h0m15 0h0m14 0h0m-28 1h0m24 0h0m-59 1h0m1 0h0m30 0h0m12 0h0m9 0h0m9 0h0m0 0h0m-43 1h0m4 0h0m28 0h0m41 0h0m-53 1h0m12 0h0m6 0h0m6 0h0m16 0h0m2 0h0m-66 1h0m9 0h0m11 0h0m37 0h0m5 0h0m6 0h0m-57 1h0m2 0h0m17 0h0m6 0h0m30 0h0m-35 1h0m2 0h0m2 0h0m24 0h0m11 0h0m-64 1h0m15 0h0m32 0h0m2 0h0m11 0h0m-77 1h0m65 0h0m18 0h0m-77 1h0m54 0h0m13 0h0m-62 1h0m9 0h0m25 0h0m17 0h0m10 0h0m-18 1h0m21 0h0m-75 1h0m29 0h0m19 0h0m3 0h0m18 0h0m11 0h0m3 0h0m-70 1h0m35 0h0m13 0h0m-50 1h0m35 0h0m10 0h0m-22 1h0m10 0h0m10 0h0m-50 1h0m37 0h0m13 0h0m15 0h0m-57 1h0m6 0h0m21 0h0m20 0h0m22 0h0m1 0h0m-57 1h0m40 0h0m4 0h0m2 0h0m-39 1h0m18 0h0m8 0h0m-45 1h0m16 0h0m1 0h0m3 0h0m33 0h0m-50 1h0m20 0h0m13 0h0m1 0h0m23 0h0m-38 1h0m-16 1h0m61 0h0m-53 1h0m35 0h0m15 0h0m-28 1h0m30 0h0m-54 1h0m23 1h0m25 0h0m-58 1h0m34 0h0m9 0h0m30 0h0m-30 2h0m-118 1h0m109 0h0m11 0h0m3 0h0m3 0h0m14 0h0m-18 1h0m9 0h0m-16 1h0m15 0h0m20 0h0m-1 1h0m-3 2h0m-19 2h0m16 0h0m-15 1h0m17 1h0m47 0h0m-193 1h0m114 0h0m10 0h0m26 2h0m-6 3h0m-13 1h0m-27 2h0m78 1h0m12 0h0m-3 2h0m-49 1h0m66 2h0m-18 1h0m25 2h0m-13 4h0m-203 4h0m5 2h0m35 1h0m-3 1h0m-15 1h0m190 1h0m-182 1h0m194 0h0m-206 1h0m30 0h0m-15 1h0m-15 1h0m9 1h0m3 0h0m4 0h0m-19 1h0m16 0h0m-3 1h0m5 0h0m-16 1h0m21 0h0m8 0h0m5 0h0m2 0h0m147 0h0m-164 1h0m-32 1h0m15 0h0m5 0h0m2 0h0m-9 1h0m12 0h0m4 0h0m13 0h0m138 1h0m3 0h0m-182 1h0m16 0h0m13 0h0m162 0h0m-180 2h0m19 0h0m5 0h0m2 1h0m-30 1h0m4 0h0m29 0h0m5 0h0m-26 1h0m13 0h0m163 0h0m-167 1h0m-4 1h0m141 0h0m-127 1h0m3 0h0m0 0h0m-22 1h0m2 0h0m2 0h0m12 0h0m151 0h0m-15 1h0m-130 1h0m127 0h0m10 1h0m16 0h0m-20 1h0m10 0h0m-25 3h0m22 0h0m2 0h0m-32 4h0m8 0h0m23 0h0m-29 1h0m11 0h0m-10 1h0m9 0h0m-187 2h0m6 0h0m170 1h0m-126 1h0m127 0h0m11 1h0m-185 1h0m33 1h0m-19 1h0m164 0h0m26 0h0m-202 2h0m5 0h0m169 1h0m-127 1h0m-42 1h0m169 0h0m4 0h0m-166 1h0m-15 1h0m10 0h0m9 0h0m156 1h0m1 0h0m-152 3h0m-18 3h0m4 0h0m8 1h0m7 0h0m-20 2h0m-7 9h0m188 12h0m-16 9h0m1 2h0m1 7h0m28 1h0m-33 1h0m32 0h0m8 1h0m-35 1h0m20 0h0m5 1h0m6 0h0m-34 1h0m1 2h0m7 0h0m9 2h0m-17 2h0m1 0h0m4 1h0m-4 1h0"/>
<path stroke="#42b487" d="M911 1034h0m5 1h0m-3 1h0m-13 6h0m4 1h0m-11 2h0m2 0h0m18 1h0m-13 1h0m0 2h0m21 0h0m-20 3h0m29 2h0m-3 1h0m-2 2h0m17 0h0m-28 3h0m-23 2h0m36 2h0m-14 2h0m6 0h0m5 1h0m-25 2h0m19 0h0m11 0h0m17 1h0m-37 1h0m38 0h0m5 3h0m-4 2h0m-1 1h0m-5 4h0m-5 3h0m5 0h0m17 5h0m-6 2h0m-14 1h0m10 2h0m22 0h0m-7 1h0m-28 1h0m35 0h0m12 0h0m-34 1h0m15 0h0m-13 1h0m4 0h0m3 0h0m3 0h0m-41 1h0m19 0h0m30 0h0m13 0h0m-35 1h0m18 0h0m2 0h0m16 0h0m2 0h0m3 0h0m-19 1h0m-34 1h0m25 0h0m13 0h0m14 0h0m-24 1h0m-25 1h0m25 0h0m-17 1h0m5 0h0m7 1h0m-120 1h0m109 0h0m6 0h0m32 0h0m-48 1h0m1 0h0m5 0h0m9 0h0m13 0h0m2 0h0m-5 1h0m1 1h0m23 0h0m-71 1h0m30 1h0m16 0h0m19 0h0m-40 2h0m26 0h0m-126 2h0m3 0h0m90 0h0m13 0h0m34 0h0m-141 1h0m97 0h0m7 0h0m17 0h0m1 0h0m-15 1h0m3 0h0m33 0h0m-43 1h0m37 0h0m8 0h0m-56 1h0m14 0h0m1 0h0m39 0h0m-48 1h0m7 0h0m37 0h0m-116 1h0m66 0h0m18 0h0m-96 2h0m89 1h0m25 0h0m15 0h0m-49 1h0m49 0h0m-129 1h0m106 0h0m1 0h0m-8 1h0m4 0h0m-11 1h0m26 0h0m-34 1h0m27 0h0m12 0h0m6 0h0m5 0h0m-86 1h0m52 0h0m166 0h0m-222 1h0m63 0h0m2 0h0m5 0h0m7 0h0m7 0h0m-42 1h0m3 0h0m5 0h0m21 0h0m-62 1h0m14 0h0m20 0h0m24 0h0m10 0h0m140 0h0m4 0h0m-228 1h0m13 0h0m19 0h0m5 0h0m8 0h0m3 0h0m-101 1h0m71 0h0m60 0h0m10 0h0m-87 1h0m16 0h0m25 0h0m-45 1h0m35 0h0m2 0h0m2 0h0m5 0h0m-27 1h0m39 0h0m13 0h0m18 0h0m-88 1h0m36 0h0m2 0h0m24 0h0m-45 1h0m53 0h0m-58 1h0m12 0h0m21 0h0m10 0h0m22 0h0m7 0h0m-127 1h0m57 0h0m28 0h0m13 0h0m12 0h0m10 0h0m-75 1h0m20 0h0m71 0h0m-80 1h0m9 0h0m11 0h0m6 0h0m8 0h0m9 0h0m38 0h0m-76 1h0m31 0h0m34 0h0m-75 1h0m8 0h0m3 0h0m6 0h0m1 0h0m5 0h0m7 0h0m-32 1h0m47 0h0m2 0h0m5 0h0m6 0h0m-54 1h0m19 0h0m22 0h0m-50 1h0m3 0h0m46 0h0m10 0h0m-40 1h0m20 0h0m14 0h0m27 0h0m-67 1h0m1 0h0m24 0h0m9 0h0m9 0h0m7 0h0m7 0h0m-52 1h0m13 0h0m8 0h0m17 0h0m-55 1h0m13 0h0m21 0h0m11 0h0m21 0h0m3 0h0m13 0h0m-79 2h0m8 0h0m7 0h0m27 0h0m15 0h0m8 0h0m-32 1h0m3 0h0m42 0h0m-66 1h0m47 0h0m-54 1h0m1 0h0m15 0h0m8 0h0m18 0h0m11 0h0m4 0h0m-46 1h0m37 0h0m18 0h0m-71 1h0m42 0h0m2 0h0m5 0h0m-44 1h0m13 0h0m17 1h0m24 0h0m12 0h0m-54 1h0m61 0h0m-71 1h0m8 0h0m51 0h0m6 0h0m-71 1h0m39 0h0m12 1h0m15 0h0m-60 1h0m-1 1h0m5 1h0m35 0h0m6 0h0m5 0h0m1 1h0m11 0h0m-12 1h0m4 0h0m-49 1h0m51 0h0m-10 1h0m14 0h0m4 0h0m3 0h0m-25 2h0m25 0h0m8 0h0m-25 1h0m7 0h0m-6 2h0m-12 1h0m4 0h0m-3 1h0m3 1h0m30 0h0m4 1h0m-21 1h0m5 2h0m16 0h0m-24 1h0m8 0h0m57 2h0m-46 4h0m-136 18h0m195 0h0m-209 1h0m45 0h0m-29 1h0m36 0h0m-38 1h0m40 0h0m-5 1h0m-34 1h0m-4 1h0m15 0h0m19 0h0m2 0h0m2 0h0m5 0h0m-37 1h0m14 0h0m3 0h0m10 0h0m14 0h0m157 0h0m-166 1h0m7 0h0m140 0h0m-163 1h0m-11 1h0m7 0h0m-12 1h0m15 0h0m19 0h0m157 1h0m5 0h0m-168 1h0m5 0h0m4 1h0m8 0h0m-61 1h0m35 0h0m175 0h0m-166 1h0m15 0h0m-45 1h0m16 0h0m11 0h0m7 0h0m4 0h0m-34 2h0m19 0h0m15 1h0m149 1h0m-165 1h0m12 1h0m-31 1h0m18 0h0m139 0h0m6 2h0m4 0h0m-145 1h0m153 0h0m14 0h0m-154 1h0m-15 1h0m155 0h0m9 0h0m-23 2h0m25 0h0m-31 1h0m8 0h0m-14 3h0m1 1h0m15 0h0m31 1h0m-43 1h0m-3 3h0m-2 2h0m6 0h0m23 1h0m1 0h0m1 0h0m-171 1h0m147 0h0m-143 1h0m-41 1h0m200 0h0m-193 1h0m8 0h0m6 0h0m154 0h0m8 0h0m-175 1h0m176 0h0m23 0h0m-195 1h0m4 1h0m160 0h0m-169 2h0m176 0h0m1 2h0m-187 1h0m16 0h0m163 0h0m3 0h0m-180 1h0m22 3h0m1 0h0m0 1h0m4 1h0m-24 8h0m1 1h0m-1 4h0m191 11h0m-24 11h0m29 9h0m-5 1h0m12 0h0m-34 1h0m27 1h0m-69 1h0m53 2h0m8 0h0m6 0h0m-21 2h0"/>
<path stroke="#49b883" d="M938 1031h0m4 0h0m-32 1h0m10 0h0m15 0h0m-15 1h0m12 0h0m7 0h0m2 0h0m-27 1h0m18 0h0m2 2h0m-10 1h0m14 1h0m-18 1h0m-8 2h0m12 1h0m-19 1h0m7 0h0m12 1h0m15 0h0m-42 1h0m24 0h0m25 1h0m-53 3h0m4 0h0m28 0h0m9 0h0m10 0h0m-10 3h0m-36 2h0m42 0h0m-6 2h0m-43 2h0m5 0h0m38 0h0m-10 1h0m9 0h0m-26 2h0m12 1h0m2 1h0m-4 2h0m-33 1h0m2 2h0m14 0h0m29 0h0m19 0h0m-4 1h0m-29 1h0m0 1h0m28 0h0m8 0h0m-46 1h0m6 0h0m39 1h0m-43 1h0m16 1h0m4 0h0m-26 2h0m38 1h0m3 0h0m7 0h0m-2 1h0m-57 2h0m62 0h0m3 1h0m-39 1h0m35 0h0m-1 1h0m-12 2h0m16 0h0m2 0h0m6 1h0m-20 2h0m9 0h0m24 0h0m-13 1h0m10 0h0m9 1h0m-37 1h0m3 0h0m25 0h0m1 0h0m-29 1h0m9 1h0m7 0h0m-14 1h0m22 0h0m-24 1h0m10 0h0m14 1h0m-127 1h0m131 0h0m9 0h0m-41 1h0m-96 1h0m107 0h0m7 0h0m21 0h0m3 0h0m-139 1h0m104 0h0m31 0h0m-34 1h0m6 0h0m-9 1h0m12 0h0m-13 1h0m9 0h0m26 0h0m6 0h0m5 0h0m-31 1h0m17 1h0m-132 1h0m105 0h0m6 0h0m8 0h0m23 0h0m1 0h0m-47 1h0m27 0h0m20 0h0m-32 2h0m19 0h0m-129 1h0m91 0h0m4 0h0m18 0h0m2 0h0m10 0h0m10 0h0m7 0h0m-140 1h0m92 0h0m7 0h0m21 0h0m10 0h0m1 0h0m-135 1h0m116 0h0m15 0h0m-25 1h0m4 0h0m8 0h0m8 0h0m7 0h0m0 0h0m11 0h0m-54 1h0m53 0h0m-44 1h0m41 0h0m-139 1h0m118 0h0m23 0h0m-33 3h0m8 0h0m6 0h0m6 0h0m-42 1h0m13 0h0m41 0h0m-47 1h0m39 0h0m-28 1h0m12 0h0m2 0h0m-5 1h0m8 0h0m17 0h0m-10 1h0m-19 1h0m4 0h0m12 0h0m7 0h0m2 1h0m-47 1h0m9 0h0m37 0h0m-52 1h0m14 1h0m10 0h0m19 0h0m-132 1h0m89 0h0m23 0h0m6 0h0m4 0h0m-58 1h0m16 0h0m12 0h0m41 0h0m8 0h0m-31 1h0m19 0h0m-51 1h0m16 0h0m7 0h0m-29 1h0m2 0h0m9 0h0m12 0h0m2 0h0m10 1h0m46 0h0m124 0h0m6 0h0m-214 1h0m45 0h0m2 0h0m162 0h0m-276 1h0m63 0h0m29 0h0m-170 1h0m134 0h0m4 0h0m37 0h0m-22 1h0m2 0h0m13 0h0m35 0h0m-57 1h0m11 0h0m18 0h0m12 0h0m-185 1h0m166 0h0m11 0h0m15 0h0m-49 1h0m10 0h0m3 0h0m29 2h0m-34 1h0m12 0h0m13 0h0m13 1h0m-51 1h0m6 0h0m4 0h0m22 0h0m7 0h0m16 0h0m5 1h0m-70 1h0m69 1h0m-1 1h0m-67 1h0m7 0h0m25 0h0m-1 1h0m-25 1h0m3 0h0m10 0h0m-19 1h0m16 0h0m29 0h0m12 0h0m-57 1h0m2 0h0m49 0h0m-35 1h0m5 0h0m14 0h0m-20 1h0m8 0h0m15 0h0m-16 1h0m6 0h0m41 0h0m-41 1h0m6 0h0m8 0h0m12 0h0m25 0h0m-65 1h0m26 0h0m-37 1h0m74 0h0m-74 1h0m35 0h0m5 0h0m3 0h0m29 0h0m5 0h0m-27 1h0m8 0h0m18 0h0m-3 1h0m-51 1h0m24 0h0m4 0h0m6 0h0m-35 1h0m47 0h0m-55 1h0m2 0h0m15 0h0m-12 1h0m49 1h0m9 0h0m4 0h0m-2 1h0m-72 2h0m55 1h0m19 0h0m5 0h0m-41 1h0m26 0h0m-132 1h0m112 0h0m13 0h0m7 0h0m8 0h0m-26 1h0m28 0h0m-17 1h0m3 0h0m6 0h0m14 0h0m-40 1h0m14 0h0m1 1h0m22 0h0m-10 1h0m13 0h0m-13 1h0m8 0h0m-12 1h0m-10 1h0m-8 1h0m5 2h0m6 3h0m8 2h0m2 1h0m-147 14h0m39 3h0m2 0h0m3 1h0m-38 1h0m25 0h0m7 0h0m179 0h0m2 0h0m-219 1h0m35 0h0m-27 1h0m17 0h0m3 0h0m191 0h0m-190 1h0m29 0h0m6 0h0m-42 1h0m11 0h0m10 0h0m1 0h0m-32 1h0m5 0h0m12 0h0m5 0h0m10 1h0m160 0h0m9 0h0m-3 1h0m-199 1h0m4 1h0m3 0h0m13 0h0m-14 1h0m2 0h0m8 0h0m-3 1h0m2 1h0m13 0h0m3 0h0m183 0h0m-198 1h0m10 1h0m175 0h0m-206 1h0m11 0h0m13 0h0m9 0h0m171 0h0m1 0h0m-199 2h0m9 0h0m2 1h0m17 0h0m-23 1h0m12 0h0m5 0h0m165 0h0m23 0h0m-20 1h0m-189 1h0m35 0h0m155 0h0m-175 1h0m3 0h0m6 0h0m10 0h0m150 0h0m16 0h0m9 0h0m-197 1h0m11 0h0m158 0h0m-165 1h0m11 0h0m13 0h0m132 0h0m5 0h0m0 0h0m13 0h0m13 1h0m-22 1h0m2 0h0m4 1h0m-2 1h0m7 0h0m17 0h0m-186 1h0m135 2h0m23 1h0m-2 1h0m9 0h0m2 0h0m17 0h0m-18 2h0m9 0h0m-23 1h0m24 0h0m-23 1h0m5 0h0m-2 1h0m-19 2h0m21 0h0m-174 1h0m175 3h0m-20 1h0m-188 1h0m16 2h0m0 4h0m11 1h0m-15 2h0m174 1h0m-174 3h0m13 4h0m170 22h0m-19 7h0m-3 6h0m38 4h0m-33 2h0m30 2h0m-8 3h0m-25 2h0m4 1h0"/>
<path stroke="#53bd7d" d="M932 1031h0m9 0h0m-38 1h0m7 0h0m11 1h0m8 0h0m-31 1h0m2 0h0m42 0h0m-34 2h0m35 0h0m-28 1h0m-17 1h0m6 0h0m18 0h0m9 0h0m-16 1h0m2 1h0m6 1h0m18 0h0m-43 1h0m51 0h0m-56 1h0m62 0h0m-17 1h0m5 0h0m-51 1h0m4 0h0m33 1h0m16 1h0m-43 1h0m20 0h0m-21 1h0m-11 3h0m27 0h0m27 0h0m-49 1h0m8 0h0m41 0h0m5 0h0m0 0h0m-61 2h0m3 0h0m13 0h0m2 0h0m1 1h0m4 0h0m5 0h0m4 0h0m8 0h0m-15 2h0m26 0h0m-40 1h0m4 0h0m6 0h0m10 0h0m11 1h0m-39 1h0m46 1h0m4 0h0m-36 1h0m10 0h0m-26 2h0m33 0h0m12 0h0m-1 1h0m-36 1h0m35 0h0m4 0h0m-30 1h0m10 0h0m17 2h0m8 1h0m5 0h0m-66 1h0m36 0h0m37 1h0m-43 2h0m42 0h0m-3 1h0m5 0h0m-14 1h0m-35 1h0m-4 1h0m54 0h0m-9 1h0m-1 2h0m4 0h0m6 5h0m23 2h0m-29 1h0m19 0h0m-124 1h0m100 0h0m18 0h0m-11 1h0m-109 2h0m116 0h0m-124 2h0m3 0h0m2 0h0m139 0h0m0 0h0m-59 1h0m54 0h0m6 1h0m-145 1h0m118 0h0m24 0h0m-23 1h0m21 0h0m4 0h0m-33 1h0m2 1h0m4 0h0m-118 1h0m112 0h0m-108 1h0m135 0h0m-34 1h0m2 0h0m10 0h0m6 0h0m14 0h0m1 0h0m3 0h0m11 0h0m2 0h0m-23 1h0m17 0h0m-14 1h0m-122 1h0m0 0h0m110 0h0m21 0h0m-140 1h0m103 0h0m16 0h0m3 0h0m27 0h0m-73 1h0m30 0h0m5 0h0m3 0h0m28 0h0m-45 2h0m45 0h0m-61 1h0m31 0h0m31 1h0m-44 1h0m1 0h0m31 0h0m2 0h0m9 0h0m-24 2h0m0 0h0m13 0h0m10 0h0m2 0h0m-50 1h0m15 0h0m19 0h0m10 0h0m-42 1h0m21 1h0m6 0h0m7 0h0m5 0h0m-141 1h0m101 0h0m-1 1h0m7 0h0m1 0h0m15 0h0m29 0h0m-58 1h0m12 0h0m4 0h0m-27 1h0m35 0h0m3 0h0m25 0h0m-26 1h0m9 0h0m17 0h0m-43 1h0m3 0h0m34 0h0m7 0h0m-44 1h0m5 0h0m2 0h0m6 0h0m3 0h0m-26 1h0m1 0h0m7 0h0m5 0h0m16 0h0m20 0h0m-16 1h0m22 0h0m-147 1h0m126 0h0m160 0h0m-225 1h0m57 0h0m9 0h0m-12 1h0m16 0h0m2 0h0m150 0h0m-173 1h0m5 0h0m165 0h0m-162 1h0m5 0h0m14 0h0m10 0h0m3 0h0m-88 1h0m3 0h0m28 0h0m3 0h0m19 0h0m-189 1h0m145 0h0m3 0h0m5 0h0m10 0h0m7 0h0m0 0h0m187 0h0m-350 1h0m127 0h0m18 0h0m20 0h0m36 0h0m4 1h0m-86 1h0m11 1h0m23 0h0m10 0h0m2 0h0m-27 1h0m25 0h0m46 0h0m-139 2h0m71 0h0m24 0h0m18 0h0m24 0h0m-44 1h0m15 0h0m-59 1h0m67 0h0m-186 1h0m171 0h0m21 0h0m-40 1h0m52 0h0m-79 1h0m35 0h0m-23 1h0m31 0h0m20 0h0m-53 1h0m11 0h0m16 0h0m-23 1h0m10 0h0m5 0h0m13 1h0m-41 1h0m37 0h0m-12 1h0m20 1h0m-40 1h0m30 0h0m-17 1h0m9 0h0m-6 1h0m-11 1h0m45 0h0m-11 1h0m31 1h0m-62 2h0m11 0h0m10 0h0m9 1h0m9 0h0m16 0h0m-49 2h0m11 0h0m49 0h0m-72 1h0m15 0h0m6 0h0m31 0h0m12 0h0m-1 1h0m10 0h0m-70 1h0m30 0h0m11 0h0m5 0h0m-48 1h0m70 0h0m-25 1h0m10 0h0m12 0h0m-25 2h0m36 0h0m-21 1h0m12 0h0m10 1h0m-27 1h0m17 0h0m-22 2h0m21 0h0m1 2h0m0 2h0m-29 1h0m24 0h0m7 0h0m-160 1h0m159 0h0m-12 1h0m-15 1h0m5 0h0m15 1h0m15 0h0m-13 1h0m-145 1h0m133 0h0m2 0h0m14 1h0m-144 1h0m152 0h0m-17 1h0m14 1h0m-7 1h0m0 1h0m-3 1h0m13 1h0m-139 7h0m-67 2h0m4 0h0m42 1h0m222 1h0m-179 1h0m183 0h0m-4 1h0m-2 1h0m-222 1h0m18 0h0m0 0h0m3 1h0m6 0h0m3 0h0m9 0h0m7 0h0m-8 1h0m9 0h0m11 0h0m157 0h0m-211 1h0m41 0h0m10 0h0m179 0h0m-214 1h0m9 0h0m-29 1h0m45 0h0m18 0h0m-57 1h0m220 0h0m-217 1h0m26 0h0m12 0h0m6 0h0m151 0h0m10 0h0m-213 1h0m9 0h0m31 0h0m185 0h0m-214 1h0m38 0h0m3 0h0m168 0h0m15 0h0m-186 1h0m10 0h0m-28 2h0m4 0h0m1 0h0m-20 1h0m192 0h0m-150 1h0m158 0h0m19 0h0m-217 1h0m43 0h0m157 0h0m-211 1h0m18 0h0m1 0h0m176 0h0m-200 1h0m10 0h0m0 1h0m3 0h0m5 0h0m19 0h0m-28 1h0m22 0h0m180 1h0m-195 1h0m7 0h0m1 0h0m22 0h0m171 0h0m13 0h0m-213 1h0m204 0h0m-187 1h0m-47 1h0m35 0h0m22 0h0m1 0h0m152 0h0m2 0h0m30 1h0m-24 1h0m-177 1h0m166 0h0m14 0h0m-181 2h0m186 0h0m3 0h0m5 0h0m-29 1h0m20 0h0m-28 1h0m5 0h0m13 0h0m-1 1h0m1 0h0m7 1h0m2 0h0m28 0h0m-191 1h0m165 0h0m-15 1h0m7 0h0m-239 1h0m233 0h0m0 3h0m22 0h0m4 0h0m-33 3h0m5 3h0m1 0h0m3 1h0m-165 1h0m129 1h0m28 0h0m-25 1h0m30 0h0m-204 3h0m203 0h0m-203 2h0m175 1h0m23 0h0m-198 6h0m190 26h0m-11 8h0m-10 10h0m31 3h0"/>
<path stroke="#5cc278" d="M898 1031h0m32 0h0m2 1h0m3 0h0m-27 1h0m-4 1h0m3 0h0m18 1h0m2 0h0m2 0h0m-30 1h0m2 1h0m9 0h0m6 0h0m11 0h0m-32 1h0m11 0h0m3 1h0m16 0h0m13 0h0m11 0h0m-38 1h0m17 0h0m-19 1h0m10 0h0m1 0h0m8 0h0m11 0h0m-25 1h0m12 0h0m10 0h0m17 0h0m-44 1h0m12 0h0m21 0h0m9 0h0m-50 1h0m6 0h0m25 0h0m16 1h0m-56 1h0m8 0h0m19 0h0m22 0h0m1 0h0m6 0h0m-41 1h0m2 0h0m6 0h0m8 0h0m19 2h0m6 0h0m-45 1h0m21 0h0m7 0h0m-24 1h0m2 0h0m10 0h0m29 0h0m-56 1h0m38 0h0m14 0h0m6 0h0m-53 1h0m14 0h0m3 0h0m13 0h0m-28 1h0m9 0h0m28 0h0m3 1h0m-49 1h0m5 0h0m7 0h0m28 0h0m-11 1h0m12 0h0m10 0h0m-42 1h0m15 1h0m3 0h0m13 0h0m1 0h0m6 0h0m-44 1h0m28 0h0m11 0h0m-26 1h0m6 0h0m-15 1h0m6 0h0m22 0h0m-34 1h0m29 0h0m18 0h0m-39 1h0m14 0h0m27 0h0m-4 1h0m-34 1h0m19 0h0m5 0h0m15 0h0m-46 1h0m12 0h0m10 0h0m14 0h0m4 0h0m-33 1h0m15 0h0m9 1h0m-24 1h0m48 1h0m-31 2h0m1 0h0m5 1h0m22 0h0m-31 1h0m26 0h0m-48 2h0m3 0h0m14 0h0m-6 2h0m32 0h0m18 1h0m-13 2h0m-30 1h0m-4 1h0m37 2h0m13 0h0m-50 1h0m47 2h0m-115 2h0m6 0h0m96 0h0m4 0h0m27 1h0m-14 1h0m14 0h0m6 0h0m-20 1h0m21 0h0m-39 1h0m-98 1h0m118 2h0m16 0h0m-134 1h0m112 0h0m8 0h0m-47 1h0m44 0h0m3 1h0m21 0h0m-26 1h0m1 1h0m-117 1h0m3 0h0m98 0h0m9 0h0m2 0h0m20 0h0m-12 1h0m20 1h0m-143 1h0m122 0h0m-26 1h0m8 0h0m31 0h0m-10 1h0m8 0h0m9 0h0m-144 1h0m2 0h0m113 0h0m22 0h0m-29 1h0m-98 1h0m109 0h0m1 0h0m9 0h0m-35 1h0m45 0h0m-136 1h0m1 0h0m87 1h0m4 0h0m8 1h0m-97 1h0m83 0h0m43 0h0m1 0h0m-35 1h0m24 0h0m-29 1h0m-5 1h0m58 0h0m-24 1h0m3 0h0m4 0h0m8 0h0m9 0h0m-40 1h0m-10 1h0m37 0h0m-25 1h0m1 0h0m5 0h0m8 0h0m-16 1h0m8 0h0m21 0h0m-47 2h0m2 0h0m37 0h0m3 0h0m-38 1h0m38 0h0m8 0h0m-221 1h0m170 0h0m15 0h0m173 0h0m-180 1h0m20 0h0m3 0h0m-207 1h0m2 0h0m72 1h0m78 0h0m43 0h0m6 0h0m4 0h0m4 0h0m-20 1h0m179 0h0m-166 1h0m10 0h0m-70 1h0m9 0h0m25 0h0m24 0h0m25 0h0m-161 1h0m-2 1h0m148 0h0m-187 1h0m137 0h0m4 0h0m-27 1h0m10 0h0m35 1h0m-12 1h0m-163 1h0m137 1h0m11 0h0m1 3h0m1 1h0m30 3h0m-39 1h0m11 0h0m-14 2h0m10 0h0m29 0h0m-36 1h0m-5 1h0m34 0h0m40 1h0m-65 1h0m14 0h0m5 1h0m-32 1h0m76 0h0m-10 3h0m-48 1h0m-7 1h0m-4 1h0m1 1h0m3 0h0m54 0h0m-52 1h0m59 0h0m-52 1h0m60 0h0m-74 1h0m9 0h0m59 1h0m7 0h0m-6 1h0m9 0h0m-72 1h0m44 0h0m7 0h0m-16 2h0m36 0h0m-33 2h0m4 0h0m37 0h0m-10 2h0m0 1h0m-20 1h0m6 0h0m5 0h0m6 0h0m-141 1h0m10 1h0m109 0h0m29 0h0m-4 2h0m-156 1h0m142 0h0m6 1h0m11 1h0m0 0h0m-139 1h0m146 0h0m-136 2h0m131 0h0m-148 1h0m131 0h0m16 1h0m-136 1h0m9 0h0m110 0h0m13 2h0m4 2h0m-131 2h0m197 9h0m9 1h0m-198 2h0m9 0h0m177 1h0m-213 1h0m226 0h0m-239 1h0m46 0h0m182 0h0m6 0h0m-263 1h0m9 0h0m262 0h0m-265 1h0m40 0h0m3 0h0m2 0h0m-11 1h0m19 0h0m15 0h0m198 0h0m-243 1h0m15 0h0m10 0h0m183 0h0m32 1h0m-241 1h0m7 0h0m54 0h0m157 0h0m3 0h0m-199 1h0m4 0h0m2 0h0m8 0h0m-54 1h0m29 0h0m29 0h0m178 0h0m-201 2h0m4 0h0m17 1h0m12 0h0m175 0h0m-167 1h0m162 0h0m5 0h0m6 0h0m-212 1h0m206 0h0m4 0h0m-167 1h0m166 0h0m14 0h0m-210 1h0m17 0h0m170 0h0m5 1h0m8 0h0m-209 1h0m5 0h0m194 0h0m15 0h0m-197 1h0m3 0h0m1 0h0m178 0h0m-202 1h0m17 1h0m2 0h0m13 0h0m157 0h0m12 0h0m20 0h0m-53 1h0m1 0h0m7 0h0m36 0h0m-25 1h0m20 0h0m-190 1h0m163 0h0m18 0h0m-1 1h0m-181 1h0m163 0h0m11 0h0m-184 1h0m194 0h0m2 0h0m-16 2h0m-194 1h0m14 0h0m198 0h0m-11 1h0m5 0h0m-41 1h0m52 0h0m-31 1h0m36 0h0m-30 1h0m-182 1h0m189 0h0m5 0h0m-4 1h0m19 0h0m-25 1h0m36 0h0m-23 1h0m7 0h0m-10 2h0m-12 1h0m-7 1h0m3 1h0m8 3h0m23 2h0m-30 1h0m0 0h0m-15 37h0m-13 21h0m4 1h0"/>
<path stroke="#68c671" d="M919 1028h0m12 2h0m-24 1h0m15 0h0m-21 1h0m26 0h0m-9 1h0m5 0h0m13 0h0m-1 1h0m9 0h0m-23 2h0m24 1h0m-51 1h0m1 0h0m4 0h0m2 1h0m-8 1h0m39 0h0m18 0h0m-47 1h0m30 0h0m3 1h0m11 0h0m-17 1h0m-39 1h0m9 0h0m15 0h0m1 0h0m15 0h0m3 0h0m0 0h0m11 0h0m-41 1h0m7 0h0m-14 1h0m24 0h0m7 0h0m8 0h0m-42 1h0m25 0h0m15 0h0m-42 1h0m40 0h0m-3 1h0m7 0h0m1 0h0m-22 1h0m-10 1h0m10 0h0m-10 1h0m27 0h0m8 0h0m-20 1h0m12 0h0m-18 1h0m1 0h0m2 0h0m1 1h0m-16 1h0m20 0h0m2 0h0m8 0h0m13 0h0m2 0h0m1 0h0m-53 1h0m23 0h0m28 1h0m-40 1h0m-17 1h0m56 0h0m-50 1h0m7 0h0m9 0h0m26 0h0m1 0h0m-43 1h0m25 0h0m2 0h0m-37 1h0m8 0h0m11 0h0m12 0h0m-20 1h0m-2 1h0m6 0h0m5 0h0m19 1h0m4 1h0m10 0h0m-36 1h0m8 0h0m-25 1h0m20 0h0m-11 1h0m5 0h0m23 1h0m-8 1h0m-31 1h0m24 0h0m7 0h0m16 0h0m13 1h0m-46 1h0m6 0h0m2 0h0m12 1h0m7 0h0m-33 1h0m10 0h0m-4 2h0m7 1h0m54 0h0m-47 1h0m2 1h0m43 1h0m-44 1h0m46 0h0m-51 1h0m37 0h0m3 5h0m22 0h0m-2 1h0m-128 1h0m115 0h0m9 0h0m-120 1h0m89 0h0m37 0h0m-128 2h0m120 1h0m-116 2h0m-6 1h0m127 0h0m5 0h0m19 0h0m-150 1h0m-6 1h0m84 0h0m-79 2h0m85 0h0m22 0h0m16 0h0m-41 1h0m57 0h0m6 0h0m-19 2h0m26 0h0m-151 1h0m3 1h0m100 0h0m12 0h0m-115 1h0m102 0h0m25 0h0m7 0h0m3 1h0m-138 2h0m81 0h0m23 0h0m16 0h0m11 0h0m-125 1h0m84 0h0m10 1h0m21 0h0m-111 1h0m81 0h0m33 0h0m-28 1h0m38 0h0m12 0h0m-149 1h0m95 0h0m11 0h0m1 0h0m31 0h0m3 0h0m-36 2h0m34 0h0m6 0h0m-48 1h0m26 0h0m-15 1h0m20 0h0m-11 1h0m14 0h0m-40 3h0m13 0h0m21 1h0m-7 1h0m-14 1h0m-181 1h0m61 0h0m8 0h0m104 0h0m-5 1h0m-166 1h0m181 0h0m-189 1h0m198 0h0m-191 1h0m54 0h0m9 0h0m117 0h0m14 0h0m13 0h0m-140 1h0m104 0h0m-167 1h0m69 0h0m-24 1h0m-53 1h0m70 0h0m90 0h0m15 1h0m-182 1h0m196 0h0m-177 1h0m119 0h0m82 0h0m139 0h0m-356 1h0m4 0h0m-1 2h0m7 0h0m2 0h0m-3 1h0m128 0h0m-135 1h0m144 1h0m-128 1h0m142 0h0m1 3h0m26 3h0m-28 1h0m26 1h0m-32 2h0m-5 2h0m46 0h0m-21 2h0m-31 1h0m62 1h0m-61 1h0m34 3h0m19 1h0m-33 1h0m56 0h0m-65 3h0m41 1h0m22 0h0m-68 1h0m50 0h0m-126 4h0m113 0h0m0 0h0m6 0h0m-10 1h0m30 0h0m-138 2h0m132 1h0m1 1h0m16 0h0m3 0h0m-13 1h0m-20 1h0m-2 1h0m12 0h0m6 0h0m-140 1h0m128 0h0m6 0h0m11 1h0m-159 1h0m161 0h0m10 0h0m-26 1h0m8 1h0m7 0h0m1 0h0m5 0h0m-25 1h0m10 0h0m-121 1h0m116 0h0m-120 3h0m132 0h0m-131 1h0m4 0h0m-15 1h0m2 0h0m13 0h0m-23 2h0m32 0h0m-24 1h0m19 1h0m-62 1h0m38 0h0m3 0h0m2 2h0m-44 1h0m42 0h0m1 2h0m-4 3h0m35 0h0m187 0h0m-257 1h0m43 0h0m35 0h0m182 0h0m-231 1h0m32 0h0m22 0h0m173 0h0m2 0h0m4 0h0m-207 1h0m-44 1h0m17 0h0m6 0h0m36 0h0m176 0h0m-245 1h0m25 0h0m220 0h0m-218 1h0m6 0h0m228 0h0m-275 1h0m50 0h0m3 0h0m7 0h0m11 0h0m19 0h0m-69 1h0m242 0h0m-250 1h0m67 0h0m188 1h0m-243 1h0m15 0h0m24 0h0m196 0h0m-197 1h0m190 0h0m9 0h0m2 0h0m16 0h0m-230 1h0m40 0h0m185 0h0m2 0h0m6 1h0m-247 1h0m16 0h0m215 0h0m8 0h0m-240 1h0m235 0h0m7 0h0m-263 1h0m64 0h0m190 0h0m4 0h0m2 0h0m-240 1h0m228 0h0m1 0h0m2 0h0m-202 1h0m202 1h0m-245 1h0m77 0h0m156 0h0m1 0h0m4 0h0m23 0h0m-268 1h0m58 0h0m201 0h0m-207 2h0m6 0h0m183 2h0m6 0h0m-245 1h0m238 0h0m16 0h0m-176 1h0m-24 1h0m194 0h0m4 0h0m-220 1h0m184 0h0m15 0h0m2 0h0m14 0h0m-199 1h0m210 0h0m-19 1h0m17 0h0m2 0h0m8 0h0m-14 1h0m-33 1h0m19 0h0m5 0h0m11 0h0m-37 1h0m19 0h0m11 0h0m-22 1h0m27 0h0m7 0h0m-22 1h0m-13 1h0m2 1h0m32 0h0m-36 1h0m7 0h0m18 0h0m-249 1h0m230 0h0m19 0h0m4 0h0m5 0h0m6 0h0m-7 2h0m-248 2h0m226 2h0m-21 61h0m-17 7h0"/>
<path stroke="#74ca6b" d="M906 1030h0m14 1h0m-12 1h0m8 0h0m10 0h0m18 1h0m-42 1h0m16 1h0m7 0h0m1 0h0m-32 1h0m16 0h0m35 0h0m-36 1h0m39 0h0m1 0h0m-20 1h0m3 0h0m7 0h0m-41 1h0m38 1h0m6 0h0m5 0h0m-53 1h0m20 0h0m-16 1h0m13 0h0m16 0h0m11 1h0m6 0h0m-29 1h0m4 0h0m18 0h0m-33 1h0m9 2h0m17 0h0m-3 1h0m11 0h0m-43 1h0m2 0h0m33 0h0m-11 1h0m-10 1h0m16 0h0m1 0h0m1 0h0m11 0h0m11 0h0m2 0h0m-48 1h0m8 0h0m17 0h0m-39 1h0m49 0h0m4 0h0m-52 2h0m18 1h0m2 0h0m39 0h0m-53 1h0m3 0h0m24 0h0m-29 1h0m0 0h0m47 0h0m-60 1h0m39 0h0m28 0h0m-69 1h0m4 0h0m6 0h0m2 0h0m5 0h0m3 0h0m-19 1h0m7 0h0m2 0h0m15 0h0m5 0h0m8 0h0m8 0h0m8 0h0m-7 1h0m9 0h0m10 0h0m-64 1h0m27 0h0m-10 1h0m26 0h0m6 0h0m6 0h0m1 0h0m-56 1h0m17 0h0m9 0h0m25 0h0m3 0h0m-39 1h0m5 0h0m-20 1h0m11 0h0m7 0h0m4 1h0m6 0h0m-9 1h0m6 0h0m41 0h0m-63 1h0m1 0h0m3 0h0m-5 1h0m20 0h0m21 0h0m3 0h0m-40 1h0m15 0h0m23 0h0m2 0h0m-39 1h0m3 0h0m6 0h0m16 0h0m-21 1h0m38 0h0m-12 1h0m-5 1h0m32 2h0m-39 1h0m-7 1h0m10 0h0m32 1h0m1 1h0m-3 2h0m-30 2h0m39 1h0m20 2h0m-11 1h0m2 3h0m6 0h0m3 0h0m-30 1h0m33 0h0m4 0h0m-133 3h0m105 0h0m9 0h0m12 1h0m-49 1h0m57 2h0m7 0h0m-145 1h0m-4 1h0m91 1h0m-90 2h0m108 0h0m-106 1h0m80 0h0m5 0h0m27 0h0m31 0h0m-56 1h0m16 0h0m8 0h0m-114 3h0m126 0h0m-117 2h0m133 1h0m-131 1h0m103 1h0m4 0h0m-90 1h0m89 0h0m-118 4h0m-3 1h0m1 0h0m0 0h0m93 3h0m12 1h0m19 0h0m6 0h0m-20 1h0m17 1h0m12 0h0m-45 1h0m22 0h0m10 0h0m-135 1h0m-59 1h0m168 1h0m183 0h0m-356 3h0m173 0h0m-119 1h0m9 0h0m-61 1h0m159 0h0m-149 1h0m57 0h0m6 0h0m81 0h0m-93 1h0m85 1h0m68 0h0m139 0h0m-280 1h0m275 0h0m-342 1h0m9 0h0m60 1h0m53 2h0m-132 2h0m3 1h0m179 0h0m-51 1h0m10 4h0m30 7h0m-20 3h0m51 0h0m15 10h0m-25 4h0m15 1h0m-22 1h0m18 0h0m14 0h0m-140 2h0m123 0h0m13 0h0m9 0h0m-150 2h0m4 1h0m131 0h0m-141 1h0m-2 1h0m14 0h0m136 0h0m-137 1h0m114 0h0m21 0h0m-145 1h0m8 1h0m7 0h0m-24 1h0m2 0h0m19 0h0m129 0h0m-135 1h0m-7 1h0m129 0h0m12 0h0m4 0h0m-151 1h0m0 0h0m4 0h0m2 0h0m153 1h0m-150 1h0m3 0h0m140 0h0m5 0h0m-133 1h0m119 0h0m-146 1h0m29 1h0m-25 1h0m30 0h0m115 0h0m-149 1h0m5 0h0m26 0h0m5 0h0m-51 2h0m38 0h0m2 0h0m-59 1h0m-4 2h0m47 0h0m23 1h0m-28 1h0m224 1h0m1 0h0m-197 1h0m198 0h0m-12 2h0m-264 2h0m12 0h0m274 0h0m-231 1h0m27 0h0m187 0h0m16 0h0m-279 1h0m255 0h0m14 0h0m6 0h0m-221 1h0m-44 1h0m16 0h0m242 0h0m3 0h0m-2 1h0m-229 1h0m13 0h0m191 0h0m13 0h0m-252 1h0m9 0h0m265 0h0m-236 2h0m6 0h0m214 0h0m12 0h0m-222 1h0m208 0h0m7 0h0m-255 1h0m59 0h0m197 0h0m-224 1h0m5 0h0m10 0h0m-39 1h0m8 0h0m9 0h0m23 0h0m209 0h0m-249 1h0m24 0h0m22 0h0m207 1h0m-255 1h0m2 0h0m15 1h0m213 0h0m19 0h0m-267 1h0m249 0h0m3 0h0m8 0h0m9 0h0m6 0h0m-232 2h0m223 0h0m-246 1h0m17 0h0m7 0h0m188 0h0m9 0h0m7 0h0m4 0h0m13 0h0m4 0h0m-11 1h0m-227 1h0m-4 1h0m239 0h0m1 0h0m-271 1h0m68 0h0m199 0h0m11 0h0m-47 1h0m14 0h0m19 0h0m-21 1h0m-187 1h0m5 0h0m-8 1h0m8 0h0m5 0h0m174 0h0m22 0h0m-4 1h0m11 0h0m1 0h0m-216 1h0m8 0h0m6 0h0m167 0h0m25 0h0m12 1h0m-262 1h0m54 0h0m192 1h0m3 0h0m19 0h0m-217 1h0m-42 1h0m6 0h0m225 0h0m9 0h0m7 0h0m13 0h0m-224 1h0m200 0h0m-229 1h0m217 4h0m-5 5h0"/>
<path stroke="#82ce62" d="M905 1032h0m9 0h0m34 1h0m-30 1h0m4 0h0m-26 1h0m1 0h0m6 0h0m17 0h0m10 0h0m1 0h0m-16 1h0m24 0h0m9 0h0m-27 1h0m-19 1h0m3 1h0m2 0h0m11 0h0m-5 1h0m-16 3h0m7 2h0m15 0h0m10 0h0m11 0h0m-2 1h0m5 0h0m8 0h0m-40 1h0m32 0h0m-6 1h0m9 0h0m-51 1h0m16 0h0m31 0h0m-44 1h0m-8 1h0m7 0h0m24 0h0m-29 1h0m45 0h0m-11 1h0m-18 1h0m13 0h0m15 0h0m-22 2h0m29 0h0m-38 1h0m25 0h0m-45 1h0m1 0h0m30 0h0m27 1h0m-28 1h0m14 0h0m-10 1h0m11 0h0m-23 1h0m6 0h0m16 0h0m-37 1h0m9 1h0m2 0h0m39 0h0m-45 1h0m11 0h0m-25 1h0m3 0h0m39 1h0m-44 1h0m2 0h0m5 1h0m7 0h0m5 0h0m33 0h0m-12 1h0m4 0h0m-33 1h0m14 0h0m12 0h0m-25 1h0m15 0h0m-10 1h0m6 0h0m2 0h0m4 0h0m-17 1h0m28 0h0m2 0h0m-10 1h0m-5 2h0m-9 1h0m7 4h0m51 1h0m-50 2h0m-64 5h0m98 0h0m-101 3h0m79 0h0m-84 2h0m128 0h0m5 1h0m-131 1h0m138 0h0m-142 2h0m124 1h0m-33 1h0m-81 2h0m-6 1h0m128 0h0m-119 2h0m-12 3h0m147 1h0m-144 2h0m2 2h0m0 3h0m-5 1h0m104 1h0m41 0h0m-30 1h0m6 1h0m-5 1h0m-116 2h0m140 1h0m-142 1h0m-2 1h0m-69 1h0m64 2h0m114 0h0m-174 1h0m-10 1h0m3 0h0m6 0h0m61 0h0m286 0h0m-352 1h0m2 0h0m66 0h0m-70 1h0m58 0h0m301 0h0m-357 1h0m59 0h0m-5 1h0m10 0h0m-62 2h0m172 0h0m-167 1h0m-15 1h0m20 0h0m60 0h0m-70 1h0m65 0h0m-58 1h0m66 1h0m-68 2h0m146 0h0m-154 1h0m4 0h0m207 32h0m-140 2h0m-9 1h0m127 1h0m-117 1h0m147 1h0m-160 1h0m143 0h0m-131 1h0m-18 1h0m161 0h0m-157 1h0m11 0h0m-4 1h0m4 0h0m10 0h0m118 2h0m22 0h0m-164 1h0m14 0h0m-13 1h0m30 0h0m124 1h0m-140 1h0m133 0h0m-141 1h0m-1 1h0m10 0h0m13 0h0m-5 2h0m133 0h0m-154 1h0m26 2h0m-26 1h0m7 0h0m22 0h0m4 0h0m-11 1h0m7 0h0m-6 1h0m-67 1h0m20 1h0m2 0h0m45 0h0m-50 2h0m7 0h0m237 1h0m17 2h0m-275 1h0m7 0h0m3 1h0m42 0h0m3 0h0m220 0h0m-260 1h0m25 0h0m217 1h0m8 0h0m-224 1h0m-10 1h0m231 0h0m8 0h0m8 0h0m-263 1h0m26 0h0m239 0h0m-276 1h0m16 0h0m16 0h0m14 0h0m218 0h0m16 0h0m-262 1h0m238 0h0m11 0h0m-218 1h0m210 0h0m4 0h0m-261 1h0m38 0h0m-29 1h0m2 0h0m231 0h0m8 0h0m6 0h0m3 0h0m-253 1h0m261 0h0m4 0h0m-281 1h0m20 0h0m-14 1h0m34 2h0m-39 1h0m18 1h0m15 0h0m237 0h0m11 0h0m-279 1h0m27 0h0m12 1h0m235 0h0m-279 1h0m252 0h0m-241 1h0m1 0h0m3 0h0m16 0h0m2 0h0m236 0h0m0 0h0m16 0h0m-267 1h0m235 0h0m-245 1h0m3 1h0m228 0h0m34 0h0m-267 1h0m2 0h0m6 0h0m34 0h0m20 0h0m190 0h0m12 0h0m14 0h0m-262 1h0m3 0h0m226 0h0m21 0h0m-218 1h0m8 0h0m5 0h0m9 0h0m195 0h0m6 0h0m3 0h0m-264 1h0m8 0h0m261 0h0m-269 1h0m24 0h0m214 0h0m11 0h0m-244 1h0m38 0h0m219 0h0m2 0h0m-17 1h0m13 0h0m5 0h0m-266 1h0m19 0h0m21 0h0m6 0h0m217 0h0m5 0h0m-269 1h0m15 0h0m239 0h0m-198 1h0m186 0h0m10 0h0m6 0h0m-261 1h0m5 0h0m42 0h0m202 0h0m23 0h0m-15 2h0m3 1h0m-29 4h0m1 5h0m0 2h0"/>
<path stroke="#90d259" d="M912 1034h0m-7 1h0m30 0h0m10 0h0m-43 1h0m9 0h0m12 0h0m16 0h0m2 1h0m-18 2h0m10 0h0m-27 1h0m21 1h0m-18 4h0m18 0h0m18 0h0m-37 1h0m18 0h0m-11 2h0m6 1h0m14 0h0m5 0h0m10 0h0m-44 1h0m22 0h0m-35 1h0m11 2h0m20 0h0m-31 1h0m9 0h0m44 0h0m-34 1h0m-30 1h0m1 1h0m6 1h0m2 0h0m32 0h0m-37 2h0m38 0h0m18 0h0m-60 1h0m52 0h0m6 0h0m-46 1h0m4 0h0m1 0h0m-11 1h0m6 1h0m18 0h0m15 0h0m-33 1h0m35 0h0m-50 2h0m8 0h0m53 0h0m-37 2h0m-13 2h0m5 0h0m2 0h0m7 0h0m16 0h0m10 0h0m2 1h0m-27 1h0m-9 1h0m11 1h0m0 0h0m-18 1h0m15 2h0m37 1h0m-50 1h0m12 0h0m8 5h0m-6 1h0m10 10h0m4 0h0m-83 2h0m9 2h0m73 1h0m1 2h0m2 3h0m-78 4h0m-7 6h0m9 1h0m108 6h0m-186 1h0m60 4h0m-70 2h0m54 1h0m159 0h0m-159 2h0m-48 1h0m3 0h0m-12 1h0m63 0h0m12 0h0m1 0h0m-81 1h0m13 0h0m46 0h0m19 0h0m-62 1h0m46 1h0m1 0h0m10 1h0m-4 1h0m-50 1h0m53 0h0m-70 1h0m9 0h0m15 0h0m37 0h0m-48 2h0m7 0h0m-11 3h0m192 9h0m-125 22h0m-4 3h0m8 3h0m-14 2h0m10 0h0m9 0h0m-26 2h0m8 0h0m11 0h0m6 0h0m142 1h0m-139 1h0m-26 1h0m21 0h0m129 0h0m2 0h0m-133 1h0m4 0h0m9 0h0m-32 1h0m25 0h0m-7 1h0m2 0h0m142 0h0m-133 2h0m-26 1h0m15 1h0m-12 1h0m13 0h0m9 0h0m5 0h0m127 0h0m-146 2h0m-48 1h0m55 0h0m-61 1h0m53 0h0m-9 1h0m1 0h0m3 3h0m11 0h0m-43 1h0m-5 1h0m55 0h0m-58 1h0m6 0h0m253 0h0m13 0h0m-26 1h0m16 0h0m5 0h0m8 0h0m-280 1h0m5 0h0m36 0h0m233 0h0m-267 1h0m9 0h0m4 0h0m10 0h0m9 0h0m24 1h0m216 0h0m-261 1h0m-25 1h0m2 0h0m30 0h0m236 0h0m-232 1h0m18 0h0m-29 1h0m5 0h0m257 0h0m3 0h0m-276 1h0m258 0h0m10 0h0m-232 1h0m-10 1h0m232 0h0m10 0h0m4 0h0m-262 1h0m-10 1h0m26 0h0m11 0h0m4 0h0m227 0h0m-276 1h0m6 0h0m-7 1h0m32 0h0m4 0h0m-29 1h0m1 1h0m6 0h0m266 1h0m-23 1h0m23 0h0m-246 1h0m6 0h0m4 0h0m219 0h0m12 0h0m-279 1h0m11 0h0m0 0h0m14 0h0m11 0h0m3 0h0m0 1h0m228 0h0m12 0h0m2 0h0m-263 1h0m7 0h0m39 0h0m-60 1h0m9 0h0m-12 1h0m8 0h0m4 1h0m13 0h0m251 0h0m-269 1h0m275 0h0m1 0h0m-269 1h0m5 0h0m24 0h0m31 0h0m-65 1h0m32 0h0m234 0h0m3 0h0m-263 1h0m56 0h0m-44 1h0m43 0h0m-10 1h0m7 0h0m-15 1h0m19 0h0m-55 1h0m13 0h0m20 0h0m15 0h0m186 0h0m25 0h0m-224 1h0m4 0h0m231 0h0m-231 1h0m207 0h0m-246 1h0m-2 1h0m10 0h0m4 0h0m24 0h0m222 1h0m-256 1h0m256 0h0m4 0h0m-257 1h0m254 1h0m-254 1h0m253 0h0m3 0h0m-261 2h0m3 0h0m-4 1h0m230 0h0m-2 6h0"/>
<path stroke="#9ed551" d="M918 1038h0m-15 2h0m42 0h0m-41 1h0m31 0h0m-10 1h0m-13 3h0m-22 4h0m27 1h0m5 2h0m-35 4h0m11 0h0m44 0h0m4 0h0m-57 2h0m0 0h0m-6 1h0m21 1h0m11 1h0m32 0h0m-50 3h0m-6 1h0m-2 1h0m9 0h0m3 0h0m13 2h0m-24 1h0m4 0h0m32 2h0m-42 1h0m20 1h0m-5 1h0m3 1h0m18 0h0m-29 1h0m8 0h0m21 0h0m-12 2h0m-4 3h0m8 0h0m-5 1h0m2 0h0m-3 8h0m13 1h0m52 0h0m-135 9h0m84 2h0m-86 3h0m9 1h0m-2 6h0m-4 1h0m146 3h0m0 2h0m-17 2h0m-132 2h0m-4 2h0m-1 1h0m-13 4h0m4 0h0m8 1h0m-14 1h0m6 0h0m-54 1h0m50 0h0m-5 3h0m14 0h0m1 0h0m-75 1h0m64 0h0m-48 1h0m52 0h0m-67 1h0m3 0h0m15 0h0m44 0h0m298 0h0m-341 1h0m41 0h0m-46 2h0m0 1h0m3 0h0m42 0h0m-49 2h0m-9 1h0m16 1h0m61 32h0m-7 1h0m11 0h0m-17 4h0m-3 2h0m2 1h0m20 0h0m130 0h0m-147 1h0m4 3h0m10 0h0m-25 1h0m143 0h0m-136 2h0m8 0h0m3 1h0m7 0h0m126 0h0m-142 1h0m6 0h0m24 0h0m-27 3h0m3 0h0m10 0h0m-12 2h0m16 1h0m8 0h0m-19 1h0m-32 2h0m20 0h0m6 0h0m-46 1h0m0 1h0m21 0h0m21 0h0m33 0h0m-70 1h0m7 0h0m-12 2h0m14 1h0m28 0h0m229 0h0m7 1h0m-275 1h0m22 0h0m-9 1h0m5 0h0m1 1h0m13 1h0m243 0h0m-5 1h0m-270 1h0m10 0h0m267 0h0m-245 1h0m238 0h0m-281 2h0m38 0h0m-2 1h0m7 0h0m234 1h0m3 1h0m-244 1h0m-31 1h0m5 0h0m15 0h0m12 0h0m-6 1h0m13 0h0m235 0h0m-274 1h0m39 0h0m-21 1h0m6 0h0m5 0h0m-10 2h0m9 3h0m32 0h0m188 0h0m15 0h0m-242 1h0m18 0h0m241 0h0m-278 1h0m14 0h0m18 0h0m8 0h0m-20 1h0m255 0h0m-276 1h0m67 0h0m2 0h0m-38 1h0m8 0h0m222 0h0m-238 1h0m-22 1h0m15 0h0m17 0h0m-23 1h0m7 0h0m9 0h0m12 0h0m-25 1h0m16 0h0m-25 1h0m23 0h0m-4 1h0m5 0h0m3 0h0m0 1h0m-12 1h0m5 0h0m251 0h0m-270 1h0m40 0h0m9 0h0m-27 2h0m231 0h0m16 0h0m-8 1h0m-243 1h0m-2 3h0m-2 1h0m-1 1h0"/>
<path stroke="#add846" d="M921 1039h0m19 1h0m-45 15h0m16 4h0m-32 4h0m7 2h0m9 0h0m4 0h0m4 2h0m9 1h0m-8 4h0m-16 1h0m17 8h0m7 5h0m-2 2h0m-1 3h0m-68 7h0m-4 1h0m83 2h0m-2 3h0m-77 1h0m82 0h0m-92 7h0m-2 11h0m-8 4h0m-66 3h0m4 0h0m54 1h0m-53 2h0m-9 1h0m2 0h0m62 1h0m5 0h0m-55 1h0m-15 1h0m8 0h0m60 0h0m7 1h0m-66 1h0m-1 1h0m6 0h0m59 0h0m-64 1h0m14 0h0m41 1h0m-58 2h0m3 1h0m-5 3h0m78 31h0m-16 1h0m10 1h0m3 0h0m2 0h0m-15 2h0m10 0h0m7 0h0m-4 2h0m-4 1h0m15 2h0m-21 3h0m12 0h0m-2 1h0m11 1h0m-23 1h0m153 0h0m-161 1h0m153 0h0m-142 1h0m10 0h0m-9 1h0m10 2h0m11 3h0m-68 1h0m8 0h0m4 0h0m60 0h0m-18 1h0m-47 1h0m6 0h0m50 0h0m-47 2h0m-7 1h0m3 1h0m8 1h0m7 0h0m14 0h0m-33 1h0m-12 1h0m2 0h0m14 0h0m2 0h0m3 0h0m-20 2h0m16 0h0m7 0h0m-21 2h0m20 0h0m10 0h0m254 0h0m-268 1h0m1 0h0m-11 1h0m28 0h0m-4 1h0m-6 1h0m-29 1h0m16 0h0m5 0h0m6 0h0m5 0h0m3 0h0m3 0h0m12 0h0m-47 1h0m28 0h0m6 0h0m1 0h0m247 0h0m-267 1h0m27 0h0m-19 1h0m-16 1h0m248 0h0m-239 1h0m12 0h0m253 0h0m-273 1h0m5 0h0m17 0h0m6 0h0m-34 1h0m18 0h0m37 0h0m-55 1h0m10 0h0m268 0h0m-283 1h0m27 0h0m-12 1h0m31 0h0m-8 1h0m-15 1h0m11 0h0m-27 1h0m5 0h0m15 0h0m251 0h0m-257 1h0m53 0h0m189 0h0m-258 1h0m16 0h0m265 0h0m-264 1h0m8 0h0m254 1h0m3 0h0m-281 1h0m13 0h0m14 0h0m248 0h0m-254 1h0m2 0h0m-13 1h0m25 0h0m240 0h0m3 0h0m-249 1h0m4 0h0m-17 2h0m15 0h0m12 0h0m10 0h0m11 0h0m197 0h0m-259 1h0m59 1h0m2 0h0m-35 1h0m-19 1h0m10 3h0m-5 1h0m8 1h0m-16 1h0m14 0h0m4 1h0m237 0h0m-235 1h0m-11 1h0"/>
<path stroke="#bbda3d" d="M897 1042h0m4 3h0m30 1h0m-20 5h0m-20 11h0m6 7h0m2 4h0m12 14h0m5 1h0m-71 6h0m-15 30h0m-71 3h0m3 2h0m57 2h0m3 2h0m-12 1h0m9 0h0m10 0h0m-75 1h0m62 3h0m5 45h0m-3 2h0m3 4h0m-11 1h0m7 0h0m3 1h0m26 1h0m-27 1h0m24 1h0m-8 2h0m8 0h0m6 0h0m-22 2h0m-2 1h0m15 1h0m-2 2h0m-61 1h0m-6 2h0m8 0h0m2 1h0m13 1h0m24 0h0m-38 1h0m18 0h0m-21 1h0m14 0h0m0 0h0m6 0h0m-26 1h0m12 0h0m16 0h0m-27 1h0m25 1h0m10 1h0m221 0h0m15 0h0m-266 1h0m22 0h0m0 0h0m-23 1h0m29 0h0m-35 1h0m-1 2h0m10 0h0m3 0h0m249 0h0m-259 1h0m4 0h0m28 0h0m-33 1h0m2 0h0m18 0h0m-16 1h0m-2 1h0m4 0h0m23 0h0m-35 1h0m19 0h0m36 0h0m-37 1h0m12 0h0m248 2h0m-237 1h0m-20 2h0m12 0h0m4 0h0m2 0h0m-32 1h0m9 0h0m1 0h0m6 1h0m24 0h0m-16 2h0m-8 1h0m2 0h0m14 0h0m243 0h0m-278 1h0m40 1h0m4 0h0m-6 2h0m-29 1h0m29 0h0m235 0h0m11 1h0m-267 1h0m28 0h0m232 0h0m-267 1h0m49 0h0m213 0h0m-260 1h0m62 0h0m-62 1h0m11 0h0m18 0h0m241 1h0m-253 2h0m-9 1h0m11 0h0m-10 1h0m252 0h0m-257 1h0m17 0h0m-22 1h0m5 1h0m12 0h0m245 2h0m-256 1h0"/>
<path stroke="#cbdc35" d="M922 1070h0m-32 4h0m-67 55h0m6 2h0m2 1h0m2 1h0m-66 1h0m47 5h0m6 2h0m-48 1h0m46 0h0m-61 6h0m63 34h0m157 3h0m-151 2h0m-11 8h0m17 3h0m-52 4h0m-2 2h0m-1 2h0m64 0h0m-53 1h0m9 0h0m0 1h0m-23 1h0m4 1h0m25 1h0m-32 4h0m26 2h0m10 0h0m-24 1h0m11 1h0m-17 1h0m-4 1h0m34 4h0m1 0h0m-11 2h0m-21 2h0m19 1h0m7 1h0m-1 2h0m10 0h0m-4 1h0m-10 1h0m7 0h0m-13 2h0m8 0h0m7 0h0m-15 1h0m7 0h0m-22 2h0m274 0h0m-275 3h0m21 0h0m256 0h0m-223 1h0m-50 1h0m8 0h0m5 0h0m26 0h0m21 0h0m-50 1h0m1 1h0m2 0h0m37 0h0m3 0h0m-44 1h0m7 0h0m33 0h0m218 1h0m-263 2h0m2 2h0m8 0h0"/>
<path stroke="#d9de30" d="M895 1076h0m16 2h0m-94 55h0m0 4h0m-1 6h0m-63 3h0m71 38h0m-51 15h0m48 1h0m27 4h0m-60 1h0m-12 3h0m21 5h0m4 4h0m-6 1h0m5 0h0m-11 3h0m-19 2h0m8 0h0m7 0h0m11 0h0m256 0h0m-276 1h0m21 0h0m-23 3h0m14 2h0m-16 3h0m6 0h0m-3 2h0m8 2h0m23 1h0m-14 2h0m24 1h0m-11 2h0m2 2h0m-22 1h0m49 3h0"/>
<path stroke="#e8e033" d="M763 1141h0m50 60h0m-41 7h0m23 2h0m-21 2h0m-5 1h0m8 3h0m30 0h0m-27 6h0m37 0h0m-36 4h0m4 1h0m24 4h0m2 5h0m-31 1h0m10 16h0"/>
<path stroke="#f4e13b" d="M847 1194h0m-64 10h0m8 8h0m13 0h0m-23 4h0m-2 13h0m24 11h0m-23 2h0"/>
</g>
<g fill="none" stroke-linecap="round" stroke-width="1.7" transform="translate(.5 .5)" filter="url(#bl2)">
<path stroke="#561c63" d="M387 240h0m-156 27h0m109 48h0m140 6h0m-6 8h0m-309 9h0m-61 5h0m55 8h0m-11 9h0m246 11h0m-91 31h0m-164 3h0m47 1h0m207 2h0"/>
<path stroke="#57246b" d="M86 80h0m10 20h0m14 3h0m-3 5h0m11 1h0m-5 4h0m3 8h0m-10 7h0m-8 11h0m7 4h0m45 7h0m-39 7h0m-9 5h0m13 0h0m-4 7h0m12 2h0m-30 2h0m9 2h0m1 16h0m-8 12h0m272 7h0m-7 2h0m-250 26h0m93 2h0m145 6h0m-177 1h0m99 1h0m155 2h0m-21 6h0m32 1h0m-306 10h0m123 9h0m218 2h0m-158 3h0m84 0h0m38 1h0m9 0h0m-320 2h0m-27 1h0m193 1h0m11 0h0m143 1h0m-126 5h0m-90 12h0m-124 6h0m303 2h0m-274 2h0m149 2h0m-116 1h0m264 7h0m-44 3h0m37 0h0m-271 3h0m-15 1h0m27 2h0m277 0h0m4 0h0m-16 1h0m20 0h0m-329 2h0m6 0h0m79 0h0m241 0h0m-308 2h0m161 1h0m-145 3h0m302 0h0m-52 1h0m-19 1h0m79 0h0m-46 1h0m-289 3h0m9 0h0m278 0h0m-40 1h0m-272 1h0m325 0h0m-287 1h0m12 1h0m38 0h0m92 0h0m-149 3h0m-23 1h0m26 0h0m-17 1h0m12 1h0m235 0h0m-249 1h0m1 0h0m24 0h0m3 0h0m8 0h0m271 0h0m-307 1h0m-4 1h0m4 1h0m24 0h0m2 0h0m32 0h0m-50 1h0m-13 1h0m4 0h0m26 0h0m3 0h0m11 0h0m23 1h0m-76 1h0m29 0h0m3 0h0m-20 3h0m0 0h0m8 0h0m25 0h0m-20 1h0m-11 2h0m23 0h0m4 0h0m-26 1h0m298 0h0m-270 1h0m-14 1h0m3 0h0m253 0h0m-267 1h0m29 0h0m-36 2h0m18 0h0m18 0h0m-49 1h0m26 0h0m195 0h0m-199 1h0m16 0h0m201 0h0m-216 1h0m9 0h0m131 0h0m-107 2h0m254 2h0m-260 1h0m-35 1h0m9 1h0m215 0h0m73 0h0m-216 1h0m-83 2h0m4 0h0m65 0h0m-1 1h0m-68 2h0m15 0h0m2 0h0m-2 3h0m7 0h0m-4 1h0m15 2h0m-18 2h0m-17 3h0m26 5h0m15 1h0m-28 2h0m31 1h0m78 3h0m-107 4h0m47 0h0m-51 4h0m22 4h0m123 1h0m20 15h0"/>
<path stroke="#592d73" d="M120 95h0m-12 4h0m-1 3h0m-10 15h0m6 2h0m9 5h0m-9 3h0m10 0h0m13 0h0m-17 1h0m-7 1h0m-6 1h0m10 2h0m4 2h0m-19 1h0m21 0h0m54 0h0m44 0h0m-104 2h0m7 0h0m-22 1h0m4 0h0m13 0h0m-7 1h0m11 1h0m12 0h0m-16 1h0m8 1h0m-10 1h0m3 1h0m-14 3h0m-3 1h0m10 1h0m19 1h0m-24 1h0m-11 1h0m10 1h0m10 0h0m-15 1h0m12 1h0m-25 1h0m17 0h0m12 0h0m-10 2h0m4 0h0m13 0h0m7 0h0m-30 1h0m18 0h0m5 0h0m6 0h0m5 0h0m75 1h0m-108 1h0m27 0h0m-5 1h0m-24 1h0m28 0h0m11 0h0m-33 1h0m49 0h0m-13 1h0m-31 1h0m14 0h0m-15 1h0m3 0h0m13 0h0m-14 1h0m18 0h0m-9 1h0m11 1h0m3 2h0m-24 1h0m12 0h0m-19 1h0m27 0h0m17 0h0m3 0h0m-29 1h0m6 1h0m5 1h0m-4 1h0m9 0h0m7 0h0m-37 1h0m26 0h0m-39 1h0m12 0h0m2 2h0m1 0h0m22 0h0m53 0h0m-73 1h0m46 0h0m-57 1h0m9 0h0m29 0h0m-29 1h0m130 0h0m-121 1h0m18 0h0m-13 1h0m17 1h0m-40 2h0m36 0h0m-17 1h0m6 0h0m23 0h0m-12 1h0m-22 1h0m273 0h0m-263 1h0m-16 1h0m8 0h0m23 0h0m-24 1h0m7 1h0m193 0h0m52 1h0m-258 2h0m2 0h0m21 0h0m-17 1h0m5 0h0m-19 4h0m12 0h0m23 0h0m276 0h0m-285 1h0m-36 1h0m336 0h0m-312 1h0m8 0h0m3 0h0m2 0h0m8 0h0m-40 1h0m301 0h0m-263 2h0m120 0h0m-154 1h0m45 1h0m34 0h0m-58 1h0m25 0h0m-48 1h0m-5 2h0m50 0h0m-35 2h0m150 0h0m71 0h0m-231 1h0m28 0h0m12 1h0m264 1h0m-273 1h0m173 0h0m114 0h0m-11 1h0m-240 1h0m-31 1h0m283 0h0m-292 2h0m16 0h0m149 0h0m-116 1h0m-48 1h0m297 0h0m-315 1h0m41 0h0m-28 1h0m95 1h0m-87 1h0m200 1h0m-211 1h0m134 0h0m41 0h0m27 0h0m-203 1h0m288 1h0m-75 1h0m3 1h0m-146 1h0m92 0h0m124 1h0m-287 1h0m30 0h0m293 0h0m-312 1h0m184 0h0m-165 3h0m25 0h0m158 0h0m-188 1h0m121 0h0m89 0h0m79 0h0m-311 1h0m2 0h0m257 0h0m-257 2h0m55 1h0m232 1h0m-268 1h0m230 0h0m95 0h0m-79 1h0m-89 2h0m-161 1h0m28 0h0m34 0h0m98 3h0m80 1h0m14 0h0m26 0h0m-284 1h0m9 0h0m202 0h0m-187 1h0m6 0h0m-25 1h0m122 0h0m-140 1h0m260 1h0m-219 1h0m81 0h0m-119 1h0m22 0h0m223 0h0m-232 1h0m29 0h0m163 0h0m35 0h0m-205 1h0m292 0h0m-299 1h0m101 0h0m146 0h0m-275 1h0m18 0h0m27 0h0m17 0h0m-54 2h0m202 0h0m16 0h0m129 0h0m-128 1h0m112 0h0m-287 1h0m248 0h0m-276 1h0m324 0h0m16 0h0m-347 1h0m135 0h0m177 0h0m-108 1h0m-185 1h0m213 0h0m45 0h0m-98 1h0m-179 2h0m47 0h0m-39 1h0m18 0h0m102 0h0m-141 1h0m19 0h0m45 0h0m-63 1h0m27 1h0m-16 1h0m17 0h0m-4 2h0m21 0h0m318 1h0m-174 1h0m-44 3h0m167 0h0m47 0h0m-322 1h0m137 0h0m148 0h0m-5 1h0m-324 1h0m37 0h0m177 0h0m-253 1h0m40 1h0m281 0h0m-214 1h0m241 0h0m-305 1h0m115 0h0m75 0h0m-153 1h0m253 0h0m31 0h0m-198 2h0m115 0h0m-186 1h0m223 0h0m77 0h0m-154 1h0m44 0h0m38 0h0m81 0h0m-334 1h0m-43 1h0m36 0h0m33 0h0m193 0h0m64 0h0m-7 1h0m7 0h0m-336 2h0m54 0h0m6 1h0m10 0h0m-20 1h0m251 0h0m62 0h0m9 0h0m-327 1h0m32 0h0m-28 2h0m6 0h0m19 0h0m9 0h0m-17 1h0m4 0h0m13 1h0m279 0h0m15 0h0m-237 2h0m221 0h0m-322 1h0m96 0h0m233 0h0m-191 2h0m20 0h0m83 0h0m101 0h0m-13 1h0m13 0h0m-339 1h0m117 0h0m100 0h0m108 1h0m12 0h0m-363 1h0m41 0h0m10 0h0m85 1h0m216 0h0m-333 1h0m6 0h0m17 0h0m264 0h0m-264 1h0m17 0h0m137 0h0m124 0h0m18 0h0m-280 1h0m275 0h0m32 0h0m-348 1h0m13 0h0m303 0h0m-200 1h0m205 0h0m-287 1h0m-24 1h0m7 0h0m309 0h0m16 0h0m-343 1h0m29 0h0m252 0h0m29 0h0m15 0h0m-327 1h0m8 0h0m19 0h0m0 0h0m236 0h0m-273 1h0m2 0h0m20 0h0m188 0h0m75 0h0m16 0h0m-297 1h0m4 0h0m19 0h0m7 0h0m301 0h0m40 0h0m-393 1h0m60 0h0m60 0h0m239 0h0m-307 1h0m39 0h0m282 0h0m-347 1h0m20 0h0m296 0h0m11 0h0m28 0h0m-360 1h0m3 0h0m8 0h0m19 0h0m2 0h0m1 0h0m263 0h0m28 0h0m-343 1h0m20 0h0m10 0h0m10 0h0m4 0h0m12 0h0m3 0h0m17 0h0m264 0h0m3 0h0m9 0h0m-329 1h0m18 0h0m16 0h0m280 0h0m16 0h0m-346 1h0m10 0h0m12 0h0m6 0h0m1 0h0m3 0h0m8 0h0m11 0h0m11 0h0m287 0h0m-356 1h0m36 0h0m10 0h0m4 0h0m1 0h0m13 0h0m102 0h0m-142 1h0m10 0h0m5 0h0m10 0h0m3 0h0m0 0h0m19 0h0m5 0h0m292 0h0m-341 1h0m8 0h0m0 0h0m18 0h0m50 0h0m222 0h0m1 0h0m5 0h0m-325 1h0m34 0h0m5 0h0m38 0h0m175 0h0m68 0h0m19 0h0m3 0h0m-316 1h0m1 0h0m11 0h0m289 0h0m-303 1h0m6 0h0m5 0h0m15 0h0m262 0h0m3 0h0m-322 1h0m15 0h0m13 0h0m8 0h0m2 0h0m161 0h0m41 0h0m26 0h0m52 0h0m16 0h0m-323 1h0m20 0h0m5 0h0m8 0h0m4 0h0m2 0h0m254 0h0m18 0h0m-346 1h0m52 0h0m2 0h0m0 0h0m3 0h0m0 0h0m6 0h0m2 0h0m0 0h0m15 0h0m208 0h0m20 0h0m24 0h0m-302 1h0m8 0h0m6 0h0m0 0h0m19 0h0m27 0h0m3 0h0m-89 1h0m33 0h0m4 0h0m7 0h0m0 0h0m15 0h0m7 0h0m4 0h0m1 0h0m-46 1h0m37 0h0m1 0h0m6 0h0m2 0h0m5 0h0m7 0h0m2 0h0m9 0h0m0 0h0m73 0h0m156 0h0m3 0h0m42 0h0m-324 1h0m8 0h0m7 0h0m2 0h0m1 0h0m1 0h0m3 0h0m16 0h0m242 0h0m7 0h0m5 0h0m17 0h0m8 0h0m-328 1h0m7 0h0m5 0h0m4 0h0m7 0h0m1 0h0m1 0h0m0 0h0m3 0h0m3 0h0m187 0h0m81 0h0m18 0h0m31 0h0m-336 1h0m5 0h0m7 0h0m6 0h0m1 0h0m0 0h0m3 0h0m2 0h0m2 0h0m3 0h0m4 0h0m24 0h0m260 0h0m-299 1h0m7 0h0m5 0h0m3 0h0m1 0h0m0 0h0m6 0h0m237 0h0m9 0h0m-277 1h0m0 0h0m2 0h0m10 0h0m1 0h0m0 0h0m5 0h0m0 0h0m26 0h0m245 0h0m-296 1h0m13 0h0m1 0h0m13 0h0m8 0h0m9 0h0m216 0h0m44 0h0m-296 1h0m1 0h0m0 0h0m1 0h0m1 0h0m4 0h0m2 0h0m2 0h0m0 0h0m4 0h0m3 0h0m12 0h0m3 0h0m1 0h0m13 0h0m228 0h0m-284 1h0m2 0h0m7 0h0m0 0h0m8 0h0m3 0h0m10 0h0m4 0h0m7 0h0m226 0h0m35 0h0m1 0h0m14 0h0m-318 1h0m15 0h0m1 0h0m4 0h0m3 0h0m0 0h0m1 0h0m2 0h0m11 0h0m36 0h0m198 0h0m37 0h0m-313 1h0m9 0h0m0 0h0m3 0h0m2 0h0m1 0h0m7 0h0m1 0h0m8 0h0m8 0h0m261 0h0m26 0h0m-320 1h0m1 0h0m3 0h0m1 0h0m3 0h0m6 0h0m1 0h0m2 0h0m2 0h0m0 0h0m1 0h0m2 0h0m1 0h0m28 0h0m15 0h0m10 0h0m120 0h0m-183 1h0m1 0h0m3 0h0m5 0h0m2 0h0m1 0h0m4 0h0m9 0h0m5 0h0m-58 1h0m8 0h0m6 0h0m3 0h0m5 0h0m10 0h0m3 0h0m215 0h0m-236 1h0m5 0h0m3 0h0m9 0h0m2 0h0m1 0h0m5 0h0m6 0h0m1 0h0m223 0h0m23 0h0m36 0h0m-307 1h0m2 0h0m0 0h0m4 0h0m11 0h0m1 0h0m2 0h0m35 0h0m127 0h0m-190 1h0m2 0h0m2 0h0m2 0h0m2 0h0m0 0h0m3 0h0m0 0h0m13 0h0m0 0h0m2 0h0m3 0h0m3 0h0m11 0h0m213 0h0m81 0h0m-355 1h0m8 0h0m6 0h0m11 0h0m6 0h0m3 0h0m7 0h0m1 0h0m-36 1h0m16 0h0m5 0h0m0 0h0m4 0h0m2 0h0m0 0h0m5 0h0m1 0h0m4 0h0m0 0h0m4 0h0m14 0h0m82 0h0m-132 1h0m17 0h0m2 0h0m6 0h0m6 0h0m0 0h0m0 0h0m8 0h0m2 0h0m0 0h0m4 0h0m218 0h0m-263 1h0m1 0h0m3 0h0m0 0h0m6 0h0m4 0h0m6 0h0m1 0h0m2 0h0m1 0h0m1 0h0m4 0h0m1 0h0m11 0h0m219 0h0m-259 1h0m6 0h0m5 0h0m1 0h0m6 0h0m3 0h0m4 0h0m4 0h0m2 0h0m5 0h0m2 0h0m1 0h0m11 0h0m-35 1h0m4 0h0m2 0h0m6 0h0m5 0h0m0 0h0m-34 1h0m5 0h0m5 0h0m3 0h0m1 0h0m3 0h0m1 0h0m4 0h0m0 0h0m1 0h0m1 0h0m8 0h0m2 0h0m9 0h0m260 0h0m-288 1h0m5 0h0m1 0h0m2 0h0m1 0h0m4 0h0m23 0h0m-42 1h0m2 0h0m2 0h0m2 0h0m2 0h0m1 0h0m11 0h0m25 0h0m16 0h0m-72 1h0m15 0h0m0 0h0m1 0h0m5 0h0m2 0h0m3 0h0m8 0h0m0 0h0m5 0h0m14 0h0m211 0h0m-248 1h0m5 0h0m2 0h0m2 0h0m24 0h0m1 0h0m14 0h0m98 0h0m112 0h0m10 0h0m-277 1h0m10 0h0m4 0h0m2 0h0m5 0h0m1 0h0m9 0h0m-25 1h0m27 0h0m2 0h0m1 0h0m6 0h0m73 0h0m-123 1h0m2 0h0m8 0h0m8 0h0m11 0h0m1 0h0m6 0h0m3 0h0m3 0h0m9 0h0m-57 1h0m18 0h0m2 0h0m1 0h0m2 0h0m1 0h0m9 0h0m1 0h0m55 0h0m-72 1h0m5 0h0m5 0h0m0 0h0m2 0h0m4 0h0m1 0h0m9 0h0m7 0h0m22 0h0m25 0h0m190 0h0m-302 1h0m45 0h0m3 0h0m18 0h0m246 0h0m-280 1h0m6 0h0m9 0h0m8 0h0m3 0h0m1 0h0m13 0h0m80 0h0m109 0h0m-216 1h0m9 0h0m1 0h0m18 0h0m3 0h0m-41 1h0m4 0h0m34 0h0m-56 1h0m32 0h0m3 0h0m1 0h0m1 0h0m0 0h0m-29 1h0m12 0h0m14 0h0m2 0h0m61 0h0m-90 1h0m27 0h0m5 0h0m3 0h0m5 0h0m3 0h0m147 0h0m82 0h0m-265 1h0m2 0h0m6 0h0m2 0h0m9 0h0m8 0h0m-7 1h0m-16 1h0m16 0h0m29 0h0m73 0h0m-108 1h0m1 0h0m38 0h0m159 0h0m2 0h0m68 0h0m-287 1h0m46 0h0m86 0h0m17 0h0m99 0h0m-234 1h0m13 0h0m8 0h0m13 0h0m-36 1h0m0 0h0m14 0h0m236 0h0m-257 1h0m21 0h0m224 0h0m31 0h0m-285 1h0m38 0h0m2 0h0m14 1h0m96 0h0m134 0h0m-260 1h0m64 0h0m132 0h0m30 0h0m20 0h0m-252 2h0m81 0h0m-1 1h0m14 1h0m24 0h0m-112 1h0m13 0h0m205 1h0m6 0h0m-226 1h0m142 0h0m97 1h0m-242 1h0m84 0h0m118 2h0m26 1h0m-218 1h0m129 0h0m-19 1h0m50 0h0m-179 2h0m42 0h0m117 0h0m-162 2h0m201 0h0m37 0h0m-71 1h0m-55 1h0m115 0h0m-194 3h0m120 4h0m8 0h0m-17 6h0m-132 4h0m131 0h0m8 0h0m-9 1h0"/>
<path stroke="#59347a" d="M109 106h0m-9 5h0m-17 5h0m25 4h0m-14 3h0m12 2h0m30 0h0m-17 1h0m-10 2h0m7 0h0m-7 1h0m5 0h0m5 0h0m-28 2h0m16 2h0m6 0h0m4 0h0m-23 1h0m2 0h0m-4 1h0m8 0h0m-3 1h0m7 0h0m-12 1h0m4 0h0m15 0h0m12 0h0m-30 1h0m12 0h0m6 0h0m3 0h0m14 0h0m-47 1h0m12 0h0m12 0h0m8 1h0m-31 1h0m21 0h0m-6 1h0m3 0h0m-8 1h0m11 0h0m5 0h0m7 0h0m-42 1h0m37 0h0m5 0h0m1 0h0m7 0h0m-18 1h0m-9 1h0m6 0h0m11 0h0m6 0h0m11 0h0m-46 1h0m24 0h0m12 0h0m-19 1h0m2 0h0m11 0h0m14 0h0m-30 1h0m14 0h0m4 0h0m1 0h0m2 0h0m-20 1h0m0 0h0m6 0h0m5 0h0m2 0h0m-18 1h0m16 0h0m-12 1h0m5 0h0m2 0h0m3 0h0m0 0h0m6 0h0m-29 1h0m1 0h0m0 0h0m9 0h0m2 0h0m0 0h0m13 0h0m6 0h0m11 0h0m-14 1h0m5 0h0m10 0h0m-4 1h0m8 0h0m-36 1h0m11 0h0m8 0h0m-8 1h0m12 0h0m-12 1h0m2 0h0m13 0h0m-34 2h0m12 0h0m27 0h0m-43 1h0m18 0h0m21 0h0m-22 1h0m8 0h0m7 0h0m-27 1h0m27 0h0m6 0h0m-17 2h0m3 0h0m13 0h0m5 0h0m-25 1h0m19 0h0m-27 1h0m12 0h0m4 1h0m1 0h0m10 0h0m-19 1h0m35 0h0m-44 1h0m4 0h0m8 0h0m17 0h0m3 0h0m-35 1h0m1 0h0m22 0h0m4 0h0m18 0h0m-45 1h0m37 0h0m-23 1h0m8 0h0m7 0h0m1 0h0m5 0h0m-30 1h0m26 0h0m2 0h0m3 0h0m-29 1h0m9 0h0m3 0h0m4 0h0m1 0h0m2 0h0m6 0h0m3 0h0m13 0h0m-47 1h0m21 0h0m-21 1h0m23 0h0m-18 1h0m7 0h0m1 0h0m5 0h0m9 0h0m6 0h0m-15 1h0m40 0h0m9 0h0m-76 1h0m40 0h0m10 0h0m-23 1h0m9 0h0m-17 1h0m13 0h0m3 0h0m-12 1h0m1 0h0m8 0h0m-14 1h0m15 0h0m15 0h0m7 0h0m-54 1h0m19 0h0m8 0h0m2 0h0m9 0h0m31 0h0m-63 1h0m22 0h0m21 0h0m48 0h0m-72 1h0m1 0h0m4 0h0m9 0h0m6 0h0m0 0h0m23 0h0m-51 1h0m12 0h0m2 0h0m10 0h0m8 0h0m-50 1h0m20 0h0m10 0h0m-25 1h0m15 0h0m4 0h0m21 0h0m9 0h0m9 0h0m-51 1h0m15 0h0m2 0h0m6 0h0m-26 1h0m20 0h0m1 0h0m0 0h0m2 0h0m248 0h0m-250 1h0m-9 1h0m13 0h0m10 0h0m-28 1h0m30 0h0m27 0h0m-75 1h0m25 0h0m5 0h0m1 0h0m1 0h0m15 0h0m-21 1h0m2 0h0m13 0h0m-22 1h0m6 0h0m9 0h0m19 0h0m-22 1h0m242 0h0m-243 1h0m16 0h0m287 0h0m-302 1h0m-17 1h0m7 0h0m4 0h0m8 0h0m11 0h0m130 0h0m-156 1h0m7 0h0m3 0h0m23 0h0m267 0h0m-287 1h0m0 0h0m9 0h0m-23 1h0m19 0h0m2 0h0m23 0h0m226 0h0m-6 1h0m-257 1h0m35 0h0m190 0h0m-235 1h0m2 0h0m16 0h0m6 0h0m13 0h0m45 0h0m145 0h0m76 0h0m-300 1h0m5 0h0m8 0h0m6 0h0m76 0h0m178 0h0m-260 1h0m3 0h0m9 0h0m-5 1h0m3 0h0m51 0h0m72 0h0m-152 1h0m5 0h0m12 0h0m38 0h0m-19 1h0m58 0h0m3 0h0m-77 1h0m10 1h0m16 0h0m14 0h0m149 0h0m-162 1h0m6 0h0m160 0h0m1 0h0m105 0h0m-271 1h0m188 0h0m-203 2h0m201 0h0m-228 1h0m27 0h0m6 0h0m214 0h0m6 0h0m-238 1h0m5 0h0m7 0h0m6 0h0m-21 1h0m36 1h0m4 0h0m-22 1h0m11 0h0m6 0h0m84 0h0m8 0h0m139 0h0m-280 1h0m11 0h0m7 0h0m3 0h0m15 0h0m-8 1h0m30 0h0m80 0h0m72 0h0m-183 1h0m27 0h0m283 0h0m-320 1h0m23 0h0m0 0h0m9 0h0m280 0h0m-322 1h0m25 0h0m17 0h0m9 0h0m25 0h0m199 0h0m-252 1h0m0 0h0m2 0h0m209 0h0m10 0h0m21 1h0m57 0h0m-128 1h0m-156 1h0m23 0h0m13 0h0m5 0h0m8 0h0m124 0h0m97 0h0m8 0h0m-294 1h0m2 0h0m290 0h0m-324 1h0m23 0h0m12 0h0m1 0h0m14 0h0m26 0h0m217 0h0m-274 1h0m29 0h0m15 0h0m177 0h0m3 0h0m3 0h0m-234 1h0m32 0h0m2 0h0m12 0h0m120 0h0m145 0h0m-282 1h0m3 0h0m199 0h0m-216 1h0m3 0h0m17 0h0m12 0h0m275 0h0m-299 1h0m6 0h0m185 0h0m105 0h0m-313 1h0m3 0h0m11 0h0m2 0h0m121 0h0m-74 1h0m182 0h0m69 0h0m-302 1h0m12 0h0m36 1h0m139 0h0m90 0h0m-280 1h0m24 0h0m264 0h0m15 0h0m29 0h0m-324 1h0m88 0h0m-107 1h0m17 0h0m9 0h0m263 0h0m-269 1h0m29 0h0m72 0h0m218 0h0m-321 1h0m0 0h0m233 0h0m-244 1h0m45 0h0m136 0h0m93 0h0m0 0h0m29 0h0m-277 1h0m2 0h0m67 0h0m-112 1h0m41 0h0m22 0h0m225 0h0m64 0h0m1 0h0m1 0h0m-304 1h0m15 0h0m160 0h0m114 0h0m-337 1h0m25 0h0m5 0h0m28 0h0m-36 1h0m162 0h0m162 0h0m16 0h0m-329 1h0m2 0h0m8 0h0m167 0h0m156 0h0m-342 1h0m6 0h0m20 0h0m13 0h0m211 0h0m-250 1h0m8 0h0m4 0h0m9 0h0m4 0h0m11 0h0m22 0h0m110 0h0m53 0h0m7 0h0m30 0h0m72 0h0m-309 1h0m28 0h0m156 0h0m52 0h0m83 0h0m-326 1h0m10 0h0m4 0h0m305 0h0m-342 1h0m7 0h0m5 0h0m27 0h0m1 0h0m199 0h0m-213 1h0m9 0h0m8 0h0m133 0h0m-167 1h0m2 0h0m7 0h0m9 0h0m8 0h0m123 0h0m11 0h0m120 0h0m-197 1h0m47 0h0m126 0h0m71 0h0m-320 1h0m0 0h0m8 0h0m130 0h0m59 0h0m42 0h0m72 0h0m-28 1h0m-304 1h0m25 0h0m27 0h0m11 0h0m13 0h0m56 0h0m-130 1h0m31 0h0m67 0h0m153 0h0m77 0h0m1 0h0m28 0h0m-327 1h0m26 0h0m139 0h0m6 0h0m38 0h0m19 0h0m-253 1h0m22 0h0m5 0h0m-42 1h0m17 0h0m1 0h0m5 0h0m8 0h0m2 0h0m17 0h0m263 0h0m-298 1h0m34 0h0m241 0h0m-278 1h0m29 0h0m5 0h0m293 0h0m-306 1h0m130 0h0m184 0h0m-318 1h0m41 0h0m105 0h0m1 0h0m5 0h0m196 0h0m-373 1h0m10 0h0m56 0h0m61 0h0m-100 1h0m7 0h0m15 0h0m-28 1h0m29 0h0m1 0h0m255 0h0m-309 1h0m13 0h0m23 0h0m3 0h0m13 0h0m19 0h0m191 0h0m36 0h0m4 0h0m-281 1h0m4 0h0m6 0h0m4 0h0m23 0h0m86 0h0m-135 1h0m24 0h0m7 0h0m10 0h0m74 0h0m76 0h0m136 0h0m-292 1h0m189 0h0m56 0h0m87 0h0m-359 1h0m0 0h0m6 0h0m8 0h0m3 0h0m3 0h0m19 0h0m19 0h0m208 0h0m31 0h0m-299 1h0m15 0h0m0 0h0m15 0h0m3 0h0m221 0h0m-83 1h0m8 0h0m21 0h0m154 0h0m-342 1h0m11 0h0m6 0h0m8 0h0m173 0h0m18 0h0m133 0h0m-354 1h0m0 0h0m33 0h0m26 0h0m215 0h0m50 0h0m19 0h0m-315 1h0m38 0h0m209 0h0m-294 1h0m196 0h0m136 0h0m-315 1h0m22 0h0m0 0h0m139 0h0m58 0h0m101 0h0m-326 1h0m23 0h0m0 0h0m9 0h0m12 0h0m262 0h0m1 0h0m32 0h0m-315 1h0m1 0h0m2 0h0m3 0h0m8 0h0m26 0h0m225 0h0m-267 1h0m3 0h0m227 0h0m30 0h0m-261 1h0m246 0h0m76 0h0m-363 1h0m29 0h0m30 0h0m101 0h0m6 0h0m198 0h0m-333 1h0m2 0h0m7 0h0m272 0h0m-262 1h0m1 0h0m11 0h0m205 0h0m56 0h0m13 0h0m-331 1h0m21 0h0m23 0h0m8 0h0m11 0h0m45 0h0m178 0h0m76 1h0m-344 1h0m5 0h0m1 0h0m28 0h0m154 0h0m94 0h0m-279 1h0m3 0h0m8 0h0m10 0h0m20 0h0m90 0h0m64 0h0m61 0h0m91 0h0m-339 1h0m7 0h0m40 0h0m170 0h0m-210 1h0m2 0h0m281 0h0m19 0h0m45 0h0m-346 1h0m19 0h0m10 0h0m168 0h0m124 0h0m-333 1h0m67 0h0m19 0h0m24 0h0m-99 1h0m108 0h0m41 0h0m22 0h0m-199 1h0m12 0h0m23 0h0m1 0h0m4 0h0m76 0h0m135 0h0m18 0h0m-250 1h0m11 0h0m4 0h0m9 0h0m160 0h0m66 0h0m95 0h0m-335 1h0m24 0h0m230 0h0m-257 1h0m3 0h0m4 0h0m23 0h0m320 0h0m-360 1h0m3 0h0m27 0h0m298 0h0m33 0h0m-350 1h0m10 0h0m2 0h0m204 0h0m112 0h0m17 0h0m-365 1h0m6 0h0m15 0h0m199 0h0m76 0h0m38 0h0m18 0h0m12 0h0m20 0h0m-374 1h0m26 0h0m138 0h0m-177 1h0m9 0h0m10 0h0m10 0h0m1 0h0m3 0h0m6 0h0m14 0h0m239 0h0m21 0h0m43 0h0m-353 1h0m37 0h0m91 0h0m90 0h0m70 0h0m56 0h0m-365 1h0m23 0h0m25 0h0m244 0h0m83 0h0m-371 1h0m15 0h0m6 0h0m23 0h0m287 0h0m18 0h0m25 0h0m6 0h0m-371 1h0m1 0h0m28 0h0m3 0h0m37 0h0m111 0h0m5 0h0m26 0h0m97 0h0m57 0h0m-353 1h0m33 0h0m31 0h0m29 0h0m233 0h0m5 0h0m-321 1h0m24 0h0m299 0h0m6 0h0m-327 1h0m0 0h0m14 0h0m8 0h0m6 0h0m244 0h0m4 0h0m33 0h0m18 0h0m9 0h0m-358 1h0m8 0h0m216 0h0m46 0h0m47 0h0m4 0h0m9 0h0m8 0h0m25 0h0m-292 1h0m213 0h0m8 0h0m39 0h0m11 0h0m32 0h0m-373 1h0m6 0h0m6 0h0m6 0h0m20 0h0m279 0h0m3 0h0m21 0h0m7 0h0m-332 1h0m0 0h0m17 0h0m121 0h0m78 0h0m32 0h0m83 0h0m22 0h0m-365 1h0m4 0h0m0 0h0m16 0h0m5 0h0m5 0h0m6 0h0m94 0h0m6 0h0m106 0h0m14 0h0m62 0h0m28 0h0m-329 1h0m25 0h0m277 0h0m11 0h0m6 0h0m24 0h0m-372 1h0m23 0h0m1 0h0m5 0h0m15 0h0m282 0h0m34 0h0m-334 1h0m12 0h0m2 0h0m309 0h0m4 0h0m7 0h0m2 0h0m5 0h0m6 0h0m1 0h0m-378 1h0m47 0h0m278 0h0m12 0h0m17 0h0m8 0h0m1 0h0m3 0h0m18 0h0m1 0h0m-352 1h0m24 0h0m1 0h0m4 0h0m11 0h0m10 0h0m279 0h0m17 0h0m-375 1h0m9 0h0m22 0h0m3 0h0m16 0h0m10 0h0m19 0h0m248 0h0m22 0h0m-300 1h0m238 0h0m8 0h0m17 0h0m26 0h0m13 0h0m1 0h0m-374 1h0m39 0h0m12 0h0m6 0h0m13 0h0m74 0h0m171 0h0m10 0h0m37 0h0m-340 1h0m11 0h0m6 0h0m9 0h0m2 0h0m15 0h0m124 0h0m148 0h0m20 0h0m1 0h0m6 0h0m5 0h0m1 0h0m35 0h0m0 0h0m-369 1h0m27 0h0m2 0h0m185 0h0m32 0h0m67 0h0m38 0h0m-343 1h0m1 0h0m4 0h0m8 0h0m15 0h0m14 0h0m130 0h0m4 0h0m6 0h0m133 0h0m11 0h0m9 0h0m17 0h0m-360 1h0m3 0h0m6 0h0m6 0h0m5 0h0m13 0h0m9 0h0m245 0h0m31 0h0m7 0h0m12 0h0m-320 1h0m0 0h0m4 0h0m180 0h0m10 0h0m92 0h0m1 0h0m1 0h0m-305 1h0m14 0h0m15 0h0m18 0h0m225 0h0m85 0h0m-338 1h0m5 0h0m4 0h0m0 0h0m14 0h0m1 0h0m2 0h0m245 0h0m24 0h0m22 0h0m9 0h0m-358 1h0m18 0h0m13 0h0m38 0h0m241 0h0m10 0h0m9 0h0m2 0h0m12 0h0m21 0h0m-366 1h0m15 0h0m7 0h0m3 0h0m0 0h0m8 0h0m0 0h0m19 0h0m25 0h0m208 0h0m10 0h0m27 0h0m6 0h0m9 0h0m9 0h0m13 0h0m-352 1h0m0 0h0m12 0h0m12 0h0m14 0h0m7 0h0m184 0h0m95 0h0m-320 1h0m15 0h0m7 0h0m1 0h0m3 0h0m2 0h0m24 0h0m196 0h0m53 0h0m18 0h0m4 0h0m2 0h0m1 0h0m13 0h0m3 0h0m2 0h0m1 0h0m-347 1h0m4 0h0m0 0h0m13 0h0m0 0h0m1 0h0m6 0h0m0 0h0m1 0h0m1 0h0m2 0h0m1 0h0m0 0h0m1 0h0m2 0h0m13 0h0m2 0h0m40 0h0m36 0h0m47 0h0m43 0h0m95 0h0m18 0h0m-327 1h0m8 0h0m4 0h0m5 0h0m8 0h0m11 0h0m3 0h0m1 0h0m4 0h0m13 0h0m167 0h0m70 0h0m15 0h0m7 0h0m1 0h0m-315 1h0m0 0h0m1 0h0m6 0h0m1 0h0m1 0h0m1 0h0m2 0h0m4 0h0m4 0h0m2 0h0m1 0h0m3 0h0m10 0h0m4 0h0m6 0h0m1 0h0m2 0h0m80 0h0m165 0h0m55 0h0m-352 1h0m4 0h0m14 0h0m7 0h0m0 0h0m1 0h0m1 0h0m9 0h0m8 0h0m2 0h0m88 0h0m5 0h0m186 0h0m3 0h0m9 0h0m2 0h0m-343 1h0m10 0h0m4 0h0m3 0h0m7 0h0m0 0h0m4 0h0m1 0h0m2 0h0m2 0h0m3 0h0m6 0h0m1 0h0m16 0h0m98 0h0m98 0h0m26 0h0m35 0h0m1 0h0m31 0h0m0 0h0m5 0h0m-340 1h0m7 0h0m4 0h0m1 0h0m0 0h0m3 0h0m9 0h0m1 0h0m1 0h0m1 0h0m16 0h0m35 0h0m203 0h0m13 0h0m15 0h0m11 0h0m-331 1h0m6 0h0m6 0h0m1 0h0m2 0h0m1 0h0m0 0h0m3 0h0m3 0h0m0 0h0m2 0h0m4 0h0m4 0h0m4 0h0m5 0h0m2 0h0m1 0h0m141 0h0m129 0h0m19 0h0m23 0h0m7 0h0m-356 1h0m3 0h0m2 0h0m4 0h0m1 0h0m0 0h0m4 0h0m0 0h0m22 0h0m1 0h0m1 0h0m2 0h0m0 0h0m2 0h0m1 0h0m7 0h0m77 0h0m178 0h0m7 0h0m32 0h0m-360 1h0m11 0h0m1 0h0m6 0h0m2 0h0m8 0h0m2 0h0m5 0h0m0 0h0m1 0h0m5 0h0m4 0h0m3 0h0m4 0h0m2 0h0m5 0h0m239 0h0m5 0h0m32 0h0m7 0h0m-320 1h0m1 0h0m8 0h0m3 0h0m1 0h0m1 0h0m15 0h0m23 0h0m248 0h0m12 0h0m3 0h0m20 0h0m13 0h0m-367 1h0m3 0h0m19 0h0m1 0h0m4 0h0m7 0h0m2 0h0m1 0h0m8 0h0m15 0h0m18 0h0m227 0h0m3 0h0m19 0h0m-320 1h0m8 0h0m6 0h0m1 0h0m3 0h0m1 0h0m0 0h0m0 0h0m1 0h0m5 0h0m2 0h0m1 0h0m0 0h0m2 0h0m0 0h0m6 0h0m2 0h0m2 0h0m262 0h0m19 0h0m2 0h0m-317 1h0m1 0h0m4 0h0m5 0h0m4 0h0m3 0h0m5 0h0m4 0h0m4 0h0m13 0h0m248 0h0m5 0h0m31 0h0m3 0h0m11 0h0m-351 1h0m3 0h0m11 0h0m3 0h0m6 0h0m2 0h0m1 0h0m0 0h0m0 0h0m8 0h0m8 0h0m2 0h0m1 0h0m184 0h0m40 0h0m22 0h0m15 0h0m4 0h0m9 0h0m9 0h0m16 0h0m-353 1h0m20 0h0m8 0h0m1 0h0m3 0h0m0 0h0m2 0h0m0 0h0m1 0h0m0 0h0m0 0h0m1 0h0m0 0h0m3 0h0m1 0h0m1 0h0m0 0h0m1 0h0m1 0h0m1 0h0m0 0h0m2 0h0m5 0h0m12 0h0m7 0h0m80 0h0m182 0h0m42 0h0m-378 1h0m4 0h0m10 0h0m14 0h0m2 0h0m1 0h0m6 0h0m4 0h0m4 0h0m1 0h0m1 0h0m3 0h0m2 0h0m10 0h0m8 0h0m42 0h0m207 0h0m1 0h0m16 0h0m19 0h0m-337 1h0m5 0h0m3 0h0m0 0h0m4 0h0m8 0h0m1 0h0m1 0h0m2 0h0m1 0h0m2 0h0m0 0h0m0 0h0m5 0h0m0 0h0m1 0h0m6 0h0m2 0h0m1 0h0m8 0h0m-56 1h0m5 0h0m14 0h0m6 0h0m1 0h0m0 0h0m4 0h0m1 0h0m0 0h0m2 0h0m2 0h0m1 0h0m1 0h0m2 0h0m0 0h0m1 0h0m2 0h0m2 0h0m1 0h0m2 0h0m233 0h0m1 0h0m31 0h0m8 0h0m0 0h0m1 0h0m-310 1h0m2 0h0m1 0h0m1 0h0m0 0h0m2 0h0m2 0h0m5 0h0m1 0h0m1 0h0m0 0h0m1 0h0m0 0h0m7 0h0m1 0h0m1 0h0m2 0h0m2 0h0m3 0h0m0 0h0m7 0h0m13 0h0m14 0h0m153 0h0m15 0h0m31 0h0m24 0h0m18 0h0m3 0h0m-311 1h0m1 0h0m0 0h0m3 0h0m1 0h0m1 0h0m4 0h0m0 0h0m1 0h0m1 0h0m1 0h0m0 0h0m2 0h0m1 0h0m0 0h0m1 0h0m1 0h0m2 0h0m5 0h0m5 0h0m2 0h0m3 0h0m1 0h0m12 0h0m6 0h0m87 0h0m47 0h0m30 0h0m54 0h0m4 0h0m2 0h0m8 0h0m10 0h0m12 0h0m3 0h0m3 0h0m8 0h0m1 0h0m-349 1h0m18 0h0m5 0h0m3 0h0m1 0h0m2 0h0m3 0h0m1 0h0m5 0h0m1 0h0m0 0h0m1 0h0m5 0h0m0 0h0m2 0h0m2 0h0m1 0h0m1 0h0m0 0h0m2 0h0m4 0h0m2 0h0m1 0h0m6 0h0m251 0h0m14 0h0m-318 1h0m2 0h0m16 0h0m1 0h0m1 0h0m0 0h0m1 0h0m3 0h0m1 0h0m2 0h0m5 0h0m0 0h0m3 0h0m2 0h0m3 0h0m0 0h0m2 0h0m2 0h0m1 0h0m8 0h0m4 0h0m0 0h0m96 0h0m131 0h0m13 0h0m9 0h0m5 0h0m10 0h0m15 0h0m-339 1h0m2 0h0m1 0h0m10 0h0m3 0h0m2 0h0m1 0h0m1 0h0m3 0h0m0 0h0m2 0h0m3 0h0m2 0h0m3 0h0m1 0h0m0 0h0m0 0h0m4 0h0m0 0h0m5 0h0m0 0h0m1 0h0m1 0h0m1 0h0m2 0h0m11 0h0m2 0h0m244 0h0m-301 1h0m5 0h0m6 0h0m11 0h0m2 0h0m1 0h0m1 0h0m0 0h0m1 0h0m2 0h0m0 0h0m2 0h0m0 0h0m3 0h0m1 0h0m0 0h0m1 0h0m0 0h0m1 0h0m1 0h0m1 0h0m2 0h0m1 0h0m1 0h0m4 0h0m2 0h0m5 0h0m5 0h0m10 0h0m229 0h0m19 0h0m13 0h0m-320 1h0m2 0h0m2 0h0m2 0h0m2 0h0m0 0h0m3 0h0m3 0h0m0 0h0m2 0h0m0 0h0m1 0h0m3 0h0m2 0h0m3 0h0m1 0h0m1 0h0m1 0h0m1 0h0m3 0h0m0 0h0m2 0h0m2 0h0m3 0h0m5 0h0m-43 1h0m3 0h0m2 0h0m4 0h0m2 0h0m4 0h0m0 0h0m4 0h0m1 0h0m0 0h0m0 0h0m1 0h0m2 0h0m12 0h0m2 0h0m1 0h0m0 0h0m17 0h0m39 0h0m127 0h0m45 0h0m15 0h0m10 0h0m-315 1h0m8 0h0m11 0h0m5 0h0m2 0h0m1 0h0m11 0h0m3 0h0m0 0h0m1 0h0m2 0h0m1 0h0m1 0h0m0 0h0m2 0h0m0 0h0m1 0h0m0 0h0m1 0h0m1 0h0m3 0h0m2 0h0m3 0h0m1 0h0m0 0h0m8 0h0m23 0h0m182 0h0m38 0h0m-293 1h0m11 0h0m0 0h0m10 0h0m6 0h0m1 0h0m0 0h0m0 0h0m0 0h0m1 0h0m0 0h0m2 0h0m0 0h0m2 0h0m1 0h0m6 0h0m14 0h0m45 0h0m148 0h0m15 0h0m34 0h0m1 0h0m1 0h0m-294 1h0m16 0h0m1 0h0m5 0h0m2 0h0m1 0h0m3 0h0m0 0h0m2 0h0m0 0h0m1 0h0m3 0h0m2 0h0m6 0h0m4 0h0m42 0h0m180 0h0m22 0h0m4 0h0m18 0h0m-316 1h0m0 0h0m7 0h0m2 0h0m2 0h0m5 0h0m3 0h0m0 0h0m2 0h0m1 0h0m2 0h0m0 0h0m0 0h0m1 0h0m2 0h0m1 0h0m0 0h0m0 0h0m1 0h0m1 0h0m7 0h0m0 0h0m1 0h0m0 0h0m5 0h0m8 0h0m10 0h0m1 0h0m-53 1h0m0 0h0m1 0h0m3 0h0m1 0h0m3 0h0m2 0h0m4 0h0m0 0h0m0 0h0m0 0h0m1 0h0m1 0h0m0 0h0m0 0h0m0 0h0m1 0h0m1 0h0m1 0h0m3 0h0m0 0h0m1 0h0m1 0h0m0 0h0m2 0h0m3 0h0m5 0h0m8 0h0m3 0h0m159 0h0m104 0h0m-317 1h0m2 0h0m0 0h0m6 0h0m2 0h0m1 0h0m1 0h0m1 0h0m1 0h0m2 0h0m0 0h0m1 0h0m3 0h0m0 0h0m1 0h0m1 0h0m2 0h0m1 0h0m0 0h0m1 0h0m0 0h0m1 0h0m1 0h0m0 0h0m1 0h0m1 0h0m3 0h0m0 0h0m2 0h0m1 0h0m2 0h0m1 0h0m2 0h0m1 0h0m1 0h0m2 0h0m1 0h0m8 0h0m10 0h0m5 0h0m237 0h0m-305 1h0m1 0h0m0 0h0m1 0h0m3 0h0m3 0h0m7 0h0m1 0h0m1 0h0m1 0h0m0 0h0m1 0h0m0 0h0m0 0h0m4 0h0m0 0h0m0 0h0m3 0h0m0 0h0m0 0h0m1 0h0m1 0h0m3 0h0m0 0h0m1 0h0m0 0h0m1 0h0m0 0h0m1 0h0m1 0h0m21 0h0m-69 1h0m7 0h0m13 0h0m2 0h0m1 0h0m1 0h0m1 0h0m1 0h0m0 0h0m4 0h0m0 0h0m2 0h0m3 0h0m1 0h0m0 0h0m1 0h0m2 0h0m2 0h0m0 0h0m0 0h0m2 0h0m1 0h0m3 0h0m3 0h0m3 0h0m4 0h0m120 0h0m75 0h0m46 0h0m47 0h0m-329 1h0m3 0h0m4 0h0m1 0h0m0 0h0m7 0h0m0 0h0m1 0h0m2 0h0m1 0h0m4 0h0m1 0h0m3 0h0m0 0h0m2 0h0m2 0h0m5 0h0m1 0h0m1 0h0m0 0h0m1 0h0m13 0h0m3 0h0m205 0h0m23 0h0m-277 1h0m0 0h0m5 0h0m2 0h0m1 0h0m5 0h0m7 0h0m1 0h0m1 0h0m0 0h0m0 0h0m1 0h0m12 0h0m12 0h0m200 0h0m24 0h0m9 0h0m-299 1h0m13 0h0m4 0h0m0 0h0m1 0h0m0 0h0m2 0h0m2 0h0m5 0h0m0 0h0m2 0h0m1 0h0m3 0h0m0 0h0m2 0h0m4 0h0m1 0h0m3 0h0m1 0h0m0 0h0m4 0h0m7 0h0m1 0h0m16 0h0m203 0h0m-272 1h0m12 0h0m2 0h0m4 0h0m1 0h0m2 0h0m2 0h0m2 0h0m1 0h0m1 0h0m6 0h0m1 0h0m2 0h0m1 0h0m1 0h0m9 0h0m12 0h0m12 0h0m105 0h0m61 0h0m-226 1h0m0 0h0m2 0h0m8 0h0m1 0h0m1 0h0m3 0h0m8 0h0m0 0h0m4 0h0m2 0h0m2 0h0m2 0h0m0 0h0m2 0h0m1 0h0m5 0h0m205 0h0m35 0h0m29 0h0m-323 1h0m10 0h0m12 0h0m4 0h0m1 0h0m1 0h0m1 0h0m0 0h0m1 0h0m0 0h0m7 0h0m0 0h0m0 0h0m2 0h0m0 0h0m1 0h0m2 0h0m4 0h0m5 0h0m1 0h0m1 0h0m1 0h0m3 0h0m239 0h0m-278 1h0m1 0h0m5 0h0m4 0h0m2 0h0m5 0h0m0 0h0m3 0h0m2 0h0m0 0h0m2 0h0m2 0h0m4 0h0m0 0h0m2 0h0m12 0h0m2 0h0m28 0h0m-96 1h0m2 0h0m14 0h0m2 0h0m6 0h0m5 0h0m2 0h0m1 0h0m0 0h0m2 0h0m2 0h0m1 0h0m2 0h0m2 0h0m0 0h0m1 0h0m3 0h0m1 0h0m1 0h0m3 0h0m2 0h0m10 0h0m3 0h0m6 0h0m12 0h0m62 0h0m183 0h0m-305 1h0m3 0h0m3 0h0m5 0h0m1 0h0m1 0h0m2 0h0m1 0h0m0 0h0m1 0h0m1 0h0m1 0h0m1 0h0m9 0h0m0 0h0m0 0h0m7 0h0m141 0h0m73 0h0m0 0h0m56 0h0m-314 1h0m3 0h0m5 0h0m0 0h0m4 0h0m2 0h0m3 0h0m0 0h0m3 0h0m1 0h0m0 0h0m4 0h0m4 0h0m4 0h0m2 0h0m20 0h0m18 0h0m132 0h0m-204 1h0m1 0h0m4 0h0m3 0h0m0 0h0m4 0h0m1 0h0m1 0h0m4 0h0m0 0h0m7 0h0m1 0h0m0 0h0m0 0h0m0 0h0m1 0h0m1 0h0m0 0h0m4 0h0m2 0h0m174 0h0m-203 1h0m8 0h0m2 0h0m2 0h0m6 0h0m1 0h0m5 0h0m2 0h0m3 0h0m3 0h0m3 0h0m5 0h0m3 0h0m179 0h0m29 0h0m21 0h0m-286 1h0m13 0h0m4 0h0m2 0h0m15 0h0m10 0h0m52 0h0m116 0h0m74 0h0m2 0h0m-278 1h0m1 0h0m2 0h0m0 0h0m4 0h0m5 0h0m1 0h0m4 0h0m0 0h0m3 0h0m0 0h0m3 0h0m3 0h0m0 0h0m4 0h0m0 0h0m4 0h0m8 0h0m19 0h0m171 0h0m9 0h0m68 0h0m-308 1h0m1 0h0m2 0h0m4 0h0m1 0h0m1 0h0m12 0h0m2 0h0m0 0h0m2 0h0m8 0h0m7 0h0m227 0h0m-276 1h0m6 0h0m7 0h0m2 0h0m5 0h0m1 0h0m5 0h0m6 0h0m6 0h0m7 0h0m3 0h0m8 0h0m119 0h0m97 0h0m-266 1h0m5 0h0m11 0h0m1 0h0m1 0h0m0 0h0m2 0h0m3 0h0m1 0h0m0 0h0m2 0h0m2 0h0m1 0h0m6 0h0m3 0h0m14 0h0m127 0h0m-171 1h0m1 0h0m2 0h0m2 0h0m4 0h0m3 0h0m2 0h0m3 0h0m3 0h0m3 0h0m5 0h0m2 0h0m5 0h0m1 0h0m26 0h0m25 0h0m-96 1h0m14 0h0m0 0h0m3 0h0m2 0h0m3 0h0m2 0h0m1 0h0m3 0h0m0 0h0m4 0h0m3 0h0m2 0h0m6 0h0m7 0h0m216 0h0m11 0h0m-277 1h0m14 0h0m2 0h0m4 0h0m3 0h0m1 0h0m0 0h0m7 0h0m225 0h0m13 0h0m-264 1h0m1 0h0m2 0h0m6 0h0m5 0h0m1 0h0m5 0h0m1 0h0m2 0h0m11 0h0m6 0h0m1 0h0m9 0h0m-36 1h0m2 0h0m2 0h0m4 0h0m7 0h0m9 0h0m0 0h0m-36 1h0m4 0h0m0 0h0m2 0h0m4 0h0m9 0h0m6 0h0m4 0h0m3 0h0m2 0h0m1 0h0m13 0h0m123 0h0m49 0h0m-222 1h0m7 0h0m3 0h0m6 0h0m0 0h0m10 0h0m2 0h0m25 0h0m33 0h0m130 0h0m-213 1h0m13 0h0m2 0h0m9 0h0m1 0h0m2 0h0m1 0h0m1 0h0m2 0h0m3 0h0m-27 1h0m5 0h0m1 0h0m21 0h0m17 0h0m-43 1h0m17 0h0m3 0h0m2 0h0m221 0h0m-239 1h0m1 0h0m3 0h0m3 0h0m5 0h0m15 0h0m222 0h0m-254 1h0m9 0h0m2 0h0m11 0h0m31 0h0m191 0h0m-256 1h0m24 0h0m259 0h0m-275 1h0m18 0h0m99 0h0m-126 1h0m19 0h0m0 0h0m27 0h0m-40 1h0m14 0h0m11 0h0m118 0h0m75 0h0m36 0h0m-277 1h0m38 0h0m1 0h0m18 0h0m-28 1h0m1 0h0m17 0h0m12 0h0m-10 1h0m12 0h0m183 0h0m9 0h0m-227 1h0m6 0h0m7 0h0m20 0h0m4 0h0m203 0h0m-247 1h0m8 0h0m1 0h0m18 0h0m20 1h0m-8 1h0m9 0h0m57 0h0m56 0h0m54 0h0m-189 1h0m141 0h0m14 0h0m32 0h0m-173 1h0m8 0h0m-47 1h0m15 0h0m7 0h0m50 0h0m88 0h0m-150 1h0m167 0h0m80 1h0m-247 2h0m139 0h0m19 0h0m-142 1h0m194 0h0m-37 1h0m-79 1h0m-72 1h0m9 0h0m178 2h0m-190 1h0m103 0h0m-154 1h0m57 0h0m46 0h0m114 0h0m-168 2h0m76 0h0m1 1h0m60 0h0m17 0h0m-68 2h0m33 0h0m30 4h0m-29 3h0m-4 3h0"/>
<path stroke="#593b80" d="M108 124h0m-2 4h0m1 0h0m0 1h0m-5 2h0m2 0h0m2 0h0m-4 1h0m-22 1h0m6 0h0m42 0h0m-35 1h0m19 0h0m-15 2h0m-30 1h0m39 0h0m6 0h0m2 0h0m-4 1h0m2 0h0m-23 1h0m6 0h0m8 0h0m5 0h0m-7 1h0m-7 1h0m0 0h0m33 1h0m-19 1h0m-7 1h0m5 0h0m1 0h0m-16 1h0m19 0h0m-4 1h0m-13 1h0m12 1h0m4 0h0m14 0h0m-39 1h0m38 0h0m-3 2h0m-33 1h0m16 0h0m4 0h0m20 0h0m-10 1h0m-1 1h0m1 0h0m78 0h0m-115 1h0m38 0h0m-3 1h0m-15 1h0m9 0h0m-5 1h0m6 0h0m16 0h0m-12 1h0m22 0h0m-32 1h0m8 0h0m19 0h0m-45 1h0m22 0h0m13 0h0m6 0h0m-19 1h0m14 0h0m1 0h0m-26 1h0m0 1h0m2 1h0m20 0h0m-4 1h0m4 1h0m5 0h0m1 0h0m-12 1h0m2 0h0m-8 1h0m11 0h0m-26 1h0m8 0h0m19 0h0m9 0h0m-24 1h0m22 0h0m5 0h0m24 0h0m-56 1h0m5 0h0m8 0h0m2 0h0m1 0h0m11 0h0m-19 1h0m-19 1h0m20 0h0m-9 1h0m12 0h0m24 0h0m-2 1h0m-32 1h0m12 0h0m4 0h0m-7 2h0m1 0h0m4 0h0m2 0h0m1 0h0m0 0h0m-27 1h0m16 0h0m8 0h0m6 0h0m-33 1h0m13 1h0m19 0h0m-36 1h0m21 0h0m15 0h0m2 0h0m-22 1h0m-16 1h0m21 0h0m17 0h0m3 0h0m-27 1h0m21 0h0m-10 1h0m6 0h0m3 0h0m12 0h0m-31 1h0m17 0h0m6 0h0m-8 1h0m2 0h0m11 0h0m-25 1h0m8 0h0m7 0h0m8 0h0m6 0h0m2 0h0m-30 1h0m27 0h0m2 0h0m-22 1h0m13 0h0m2 0h0m2 0h0m3 0h0m185 0h0m-198 1h0m10 0h0m-21 1h0m1 0h0m3 0h0m2 0h0m-1 1h0m0 0h0m288 0h0m-283 1h0m2 0h0m7 0h0m0 0h0m48 0h0m-64 1h0m13 0h0m3 0h0m2 0h0m11 0h0m-38 1h0m2 0h0m0 0h0m8 0h0m8 0h0m1 0h0m51 0h0m-62 1h0m57 0h0m-53 1h0m-7 1h0m18 0h0m33 1h0m-56 1h0m3 0h0m4 0h0m278 0h0m-281 1h0m11 0h0m23 0h0m6 0h0m-48 1h0m12 0h0m4 0h0m1 0h0m13 0h0m6 0h0m1 0h0m33 0h0m-28 1h0m233 0h0m-261 1h0m4 0h0m15 0h0m39 0h0m69 0h0m-125 1h0m21 1h0m15 0h0m-43 1h0m1 0h0m1 0h0m5 0h0m21 0h0m21 0h0m144 0h0m45 0h0m77 0h0m-167 1h0m9 0h0m-162 1h0m25 0h0m266 0h0m-289 1h0m3 0h0m20 0h0m140 0h0m13 0h0m-170 1h0m111 0h0m138 0h0m-237 1h0m8 0h0m-19 1h0m21 0h0m1 0h0m244 0h0m-265 1h0m42 0h0m56 0h0m-54 1h0m29 0h0m-80 1h0m30 0h0m5 0h0m1 0h0m1 0h0m2 0h0m4 0h0m231 0h0m-265 1h0m65 0h0m60 0h0m39 0h0m-174 1h0m203 0h0m-200 1h0m6 0h0m210 0h0m-206 1h0m30 0h0m28 0h0m199 0h0m-221 1h0m173 0h0m64 0h0m-189 1h0m55 0h0m58 0h0m-156 1h0m22 0h0m8 0h0m-84 1h0m17 0h0m18 0h0m42 0h0m-30 1h0m15 0h0m24 1h0m6 0h0m-96 1h0m11 0h0m24 0h0m0 0h0m10 0h0m234 0h0m-256 1h0m1 0h0m21 0h0m154 0h0m7 0h0m92 0h0m-290 1h0m18 0h0m131 0h0m10 0h0m162 0h0m-312 1h0m2 0h0m5 0h0m12 0h0m236 0h0m-252 1h0m8 0h0m9 0h0m16 0h0m148 0h0m12 0h0m-205 1h0m0 0h0m2 0h0m15 0h0m2 0h0m12 0h0m274 0h0m-312 1h0m28 0h0m3 0h0m2 0h0m33 0h0m7 0h0m42 0h0m167 0h0m47 0h0m-106 1h0m-218 1h0m3 0h0m8 0h0m30 0h0m267 0h0m-246 1h0m-44 1h0m17 0h0m88 0h0m129 0h0m27 0h0m38 0h0m18 0h0m-329 1h0m20 0h0m11 0h0m17 0h0m-53 1h0m24 0h0m12 0h0m28 0h0m219 0h0m9 0h0m56 0h0m-344 1h0m24 0h0m19 1h0m166 1h0m14 0h0m15 0h0m71 0h0m-266 1h0m14 0h0m112 0h0m82 0h0m9 0h0m37 0h0m21 0h0m-322 1h0m6 0h0m10 0h0m6 0h0m25 0h0m98 0h0m-160 1h0m16 0h0m25 0h0m4 0h0m308 0h0m-215 1h0m56 0h0m146 0h0m-315 1h0m214 0h0m-229 1h0m10 0h0m6 0h0m14 0h0m21 0h0m157 0h0m92 0h0m14 0h0m-68 1h0m-219 1h0m5 0h0m94 0h0m69 0h0m72 0h0m64 0h0m-318 1h0m7 0h0m11 0h0m13 0h0m2 0h0m-18 1h0m12 0h0m15 0h0m12 0h0m-65 1h0m37 0h0m1 0h0m10 0h0m0 0h0m17 0h0m266 0h0m-337 1h0m47 0h0m25 0h0m-57 1h0m25 0h0m5 0h0m-3 1h0m24 0h0m159 0h0m-190 1h0m-8 1h0m16 0h0m27 0h0m8 0h0m288 0h0m-331 1h0m2 0h0m13 0h0m31 0h0m-50 1h0m41 0h0m75 0h0m31 0h0m117 0h0m-257 1h0m113 0h0m107 0h0m84 0h0m-279 1h0m-47 1h0m21 0h0m10 0h0m10 0h0m22 0h0m236 0h0m-319 1h0m31 0h0m40 0h0m293 0h0m-345 1h0m8 0h0m29 0h0m98 0h0m24 0h0m98 0h0m-236 1h0m3 0h0m2 0h0m73 0h0m47 0h0m21 0h0m114 0h0m4 0h0m22 0h0m-247 1h0m1 0h0m58 0h0m108 0h0m37 0h0m-274 1h0m9 0h0m34 0h0m106 0h0m-121 1h0m1 0h0m-12 1h0m16 0h0m46 0h0m9 0h0m234 0h0m-294 1h0m2 0h0m13 0h0m7 0h0m152 0h0m59 0h0m-227 1h0m2 0h0m23 0h0m18 0h0m-59 1h0m2 0h0m34 0h0m6 0h0m4 0h0m177 0h0m106 0h0m-335 1h0m5 0h0m20 0h0m17 0h0m284 0h0m-312 1h0m4 0h0m22 0h0m298 0h0m-321 1h0m16 0h0m13 0h0m141 0h0m-187 1h0m21 0h0m159 0h0m98 0h0m62 0h0m-354 1h0m27 0h0m16 0h0m11 0h0m9 0h0m22 0h0m280 0h0m-353 1h0m7 0h0m34 0h0m184 0h0m25 0h0m42 0h0m-258 1h0m227 0h0m-262 1h0m12 0h0m14 0h0m1 0h0m3 0h0m1 0h0m4 0h0m44 0h0m32 0h0m260 0h0m-309 1h0m3 0h0m142 0h0m13 0h0m-218 1h0m19 0h0m15 0h0m22 0h0m120 0h0m120 0h0m-290 1h0m20 0h0m37 0h0m0 0h0m-13 1h0m84 0h0m75 0h0m51 0h0m9 0h0m-247 1h0m42 0h0m0 0h0m13 0h0m133 0h0m54 0h0m-270 1h0m15 0h0m12 0h0m203 0h0m93 0h0m-301 1h0m9 0h0m24 0h0m36 0h0m105 0h0m113 0h0m-285 1h0m22 0h0m154 0h0m187 0h0m-381 1h0m48 0h0m16 0h0m-66 1h0m6 0h0m13 0h0m16 0h0m66 0h0m191 0h0m33 0h0m-292 1h0m19 0h0m103 0h0m116 0h0m26 0h0m73 0h0m-352 1h0m11 0h0m10 0h0m21 0h0m28 0h0m-98 1h0m21 0h0m32 0h0m0 0h0m173 0h0m84 0h0m-294 1h0m12 0h0m17 0h0m88 0h0m59 1h0m14 0h0m9 0h0m153 0h0m-306 1h0m0 0h0m10 0h0m18 0h0m156 0h0m13 0h0m127 0h0m-364 1h0m13 0h0m104 0h0m212 0h0m25 0h0m-361 1h0m8 0h0m3 0h0m223 0h0m114 0h0m-338 1h0m28 0h0m8 0h0m2 0h0m1 0h0m1 0h0m-27 1h0m7 0h0m48 0h0m256 0h0m5 0h0m-315 1h0m46 0h0m-57 1h0m322 0h0m11 0h0m-325 1h0m10 0h0m22 0h0m2 0h0m26 0h0m194 0h0m50 0h0m14 0h0m4 0h0m-342 1h0m13 0h0m2 0h0m13 0h0m345 0h0m-362 1h0m0 0h0m10 0h0m3 0h0m-34 1h0m9 0h0m11 0h0m16 0h0m22 0h0m186 0h0m11 0h0m16 0h0m6 0h0m65 0h0m21 0h0m-331 1h0m13 0h0m145 0h0m187 0h0m-367 1h0m15 0h0m18 0h0m1 0h0m165 0h0m19 0h0m9 0h0m93 0h0m-320 1h0m12 0h0m6 0h0m11 0h0m116 0h0m-130 1h0m1 0h0m13 0h0m116 0h0m27 0h0m62 0h0m-231 1h0m7 0h0m14 0h0m2 0h0m8 0h0m1 0h0m5 0h0m4 0h0m80 0h0m207 0h0m14 0h0m-325 1h0m3 0h0m0 0h0m254 0h0m89 0h0m3 0h0m0 0h0m-367 1h0m6 0h0m26 0h0m0 0h0m323 0h0m-364 1h0m18 0h0m28 0h0m153 0h0m3 0h0m69 0h0m87 0h0m1 0h0m21 0h0m-357 1h0m313 0h0m27 0h0m-331 1h0m115 0h0m150 0h0m28 0h0m-311 1h0m172 0h0m75 0h0m0 0h0m12 0h0m36 0h0m55 0h0m-366 1h0m38 0h0m29 0h0m95 0h0m103 0h0m36 0h0m34 0h0m8 0h0m1 0h0m-319 1h0m12 0h0m8 0h0m3 0h0m96 0h0m186 0h0m9 0h0m-322 1h0m18 0h0m185 0h0m86 0h0m36 0h0m17 0h0m15 0h0m-113 1h0m79 0h0m-338 1h0m16 0h0m17 0h0m16 0h0m39 0h0m222 0h0m17 0h0m28 0h0m-347 1h0m5 0h0m2 0h0m1 0h0m2 0h0m17 0h0m13 0h0m6 0h0m102 0h0m41 0h0m21 0h0m14 0h0m94 0h0m12 0h0m22 0h0m-320 1h0m16 0h0m30 0h0m4 0h0m0 0h0m54 0h0m102 0h0m-261 1h0m331 0h0m13 0h0m19 0h0m0 0h0m3 0h0m-322 1h0m17 0h0m252 0h0m47 0h0m1 0h0m2 0h0m3 0h0m-338 1h0m1 0h0m2 0h0m1 0h0m5 0h0m15 0h0m69 0h0m217 0h0m-332 1h0m23 0h0m13 0h0m139 0h0m107 0h0m43 0h0m9 0h0m1 0h0m12 0h0m6 0h0m-351 1h0m23 0h0m10 0h0m14 0h0m3 0h0m10 0h0m36 0h0m120 0h0m121 0h0m0 0h0m28 0h0m-355 1h0m4 0h0m24 0h0m3 0h0m33 0h0m166 0h0m83 0h0m31 0h0m-344 1h0m17 0h0m9 0h0m43 0h0m238 0h0m5 0h0m18 0h0m0 0h0m7 0h0m-328 1h0m5 0h0m4 0h0m7 0h0m2 0h0m245 0h0m53 0h0m4 0h0m15 0h0m1 0h0m9 0h0m7 0h0m1 0h0m-336 1h0m12 0h0m263 0h0m8 0h0m23 0h0m7 0h0m13 0h0m0 0h0m-336 1h0m2 0h0m4 0h0m5 0h0m7 0h0m11 0h0m148 0h0m94 0h0m25 0h0m10 0h0m15 0h0m6 0h0m7 0h0m0 0h0m1 0h0m-346 1h0m3 0h0m5 0h0m14 0h0m3 0h0m21 0h0m18 0h0m212 0h0m40 0h0m2 0h0m13 0h0m1 0h0m4 0h0m-320 1h0m2 0h0m2 0h0m5 0h0m11 0h0m22 0h0m156 0h0m45 0h0m49 0h0m2 0h0m2 0h0m45 0h0m-344 1h0m6 0h0m3 0h0m2 0h0m5 0h0m108 0h0m154 0h0m7 0h0m7 0h0m4 0h0m1 0h0m3 0h0m3 0h0m-321 1h0m11 0h0m8 0h0m17 0h0m7 0h0m238 0h0m39 0h0m16 0h0m1 0h0m6 0h0m14 0h0m-362 1h0m10 0h0m11 0h0m2 0h0m4 0h0m195 0h0m75 0h0m26 0h0m2 0h0m2 0h0m22 0h0m26 0h0m-369 1h0m16 0h0m2 0h0m0 0h0m16 0h0m1 0h0m11 0h0m278 0h0m6 0h0m0 0h0m15 0h0m25 0h0m-349 1h0m2 0h0m0 0h0m12 0h0m1 0h0m7 0h0m4 0h0m6 0h0m42 0h0m114 0h0m77 0h0m26 0h0m4 0h0m12 0h0m11 0h0m9 0h0m10 0h0m-344 1h0m12 0h0m2 0h0m114 0h0m99 0h0m56 0h0m12 0h0m27 0h0m-328 1h0m8 0h0m0 0h0m1 0h0m4 0h0m1 0h0m7 0h0m1 0h0m9 0h0m4 0h0m166 0h0m57 0h0m34 0h0m10 0h0m0 0h0m19 0h0m-325 1h0m4 0h0m5 0h0m8 0h0m3 0h0m5 0h0m1 0h0m6 0h0m2 0h0m12 0h0m240 0h0m9 0h0m8 0h0m11 0h0m10 0h0m2 0h0m11 0h0m4 0h0m-345 1h0m28 0h0m7 0h0m3 0h0m6 0h0m4 0h0m9 0h0m15 0h0m93 0h0m82 0h0m63 0h0m-321 1h0m5 0h0m15 0h0m10 0h0m4 0h0m2 0h0m3 0h0m1 0h0m1 0h0m2 0h0m3 0h0m8 0h0m15 0h0m56 0h0m59 0h0m15 0h0m43 0h0m88 0h0m1 0h0m0 0h0m33 0h0m1 0h0m-368 1h0m4 0h0m13 0h0m10 0h0m2 0h0m1 0h0m1 0h0m3 0h0m1 0h0m12 0h0m20 0h0m184 0h0m5 0h0m3 0h0m42 0h0m21 0h0m28 0h0m3 0h0m2 0h0m9 0h0m-373 1h0m22 0h0m4 0h0m4 0h0m5 0h0m6 0h0m6 0h0m3 0h0m0 0h0m0 0h0m11 0h0m29 0h0m1 0h0m143 0h0m83 0h0m7 0h0m9 0h0m15 0h0m-354 1h0m24 0h0m10 0h0m0 0h0m1 0h0m3 0h0m11 0h0m3 0h0m3 0h0m5 0h0m2 0h0m1 0h0m35 0h0m36 0h0m194 0h0m11 0h0m0 0h0m-312 1h0m9 0h0m3 0h0m9 0h0m4 0h0m4 0h0m14 0h0m8 0h0m17 0h0m96 0h0m55 0h0m128 0h0m-342 1h0m2 0h0m1 0h0m8 0h0m4 0h0m3 0h0m3 0h0m1 0h0m4 0h0m8 0h0m3 0h0m132 0h0m110 0h0m10 0h0m7 0h0m9 0h0m13 0h0m40 0h0m-360 1h0m0 0h0m7 0h0m7 0h0m6 0h0m4 0h0m2 0h0m6 0h0m2 0h0m5 0h0m23 0h0m81 0h0m52 0h0m105 0h0m9 0h0m21 0h0m9 0h0m-346 1h0m2 0h0m12 0h0m3 0h0m3 0h0m2 0h0m6 0h0m1 0h0m9 0h0m1 0h0m15 0h0m120 0h0m45 0h0m84 0h0m2 0h0m31 0h0m3 0h0m13 0h0m-342 1h0m4 0h0m1 0h0m0 0h0m5 0h0m1 0h0m0 0h0m4 0h0m5 0h0m5 0h0m8 0h0m13 0h0m11 0h0m7 0h0m208 0h0m14 0h0m9 0h0m4 0h0m1 0h0m2 0h0m1 0h0m5 0h0m0 0h0m7 0h0m2 0h0m-361 1h0m25 0h0m13 0h0m10 0h0m0 0h0m6 0h0m6 0h0m0 0h0m6 0h0m0 0h0m2 0h0m1 0h0m7 0h0m0 0h0m5 0h0m239 0h0m17 0h0m12 0h0m9 0h0m1 0h0m10 0h0m19 0h0m-350 1h0m1 0h0m7 0h0m8 0h0m1 0h0m1 0h0m2 0h0m0 0h0m1 0h0m1 0h0m3 0h0m1 0h0m3 0h0m4 0h0m7 0h0m0 0h0m5 0h0m1 0h0m0 0h0m246 0h0m0 0h0m2 0h0m17 0h0m2 0h0m4 0h0m-311 1h0m3 0h0m4 0h0m0 0h0m2 0h0m1 0h0m6 0h0m7 0h0m3 0h0m1 0h0m1 0h0m21 0h0m164 0h0m60 0h0m35 0h0m1 0h0m18 0h0m-329 1h0m11 0h0m4 0h0m3 0h0m1 0h0m1 0h0m0 0h0m4 0h0m8 0h0m4 0h0m5 0h0m8 0h0m43 0h0m92 0h0m76 0h0m24 0h0m6 0h0m5 0h0m2 0h0m3 0h0m9 0h0m1 0h0m3 0h0m24 0h0m-335 1h0m4 0h0m8 0h0m1 0h0m1 0h0m0 0h0m4 0h0m1 0h0m1 0h0m3 0h0m1 0h0m1 0h0m5 0h0m31 0h0m174 0h0m34 0h0m17 0h0m35 0h0m-321 1h0m3 0h0m5 0h0m0 0h0m0 0h0m7 0h0m1 0h0m2 0h0m2 0h0m2 0h0m7 0h0m5 0h0m2 0h0m1 0h0m1 0h0m19 0h0m1 0h0m208 0h0m21 0h0m30 0h0m25 0h0m-340 1h0m2 0h0m7 0h0m2 0h0m1 0h0m3 0h0m3 0h0m0 0h0m8 0h0m3 0h0m2 0h0m211 0h0m44 0h0m7 0h0m1 0h0m-299 1h0m0 0h0m4 0h0m1 0h0m3 0h0m0 0h0m6 0h0m0 0h0m8 0h0m1 0h0m2 0h0m0 0h0m0 0h0m1 0h0m1 0h0m4 0h0m2 0h0m14 0h0m90 0h0m48 0h0m92 0h0m7 0h0m16 0h0m13 0h0m-329 1h0m11 0h0m8 0h0m1 0h0m1 0h0m1 0h0m4 0h0m1 0h0m2 0h0m2 0h0m7 0h0m0 0h0m3 0h0m2 0h0m55 0h0m186 0h0m15 0h0m4 0h0m11 0h0m-302 1h0m0 0h0m5 0h0m0 0h0m1 0h0m2 0h0m0 0h0m0 0h0m8 0h0m0 0h0m1 0h0m1 0h0m2 0h0m0 0h0m17 0h0m2 0h0m11 0h0m9 0h0m163 0h0m74 0h0m11 0h0m-316 1h0m4 0h0m8 0h0m3 0h0m1 0h0m0 0h0m6 0h0m3 0h0m5 0h0m1 0h0m0 0h0m0 0h0m2 0h0m1 0h0m0 0h0m0 0h0m3 0h0m1 0h0m17 0h0m146 0h0m12 0h0m74 0h0m21 0h0m0 0h0m5 0h0m13 0h0m1 0h0m6 0h0m10 0h0m1 0h0m-345 1h0m14 0h0m8 0h0m0 0h0m2 0h0m1 0h0m1 0h0m1 0h0m2 0h0m1 0h0m5 0h0m1 0h0m8 0h0m0 0h0m3 0h0m7 0h0m201 0h0m46 0h0m9 0h0m0 0h0m5 0h0m8 0h0m-315 1h0m8 0h0m3 0h0m4 0h0m0 0h0m5 0h0m2 0h0m1 0h0m2 0h0m0 0h0m3 0h0m0 0h0m1 0h0m1 0h0m1 0h0m0 0h0m0 0h0m2 0h0m6 0h0m3 0h0m2 0h0m1 0h0m1 0h0m235 0h0m8 0h0m9 0h0m11 0h0m4 0h0m32 0h0m-346 1h0m14 0h0m1 0h0m0 0h0m2 0h0m3 0h0m2 0h0m1 0h0m0 0h0m2 0h0m0 0h0m1 0h0m2 0h0m1 0h0m1 0h0m2 0h0m3 0h0m0 0h0m2 0h0m6 0h0m2 0h0m189 0h0m20 0h0m38 0h0m13 0h0m-306 1h0m7 0h0m0 0h0m8 0h0m5 0h0m1 0h0m3 0h0m1 0h0m0 0h0m0 0h0m1 0h0m1 0h0m2 0h0m1 0h0m1 0h0m1 0h0m1 0h0m0 0h0m0 0h0m3 0h0m3 0h0m0 0h0m2 0h0m4 0h0m15 0h0m5 0h0m20 0h0m82 0h0m111 0h0m6 0h0m20 0h0m4 0h0m20 0h0m-334 1h0m7 0h0m4 0h0m7 0h0m8 0h0m1 0h0m3 0h0m1 0h0m0 0h0m1 0h0m6 0h0m2 0h0m4 0h0m2 0h0m0 0h0m2 0h0m5 0h0m2 0h0m7 0h0m128 0h0m68 0h0m37 0h0m10 0h0m12 0h0m-325 1h0m20 0h0m2 0h0m2 0h0m3 0h0m0 0h0m1 0h0m0 0h0m0 0h0m3 0h0m2 0h0m3 0h0m8 0h0m0 0h0m2 0h0m0 0h0m2 0h0m1 0h0m2 0h0m1 0h0m0 0h0m1 0h0m0 0h0m2 0h0m0 0h0m3 0h0m2 0h0m0 0h0m6 0h0m66 0h0m179 0h0m7 0h0m11 0h0m-314 1h0m4 0h0m4 0h0m0 0h0m2 0h0m6 0h0m2 0h0m4 0h0m0 0h0m1 0h0m2 0h0m1 0h0m3 0h0m2 0h0m2 0h0m2 0h0m2 0h0m1 0h0m2 0h0m1 0h0m11 0h0m169 0h0m27 0h0m62 0h0m15 0h0m-321 1h0m3 0h0m8 0h0m1 0h0m1 0h0m1 0h0m1 0h0m0 0h0m1 0h0m2 0h0m0 0h0m2 0h0m3 0h0m3 0h0m1 0h0m2 0h0m1 0h0m5 0h0m8 0h0m3 0h0m1 0h0m10 0h0m21 0h0m183 0h0m36 0h0m19 0h0m-330 1h0m1 0h0m8 0h0m9 0h0m1 0h0m10 0h0m0 0h0m1 0h0m2 0h0m1 0h0m2 0h0m1 0h0m3 0h0m2 0h0m0 0h0m2 0h0m1 0h0m1 0h0m12 0h0m2 0h0m2 0h0m2 0h0m25 0h0m154 0h0m37 0h0m21 0h0m0 0h0m11 0h0m13 0h0m12 0h0m-331 1h0m9 0h0m5 0h0m2 0h0m4 0h0m1 0h0m7 0h0m1 0h0m2 0h0m2 0h0m3 0h0m3 0h0m2 0h0m1 0h0m4 0h0m4 0h0m5 0h0m0 0h0m10 0h0m108 0h0m15 0h0m50 0h0m19 0h0m31 0h0m1 0h0m28 0h0m-310 1h0m9 0h0m0 0h0m11 0h0m1 0h0m1 0h0m4 0h0m2 0h0m1 0h0m1 0h0m4 0h0m2 0h0m4 0h0m5 0h0m1 0h0m4 0h0m8 0h0m198 0h0m47 0h0m3 0h0m-301 1h0m0 0h0m1 0h0m2 0h0m0 0h0m3 0h0m1 0h0m0 0h0m6 0h0m0 0h0m7 0h0m2 0h0m5 0h0m2 0h0m6 0h0m2 0h0m1 0h0m2 0h0m9 0h0m53 0h0m-123 1h0m13 0h0m16 0h0m2 0h0m0 0h0m1 0h0m1 0h0m1 0h0m1 0h0m1 0h0m2 0h0m1 0h0m0 0h0m0 0h0m6 0h0m0 0h0m6 0h0m0 0h0m1 0h0m0 0h0m5 0h0m7 0h0m9 0h0m209 0h0m51 0h0m-321 1h0m1 0h0m7 0h0m10 0h0m1 0h0m1 0h0m1 0h0m0 0h0m2 0h0m1 0h0m6 0h0m3 0h0m1 0h0m1 0h0m1 0h0m0 0h0m12 0h0m3 0h0m11 0h0m143 0h0m123 0h0m-349 1h0m6 0h0m30 0h0m1 0h0m4 0h0m1 0h0m4 0h0m1 0h0m0 0h0m2 0h0m2 0h0m0 0h0m1 0h0m2 0h0m1 0h0m1 0h0m25 0h0m226 0h0m15 0h0m-294 1h0m6 0h0m5 0h0m6 0h0m1 0h0m1 0h0m3 0h0m2 0h0m5 0h0m4 0h0m1 0h0m12 0h0m166 0h0m23 0h0m20 0h0m21 0h0m27 0h0m-307 1h0m8 0h0m7 0h0m5 0h0m1 0h0m2 0h0m1 0h0m2 0h0m1 0h0m1 0h0m4 0h0m0 0h0m2 0h0m0 0h0m3 0h0m6 0h0m5 0h0m3 0h0m4 0h0m102 0h0m103 0h0m36 0h0m-301 1h0m5 0h0m2 0h0m7 0h0m0 0h0m3 0h0m3 0h0m1 0h0m2 0h0m4 0h0m2 0h0m2 0h0m1 0h0m2 0h0m0 0h0m7 0h0m1 0h0m0 0h0m5 0h0m10 0h0m10 0h0m127 0h0m18 0h0m86 0h0m-283 1h0m1 0h0m5 0h0m1 0h0m2 0h0m1 0h0m3 0h0m4 0h0m1 0h0m1 0h0m2 0h0m0 0h0m2 0h0m3 0h0m23 0h0m237 0h0m-286 1h0m2 0h0m1 0h0m2 0h0m2 0h0m4 0h0m1 0h0m3 0h0m2 0h0m1 0h0m10 0h0m10 0h0m15 0h0m231 0h0m3 0h0m-287 1h0m4 0h0m7 0h0m2 0h0m1 0h0m3 0h0m2 0h0m4 0h0m4 0h0m20 0h0m7 0h0m212 0h0m18 0h0m-293 1h0m2 0h0m3 0h0m3 0h0m8 0h0m1 0h0m6 0h0m2 0h0m1 0h0m6 0h0m14 0h0m242 0h0m37 0h0m-327 1h0m6 0h0m7 0h0m3 0h0m4 0h0m1 0h0m3 0h0m4 0h0m0 0h0m2 0h0m15 0h0m1 0h0m10 0h0m172 0h0m16 0h0m71 0h0m-301 1h0m1 0h0m5 0h0m2 0h0m1 0h0m4 0h0m2 0h0m0 0h0m5 0h0m3 0h0m3 0h0m1 0h0m0 0h0m262 0h0m-321 1h0m25 0h0m11 0h0m0 0h0m2 0h0m1 0h0m2 0h0m2 0h0m2 0h0m2 0h0m3 0h0m1 0h0m0 0h0m6 0h0m2 0h0m0 0h0m7 0h0m3 0h0m216 0h0m23 0h0m-285 1h0m9 0h0m7 0h0m5 0h0m1 0h0m8 0h0m11 0h0m2 0h0m0 0h0m8 0h0m100 0h0m116 0h0m4 0h0m34 0h0m-297 1h0m10 0h0m2 0h0m3 0h0m0 0h0m4 0h0m1 0h0m1 0h0m3 0h0m1 0h0m106 0h0m140 0h0m-286 1h0m0 0h0m1 0h0m6 0h0m12 0h0m1 0h0m8 0h0m4 0h0m3 0h0m3 0h0m2 0h0m6 0h0m4 0h0m2 0h0m4 0h0m36 0h0m158 0h0m2 0h0m56 0h0m-294 1h0m7 0h0m0 0h0m10 0h0m1 0h0m1 0h0m1 0h0m13 0h0m8 0h0m157 0h0m32 0h0m47 0h0m2 0h0m10 0h0m-330 1h0m26 0h0m16 0h0m1 0h0m4 0h0m1 0h0m3 0h0m7 0h0m2 0h0m3 0h0m4 0h0m13 0h0m2 0h0m3 0h0m-54 1h0m12 0h0m4 0h0m8 0h0m93 0h0m-110 1h0m10 0h0m1 0h0m6 0h0m5 0h0m1 0h0m2 0h0m68 0h0m75 0h0m42 0h0m19 0h0m19 0h0m-261 1h0m12 0h0m8 0h0m8 0h0m8 0h0m3 0h0m8 0h0m180 0h0m-204 1h0m23 0h0m0 0h0m36 0h0m147 0h0m-213 1h0m4 0h0m1 0h0m12 0h0m4 0h0m2 0h0m15 0h0m13 0h0m75 0h0m-127 1h0m9 0h0m0 0h0m3 0h0m0 0h0m3 0h0m27 0h0m-47 1h0m14 0h0m0 0h0m2 0h0m8 0h0m4 0h0m4 0h0m31 0h0m8 0h0m142 0h0m-202 1h0m11 0h0m45 0h0m-62 1h0m4 0h0m3 0h0m11 0h0m25 0h0m1 0h0m-60 1h0m17 0h0m8 0h0m5 0h0m-8 1h0m11 0h0m1 0h0m76 0h0m114 0h0m20 0h0m-206 1h0m209 0h0m4 0h0m7 0h0m-226 1h0m40 0h0m-48 1h0m250 0h0m-238 1h0m1 0h0m11 0h0m-22 1h0m12 0h0m137 0h0m99 0h0m3 0h0m-251 1h0m16 0h0m151 0h0m-167 1h0m16 0h0m5 0h0m-28 1h0m57 0h0m-56 1h0m1 0h0m46 0h0m-58 1h0m143 0h0m82 0h0m-222 2h0m35 0h0m102 0h0m59 0h0m21 0h0m-223 1h0m33 0h0m23 0h0m104 0h0m29 0h0m42 0h0m-193 1h0m-31 1h0m9 0h0m160 0h0m22 0h0m-184 1h0m46 0h0m18 2h0m132 0h0m-179 1h0m69 0h0m-82 1h0m137 2h0m-114 1h0m87 0h0m70 1h0m-171 1h0m127 1h0m-72 1h0m-50 1h0m149 0h0m5 0h0m14 0h0m-38 1h0m52 0h0m-12 2h0m-10 1h0m-34 1h0m37 0h0m-179 2h0m101 2h0m5 0h0m-98 2h0m14 2h0m9 1h0"/>
<path stroke="#584285" d="M112 138h0m-4 4h0m1 3h0m14 0h0m-34 1h0m21 0h0m2 5h0m2 4h0m15 5h0m-27 11h0m-3 2h0m11 3h0m2 3h0m-6 1h0m15 1h0m-27 5h0m46 0h0m-19 1h0m7 0h0m5 0h0m-27 2h0m13 0h0m-6 2h0m-4 2h0m246 2h0m-251 1h0m304 0h0m-306 2h0m269 5h0m-271 1h0m299 1h0m-278 2h0m4 3h0m63 1h0m-84 2h0m11 1h0m33 0h0m178 0h0m79 0h0m-269 2h0m72 1h0m18 0h0m-73 3h0m272 0h0m-279 1h0m67 2h0m89 0h0m20 0h0m6 0h0m52 1h0m19 0h0m40 0h0m-316 1h0m9 0h0m152 0h0m-166 1h0m239 0h0m27 0h0m-273 1h0m2 0h0m5 0h0m308 0h0m-315 1h0m-13 1h0m268 0h0m35 1h0m30 0h0m-3 1h0m-300 1h0m150 0h0m-168 1h0m180 0h0m-161 1h0m44 0h0m131 0h0m-161 1h0m153 0h0m135 0h0m13 1h0m-316 1h0m136 0h0m-39 1h0m5 0h0m-60 1h0m283 0h0m-344 1h0m204 0h0m44 0h0m-125 1h0m-110 1h0m12 0h0m262 0h0m-25 1h0m54 0h0m9 0h0m17 0h0m-2 1h0m-295 1h0m4 0h0m81 0h0m115 0h0m-14 1h0m-201 1h0m19 0h0m13 0h0m-41 2h0m124 0h0m174 0h0m-232 1h0m84 0h0m168 0h0m-334 1h0m11 0h0m147 0h0m172 0h0m-215 1h0m10 0h0m-140 1h0m258 0h0m6 0h0m95 0h0m-283 1h0m-53 1h0m15 1h0m316 0h0m-299 2h0m217 1h0m-2 1h0m-152 1h0m98 0h0m53 0h0m-235 1h0m189 0h0m-163 1h0m110 0h0m139 0h0m-132 1h0m69 0h0m-198 1h0m-30 2h0m60 0h0m129 0h0m-173 1h0m39 0h0m254 0h0m46 0h0m-350 1h0m328 0h0m12 0h0m-40 1h0m46 1h0m-318 1h0m-43 1h0m41 0h0m23 0h0m167 0h0m-216 1h0m13 0h0m34 0h0m58 0h0m48 1h0m44 0h0m-45 1h0m163 0h0m-47 1h0m-227 1h0m-51 2h0m42 0h0m170 0h0m133 0h0m-327 1h0m14 1h0m76 0h0m33 0h0m-64 1h0m117 0h0m141 1h0m-292 1h0m6 0h0m-49 2h0m82 0h0m86 0h0m149 0h0m13 0h0m-322 1h0m247 0h0m80 0h0m-327 1h0m8 0h0m39 0h0m192 2h0m-167 1h0m31 0h0m-106 1h0m3 0h0m164 0h0m101 0h0m52 2h0m27 1h0m-361 1h0m9 0h0m29 0h0m-22 1h0m-14 1h0m29 0h0m18 0h0m286 0h0m-182 2h0m68 0h0m130 0h0m15 0h0m9 0h0m-345 1h0m216 0h0m-220 1h0m319 0h0m-329 1h0m45 1h0m156 0h0m19 0h0m-227 1h0m21 0h0m251 1h0m82 0h0m3 0h0m8 0h0m2 0h0m-368 1h0m20 0h0m179 0h0m10 0h0m145 0h0m-350 1h0m180 0h0m-46 1h0m84 0h0m75 0h0m24 0h0m46 0h0m-250 1h0m137 0h0m112 0h0m4 0h0m-283 1h0m113 0h0m-172 1h0m-12 2h0m5 0h0m22 0h0m-12 1h0m260 0h0m52 0h0m29 0h0m-245 1h0m131 0h0m-235 1h0m325 0h0m-72 1h0m69 0h0m-365 2h0m275 0h0m16 0h0m16 0h0m57 0h0m26 0h0m-374 1h0m5 0h0m11 0h0m6 0h0m123 0h0m118 0h0m79 0h0m10 0h0m5 0h0m-345 1h0m317 0h0m32 0h0m-366 1h0m25 0h0m296 0h0m24 0h0m-296 1h0m270 0h0m-282 1h0m14 0h0m79 0h0m39 0h0m162 0h0m8 0h0m47 0h0m-361 1h0m6 0h0m26 0h0m38 0h0m141 0h0m87 0h0m-231 1h0m252 0h0m24 0h0m-337 1h0m15 0h0m142 0h0m122 0h0m22 0h0m4 0h0m7 0h0m11 0h0m4 0h0m-323 1h0m1 0h0m276 0h0m26 0h0m5 0h0m-320 1h0m8 0h0m285 0h0m13 0h0m6 0h0m-322 1h0m242 0h0m113 0h0m-289 1h0m25 0h0m126 0h0m100 0h0m-307 1h0m8 0h0m17 0h0m233 0h0m49 0h0m10 0h0m16 0h0m-333 1h0m4 0h0m56 0h0m99 0h0m82 0h0m60 0h0m14 0h0m14 0h0m-338 1h0m327 0h0m9 0h0m33 0h0m-115 1h0m53 0h0m14 0h0m17 0h0m-377 1h0m71 0h0m38 0h0m30 0h0m-110 1h0m0 0h0m152 0h0m205 0h0m-341 1h0m11 0h0m7 0h0m2 0h0m0 0h0m73 0h0m193 0h0m44 0h0m5 0h0m-358 1h0m5 0h0m19 0h0m4 0h0m41 0h0m17 0h0m236 0h0m3 0h0m13 0h0m1 0h0m29 0h0m-360 1h0m37 0h0m4 0h0m36 0h0m139 0h0m64 0h0m20 0h0m1 0h0m0 0h0m32 0h0m8 0h0m30 0h0m-53 1h0m11 0h0m-302 1h0m7 0h0m4 0h0m2 0h0m27 0h0m253 0h0m15 0h0m35 0h0m-364 1h0m11 0h0m4 0h0m12 0h0m14 0h0m39 0h0m225 0h0m17 0h0m1 0h0m22 0h0m1 0h0m-367 1h0m41 0h0m14 0h0m191 0h0m90 0h0m14 0h0m-329 1h0m32 0h0m7 0h0m19 0h0m68 0h0m57 0h0m136 0h0m16 0h0m0 0h0m-327 1h0m49 0h0m246 0h0m0 0h0m7 0h0m1 0h0m-319 1h0m21 0h0m7 0h0m1 0h0m13 0h0m2 0h0m58 0h0m147 0h0m38 0h0m53 0h0m8 0h0m-350 1h0m16 0h0m3 0h0m11 0h0m21 0h0m31 0h0m196 0h0m41 0h0m3 0h0m4 0h0m3 0h0m17 0h0m-320 1h0m32 0h0m251 0h0m6 0h0m4 0h0m20 0h0m-320 1h0m4 0h0m3 0h0m6 0h0m1 0h0m237 0h0m24 0h0m2 0h0m5 0h0m27 0h0m8 0h0m35 0h0m-362 1h0m36 0h0m271 0h0m-308 1h0m20 0h0m9 0h0m11 0h0m258 0h0m25 0h0m-315 1h0m27 0h0m4 0h0m129 0h0m124 0h0m23 0h0m14 0h0m21 0h0m-344 1h0m5 0h0m45 0h0m17 0h0m199 0h0m38 0h0m-315 1h0m12 0h0m10 0h0m6 0h0m8 0h0m13 0h0m167 0h0m2 0h0m60 0h0m45 0h0m13 0h0m10 0h0m17 0h0m1 0h0m-345 1h0m6 0h0m2 0h0m2 0h0m20 0h0m20 0h0m153 0h0m63 0h0m20 0h0m7 0h0m26 0h0m-326 1h0m8 0h0m14 0h0m9 0h0m4 0h0m3 0h0m237 0h0m28 0h0m1 0h0m3 0h0m4 0h0m6 0h0m4 0h0m1 0h0m-304 1h0m3 0h0m16 0h0m2 0h0m213 0h0m9 0h0m46 0h0m3 0h0m22 0h0m-346 1h0m7 0h0m11 0h0m3 0h0m5 0h0m7 0h0m3 0h0m9 0h0m46 0h0m145 0h0m61 0h0m3 0h0m2 0h0m7 0h0m2 0h0m6 0h0m1 0h0m-288 1h0m22 0h0m10 0h0m3 0h0m243 0h0m7 0h0m21 0h0m26 0h0m-346 1h0m263 0h0m25 0h0m0 0h0m15 0h0m8 0h0m2 0h0m-320 1h0m10 0h0m2 0h0m13 0h0m246 0h0m-266 1h0m47 0h0m245 0h0m12 0h0m-299 1h0m16 0h0m270 0h0m7 0h0m0 0h0m26 0h0m-315 1h0m18 0h0m13 0h0m49 0h0m171 0h0m21 0h0m7 0h0m29 0h0m12 0h0m-357 1h0m21 0h0m7 0h0m4 0h0m12 0h0m7 0h0m8 0h0m13 0h0m226 0h0m-261 1h0m11 0h0m34 0h0m-77 1h0m14 0h0m6 0h0m7 0h0m3 0h0m9 0h0m3 0h0m2 0h0m4 0h0m6 0h0m-39 1h0m10 0h0m3 0h0m6 0h0m5 0h0m29 0h0m4 0h0m236 0h0m11 0h0m7 0h0m2 0h0m0 0h0m-297 1h0m1 0h0m3 0h0m3 0h0m17 0h0m216 0h0m36 0h0m-286 1h0m8 0h0m2 0h0m5 0h0m7 0h0m8 0h0m2 0h0m264 0h0m2 0h0m-311 1h0m21 0h0m7 0h0m0 0h0m4 0h0m14 0h0m153 0h0m36 0h0m80 0h0m24 0h0m-333 1h0m28 0h0m1 0h0m1 0h0m8 0h0m3 0h0m15 0h0m146 0h0m57 0h0m39 0h0m18 0h0m-289 1h0m7 0h0m4 0h0m1 0h0m-30 1h0m15 0h0m25 0h0m35 0h0m126 0h0m36 0h0m37 0h0m0 0h0m9 0h0m5 0h0m-290 1h0m5 0h0m10 0h0m0 0h0m6 0h0m101 0h0m161 0h0m23 0h0m-306 1h0m1 0h0m8 0h0m1 0h0m17 0h0m15 0h0m11 0h0m226 0h0m6 0h0m15 0h0m-287 1h0m5 0h0m6 0h0m16 0h0m225 0h0m14 0h0m11 0h0m-293 1h0m16 0h0m25 0h0m192 0h0m32 0h0m-299 1h0m40 0h0m12 0h0m7 0h0m4 0h0m6 0h0m188 0h0m33 0h0m-252 1h0m3 0h0m13 0h0m9 0h0m8 0h0m9 0h0m46 0h0m25 0h0m-97 1h0m261 0h0m-268 1h0m0 0h0m1 0h0m11 0h0m3 0h0m6 0h0m11 0h0m-43 1h0m0 0h0m14 0h0m3 0h0m3 0h0m1 0h0m0 0h0m13 0h0m1 0h0m118 0h0m96 0h0m-235 1h0m0 0h0m1 0h0m15 0h0m247 0h0m4 0h0m32 0h0m-311 1h0m4 0h0m2 0h0m1 0h0m13 0h0m14 0h0m21 0h0m-51 1h0m12 0h0m15 0h0m9 0h0m214 0h0m-262 1h0m6 0h0m17 0h0m5 0h0m11 0h0m268 0h0m-296 1h0m15 0h0m2 0h0m3 0h0m9 0h0m-25 1h0m19 0h0m0 0h0m14 0h0m4 0h0m3 0h0m82 0h0m98 0h0m-202 1h0m2 0h0m6 0h0m33 0h0m171 0h0m56 0h0m-306 1h0m39 0h0m4 0h0m10 0h0m3 0h0m196 0h0m22 0h0m-258 1h0m13 0h0m17 0h0m1 0h0m26 0h0m126 0h0m81 0h0m-271 1h0m7 0h0m9 0h0m3 0h0m1 0h0m5 0h0m7 0h0m5 0h0m-62 1h0m39 1h0m1 0h0m14 0h0m10 0h0m200 0h0m40 0h0m-272 1h0m6 0h0m3 0h0m1 0h0m3 0h0m1 0h0m8 0h0m196 0h0m-242 1h0m27 0h0m12 0h0m24 0h0m218 0h0m-236 1h0m12 0h0m18 0h0m29 0h0m30 0h0m-138 1h0m35 0h0m13 0h0m239 0h0m-221 1h0m51 0h0m-84 1h0m1 1h0m14 0h0m15 0h0m88 0h0m137 0h0m-238 1h0m16 0h0m-39 1h0m10 0h0m36 0h0m224 0h0m-257 1h0m3 0h0m116 0h0m-132 1h0m124 0h0m131 0h0m-274 1h0m12 0h0m6 0h0m88 0h0m37 0h0m128 0h0m-243 1h0m12 0h0m4 0h0m78 1h0m-105 1h0m20 0h0m127 1h0m83 0h0m-208 1h0m-4 2h0m196 2h0m24 0h0m2 0h0m-189 2h0m84 0h0m-104 1h0m191 2h0m-222 2h0m15 0h0m205 1h0m12 0h0m-223 3h0m104 3h0m5 0h0m-15 1h0m61 0h0m-136 2h0m178 0h0m-178 1h0m133 3h0m-44 1h0m27 2h0m28 4h0m-133 11h0m-11 5h0"/>
<path stroke="#57498a" d="M185 193h0m-13 4h0m240 5h0m-50 13h0m66 1h0m-334 10h0m248 2h0m-49 9h0m44 5h0m83 5h0m-20 9h0m-70 2h0m81 1h0m-190 8h0m216 4h0m-244 1h0m24 6h0m234 1h0m-135 5h0m69 0h0m86 3h0m14 2h0m-83 4h0m83 0h0m-139 4h0m-20 1h0m142 1h0m-81 1h0m66 1h0m-86 1h0m-53 2h0m143 0h0m6 1h0m19 0h0m-302 2h0m298 0h0m-9 1h0m-312 1h0m92 1h0m217 0h0m-347 5h0m30 1h0m257 1h0m-311 1h0m310 0h0m-89 2h0m120 0h0m32 0h0m-46 1h0m-197 1h0m214 0h0m13 0h0m-65 1h0m-258 1h0m-28 1h0m350 0h0m-336 1h0m244 0h0m92 0h0m-302 3h0m287 0h0m17 0h0m-157 1h0m-142 1h0m236 0h0m-241 1h0m-14 2h0m273 0h0m25 1h0m-18 1h0m-77 1h0m104 0h0m-310 1h0m302 0h0m7 0h0m-3 1h0m2 0h0m-276 1h0m255 0h0m34 0h0m-351 1h0m2 0h0m335 0h0m2 2h0m-6 1h0m5 0h0m-6 2h0m25 0h0m-327 1h0m250 1h0m45 1h0m-76 1h0m71 0h0m12 0h0m20 0h0m-8 1h0m11 0h0m-341 1h0m17 0h0m292 0h0m5 2h0m-293 2h0m256 0h0m-262 1h0m320 0h0m-280 2h0m70 0h0m-119 1h0m84 0h0m184 0h0m11 1h0m7 1h0m4 0h0m-280 1h0m-34 2h0m71 1h0m257 0h0m-296 2h0m2 0h0m152 1h0m-162 1h0m6 0h0m13 0h0m4 0h0m80 1h0m161 0h0m48 0h0m-339 1h0m23 1h0m13 0h0m27 0h0m248 0h0m-291 1h0m10 0h0m286 0h0m-289 1h0m6 0h0m31 0h0m222 0h0m28 0h0m-247 1h0m212 1h0m61 1h0m-282 1h0m-43 1h0m307 0h0m-309 2h0m22 0h0m12 0h0m9 0h0m16 0h0m79 0h0m-120 1h0m283 0h0m-277 1h0m259 0h0m-248 2h0m17 0h0m-10 1h0m240 1h0m-254 3h0m20 0h0m257 0h0m1 0h0m-105 1h0m83 0h0m-27 1h0m-194 2h0m-32 2h0m27 1h0m230 0h0m-59 1h0m-209 1h0m-45 2h0m42 0h0m31 0h0m147 1h0m56 0h0m-207 1h0m-9 2h0m13 1h0m129 0h0m81 0h0m-221 3h0m2 0h0m-14 1h0m-4 1h0m23 0h0m-31 1h0m179 0h0m-153 1h0m-12 2h0m10 0h0m9 1h0m10 0h0m167 2h0m-207 1h0m16 0h0m92 2h0m73 10h0m-61 9h0"/>
<path stroke="#554f8d" d="M316 244h0m102 49h0m-257 15h0m302 23h0m-25 3h0m3 2h0m15 4h0m-7 4h0m5 0h0m-24 6h0m-43 9h0m35 1h0m-294 3h0m261 0h0m29 0h0m-293 6h0m298 2h0m-11 7h0m-256 4h0m234 1h0m-237 2h0m249 1h0m-252 6h0m16 1h0m-55 1h0m34 2h0m7 0h0m1 1h0m0 0h0m247 1h0m-251 1h0m17 0h0m-34 2h0m23 0h0m16 0h0m-23 1h0m2 0h0m4 0h0m-13 1h0m9 0h0m-8 1h0m14 0h0m-20 2h0m1 0h0m14 0h0m250 0h0m-259 1h0m1 0h0m8 0h0m5 1h0m-15 1h0m6 0h0m-26 1h0m20 0h0m6 0h0m10 3h0m-15 1h0m38 0h0m-36 2h0m19 2h0m-15 1h0m9 15h0m14 6h0"/>
<path stroke="#52568f" d="M449 338h0m-329 7h0m284 8h0m-28 17h0m19 5h0m4 6h0m-5 1h0m-24 9h0m29 0h0m-246 1h0m-4 2h0m3 0h0m3 2h0m19 0h0m163 2h0m-9 1h0m63 0h0m-252 1h0m-5 1h0m5 2h0m8 0h0m-9 1h0m6 0h0m24 0h0m-37 2h0m13 0h0m-9 1h0m20 1h0m11 0h0m-12 2h0m195 0h0m-1 1h0m-215 1h0m37 0h0m158 0h0m27 0h0m-190 2h0m13 0h0m-29 2h0m18 1h0m197 0h0m-52 4h0m-159 3h0m2 0h0m1 4h0m17 0h0m0 1h0m-27 3h0m-3 1h0m176 0h0m-186 8h0m32 2h0"/>
<path stroke="#505d92" d="M393 375h0m0 5h0m-74 2h0m74 3h0m0 2h0m-232 3h0m241 3h0m-229 3h0m232 0h0m-261 1h0m188 0h0m-195 2h0m1 0h0m-4 3h0m-2 2h0m18 0h0m244 1h0m-247 1h0m264 1h0m-259 1h0m-14 2h0m9 1h0m8 0h0m0 1h0m212 0h0m25 1h0m-266 1h0m12 0h0m251 0h0m-248 3h0m0 0h0m30 0h0m-8 6h0m-10 1h0m3 0h0m129 6h0m-147 4h0m10 0h0m226 4h0m-217 7h0"/>
<path stroke="#4d6393" d="M383 365h0m-32 15h0m51 0h0m-54 10h0m-194 1h0m169 2h0m27 0h0m-192 2h0m234 1h0m-208 1h0m166 3h0m-213 1h0m240 0h0m-236 1h0m11 1h0m192 0h0m-190 2h0m-19 1h0m10 1h0m-7 3h0m15 1h0m243 0h0m-243 3h0m3 1h0m-12 2h0m10 0h0m35 0h0m-44 1h0m2 0h0m-2 2h0m4 0h0m164 0h0m-163 2h0m5 1h0m23 0h0m-17 1h0m111 3h0m-103 2h0m-30 3h0m17 3h0m11 2h0m193 2h0m-190 4h0m-24 3h0m9 2h0m61 0h0"/>
<path stroke="#4a6994" d="M322 372h0m46 1h0m19 7h0m4 2h0m-25 6h0m29 3h0m-23 1h0m-4 3h0m-224 1h0m18 0h0m-19 2h0m11 0h0m216 0h0m39 0h0m-257 2h0m252 0h0m-58 3h0m29 0h0m-225 1h0m3 1h0m147 0h0m-156 1h0m232 0h0m-220 1h0m4 2h0m90 0h0m-97 1h0m11 0h0m18 0h0m-25 1h0m0 0h0m9 0h0m-21 3h0m3 1h0m5 1h0m115 0h0m-117 1h0m4 0h0m-14 1h0m33 0h0m84 0h0m-105 1h0m9 1h0m12 0h0m136 0h0m-161 1h0m3 0h0m7 0h0m167 0h0m-62 2h0m-109 2h0m11 0h0m148 0h0m76 1h0m-245 3h0m11 0h0m-13 1h0m39 1h0m-23 1h0m3 0h0m11 0h0m-45 2h0m33 0h0m-14 1h0m18 0h0m-14 1h0m10 1h0m-6 1h0m11 2h0m0 0h0m-23 4h0m18 0h0m62 0h0m-55 1h0m-4 1h0m82 6h0"/>
<path stroke="#486e94" d="M395 369h0m-11 2h0m0 3h0m-57 4h0m42 3h0m35 3h0m-7 1h0m-19 5h0m-9 7h0m5 0h0m18 1h0m-52 2h0m21 0h0m26 1h0m-100 1h0m76 0h0m24 0h0m-83 1h0m39 1h0m12 1h0m-200 1h0m185 0h0m-47 1h0m44 0h0m31 0h0m18 0h0m-111 1h0m47 0h0m-183 1h0m14 0h0m9 0h0m-12 3h0m151 0h0m24 0h0m7 0h0m62 0h0m8 1h0m-252 1h0m208 0h0m31 0h0m-43 1h0m-186 1h0m172 1h0m-197 3h0m193 0h0m-174 1h0m25 0h0m-8 3h0m132 4h0m-135 4h0m4 0h0m2 1h0m7 0h0m-15 1h0m144 0h0m-145 1h0m-33 1h0m106 1h0m65 1h0m-149 1h0m-15 1h0m142 0h0m-111 4h0m-16 9h0m0 2h0"/>
<path stroke="#457495" d="M373 367h0m13 13h0m-59 3h0m-6 2h0m-9 2h0m40 3h0m-3 2h0m17 5h0m9 0h0m-91 1h0m65 1h0m-65 1h0m111 0h0m-236 4h0m168 2h0m-5 3h0m-177 1h0m93 2h0m39 1h0m54 0h0m7 2h0m5 1h0m-199 2h0m12 0h0m90 0h0m88 0h0m3 0h0m30 0h0m29 0h0m-252 1h0m9 0h0m11 0h0m229 0h0m-218 1h0m-29 1h0m78 0h0m-78 1h0m22 0h0m-15 1h0m20 0h0m-15 1h0m222 0h0m-52 1h0m-184 1h0m18 2h0m161 0h0m-17 1h0m-159 1h0m16 0h0m10 0h0m161 1h0m-174 1h0m6 0h0m5 1h0m192 0h0m-105 1h0m15 0h0m-109 1h0m37 0h0m-27 1h0m60 0h0m-66 1h0m6 0h0m2 0h0m-13 2h0m7 0h0m3 0h0m43 1h0m7 0h0m55 1h0m-126 2h0m21 0h0m9 1h0m-12 1h0m-12 1h0m51 0h0m-42 2h0m13 0h0m-15 4h0m73 0h0m-97 2h0m177 0h0m-147 1h0m-21 3h0"/>
<path stroke="#437995" d="M388 362h0m-20 4h0m11 12h0m-13 1h0m-29 2h0m6 8h0m40 5h0m21 1h0m-14 1h0m-157 1h0m68 1h0m17 0h0m66 2h0m-100 1h0m-10 1h0m39 1h0m19 1h0m26 4h0m26 5h0m-232 2h0m12 0h0m193 0h0m-197 1h0m185 0h0m-183 1h0m135 1h0m-151 1h0m115 0h0m70 0h0m-150 1h0m87 0h0m-113 2h0m6 0h0m108 0h0m-69 1h0m-49 1h0m24 0h0m-5 2h0m134 0h0m20 0h0m-170 1h0m151 2h0m-84 1h0m-68 1h0m1 0h0m12 3h0m-3 2h0m5 0h0m41 0h0m-36 1h0m97 0h0m-108 1h0m13 0h0m-2 1h0m-27 3h0m17 0h0m93 0h0m12 0h0m-131 1h0m22 3h0m68 0h0m-59 1h0m-11 2h0m11 0h0m-2 3h0m5 0h0m32 1h0m29 0h0"/>
<path stroke="#407f95" d="M270 387h0m25 5h0m24 0h0m36 0h0m-49 3h0m-20 1h0m-11 1h0m37 2h0m3 1h0m-3 2h0m50 2h0m-53 1h0m73 0h0m-243 2h0m124 0h0m68 0h0m22 1h0m-22 1h0m7 0h0m-62 1h0m15 1h0m9 0h0m-74 2h0m34 0h0m-113 1h0m172 0h0m-170 1h0m21 1h0m-49 1h0m28 0h0m51 1h0m35 1h0m49 0h0m20 0h0m0 1h0m-25 2h0m-110 1h0m19 0h0m74 1h0m56 0h0m-160 1h0m155 1h0m-149 2h0m-1 1h0m-22 1h0m9 0h0m123 0h0m-104 1h0m-2 1h0m116 0h0m21 0h0m6 0h0m-165 1h0m198 0h0m-202 1h0m46 1h0m123 0h0m-117 1h0m19 0h0m31 0h0m87 0h0m-171 1h0m135 0h0m36 1h0m-184 2h0m18 0h0m10 0h0m14 0h0m56 1h0m9 0h0m-95 4h0m0 0h0m4 0h0m8 0h0m34 1h0m63 1h0m-56 2h0m-50 1h0m6 0h0m57 0h0m-60 1h0m1 0h0m3 0h0m0 6h0m-15 3h0m8 0h0"/>
<path stroke="#3e8595" d="M357 373h0m0 4h0m12 9h0m11 1h0m-2 1h0m-14 3h0m-45 1h0m-32 1h0m46 2h0m5 0h0m-2 1h0m13 6h0m-39 1h0m33 0h0m-68 1h0m103 2h0m-44 1h0m-51 2h0m29 3h0m-68 1h0m10 1h0m88 0h0m21 0h0m-44 1h0m-81 1h0m41 0h0m33 0h0m-149 2h0m75 0h0m-6 1h0m85 0h0m-50 2h0m-1 1h0m-103 1h0m79 0h0m78 0h0m-77 1h0m-109 1h0m115 0h0m16 0h0m72 2h0m-173 1h0m97 0h0m20 0h0m27 1h0m10 0h0m-182 2h0m140 1h0m-30 1h0m-86 1h0m22 0h0m39 0h0m83 1h0m-149 1h0m16 1h0m115 0h0m-116 1h0m9 0h0m-29 1h0m75 1h0m-81 1h0m126 0h0m-109 1h0m135 0h0m28 0h0m-142 3h0m20 0h0m25 0h0m29 0h0m-78 1h0m75 2h0m37 0h0m-134 4h0m-11 1h0m15 0h0m-3 1h0m9 0h0m79 0h0m6 0h0m-84 1h0m3 0h0m-7 1h0m-6 7h0"/>
<path stroke="#3c8a95" d="M367 360h0m-22 12h0m-93 19h0m90 3h0m31 4h0m33 0h0m-83 1h0m-49 10h0m36 2h0m-22 4h0m17 0h0m-64 1h0m61 0h0m-49 1h0m17 0h0m17 0h0m-9 1h0m-133 1h0m88 0h0m54 1h0m-24 2h0m70 1h0m14 0h0m-113 2h0m111 0h0m-171 1h0m96 0h0m6 0h0m-94 1h0m96 1h0m-100 1h0m-6 8h0m15 0h0m-29 1h0m57 0h0m-53 2h0m21 0h0m105 0h0m-3 1h0m-117 1h0m70 0h0m-71 1h0m7 0h0m-3 1h0m3 0h0m91 0h0m-90 1h0m-6 2h0m62 0h0m39 0h0m31 1h0m-164 1h0m77 3h0m47 5h0"/>
<path stroke="#3a8f95" d="M307 392h0m-25 2h0m3 3h0m43 5h0m-42 1h0m-59 9h0m167 0h0m-197 3h0m17 1h0m89 2h0m12 0h0m-48 2h0m30 0h0m-71 3h0m51 0h0m-48 1h0m53 0h0m-13 3h0m39 1h0m-50 1h0m38 1h0m34 0h0m-49 1h0m-3 1h0m-40 1h0m-72 2h0m135 0h0m-151 1h0m91 0h0m-83 2h0m123 1h0m-12 1h0m-97 2h0m94 0h0m-98 1h0m40 1h0m91 1h0m-126 1h0m-13 3h0m1 3h0m43 0h0m12 0h0m-45 2h0m-4 1h0m56 4h0m-64 1h0"/>
<path stroke="#389494" d="M304 378h0m-27 25h0m20 0h0m33 13h0m-74 1h0m12 2h0m-15 2h0m-37 1h0m121 0h0m-129 1h0m-35 1h0m66 0h0m112 1h0m-117 2h0m-9 2h0m0 3h0m18 0h0m-19 1h0m75 0h0m-136 2h0m20 1h0m80 0h0m-8 4h0m-40 1h0m-4 1h0m2 2h0m-31 2h0m60 0h0m-72 2h0m2 1h0m73 0h0m-6 1h0m-71 4h0"/>
<path stroke="#379a93" d="M351 389h0m-175 21h0m156 6h0m-60 1h0m12 5h0m-78 5h0m50 1h0m38 2h0m-75 2h0m-24 1h0m60 0h0m-85 3h0m44 0h0m-24 3h0m26 0h0m42 1h0m-3 3h0m-35 3h0m20 0h0m-36 1h0m18 0h0m12 0h0m-10 1h0m-67 2h0m62 0h0m7 0h0m3 0h0m-58 3h0m86 1h0m-42 8h0"/>
<path stroke="#369e92" d="M272 390h0m72 15h0m-46 4h0m46 3h0m4 0h0m-70 1h0m69 0h0m-138 6h0m-3 3h0m43 0h0m102 1h0m-91 1h0m-21 1h0m116 1h0m-141 2h0m-6 2h0m0 4h0m1 1h0m19 2h0m33 2h0m-84 1h0m28 0h0m148 1h0m-60 1h0m-109 1h0m69 2h0m-2 2h0m-26 3h0"/>
<path stroke="#36a490" d="M337 408h0m10 1h0m-102 5h0m6 1h0m-7 1h0m92 0h0m16 3h0m-7 1h0m4 0h0m-9 3h0m1 0h0m6 4h0m-1 5h0m-131 2h0m135 1h0m-177 2h0m77 3h0m-19 6h0m-1 18h0"/>
<path stroke="#37a98e" d="M329 390h0m-94 15h0m109 4h0m3 0h0m-96 4h0m99 1h0m-24 3h0m8 1h0m12 2h0m-15 3h0m7 1h0m10 0h0m1 2h0m-96 1h0m77 0h0m8 1h0m-14 2h0m6 0h0m11 3h0m-8 2h0m-107 1h0m129 0h0m-13 1h0m-132 18h0m30 1h0"/>
<path stroke="#3bae8b" d="M345 406h0m-10 6h0m14 0h0m-98 1h0m87 0h0m0 0h0m9 4h0m-5 2h0m8 0h0m-4 1h0m-131 2h0m109 2h0m26 0h0m-43 3h0m-94 1h0m133 0h0m-15 2h0m20 0h0m3 1h0m-82 2h0m54 1h0m-101 2h0m121 0h0m10 2h0m-61 1h0m30 1h0m-103 1h0m121 1h0m-28 1h0m-110 2h0m154 8h0m-108 7h0"/>
<path stroke="#42b487" d="M332 402h0m7 3h0m6 3h0m-6 1h0m9 6h0m-22 2h0m15 1h0m8 0h0m-9 1h0m12 1h0m-27 2h0m12 0h0m9 0h0m1 0h0m-7 1h0m6 1h0m-15 1h0m-13 1h0m3 0h0m10 0h0m14 1h0m-9 1h0m3 0h0m-52 1h0m35 0h0m13 0h0m8 0h0m8 1h0m-38 1h0m24 0h0m-124 1h0m100 0h0m16 0h0m11 0h0m-3 2h0m9 0h0m-32 1h0m24 0h0m-8 1h0m0 0h0m-1 2h0m4 1h0m24 0h0m-67 1h0m36 0h0m-116 2h0m130 0h0m-7 2h0m-26 6h0"/>
<path stroke="#49b883" d="M341 405h0m2 1h0m-17 3h0m-1 4h0m23 3h0m-33 2h0m7 0h0m28 0h0m-28 1h0m21 0h0m-21 2h0m24 0h0m-5 1h0m-28 1h0m1 0h0m38 0h0m-58 2h0m47 0h0m-34 1h0m29 0h0m-12 1h0m26 0h0m-9 2h0m-46 1h0m18 0h0m4 0h0m20 0h0m5 0h0m8 0h0m-58 1h0m17 0h0m15 1h0m4 1h0m17 2h0m-32 1h0m6 0h0m14 0h0m7 0h0m-19 1h0m27 0h0m-46 5h0m11 0h0m-43 3h0m31 2h0m44 0h0m-51 1h0m19 2h0"/>
<path stroke="#53bd7d" d="M336 413h0m-6 1h0m-27 5h0m18 3h0m4 1h0m3 0h0m0 2h0m-17 1h0m4 2h0m32 0h0m-34 1h0m1 0h0m2 0h0m16 0h0m-1 1h0m17 0h0m-40 1h0m23 0h0m-37 1h0m10 0h0m20 0h0m-28 1h0m8 0h0m9 0h0m8 0h0m3 0h0m29 0h0m-62 1h0m30 0h0m4 0h0m1 0h0m-33 2h0m34 0h0m11 2h0m-43 1h0m27 0h0m-49 1h0m31 1h0m26 0h0m-37 1h0m29 0h0m-24 1h0m-35 1h0m30 0h0m0 0h0m7 0h0m17 1h0m-31 2h0m-6 1h0m30 0h0m-33 1h0m31 0h0m-15 3h0m-12 8h0m-28 1h0"/>
<path stroke="#5cc278" d="M304 416h0m-4 6h0m12 0h0m6 0h0m1 4h0m1 0h0m-17 2h0m-18 1h0m24 1h0m19 0h0m-34 1h0m19 1h0m4 0h0m4 0h0m3 0h0m13 0h0m-44 2h0m20 0h0m-7 1h0m11 0h0m20 0h0m-43 1h0m10 0h0m-19 1h0m27 0h0m29 0h0m-43 1h0m-21 1h0m26 0h0m6 0h0m2 0h0m-44 1h0m10 0h0m64 0h0m-43 1h0m29 0h0m-19 1h0m1 0h0m-12 1h0m5 0h0m-7 2h0m22 0h0m-56 1h0m22 1h0m3 0h0m16 0h0m-17 2h0m-35 1h0m45 0h0m26 1h0m-42 1h0m2 2h0m12 0h0m14 0h0m-49 1h0m54 0h0m-8 6h0"/>
<path stroke="#68c671" d="M284 420h0m37 0h0m-18 3h0m31 0h0m-10 2h0m17 1h0m-20 1h0m-16 2h0m27 0h0m-32 1h0m-26 1h0m9 0h0m21 0h0m0 0h0m9 0h0m23 1h0m-23 1h0m-29 1h0m-10 1h0m-7 1h0m47 0h0m-18 1h0m1 0h0m13 0h0m-48 1h0m32 0h0m9 0h0m-3 1h0m-22 1h0m14 0h0m-12 1h0m20 0h0m42 0h0m-73 1h0m-3 1h0m16 0h0m10 0h0m40 0h0m-55 1h0m13 0h0m-19 1h0m5 0h0m11 0h0m-6 1h0m1 0h0m23 0h0m-46 1h0m11 0h0m8 0h0m38 0h0m-2 1h0m-46 1h0m2 0h0m9 0h0m17 0h0m8 0h0m9 1h0m-1 1h0m-53 1h0m33 0h0m-29 1h0m-9 2h0m24 0h0m-14 2h0m-10 1h0m20 0h0m-18 3h0m14 0h0m-44 5h0m58 1h0m-48 2h0"/>
<path stroke="#74ca6b" d="M288 416h0m24 2h0m-9 2h0m-28 12h0m36 1h0m-14 1h0m-10 2h0m8 0h0m-26 1h0m2 0h0m17 0h0m4 0h0m-36 1h0m26 1h0m2 0h0m21 0h0m-36 1h0m11 1h0m11 0h0m12 1h0m-36 2h0m22 0h0m-4 2h0m4 0h0m-10 1h0m44 0h0m-68 1h0m42 0h0m-51 1h0m17 0h0m16 0h0m16 0h0m-44 1h0m8 0h0m8 0h0m17 0h0m0 0h0m-40 1h0m22 0h0m16 1h0m31 0h0m-50 1h0m15 0h0m-41 1h0m29 0h0m3 0h0m26 1h0m-53 1h0m29 0h0m13 1h0m-39 1h0m18 0h0m-25 1h0m51 0h0m-40 1h0m19 0h0m-10 1h0m19 0h0m-28 5h0m0 0h0"/>
<path stroke="#82ce62" d="M299 424h0m23 2h0m-38 2h0m7 2h0m17 1h0m-45 1h0m20 1h0m1 0h0m-27 1h0m1 4h0m7 0h0m37 0h0m12 0h0m-15 1h0m5 0h0m4 0h0m-7 2h0m-71 1h0m28 0h0m-22 1h0m34 1h0m9 0h0m-17 1h0m7 0h0m-22 1h0m23 0h0m7 0h0m-42 1h0m38 0h0m-6 1h0m20 0h0m-71 1h0m26 0h0m-5 1h0m15 0h0m15 0h0m7 0h0m6 0h0m-67 1h0m20 0h0m41 0h0m2 0h0m-25 1h0m14 0h0m-50 3h0m76 0h0m7 0h0m-52 1h0m-10 1h0m10 0h0m4 0h0m-12 1h0m10 0h0m-15 1h0m45 0h0m-28 1h0m-12 1h0m6 0h0m13 0h0m-21 1h0m5 0h0m25 0h0m15 0h0m5 0h0m-32 1h0m-3 1h0m-28 1h0m13 0h0"/>
<path stroke="#90d259" d="M272 419h0m20 8h0m-6 6h0m-30 2h0m4 0h0m8 1h0m-38 2h0m62 1h0m-31 1h0m1 0h0m24 0h0m-47 1h0m19 0h0m13 0h0m-43 1h0m47 1h0m17 0h0m1 0h0m-8 1h0m-47 1h0m17 0h0m11 0h0m-32 1h0m15 0h0m3 0h0m-16 1h0m13 0h0m16 0h0m19 0h0m-54 2h0m19 0h0m-11 1h0m11 0h0m-16 1h0m13 0h0m-3 1h0m20 0h0m-43 1h0m3 0h0m5 0h0m10 0h0m-31 1h0m27 0h0m10 0h0m35 0h0m-52 1h0m2 0h0m15 1h0m24 0h0m-23 1h0m4 0h0m-18 1h0m3 0h0m2 0h0m2 1h0m29 0h0m-46 1h0m4 0h0m12 0h0m6 0h0m16 0h0m-21 1h0m-12 1h0m25 0h0m-25 2h0m20 0h0m-12 1h0m11 0h0m7 0h0m-37 2h0m31 1h0m-48 1h0m33 0h0m8 0h0m-21 2h0m11 0h0m2 1h0m-34 1h0m37 3h0m-16 1h0m17 0h0"/>
<path stroke="#9ed551" d="M294 433h0m-23 2h0m-70 6h0m46 0h0m21 1h0m-49 1h0m50 0h0m-9 1h0m2 0h0m-38 1h0m6 0h0m5 0h0m3 0h0m15 0h0m-14 1h0m5 0h0m6 0h0m-6 1h0m1 0h0m10 0h0m6 0h0m-42 2h0m20 0h0m34 0h0m-59 1h0m26 0h0m4 0h0m3 0h0m8 1h0m-37 1h0m20 0h0m1 0h0m6 0h0m1 0h0m1 0h0m8 0h0m6 0h0m-64 1h0m62 0h0m-35 1h0m0 0h0m16 0h0m8 0h0m14 0h0m-40 1h0m7 0h0m23 0h0m12 0h0m3 0h0m6 0h0m-81 1h0m42 0h0m6 0h0m1 0h0m0 0h0m6 0h0m4 0h0m-31 1h0m19 0h0m8 0h0m-42 1h0m1 0h0m27 0h0m6 0h0m19 0h0m-66 1h0m12 0h0m31 0h0m3 0h0m4 0h0m2 0h0m-58 1h0m38 0h0m14 0h0m2 0h0m12 0h0m21 0h0m-34 1h0m7 0h0m0 0h0m1 0h0m-79 1h0m51 0h0m2 0h0m10 0h0m3 0h0m7 0h0m6 0h0m0 0h0m4 0h0m3 0h0m-7 1h0m-47 1h0m2 0h0m28 0h0m8 0h0m5 0h0m16 0h0m-51 1h0m8 0h0m5 0h0m3 0h0m2 0h0m13 0h0m9 1h0m2 0h0m-53 1h0m14 0h0m7 0h0m42 0h0m-16 1h0m-69 2h0m19 1h0m1 0h0m12 0h0m22 0h0m-34 1h0m44 0h0m7 0h0m-59 1h0m8 0h0m26 2h0m-29 1h0m23 2h0"/>
<path stroke="#add846" d="M288 430h0m-50 10h0m12 1h0m8 0h0m20 1h0m-32 1h0m-12 1h0m33 0h0m-53 1h0m3 0h0m24 0h0m4 0h0m-18 1h0m10 0h0m-26 2h0m15 0h0m4 0h0m-35 1h0m35 0h0m13 0h0m-17 1h0m16 0h0m-28 1h0m16 0h0m16 0h0m7 0h0m0 0h0m1 0h0m-41 1h0m15 0h0m13 0h0m2 0h0m5 0h0m27 0h0m-73 1h0m26 0h0m0 0h0m1 0h0m9 0h0m14 0h0m7 0h0m13 0h0m-76 1h0m8 0h0m22 0h0m12 0h0m1 0h0m-56 1h0m37 0h0m6 0h0m11 0h0m7 0h0m9 0h0m2 0h0m-28 1h0m2 0h0m4 0h0m5 0h0m4 0h0m2 0h0m6 0h0m3 0h0m2 0h0m2 0h0m-66 1h0m1 0h0m4 0h0m18 0h0m9 0h0m15 0h0m15 0h0m19 0h0m-84 1h0m6 0h0m6 0h0m7 0h0m4 0h0m3 0h0m1 0h0m1 0h0m0 0h0m11 0h0m8 0h0m1 0h0m9 0h0m4 0h0m-26 1h0m11 0h0m12 0h0m3 0h0m-72 1h0m26 0h0m26 0h0m4 0h0m9 0h0m1 0h0m-55 1h0m15 0h0m11 0h0m5 0h0m6 0h0m1 0h0m10 0h0m4 0h0m2 0h0m4 0h0m-57 1h0m2 0h0m21 0h0m3 0h0m9 0h0m13 0h0m6 0h0m-46 1h0m30 0h0m5 0h0m1 0h0m2 0h0m5 0h0m4 0h0m1 0h0m-57 1h0m24 0h0m12 0h0m8 0h0m16 0h0m-83 1h0m24 0h0m14 0h0m0 0h0m8 0h0m7 0h0m9 0h0m-28 1h0m19 0h0m3 0h0m5 0h0m9 0h0m-44 1h0m17 0h0m17 0h0m1 0h0m1 0h0m14 0h0m-52 1h0m5 0h0m5 0h0m10 0h0m17 0h0m6 0h0m-35 2h0m9 0h0m9 0h0m25 2h0m-66 1h0m28 0h0m3 0h0m12 1h0m-39 1h0m0 0h0m4 0h0m17 0h0m30 0h0m-50 3h0m37 0h0m21 0h0m-46 2h0"/>
<path stroke="#bbda3d" d="M281 433h0m-48 2h0m5 8h0m11 0h0m-12 2h0m30 1h0m-43 3h0m41 0h0m-64 1h0m15 0h0m10 0h0m2 0h0m-8 1h0m10 0h0m8 0h0m16 0h0m-40 1h0m30 0h0m-38 1h0m14 0h0m15 0h0m14 0h0m-67 1h0m33 0h0m15 0h0m20 0h0m-37 1h0m9 0h0m25 0h0m-38 1h0m4 0h0m11 0h0m5 0h0m-30 1h0m1 0h0m8 0h0m1 0h0m14 0h0m4 0h0m5 0h0m1 0h0m-50 1h0m4 0h0m10 0h0m9 0h0m6 0h0m2 0h0m12 0h0m10 0h0m3 0h0m5 0h0m14 0h0m-59 1h0m8 0h0m6 0h0m0 0h0m5 0h0m9 0h0m2 0h0m2 0h0m2 0h0m30 0h0m3 0h0m-72 1h0m19 0h0m0 0h0m0 0h0m0 0h0m13 0h0m1 0h0m1 0h0m1 0h0m10 0h0m-42 1h0m3 0h0m12 0h0m3 0h0m1 0h0m4 0h0m3 0h0m23 0h0m-72 1h0m3 0h0m11 0h0m22 0h0m1 0h0m5 0h0m7 0h0m4 0h0m2 0h0m3 0h0m-62 1h0m3 0h0m15 0h0m17 0h0m2 0h0m2 0h0m1 0h0m11 0h0m6 0h0m-38 1h0m11 0h0m1 0h0m-25 1h0m20 0h0m9 0h0m6 0h0m15 0h0m9 0h0m-52 1h0m8 0h0m3 0h0m0 0h0m1 0h0m26 0h0m-34 1h0m3 0h0m7 0h0m2 0h0m1 0h0m7 0h0m7 0h0m2 0h0m11 0h0m-58 1h0m18 0h0m0 0h0m8 0h0m5 0h0m7 0h0m9 0h0m5 0h0m-56 1h0m5 0h0m8 0h0m28 0h0m1 0h0m4 0h0m-33 1h0m2 0h0m11 0h0m10 0h0m5 0h0m5 0h0m2 0h0m17 0h0m-62 1h0m0 0h0m1 0h0m46 0h0m11 0h0m-53 1h0m20 0h0m10 0h0m21 0h0m25 0h0m-77 1h0m4 0h0m15 0h0m13 0h0m1 0h0m-28 1h0m10 0h0m12 0h0m1 0h0m16 0h0m-47 2h0m1 0h0m3 0h0m13 0h0m4 0h0m30 0h0m-19 1h0m29 0h0m-55 1h0m28 0h0m-16 1h0m1 1h0m-12 1h0m27 0h0m-2 1h0m-17 2h0m1 0h0"/>
<path stroke="#cbdc35" d="M232 440h0m-7 5h0m44 0h0m-41 1h0m-17 3h0m30 1h0m12 0h0m3 0h0m-51 3h0m-35 1h0m23 0h0m0 0h0m14 0h0m41 0h0m-84 1h0m42 0h0m5 0h0m15 0h0m-31 1h0m37 0h0m6 0h0m-41 1h0m8 0h0m4 0h0m4 0h0m-23 1h0m22 0h0m-30 1h0m26 0h0m0 0h0m19 0h0m13 0h0m-70 1h0m20 0h0m28 0h0m-40 1h0m12 0h0m9 0h0m8 0h0m9 0h0m25 0h0m13 0h0m-81 1h0m2 0h0m12 0h0m6 0h0m0 0h0m4 0h0m17 0h0m2 0h0m13 0h0m-61 1h0m14 0h0m1 0h0m17 0h0m14 0h0m-48 1h0m29 0h0m17 0h0m15 0h0m-43 1h0m2 0h0m0 0h0m1 0h0m4 0h0m0 0h0m4 0h0m8 0h0m1 0h0m13 0h0m-46 1h0m14 0h0m7 0h0m8 0h0m7 0h0m6 0h0m12 0h0m-58 1h0m8 0h0m21 0h0m1 0h0m9 0h0m7 0h0m13 0h0m-63 1h0m18 0h0m7 0h0m1 0h0m5 0h0m1 0h0m1 0h0m-35 1h0m10 0h0m7 0h0m3 0h0m4 0h0m18 0h0m2 0h0m3 0h0m18 0h0m-65 1h0m11 0h0m4 0h0m7 0h0m3 0h0m9 0h0m8 0h0m5 0h0m13 0h0m3 0h0m-65 1h0m14 0h0m1 0h0m5 0h0m7 0h0m2 0h0m20 0h0m-34 1h0m6 0h0m8 0h0m8 0h0m5 0h0m3 0h0m-23 1h0m18 0h0m17 0h0m21 0h0m-51 1h0m0 0h0m15 0h0m10 0h0m-15 1h0m12 0h0m32 0h0m-66 1h0m24 0h0m-29 1h0m27 0h0m7 0h0m-21 1h0m-16 1h0m41 0h0m11 0h0m-38 1h0m-10 1h0"/>
<path stroke="#d9de30" d="M199 449h0m8 1h0m40 2h0m-36 2h0m-51 1h0m22 0h0m23 0h0m17 0h0m5 1h0m-35 1h0m35 0h0m6 0h0m-55 1h0m4 0h0m21 0h0m5 0h0m6 0h0m-50 2h0m0 0h0m11 0h0m0 0h0m4 0h0m5 0h0m28 0h0m-30 1h0m48 0h0m22 0h0m-81 1h0m20 0h0m3 0h0m13 0h0m0 0h0m9 0h0m4 0h0m-41 1h0m2 0h0m1 0h0m0 0h0m0 0h0m5 0h0m1 0h0m3 0h0m5 0h0m13 0h0m-50 1h0m12 0h0m8 0h0m31 0h0m-36 1h0m9 0h0m10 0h0m5 0h0m1 0h0m2 0h0m1 0h0m-31 1h0m1 0h0m4 0h0m2 0h0m5 0h0m10 0h0m2 0h0m7 0h0m-20 1h0m13 0h0m5 0h0m20 0h0m-55 1h0m12 0h0m3 0h0m2 0h0m35 0h0m-50 1h0m6 0h0m1 0h0m4 0h0m1 0h0m41 0h0m-60 1h0m6 0h0m1 0h0m5 0h0m5 0h0m9 0h0m12 0h0m2 0h0m23 0h0m-36 1h0m-26 1h0m15 0h0m1 0h0m14 0h0m2 0h0m-34 1h0m0 0h0m4 0h0m0 0h0m11 0h0m7 0h0m0 0h0m0 0h0m9 0h0m20 0h0m-47 1h0m6 0h0m5 0h0m5 0h0m6 0h0m27 0h0m-51 1h0m5 1h0m4 0h0m21 0h0m-32 1h0m14 0h0m15 0h0m-26 1h0m12 0h0m23 1h0m10 5h0"/>
<path stroke="#e8e033" d="M195 440h0m-28 9h0m13 4h0m8 1h0m14 0h0m-19 1h0m-1 2h0m30 0h0m-48 1h0m14 0h0m-9 1h0m0 1h0m22 0h0m-1 1h0m7 0h0m7 0h0m0 0h0m-28 1h0m30 0h0m2 0h0m-29 1h0m3 0h0m9 0h0m4 0h0m-30 1h0m1 0h0m6 0h0m5 0h0m0 0h0m8 0h0m10 0h0m-26 1h0m7 0h0m13 0h0m1 0h0m-29 1h0m1 0h0m9 0h0m0 0h0m14 0h0m6 0h0m7 0h0m3 0h0m-40 1h0m14 0h0m14 0h0m3 0h0m4 0h0m11 0h0m-44 1h0m7 0h0m1 0h0m11 0h0m1 0h0m0 0h0m2 0h0m-26 1h0m1 0h0m3 0h0m4 0h0m1 0h0m14 0h0m27 0h0m-46 1h0m2 0h0m9 0h0m-8 1h0m2 0h0m9 0h0m1 0h0m8 0h0m7 0h0m-33 1h0m7 0h0m2 0h0m1 0h0m4 0h0m13 0h0m9 0h0m2 0h0m26 0h0m-56 1h0m6 0h0m3 0h0m4 0h0m-17 1h0m4 0h0m10 0h0m10 0h0m18 0h0m-45 1h0m4 0h0m14 0h0m12 0h0m-16 1h0m14 0h0m-11 1h0m-15 1h0m10 0h0m8 0h0m0 0h0m-14 1h0m2 0h0m-5 1h0m5 1h0m1 0h0m33 0h0"/>
<path stroke="#f4e13b" d="M204 454h0m-31 2h0m-10 3h0m24 0h0m-12 1h0m23 0h0m-11 1h0m13 0h0m-38 1h0m5 0h0m1 1h0m6 0h0m0 0h0m19 0h0m-33 1h0m7 0h0m19 0h0m26 0h0m-55 1h0m3 0h0m4 0h0m8 0h0m3 0h0m1 0h0m4 0h0m8 0h0m-30 1h0m13 0h0m9 0h0m7 0h0m-18 1h0m9 0h0m3 0h0m20 0h0m-36 1h0m3 0h0m3 0h0m4 0h0m10 0h0m3 0h0m-25 1h0m11 0h0m8 0h0m8 0h0m5 0h0m1 0h0m-29 1h0m1 0h0m4 0h0m6 0h0m6 0h0m-26 1h0m21 0h0m6 0h0m-23 1h0m0 0h0m7 0h0m18 0h0m-13 1h0m10 0h0m3 0h0m-25 1h0m4 0h0m0 0h0m6 0h0m1 0h0m6 1h0m-20 1h0m9 0h0m3 0h0m-10 1h0m5 1h0m3 1h0m-8 2h0m6 2h0m-6 2h0"/>
</g>
<g fill="none" stroke-linecap="round" stroke-width="1.7" transform="translate(.5 .5)" filter="url(#bl2)">
<path stroke="#561c63" d="M868 227h0m-15 2h0m15 0h0m22 2h0m-20 4h0m-1 10h0m3 1h0m-5 3h0m23 2h0m-10 6h0m12 7h0m-44 2h0m-94 8h0m117 0h0m11 6h0m-82 52h0m18 0h0m3 2h0m13 2h0m-20 4h0m-3 1h0m19 1h0m15 1h0m-68 1h0m11 2h0m30 0h0m10 2h0m-5 2h0m0 1h0m-19 1h0m12 0h0m9 6h0m-15 1h0m125 2h0m-104 1h0m-41 2h0m37 1h0m130 0h0m-136 1h0m113 2h0m61 1h0m-199 1h0m155 0h0m-144 1h0m81 1h0m-26 1h0m95 0h0m-112 2h0m-7 2h0m130 0h0m-138 2h0m129 0h0m-94 1h0m202 1h0m-106 2h0m-36 2h0m42 0h0m39 0h0m-187 1h0m176 4h0m-218 3h0m68 4h0m202 0h0m20 1h0m-27 2h0m-131 2h0m-94 5h0m9 1h0m238 3h0m-105 17h0"/>
<path stroke="#57246b" d="M867 105h0m-11 4h0m-6 23h0m33 71h0m-3 27h0m-10 26h0m1 5h0m-34 26h0m-125 4h0m130 4h0m-123 3h0m31 2h0m-57 2h0m72 12h0m-34 2h0m137 4h0m-28 3h0m-48 2h0m10 0h0m36 2h0m-31 1h0m16 0h0m-25 3h0m29 0h0m-43 2h0m35 0h0m29 0h0m-19 1h0m12 0h0m-49 3h0m12 0h0m28 0h0m6 0h0m-21 1h0m77 0h0m-156 1h0m76 0h0m2 0h0m-120 1h0m95 1h0m23 0h0m9 0h0m-5 1h0m0 0h0m7 0h0m27 0h0m-57 1h0m14 0h0m24 0h0m4 0h0m-49 1h0m35 0h0m-36 1h0m4 0h0m3 0h0m14 0h0m9 0h0m3 0h0m6 0h0m-20 1h0m8 0h0m1 0h0m5 0h0m2 0h0m27 0h0m-59 1h0m2 0h0m15 0h0m-6 1h0m17 0h0m-19 1h0m6 0h0m20 0h0m7 0h0m-43 1h0m11 0h0m17 0h0m4 0h0m-66 1h0m63 0h0m8 1h0m-43 1h0m32 0h0m8 0h0m-27 1h0m32 0h0m1 0h0m-38 1h0m1 0h0m16 0h0m6 0h0m3 0h0m1 0h0m3 0h0m6 0h0m15 0h0m-38 1h0m10 0h0m2 0h0m21 0h0m25 1h0m-83 1h0m22 0h0m14 0h0m7 0h0m-23 1h0m4 0h0m1 0h0m21 0h0m4 0h0m12 0h0m12 0h0m90 0h0m7 0h0m-224 1h0m76 0h0m3 0h0m13 0h0m65 0h0m51 0h0m-119 1h0m4 0h0m6 1h0m7 0h0m-34 1h0m16 0h0m172 0h0m-186 1h0m165 0h0m-181 1h0m38 0h0m156 0h0m-179 1h0m11 1h0m13 0h0m115 0h0m-84 1h0m55 0h0m-92 1h0m10 0h0m28 0h0m-40 1h0m-22 1h0m155 1h0m-125 1h0m25 0h0m22 0h0m116 0h0m8 0h0m-176 1h0m108 0h0m-107 1h0m180 0h0m-187 1h0m24 0h0m-72 1h0m43 0h0m12 0h0m61 0h0m85 0h0m85 0h0m-245 1h0m-96 2h0m65 0h0m21 0h0m24 0h0m157 0h0m-242 1h0m81 0h0m164 1h0m5 0h0m20 0h0m-205 1h0m46 0h0m85 0h0m101 0h0m6 0h0m-187 1h0m146 0h0m-200 2h0m196 0h0m-171 1h0m3 0h0m17 0h0m14 0h0m19 0h0m-77 1h0m42 0h0m17 0h0m177 0h0m-257 1h0m51 0h0m47 0h0m66 0h0m28 0h0m48 0h0m31 0h0m-7 1h0m-242 1h0m203 0h0m56 0h0m-250 1h0m216 0h0m-314 1h0m120 0h0m206 0h0m-171 1h0m156 0h0m-199 1h0m251 0h0m-52 2h0m5 0h0m-255 1h0m27 2h0m247 0h0m-209 1h0m11 1h0m-120 1h0m31 0h0m308 0h0m-269 1h0m46 1h0m191 0h0m-176 2h0m157 0h0m-191 2h0m-108 1h0m73 0h0m26 1h0m244 1h0m-16 1h0m-10 1h0m-115 2h0m134 1h0m13 2h0m-259 3h0m19 0h0m-35 5h0m24 7h0m19 5h0m-23 1h0m4 1h0m-26 3h0m11 0h0m6 3h0m9 4h0m-27 5h0m20 0h0m-4 1h0m4 7h0m-12 5h0"/>
<path stroke="#592d73" d="M897 88h0m-51 12h0m8 2h0m-12 1h0m11 3h0m-17 4h0m7 2h0m4 0h0m29 0h0m-30 1h0m3 0h0m6 1h0m2 0h0m9 0h0m-23 1h0m17 3h0m-2 3h0m-5 1h0m6 1h0m-14 1h0m20 1h0m18 0h0m-28 4h0m19 1h0m-5 2h0m1 0h0m-16 1h0m25 1h0m-11 4h0m-20 1h0m7 1h0m11 2h0m3 2h0m-3 3h0m-22 3h0m2 0h0m15 0h0m12 1h0m-31 2h0m7 0h0m23 0h0m-16 1h0m4 0h0m11 1h0m-18 1h0m11 0h0m-8 2h0m6 4h0m-3 1h0m-12 4h0m17 0h0m0 4h0m-7 1h0m9 0h0m15 0h0m-29 2h0m17 1h0m-11 2h0m22 1h0m-23 1h0m8 1h0m-21 1h0m11 0h0m13 1h0m-12 5h0m8 0h0m1 5h0m-16 1h0m6 3h0m34 2h0m-79 2h0m54 2h0m10 7h0m3 4h0m2 2h0m-26 3h0m-85 14h0m130 4h0m-108 1h0m70 2h0m-20 8h0m-120 15h0m77 0h0m15 14h0m-131 1h0m7 5h0m13 2h0m-23 1h0m6 0h0m197 1h0m-202 3h0m19 1h0m6 0h0m-22 1h0m8 1h0m-11 1h0m10 0h0m26 0h0m-33 1h0m7 0h0m2 0h0m22 2h0m-4 1h0m-28 1h0m47 1h0m9 0h0m-57 1h0m14 0h0m5 0h0m15 0h0m197 0h0m-200 1h0m15 0h0m-25 1h0m31 1h0m140 0h0m-146 1h0m13 0h0m44 0h0m-87 1h0m45 0h0m12 0h0m-26 2h0m-23 1h0m11 0h0m1 0h0m63 1h0m-29 1h0m15 0h0m-49 1h0m8 0h0m159 0h0m-161 1h0m4 0h0m12 1h0m2 1h0m19 0h0m76 0h0m-114 1h0m24 0h0m31 0h0m-25 1h0m10 0h0m44 0h0m-57 1h0m4 0h0m18 0h0m85 0h0m-109 2h0m10 0h0m52 0h0m-47 2h0m3 0h0m7 0h0m6 0h0m41 0h0m-81 1h0m66 0h0m-52 1h0m37 1h0m24 0h0m-33 1h0m-23 1h0m2 0h0m3 0h0m1 0h0m61 0h0m-60 1h0m22 0h0m31 0h0m46 0h0m-119 1h0m23 0h0m6 0h0m15 0h0m24 0h0m17 0h0m16 0h0m-94 1h0m11 0h0m4 0h0m20 0h0m8 0h0m29 0h0m21 0h0m-103 1h0m16 0h0m26 0h0m21 0h0m6 0h0m25 0h0m-30 1h0m3 0h0m-37 1h0m21 0h0m6 0h0m1 0h0m11 0h0m-98 1h0m36 0h0m7 0h0m2 0h0m26 0h0m16 1h0m0 0h0m16 0h0m15 0h0m-39 1h0m40 0h0m-128 1h0m4 0h0m13 0h0m33 0h0m14 0h0m125 0h0m-147 1h0m13 0h0m4 0h0m33 0h0m2 0h0m18 0h0m12 0h0m2 0h0m1 0h0m4 0h0m21 0h0m-71 1h0m13 0h0m12 0h0m12 0h0m4 0h0m17 0h0m28 0h0m24 0h0m-171 1h0m65 0h0m2 0h0m37 0h0m2 0h0m3 0h0m9 0h0m-126 1h0m21 0h0m3 0h0m71 0h0m3 0h0m2 0h0m11 0h0m17 0h0m-124 1h0m1 0h0m17 0h0m16 0h0m19 0h0m0 0h0m34 0h0m1 0h0m1 0h0m8 0h0m7 0h0m5 0h0m7 0h0m-70 1h0m39 0h0m3 0h0m6 0h0m1 0h0m6 0h0m10 0h0m3 0h0m4 0h0m-26 1h0m10 0h0m0 0h0m8 0h0m6 0h0m4 0h0m4 0h0m78 0h0m-224 1h0m74 0h0m7 0h0m23 0h0m6 0h0m7 0h0m19 0h0m-52 1h0m9 0h0m17 0h0m12 0h0m6 0h0m2 0h0m0 0h0m2 0h0m2 0h0m1 0h0m2 0h0m105 0h0m-166 1h0m17 0h0m3 0h0m10 0h0m21 0h0m13 0h0m-135 1h0m41 0h0m48 0h0m1 0h0m0 0h0m14 0h0m2 0h0m2 0h0m2 0h0m3 0h0m12 0h0m1 0h0m2 0h0m5 0h0m1 0h0m2 0h0m4 0h0m-104 1h0m37 0h0m28 0h0m11 0h0m5 0h0m4 0h0m2 0h0m1 0h0m3 0h0m8 0h0m-68 1h0m25 0h0m13 0h0m0 0h0m3 0h0m1 0h0m13 0h0m-104 1h0m57 0h0m7 0h0m8 0h0m7 0h0m3 0h0m1 0h0m6 0h0m7 0h0m3 0h0m2 0h0m1 0h0m6 0h0m4 0h0m1 0h0m8 0h0m-131 1h0m88 0h0m19 0h0m9 0h0m22 0h0m-127 1h0m7 0h0m54 0h0m18 0h0m0 0h0m2 0h0m4 0h0m4 0h0m3 0h0m7 0h0m3 0h0m0 0h0m1 0h0m5 0h0m7 0h0m9 0h0m8 0h0m23 0h0m-170 1h0m70 0h0m6 0h0m9 0h0m12 0h0m1 0h0m3 0h0m3 0h0m6 0h0m32 0h0m-130 1h0m90 0h0m37 0h0m4 0h0m-108 1h0m15 0h0m46 0h0m12 0h0m9 0h0m2 0h0m8 0h0m12 0h0m-56 1h0m10 0h0m2 0h0m10 0h0m3 0h0m9 0h0m4 0h0m8 0h0m52 0h0m26 0h0m20 0h0m-230 1h0m70 0h0m19 0h0m2 0h0m7 0h0m18 0h0m1 0h0m1 0h0m1 0h0m8 0h0m5 0h0m5 0h0m22 0h0m2 0h0m102 0h0m30 0h0m-202 1h0m9 0h0m25 0h0m4 0h0m8 0h0m81 0h0m-195 1h0m72 0h0m10 0h0m1 0h0m3 0h0m2 0h0m3 0h0m12 0h0m10 0h0m121 0h0m-179 1h0m6 0h0m3 0h0m21 0h0m11 0h0m6 0h0m4 0h0m-136 1h0m68 0h0m2 0h0m40 0h0m4 0h0m2 0h0m2 0h0m8 0h0m8 0h0m3 0h0m9 0h0m65 0h0m2 0h0m25 0h0m-233 1h0m28 0h0m54 0h0m4 0h0m21 0h0m1 0h0m5 0h0m7 0h0m7 0h0m8 0h0m93 0h0m-223 1h0m60 0h0m16 0h0m17 0h0m19 0h0m8 0h0m7 0h0m7 0h0m77 0h0m31 0h0m-198 1h0m60 0h0m-117 1h0m95 0h0m21 0h0m3 0h0m29 0h0m6 0h0m13 0h0m115 0h0m-230 1h0m21 0h0m19 0h0m38 0h0m1 0h0m1 0h0m12 0h0m4 0h0m22 0h0m78 0h0m21 0h0m33 0h0m11 0h0m-291 1h0m57 0h0m11 0h0m16 0h0m31 0h0m2 0h0m43 0h0m60 0h0m3 0h0m10 0h0m-212 1h0m17 0h0m26 0h0m38 0h0m7 0h0m32 0h0m92 0h0m79 0h0m-273 1h0m55 0h0m13 0h0m0 0h0m4 0h0m73 0h0m90 0h0m-240 1h0m72 0h0m20 0h0m9 0h0m98 0h0m27 0h0m8 0h0m17 0h0m-210 1h0m5 0h0m30 0h0m25 0h0m93 0h0m10 0h0m102 0h0m-265 1h0m16 0h0m9 0h0m1 0h0m88 0h0m101 0h0m-279 1h0m190 0h0m-211 1h0m35 0h0m9 0h0m39 0h0m19 0h0m5 0h0m21 0h0m47 0h0m63 0h0m110 0h0m-327 1h0m56 0h0m17 0h0m11 0h0m8 0h0m78 0h0m40 0h0m7 0h0m50 0h0m-286 1h0m47 0h0m61 0h0m17 0h0m29 0h0m110 0h0m67 0h0m-344 1h0m84 0h0m6 0h0m12 0h0m24 0h0m16 0h0m196 0h0m-330 1h0m43 0h0m25 0h0m18 0h0m21 0h0m-38 1h0m34 0h0m45 0h0m64 0h0m113 0h0m-263 1h0m51 0h0m2 0h0m18 0h0m29 0h0m50 0h0m-185 1h0m90 0h0m22 0h0m13 0h0m-90 1h0m32 0h0m4 0h0m9 0h0m65 0h0m139 0h0m39 0h0m-267 1h0m10 0h0m16 0h0m0 0h0m2 0h0m7 0h0m5 0h0m93 0h0m47 0h0m24 0h0m23 0h0m-314 1h0m60 0h0m38 0h0m1 0h0m2 0h0m5 0h0m3 0h0m2 0h0m9 0h0m22 0h0m70 0h0m40 0h0m-182 1h0m31 0h0m-10 1h0m19 0h0m5 0h0m1 0h0m3 0h0m24 0h0m4 0h0m75 0h0m49 0h0m-254 1h0m36 0h0m210 0h0m13 0h0m80 0h0m-291 1h0m49 0h0m4 0h0m22 0h0m7 0h0m112 0h0m66 0h0m-317 1h0m74 0h0m33 0h0m12 0h0m1 0h0m67 0h0m87 0h0m29 0h0m8 0h0m13 0h0m-331 1h0m16 0h0m57 0h0m60 0h0m165 0h0m52 0h0m6 0h0m-326 1h0m35 0h0m40 0h0m3 0h0m10 0h0m9 0h0m50 0h0m68 0h0m115 0h0m-336 1h0m15 0h0m21 0h0m27 0h0m3 0h0m12 0h0m10 0h0m1 0h0m163 0h0m-257 1h0m8 0h0m30 0h0m61 0h0m188 0h0m20 0h0m-327 1h0m5 0h0m19 0h0m22 0h0m56 0h0m18 0h0m11 0h0m6 0h0m4 0h0m4 0h0m106 0h0m44 0h0m-238 1h0m36 0h0m13 0h0m225 0h0m25 0h0m-348 1h0m30 0h0m27 0h0m47 0h0m2 0h0m1 0h0m4 0h0m23 0h0m-115 1h0m60 0h0m15 0h0m0 0h0m1 0h0m2 0h0m13 0h0m9 0h0m30 0h0m5 0h0m95 0h0m113 0h0m-341 1h0m71 0h0m9 0h0m10 0h0m33 0h0m209 0h0m-310 1h0m38 0h0m17 0h0m11 0h0m2 0h0m33 0h0m203 0h0m2 0h0m-314 1h0m63 0h0m2 0h0m39 0h0m167 0h0m28 0h0m8 0h0m-270 1h0m8 0h0m240 0h0m-301 1h0m62 0h0m31 0h0m5 0h0m4 0h0m4 0h0m234 0h0m-345 1h0m69 0h0m15 0h0m0 0h0m11 0h0m229 0h0m-219 1h0m-74 1h0m62 0h0m193 0h0m28 0h0m6 0h0m-259 1h0m2 0h0m12 0h0m9 0h0m7 0h0m3 0h0m5 0h0m-96 1h0m9 0h0m66 0h0m10 0h0m7 0h0m0 0h0m2 0h0m218 0h0m15 0h0m-250 1h0m3 0h0m1 0h0m17 0h0m1 0h0m2 0h0m4 0h0m198 0h0m32 0h0m-302 1h0m36 0h0m5 0h0m15 0h0m250 0h0m-347 1h0m4 0h0m26 0h0m55 0h0m2 0h0m9 0h0m231 0h0m-277 1h0m25 0h0m9 0h0m22 0h0m182 0h0m30 0h0m-285 1h0m42 0h0m18 0h0m6 0h0m4 0h0m10 0h0m5 0h0m187 0h0m44 0h0m-341 1h0m27 0h0m12 0h0m2 0h0m43 0h0m-56 1h0m10 0h0m35 0h0m19 0h0m-40 1h0m6 0h0m22 0h0m228 0h0m-289 1h0m39 0h0m16 0h0m19 0h0m8 0h0m1 0h0m98 0h0m107 0h0m-261 1h0m22 0h0m6 0h0m1 0h0m1 0h0m233 0h0m-269 1h0m48 0h0m10 0h0m197 0h0m-271 1h0m42 0h0m19 0h0m7 0h0m6 0h0m260 0h0m-328 1h0m50 0h0m13 0h0m-71 1h0m10 0h0m41 0h0m8 0h0m8 0h0m3 0h0m38 0h0m-68 1h0m12 0h0m215 0h0m-264 1h0m40 0h0m2 0h0m7 0h0m25 0h0m-17 1h0m173 0h0m-238 1h0m51 0h0m3 0h0m6 0h0m5 0h0m4 0h0m10 0h0m1 0h0m-25 1h0m0 0h0m4 0h0m16 0h0m38 0h0m-54 1h0m8 0h0m-20 1h0m13 0h0m7 0h0m-1 1h0m18 0h0m267 0h0m-295 1h0m11 0h0m2 0h0m1 0h0m2 0h0m248 0h0m-258 1h0m7 0h0m12 0h0m5 0h0m-35 1h0m7 0h0m8 0h0m256 0h0m-262 1h0m9 0h0m6 0h0m-14 1h0m1 0h0m1 0h0m1 1h0m2 0h0m3 0h0m-8 1h0m2 0h0m-7 1h0m3 0h0m8 0h0m5 0h0m-22 1h0m11 0h0m36 0h0m-37 1h0m2 0h0m8 0h0m5 0h0m0 0h0m1 0h0m143 0h0m-196 1h0m31 0h0m4 0h0m3 0h0m4 0h0m11 0h0m251 0h0m-278 1h0m5 0h0m11 0h0m12 0h0m2 0h0m68 0h0m-88 1h0m17 0h0m-23 1h0m4 0h0m6 0h0m4 0h0m0 0h0m2 0h0m12 0h0m-63 1h0m34 0h0m22 0h0m5 0h0m-17 1h0m0 0h0m11 0h0m-1 1h0m5 0h0m20 0h0m-37 1h0m12 0h0m3 0h0m2 0h0m-17 1h0m4 0h0m6 0h0m1 0h0m-8 1h0m1 0h0m24 0h0m-33 1h0m11 0h0m5 1h0m-30 1h0m17 0h0m5 0h0m6 0h0m6 0h0m-10 1h0m14 0h0m-17 1h0m-3 1h0m3 1h0m3 0h0m1 0h0m2 0h0m4 0h0m6 0h0m-21 1h0m13 0h0m2 0h0m-19 1h0m9 0h0m-4 1h0m5 0h0m4 0h0m6 1h0m133 0h0m-153 1h0m4 0h0m0 0h0m3 0h0m-7 1h0m1 0h0m4 0h0m11 0h0m-8 1h0m6 0h0m-14 1h0m6 0h0m2 0h0m0 0h0m2 0h0m48 0h0m-44 1h0m-8 1h0m3 0h0m0 0h0m6 0h0m-12 1h0m3 0h0m3 0h0m92 0h0m-96 1h0m6 0h0m3 0h0m3 0h0m-64 1h0m50 0h0m8 0h0m1 0h0m2 0h0m1 0h0m53 2h0"/>
<path stroke="#59347a" d="M847 102h0m12 0h0m1 0h0m-1 1h0m9 0h0m12 0h0m-27 1h0m12 2h0m-25 1h0m20 0h0m8 0h0m-27 1h0m12 1h0m13 0h0m-28 1h0m3 0h0m8 0h0m3 0h0m1 0h0m9 0h0m10 0h0m3 0h0m-23 1h0m15 0h0m-22 1h0m12 0h0m5 0h0m-28 1h0m17 0h0m12 0h0m7 0h0m-27 1h0m8 0h0m0 0h0m4 2h0m5 0h0m-23 1h0m15 0h0m7 0h0m-7 1h0m21 0h0m-14 2h0m1 0h0m6 0h0m3 0h0m3 0h0m-6 3h0m-1 1h0m-17 1h0m6 2h0m3 0h0m14 0h0m-19 1h0m-16 1h0m15 0h0m24 0h0m-20 1h0m2 0h0m16 0h0m-5 1h0m-13 1h0m8 0h0m2 0h0m1 0h0m1 1h0m-3 1h0m-16 1h0m8 0h0m3 1h0m8 1h0m7 0h0m-2 3h0m-32 4h0m12 2h0m6 0h0m1 0h0m3 0h0m3 3h0m5 1h0m0 0h0m4 1h0m-35 1h0m8 1h0m15 0h0m27 0h0m-33 1h0m20 0h0m-37 1h0m35 0h0m-22 1h0m20 0h0m-32 3h0m25 0h0m11 0h0m-18 1h0m14 0h0m-21 2h0m2 1h0m9 0h0m15 1h0m-6 1h0m-23 2h0m8 0h0m5 0h0m-4 1h0m11 0h0m5 1h0m-17 1h0m9 1h0m-8 1h0m14 3h0m-26 3h0m9 1h0m6 2h0m-9 3h0m32 1h0m-32 1h0m5 0h0m8 0h0m5 1h0m-9 1h0m14 0h0m-4 1h0m7 1h0m3 1h0m-23 3h0m8 0h0m1 0h0m6 0h0m-19 1h0m-1 1h0m25 3h0m8 0h0m3 0h0m-29 1h0m9 1h0m3 2h0m13 0h0m-22 1h0m5 0h0m0 0h0m-12 1h0m8 0h0m-8 1h0m29 1h0m-15 1h0m-22 1h0m20 0h0m-4 1h0m4 0h0m14 1h0m-17 1h0m-2 1h0m17 1h0m4 1h0m-23 1h0m18 0h0m-7 1h0m-7 3h0m-9 1h0m-5 1h0m11 1h0m23 13h0m-7 11h0m-25 8h0m19 6h0m-89 11h0m-103 7h0m73 0h0m-20 1h0m104 1h0m-149 3h0m30 0h0m-40 1h0m32 0h0m-20 1h0m-13 1h0m1 0h0m7 0h0m13 0h0m-12 1h0m3 0h0m1 0h0m9 1h0m10 0h0m0 1h0m48 0h0m117 0h0m-187 1h0m19 0h0m-22 1h0m4 0h0m5 0h0m8 0h0m21 0h0m5 0h0m155 0h0m-205 1h0m4 0h0m2 0h0m-2 1h0m37 0h0m90 0h0m-103 1h0m-22 1h0m9 0h0m2 0h0m3 0h0m13 0h0m136 0h0m-154 1h0m3 0h0m31 0h0m0 0h0m21 0h0m2 0h0m-53 1h0m19 0h0m14 0h0m-40 1h0m25 0h0m1 0h0m2 0h0m2 0h0m4 0h0m1 0h0m7 0h0m-9 1h0m-43 1h0m4 0h0m1 0h0m8 0h0m6 0h0m3 0h0m1 0h0m7 0h0m13 0h0m15 0h0m3 0h0m115 0h0m1 0h0m-145 1h0m7 0h0m7 0h0m77 0h0m-130 1h0m21 0h0m0 0h0m12 0h0m15 0h0m7 0h0m2 0h0m10 0h0m92 0h0m-136 1h0m63 0h0m-72 1h0m12 0h0m6 0h0m2 0h0m14 0h0m4 0h0m1 0h0m6 0h0m0 0h0m15 0h0m-47 1h0m22 0h0m10 0h0m1 0h0m4 0h0m-18 1h0m11 0h0m14 0h0m41 0h0m-89 1h0m5 0h0m8 0h0m5 0h0m2 0h0m-14 1h0m0 0h0m3 0h0m16 0h0m2 0h0m42 0h0m58 0h0m-114 1h0m8 0h0m3 0h0m5 0h0m7 0h0m121 0h0m-131 1h0m19 0h0m3 0h0m4 0h0m12 0h0m-71 1h0m2 0h0m22 0h0m4 0h0m37 0h0m7 0h0m5 0h0m-47 1h0m16 0h0m9 0h0m4 0h0m6 0h0m5 0h0m40 0h0m88 0h0m-160 1h0m17 0h0m18 0h0m6 0h0m-25 1h0m23 0h0m9 0h0m-55 1h0m3 0h0m14 0h0m7 0h0m67 0h0m95 0h0m-202 1h0m23 0h0m18 0h0m17 0h0m5 0h0m5 0h0m-34 1h0m4 0h0m9 0h0m9 0h0m51 0h0m-81 1h0m12 0h0m3 0h0m3 0h0m9 0h0m3 0h0m5 0h0m1 0h0m45 0h0m10 0h0m5 0h0m-84 1h0m9 0h0m6 0h0m2 0h0m25 0h0m52 0h0m-78 1h0m0 0h0m1 0h0m6 0h0m68 0h0m16 0h0m-109 1h0m7 0h0m14 0h0m19 0h0m1 0h0m18 0h0m2 0h0m-56 1h0m23 0h0m2 0h0m36 0h0m28 0h0m65 0h0m-168 1h0m9 0h0m7 0h0m14 0h0m1 0h0m15 0h0m12 0h0m31 0h0m6 0h0m-59 1h0m7 0h0m6 0h0m2 0h0m41 0h0m8 0h0m-6 1h0m-75 1h0m15 0h0m24 0h0m34 0h0m-90 1h0m23 0h0m7 0h0m4 0h0m17 0h0m40 0h0m3 0h0m0 0h0m1 0h0m9 0h0m-61 1h0m42 0h0m5 0h0m-109 1h0m9 0h0m38 0h0m12 0h0m44 0h0m3 0h0m63 0h0m-175 1h0m7 0h0m14 0h0m19 0h0m3 0h0m5 0h0m4 0h0m14 0h0m34 0h0m22 0h0m2 0h0m14 0h0m-139 1h0m19 0h0m22 0h0m7 0h0m3 0h0m17 0h0m3 0h0m10 0h0m24 0h0m22 0h0m3 0h0m90 0h0m-213 1h0m60 0h0m2 0h0m4 0h0m20 0h0m8 0h0m6 0h0m3 0h0m10 0h0m-61 1h0m2 0h0m5 0h0m6 0h0m0 0h0m5 0h0m18 0h0m6 0h0m9 0h0m29 0h0m-148 1h0m69 0h0m6 0h0m9 0h0m11 0h0m14 0h0m13 0h0m0 0h0m3 0h0m4 0h0m0 0h0m5 0h0m0 0h0m-100 1h0m13 0h0m11 0h0m5 0h0m9 0h0m6 0h0m24 0h0m9 0h0m4 0h0m5 0h0m12 0h0m6 0h0m1 0h0m113 0h0m-213 1h0m16 0h0m30 0h0m15 0h0m1 0h0m4 0h0m5 0h0m7 0h0m5 0h0m10 0h0m0 0h0m4 0h0m1 0h0m5 0h0m-55 1h0m16 0h0m2 0h0m23 0h0m0 0h0m1 0h0m3 0h0m4 0h0m6 0h0m-143 1h0m21 0h0m6 0h0m1 0h0m25 0h0m11 0h0m7 0h0m14 0h0m5 0h0m4 0h0m15 0h0m6 0h0m0 0h0m1 0h0m12 0h0m7 0h0m6 0h0m1 0h0m12 0h0m-153 1h0m42 0h0m33 0h0m3 0h0m4 0h0m13 0h0m12 0h0m1 0h0m2 0h0m10 0h0m5 0h0m1 0h0m0 0h0m1 0h0m13 0h0m3 0h0m-125 1h0m3 0h0m7 0h0m5 0h0m43 0h0m40 0h0m2 0h0m10 0h0m1 0h0m1 0h0m2 0h0m10 0h0m21 0h0m97 0h0m-236 1h0m18 0h0m22 0h0m16 0h0m12 0h0m20 0h0m8 0h0m1 0h0m1 0h0m2 0h0m5 0h0m1 0h0m2 0h0m21 0h0m12 0h0m117 0h0m-274 1h0m18 0h0m5 0h0m2 0h0m12 0h0m6 0h0m28 0h0m9 0h0m4 0h0m1 0h0m3 0h0m1 0h0m7 0h0m4 0h0m2 0h0m2 0h0m1 0h0m2 0h0m1 0h0m2 0h0m2 0h0m1 0h0m5 0h0m5 0h0m1 0h0m1 0h0m6 0h0m2 0h0m3 0h0m8 0h0m-149 1h0m75 0h0m12 0h0m18 0h0m1 0h0m3 0h0m0 0h0m8 0h0m14 0h0m5 0h0m1 0h0m7 0h0m0 0h0m-138 1h0m59 0h0m2 0h0m8 0h0m1 0h0m2 0h0m25 0h0m3 0h0m0 0h0m4 0h0m1 0h0m5 0h0m2 0h0m2 0h0m2 0h0m12 0h0m2 0h0m1 0h0m5 0h0m6 0h0m2 0h0m8 0h0m-119 1h0m4 0h0m3 0h0m30 0h0m2 0h0m24 0h0m2 0h0m1 0h0m1 0h0m4 0h0m0 0h0m1 0h0m1 0h0m1 0h0m7 0h0m5 0h0m26 0h0m4 0h0m18 0h0m1 0h0m103 0h0m-274 1h0m23 0h0m5 0h0m1 0h0m36 0h0m26 0h0m3 0h0m27 0h0m0 0h0m3 0h0m1 0h0m11 0h0m0 0h0m7 0h0m-126 1h0m11 0h0m0 0h0m49 0h0m8 0h0m5 0h0m6 0h0m8 0h0m1 0h0m3 0h0m7 0h0m1 0h0m3 0h0m0 0h0m2 0h0m3 0h0m5 0h0m1 0h0m3 0h0m28 0h0m-160 1h0m3 0h0m18 0h0m17 0h0m32 0h0m3 0h0m24 0h0m1 0h0m2 0h0m11 0h0m4 0h0m3 0h0m5 0h0m4 0h0m0 0h0m9 0h0m10 0h0m-149 1h0m20 0h0m18 0h0m12 0h0m6 0h0m6 0h0m2 0h0m32 0h0m2 0h0m10 0h0m5 0h0m1 0h0m3 0h0m2 0h0m2 0h0m1 0h0m4 0h0m3 0h0m2 0h0m2 0h0m13 0h0m5 0h0m1 0h0m86 0h0m-234 1h0m12 0h0m16 0h0m5 0h0m42 0h0m7 0h0m17 0h0m0 0h0m3 0h0m1 0h0m11 0h0m4 0h0m3 0h0m0 0h0m0 0h0m1 0h0m9 0h0m3 0h0m10 0h0m-136 1h0m20 0h0m3 0h0m31 0h0m14 0h0m3 0h0m21 0h0m15 0h0m1 0h0m1 0h0m2 0h0m11 0h0m12 0h0m2 0h0m-139 1h0m47 0h0m24 0h0m15 0h0m4 0h0m2 0h0m16 0h0m3 0h0m4 0h0m1 0h0m7 0h0m2 0h0m-137 1h0m16 0h0m47 0h0m18 0h0m29 0h0m2 0h0m1 0h0m2 0h0m3 0h0m11 0h0m0 0h0m5 0h0m0 0h0m4 0h0m2 0h0m10 0h0m115 0h0m-213 1h0m17 0h0m20 0h0m16 0h0m4 0h0m1 0h0m8 0h0m4 0h0m3 0h0m1 0h0m2 0h0m1 0h0m14 0h0m8 0h0m60 0h0m11 0h0m-203 1h0m29 0h0m6 0h0m1 0h0m2 0h0m20 0h0m13 0h0m5 0h0m12 0h0m3 0h0m2 0h0m1 0h0m3 0h0m1 0h0m1 0h0m2 0h0m6 0h0m2 0h0m10 0h0m0 0h0m178 0h0m-320 1h0m2 0h0m64 0h0m27 0h0m12 0h0m9 0h0m1 0h0m3 0h0m3 0h0m2 0h0m0 0h0m1 0h0m2 0h0m1 0h0m3 0h0m2 0h0m6 0h0m1 0h0m5 0h0m5 0h0m92 0h0m-216 1h0m17 0h0m26 0h0m1 0h0m3 0h0m22 0h0m31 0h0m1 0h0m8 0h0m6 0h0m2 0h0m5 0h0m7 0h0m88 0h0m4 0h0m-239 1h0m24 0h0m10 0h0m31 0h0m7 0h0m11 0h0m16 0h0m8 0h0m4 0h0m2 0h0m1 0h0m10 0h0m4 0h0m6 0h0m2 0h0m43 0h0m40 0h0m-208 1h0m71 0h0m24 0h0m0 0h0m3 0h0m4 0h0m1 0h0m0 0h0m2 0h0m1 0h0m15 0h0m5 0h0m3 0h0m2 0h0m6 0h0m21 0h0m-177 1h0m19 0h0m1 0h0m22 0h0m38 0h0m27 0h0m5 0h0m15 0h0m6 0h0m4 0h0m32 0h0m64 0h0m58 0h0m-284 1h0m15 0h0m42 0h0m15 0h0m24 0h0m5 0h0m12 0h0m8 0h0m8 0h0m2 0h0m7 0h0m4 0h0m4 0h0m4 0h0m17 0h0m2 0h0m13 0h0m8 0h0m-198 1h0m30 0h0m32 0h0m60 0h0m6 0h0m5 0h0m6 0h0m2 0h0m7 0h0m8 0h0m142 0h0m-275 1h0m28 0h0m14 0h0m3 0h0m8 0h0m11 0h0m3 0h0m6 0h0m12 0h0m0 0h0m2 0h0m5 0h0m6 0h0m2 0h0m3 0h0m1 0h0m0 0h0m3 0h0m4 0h0m5 0h0m5 0h0m7 0h0m23 0h0m111 0h0m24 0h0m-306 1h0m16 0h0m41 0h0m52 0h0m2 0h0m2 0h0m2 0h0m2 0h0m4 0h0m3 0h0m7 0h0m1 0h0m0 0h0m5 0h0m0 0h0m4 0h0m20 0h0m5 0h0m61 0h0m0 0h0m18 0h0m6 0h0m22 0h0m-266 1h0m34 0h0m5 0h0m62 0h0m12 0h0m4 0h0m4 0h0m46 0h0m9 0h0m39 0h0m2 0h0m38 0h0m-209 1h0m25 0h0m5 0h0m3 0h0m47 0h0m5 0h0m38 0h0m71 0h0m22 0h0m12 0h0m10 0h0m-278 1h0m0 0h0m5 0h0m5 0h0m4 0h0m4 0h0m6 0h0m71 0h0m8 0h0m0 0h0m3 0h0m1 0h0m0 0h0m3 0h0m2 0h0m71 0h0m25 0h0m57 0h0m61 0h0m18 0h0m-320 1h0m25 0h0m15 0h0m8 0h0m19 0h0m22 0h0m23 0h0m97 0h0m-242 1h0m13 0h0m19 0h0m10 0h0m50 0h0m9 0h0m4 0h0m8 0h0m16 0h0m23 0h0m5 0h0m102 0h0m-222 1h0m35 0h0m13 0h0m3 0h0m30 0h0m4 0h0m1 0h0m0 0h0m5 0h0m0 0h0m5 0h0m18 0h0m65 0h0m93 0h0m-309 1h0m25 0h0m8 0h0m18 0h0m9 0h0m12 0h0m13 0h0m19 0h0m15 0h0m11 0h0m6 0h0m85 0h0m-227 1h0m12 0h0m16 0h0m11 0h0m2 0h0m1 0h0m5 0h0m50 0h0m38 0h0m11 0h0m3 0h0m48 0h0m27 0h0m15 0h0m18 0h0m15 0h0m10 0h0m93 0h0m-360 1h0m12 0h0m8 0h0m30 0h0m29 0h0m3 0h0m14 0h0m2 0h0m3 0h0m19 0h0m2 0h0m0 0h0m9 0h0m25 0h0m75 0h0m22 0h0m4 0h0m5 0h0m10 0h0m43 0h0m-301 1h0m40 0h0m18 0h0m0 0h0m2 0h0m9 0h0m1 0h0m5 0h0m1 0h0m16 0h0m10 0h0m26 0h0m0 0h0m10 0h0m82 0h0m6 0h0m41 0h0m18 0h0m1 0h0m-266 1h0m6 0h0m35 0h0m8 0h0m4 0h0m12 0h0m9 0h0m2 0h0m2 0h0m8 0h0m21 0h0m6 0h0m65 0h0m104 0h0m-324 1h0m13 0h0m28 0h0m7 0h0m13 0h0m14 0h0m2 0h0m18 0h0m2 0h0m7 0h0m2 0h0m9 0h0m3 0h0m2 0h0m129 0h0m27 0h0m50 0h0m-332 1h0m6 0h0m5 0h0m7 0h0m51 0h0m45 0h0m3 0h0m1 0h0m13 0h0m2 0h0m0 0h0m1 0h0m0 0h0m89 0h0m0 0h0m12 0h0m51 0h0m48 0h0m11 0h0m-331 1h0m4 0h0m45 0h0m19 0h0m2 0h0m16 0h0m5 0h0m7 0h0m1 0h0m8 0h0m0 0h0m1 0h0m2 0h0m8 0h0m3 0h0m3 0h0m127 0h0m104 0h0m10 0h0m-348 1h0m32 0h0m2 0h0m8 0h0m18 0h0m9 0h0m7 0h0m16 0h0m1 0h0m5 0h0m5 0h0m9 0h0m25 0h0m9 0h0m3 0h0m62 0h0m21 0h0m21 0h0m5 0h0m35 0h0m24 0h0m2 0h0m-331 1h0m48 0h0m41 0h0m0 0h0m14 0h0m1 0h0m17 0h0m0 0h0m8 0h0m12 0h0m17 0h0m59 0h0m-226 1h0m43 0h0m2 0h0m1 0h0m28 0h0m13 0h0m3 0h0m16 0h0m0 0h0m7 0h0m1 0h0m7 0h0m93 0h0m104 0h0m-324 1h0m46 0h0m5 0h0m10 0h0m28 0h0m22 0h0m9 0h0m11 0h0m1 0h0m2 0h0m136 0h0m-266 1h0m24 0h0m45 0h0m4 0h0m3 0h0m6 0h0m13 0h0m2 0h0m4 0h0m1 0h0m3 0h0m2 0h0m1 0h0m6 0h0m4 0h0m0 0h0m2 0h0m2 0h0m5 0h0m18 0h0m35 0h0m147 0h0m-321 1h0m83 0h0m19 0h0m0 0h0m1 0h0m0 0h0m1 0h0m1 0h0m2 0h0m6 0h0m4 0h0m10 0h0m7 0h0m119 0h0m19 0h0m5 0h0m-240 1h0m10 0h0m39 0h0m4 0h0m13 0h0m0 0h0m17 0h0m0 0h0m8 0h0m43 0h0m68 0h0m30 0h0m11 0h0m35 0h0m11 0h0m-336 1h0m9 0h0m7 0h0m13 0h0m46 0h0m12 0h0m11 0h0m0 0h0m5 0h0m2 0h0m4 0h0m1 0h0m1 0h0m1 0h0m1 0h0m1 0h0m3 0h0m3 0h0m0 0h0m1 0h0m11 0h0m0 0h0m10 0h0m16 0h0m3 0h0m33 0h0m56 0h0m6 0h0m20 0h0m57 0h0m-330 1h0m8 0h0m22 0h0m3 0h0m17 0h0m34 0h0m3 0h0m6 0h0m2 0h0m13 0h0m1 0h0m1 0h0m1 0h0m8 0h0m3 0h0m26 0h0m93 0h0m14 0h0m26 0h0m18 0h0m39 0h0m-340 1h0m24 0h0m0 0h0m61 0h0m10 0h0m4 0h0m7 0h0m6 0h0m0 0h0m3 0h0m2 0h0m1 0h0m0 0h0m2 0h0m26 0h0m3 0h0m9 0h0m4 0h0m15 0h0m36 0h0m17 0h0m35 0h0m6 0h0m54 0h0m26 0h0m-348 1h0m6 0h0m44 0h0m13 0h0m21 0h0m14 0h0m0 0h0m3 0h0m5 0h0m4 0h0m7 0h0m1 0h0m13 0h0m12 0h0m16 0h0m89 0h0m23 0h0m25 0h0m40 0h0m10 0h0m-337 1h0m59 0h0m8 0h0m15 0h0m6 0h0m11 0h0m1 0h0m1 0h0m2 0h0m3 0h0m2 0h0m1 0h0m0 0h0m2 0h0m4 0h0m1 0h0m1 0h0m3 0h0m13 0h0m25 0h0m180 0h0m-336 1h0m16 0h0m11 0h0m8 0h0m1 0h0m0 0h0m19 0h0m8 0h0m20 0h0m1 0h0m5 0h0m11 0h0m7 0h0m2 0h0m0 0h0m3 0h0m3 0h0m22 0h0m183 0h0m-327 1h0m14 0h0m6 0h0m9 0h0m13 0h0m17 0h0m11 0h0m20 0h0m1 0h0m7 0h0m1 0h0m2 0h0m2 0h0m3 0h0m0 0h0m8 0h0m6 0h0m17 0h0m0 0h0m46 0h0m81 0h0m76 0h0m10 0h0m12 0h0m-351 1h0m52 0h0m31 0h0m3 0h0m7 0h0m6 0h0m1 0h0m3 0h0m2 0h0m184 0h0m34 0h0m26 0h0m7 0h0m-322 1h0m19 0h0m18 0h0m9 0h0m27 0h0m1 0h0m12 0h0m162 0h0m59 0h0m-354 1h0m26 0h0m25 0h0m4 0h0m35 0h0m7 0h0m3 0h0m1 0h0m4 0h0m5 0h0m15 0h0m0 0h0m5 0h0m79 0h0m68 0h0m42 0h0m3 0h0m48 0h0m-304 1h0m1 0h0m33 0h0m4 0h0m4 0h0m2 0h0m2 0h0m14 0h0m1 0h0m159 0h0m-215 1h0m9 0h0m1 0h0m23 0h0m0 0h0m6 0h0m7 0h0m0 0h0m4 0h0m1 0h0m4 0h0m160 0h0m55 0h0m-345 1h0m27 0h0m9 0h0m65 0h0m1 0h0m5 0h0m6 0h0m0 0h0m11 0h0m202 0h0m15 0h0m1 0h0m-317 1h0m6 0h0m4 0h0m3 0h0m64 0h0m8 0h0m8 0h0m2 0h0m4 0h0m5 0h0m170 0h0m55 0h0m-351 1h0m35 0h0m24 0h0m32 0h0m4 0h0m14 0h0m5 0h0m5 0h0m9 0h0m2 0h0m223 0h0m1 0h0m-334 1h0m16 0h0m14 0h0m33 0h0m7 0h0m16 0h0m19 0h0m1 0h0m44 0h0m43 0h0m109 0h0m43 0h0m-317 1h0m11 0h0m26 0h0m1 0h0m5 0h0m2 0h0m1 0h0m5 0h0m0 0h0m4 0h0m1 0h0m4 0h0m2 0h0m3 0h0m3 0h0m2 0h0m7 0h0m6 0h0m11 0h0m156 0h0m9 0h0m32 0h0m1 0h0m1 0h0m-278 1h0m7 0h0m12 0h0m21 0h0m1 0h0m7 0h0m2 0h0m3 0h0m1 0h0m2 0h0m5 0h0m1 0h0m4 0h0m8 0h0m1 0h0m44 0h0m186 0h0m-313 1h0m11 0h0m1 0h0m4 0h0m18 0h0m4 0h0m9 0h0m6 0h0m11 0h0m3 0h0m4 0h0m4 0h0m1 0h0m3 0h0m12 0h0m222 0h0m-368 1h0m35 0h0m5 0h0m19 0h0m8 0h0m6 0h0m6 0h0m7 0h0m15 0h0m4 0h0m6 0h0m3 0h0m238 0h0m2 0h0m-343 1h0m22 0h0m4 0h0m8 0h0m24 0h0m18 0h0m6 0h0m9 0h0m3 0h0m2 0h0m12 0h0m14 0h0m7 0h0m35 0h0m-142 1h0m9 0h0m24 0h0m1 0h0m0 0h0m20 0h0m5 0h0m11 0h0m5 0h0m3 0h0m3 0h0m3 0h0m1 0h0m8 0h0m5 0h0m1 0h0m129 0h0m52 0h0m19 0h0m-322 1h0m29 0h0m17 0h0m16 0h0m20 0h0m1 0h0m1 0h0m4 0h0m8 0h0m7 0h0m1 0h0m2 0h0m26 0h0m130 0h0m94 0h0m-345 1h0m9 0h0m3 0h0m1 0h0m13 0h0m21 0h0m38 0h0m1 0h0m1 0h0m1 0h0m2 0h0m3 0h0m0 0h0m5 0h0m3 0h0m184 0h0m17 0h0m23 0h0m17 0h0m-325 1h0m28 0h0m18 0h0m5 0h0m0 0h0m3 0h0m5 0h0m2 0h0m12 0h0m4 0h0m1 0h0m5 0h0m4 0h0m1 0h0m-108 1h0m1 0h0m58 0h0m11 0h0m11 0h0m142 0h0m-223 1h0m15 0h0m6 0h0m60 0h0m0 0h0m6 0h0m1 0h0m3 0h0m8 0h0m7 0h0m-55 1h0m4 0h0m18 0h0m4 0h0m6 0h0m0 0h0m1 0h0m1 0h0m15 0h0m2 0h0m7 0h0m22 0h0m19 0h0m-118 1h0m40 0h0m2 0h0m1 0h0m6 0h0m5 0h0m5 0h0m4 0h0m2 0h0m1 0h0m198 0h0m-272 1h0m18 0h0m1 0h0m14 0h0m12 0h0m7 0h0m9 0h0m1 0h0m18 0h0m1 0h0m1 0h0m194 0h0m-306 1h0m15 0h0m39 0h0m25 0h0m3 0h0m1 0h0m0 0h0m6 0h0m7 0h0m7 0h0m1 0h0m-78 1h0m13 0h0m3 0h0m41 0h0m3 0h0m4 0h0m0 0h0m3 0h0m3 0h0m3 0h0m2 0h0m234 0h0m-264 1h0m6 0h0m3 0h0m20 0h0m0 0h0m1 0h0m-30 1h0m2 0h0m20 0h0m1 0h0m7 0h0m3 0h0m-43 1h0m7 0h0m13 0h0m1 0h0m8 0h0m7 0h0m4 0h0m142 0h0m-216 1h0m31 0h0m5 0h0m8 0h0m17 0h0m19 0h0m-30 1h0m19 0h0m0 0h0m4 0h0m0 0h0m2 0h0m1 0h0m21 0h0m-47 1h0m11 0h0m44 0h0m-50 1h0m12 0h0m4 0h0m228 0h0m-253 1h0m17 0h0m0 0h0m2 0h0m6 0h0m7 0h0m88 0h0m-118 1h0m10 0h0m0 0h0m9 0h0m3 0h0m4 0h0m-28 1h0m13 0h0m1 0h0m1 0h0m3 0h0m7 0h0m6 0h0m2 0h0m-38 1h0m3 0h0m6 0h0m8 0h0m2 0h0m0 0h0m1 0h0m13 0h0m1 0h0m14 0h0m24 0h0m-64 1h0m6 0h0m5 0h0m1 0h0m3 0h0m4 0h0m1 0h0m6 0h0m9 0h0m-94 1h0m53 0h0m12 0h0m0 0h0m1 0h0m2 0h0m0 0h0m0 0h0m6 0h0m5 0h0m2 0h0m2 0h0m1 0h0m6 0h0m3 0h0m27 0h0m-51 1h0m0 0h0m1 0h0m1 0h0m3 0h0m0 0h0m0 0h0m1 0h0m6 0h0m-20 1h0m1 0h0m1 0h0m1 0h0m1 0h0m7 0h0m1 0h0m0 0h0m3 0h0m2 0h0m6 0h0m0 0h0m-33 1h0m22 0h0m5 0h0m1 0h0m14 0h0m29 0h0m-59 1h0m2 0h0m13 0h0m3 0h0m9 0h0m7 0h0m2 0h0m-40 1h0m10 0h0m8 0h0m1 0h0m-17 1h0m2 0h0m1 0h0m0 0h0m4 0h0m4 0h0m4 0h0m6 0h0m9 0h0m219 0h0m-249 1h0m2 0h0m6 0h0m2 0h0m2 0h0m2 0h0m4 0h0m2 0h0m2 0h0m160 0h0m-179 1h0m6 0h0m4 0h0m2 0h0m2 0h0m3 0h0m-52 1h0m30 0h0m1 0h0m6 0h0m4 0h0m2 0h0m3 0h0m2 0h0m0 0h0m2 0h0m-22 1h0m7 0h0m3 0h0m7 0h0m4 0h0m0 0h0m6 0h0m1 0h0m3 0h0m-48 1h0m30 0h0m3 0h0m1 0h0m1 0h0m13 0h0m-34 1h0m10 0h0m3 0h0m5 0h0m3 0h0m0 0h0m0 0h0m3 0h0m5 0h0m5 0h0m61 0h0m-90 1h0m1 0h0m5 0h0m3 0h0m1 0h0m4 0h0m4 0h0m0 0h0m2 0h0m0 0h0m3 0h0m6 0h0m-21 1h0m2 0h0m13 0h0m92 0h0m-112 1h0m3 0h0m2 0h0m9 0h0m3 0h0m15 0h0m-43 1h0m6 0h0m10 0h0m3 0h0m3 0h0m1 0h0m2 0h0m4 0h0m0 0h0m24 0h0m-70 1h0m31 0h0m2 0h0m2 0h0m0 0h0m1 0h0m0 0h0m0 0h0m1 0h0m0 0h0m3 0h0m1 0h0m3 0h0m1 0h0m1 0h0m145 0h0m10 0h0m-171 1h0m3 0h0m1 0h0m1 0h0m2 0h0m7 0h0m0 0h0m0 0h0m3 0h0m3 0h0m1 0h0m8 0h0m153 0h0m-184 1h0m2 0h0m2 0h0m7 0h0m0 0h0m3 0h0m0 0h0m1 0h0m9 0h0m1 0h0m-29 1h0m6 0h0m0 0h0m1 0h0m2 0h0m1 0h0m1 0h0m6 0h0m2 0h0m-26 1h0m3 0h0m5 0h0m3 0h0m8 0h0m1 0h0m1 0h0m2 0h0m6 0h0m1 0h0m-27 1h0m3 0h0m1 0h0m0 0h0m3 0h0m1 0h0m3 0h0m3 0h0m3 0h0m5 0h0m1 0h0m6 0h0m2 0h0m0 0h0m134 0h0m-160 1h0m3 0h0m1 0h0m1 0h0m3 0h0m1 0h0m2 0h0m1 0h0m5 0h0m-19 1h0m5 0h0m5 0h0m6 0h0m1 0h0m2 0h0m1 0h0m0 0h0m1 0h0m-11 1h0m3 0h0m1 0h0m5 0h0m2 0h0m43 0h0m-58 1h0m0 0h0m2 0h0m1 0h0m2 0h0m1 0h0m1 0h0m0 0h0m-6 1h0m1 0h0m0 0h0m1 0h0m0 0h0m1 0h0m2 0h0m1 0h0m1 0h0m3 0h0m1 0h0m9 0h0m2 0h0m-27 1h0m3 0h0m3 0h0m0 0h0m14 0h0m-10 1h0m0 0h0m0 0h0m2 0h0m6 0h0m2 0h0m-34 1h0m19 0h0m1 0h0m1 0h0m4 0h0m5 0h0m1 0h0m70 0h0m-85 1h0m4 0h0m0 0h0m1 0h0m4 0h0m3 0h0m0 0h0m0 0h0m2 0h0m0 0h0m3 0h0m3 0h0m-30 1h0m12 0h0m3 0h0m5 0h0m2 0h0m0 0h0m3 0h0m11 0h0m-27 1h0m5 0h0m1 0h0m13 0h0m-17 1h0m9 0h0m0 0h0m5 0h0m0 0h0m-7 1h0m1 0h0m1 0h0m0 0h0m1 0h0m0 0h0m2 0h0m0 0h0m0 0h0m3 0h0m25 0h0m-45 1h0m5 0h0m1 0h0m1 0h0m5 0h0m1 0h0m2 0h0m1 0h0m2 0h0m4 0h0m2 0h0m4 0h0m-29 1h0m13 0h0m2 0h0m0 0h0m0 0h0m1 0h0m1 0h0m-15 1h0m1 0h0m4 0h0m9 0h0m0 0h0m1 0h0m6 0h0m-14 1h0m8 0h0m5 0h0m1 0h0"/>
<path stroke="#593b80" d="M858 103h0m1 0h0m27 0h0m-41 1h0m9 0h0m18 0h0m-2 1h0m-36 1h0m21 1h0m-3 1h0m3 0h0m-2 3h0m8 1h0m4 3h0m-21 2h0m3 0h0m12 2h0m12 0h0m6 2h0m-30 1h0m-16 1h0m37 0h0m-15 1h0m11 0h0m4 1h0m-10 2h0m6 0h0m-10 3h0m22 2h0m-26 3h0m3 1h0m-6 1h0m4 0h0m24 4h0m-15 2h0m3 0h0m-6 4h0m7 4h0m-13 2h0m-7 1h0m13 0h0m3 0h0m-1 3h0m-7 3h0m2 0h0m33 1h0m-10 2h0m-19 4h0m11 1h0m-21 1h0m26 0h0m1 2h0m2 1h0m-26 1h0m2 0h0m1 0h0m-15 2h0m38 0h0m-32 1h0m4 0h0m6 0h0m3 1h0m17 0h0m-3 1h0m12 0h0m-32 1h0m15 4h0m3 0h0m6 3h0m14 1h0m-23 2h0m17 0h0m-37 1h0m34 0h0m-3 1h0m-23 1h0m12 0h0m-15 1h0m-10 1h0m13 0h0m11 0h0m2 1h0m1 0h0m-16 1h0m12 0h0m-16 2h0m14 0h0m11 0h0m-14 1h0m4 0h0m3 1h0m6 1h0m-17 1h0m7 0h0m16 0h0m-29 1h0m12 0h0m2 0h0m7 0h0m-23 1h0m10 0h0m6 0h0m-11 2h0m18 0h0m0 0h0m-9 2h0m5 1h0m-18 1h0m6 0h0m4 0h0m6 0h0m2 0h0m10 0h0m-6 1h0m1 0h0m6 0h0m-13 1h0m1 1h0m-4 4h0m1 0h0m1 0h0m17 0h0m-26 2h0m13 0h0m1 0h0m-1 1h0m-1 1h0m-3 1h0m-13 2h0m40 1h0m-19 8h0m2 0h0m10 34h0m-112 6h0m-76 6h0m63 0h0m117 1h0m-193 1h0m-4 4h0m17 1h0m149 1h0m-167 1h0m8 1h0m-8 1h0m-3 1h0m26 0h0m2 0h0m-25 1h0m26 0h0m-26 2h0m-3 1h0m32 0h0m-17 1h0m16 0h0m17 0h0m-1 1h0m10 0h0m150 0h0m-194 1h0m1 0h0m22 0h0m111 0h0m-149 1h0m33 0h0m-9 1h0m8 1h0m6 0h0m17 0h0m6 0h0m-57 1h0m32 0h0m2 0h0m3 0h0m0 0h0m11 0h0m1 0h0m7 0h0m-62 1h0m38 0h0m34 0h0m36 0h0m100 0h0m-174 1h0m1 0h0m43 0h0m81 0h0m-135 1h0m13 0h0m5 0h0m1 0h0m-25 1h0m6 0h0m-20 1h0m18 0h0m16 0h0m4 0h0m2 0h0m7 0h0m147 0h0m-155 1h0m2 0h0m27 0h0m-40 1h0m6 0h0m18 1h0m-22 1h0m23 0h0m16 0h0m13 0h0m1 0h0m75 0h0m-108 1h0m5 0h0m14 0h0m0 1h0m19 0h0m120 0h0m-162 1h0m15 0h0m29 0h0m17 0h0m-59 2h0m16 0h0m21 0h0m-29 1h0m1 0h0m48 0h0m-72 1h0m4 0h0m56 0h0m0 0h0m-38 2h0m8 0h0m18 0h0m73 0h0m-85 1h0m23 0h0m5 0h0m108 0h0m-168 2h0m23 0h0m29 0h0m1 0h0m49 0h0m6 0h0m-81 1h0m41 0h0m34 0h0m5 0h0m2 0h0m21 0h0m-105 1h0m35 0h0m-33 1h0m2 0h0m159 0h0m-145 1h0m5 0h0m36 0h0m6 0h0m0 0h0m4 0h0m9 0h0m7 0h0m5 0h0m8 0h0m-49 1h0m1 0h0m12 0h0m0 0h0m7 0h0m22 0h0m-58 1h0m42 0h0m79 0h0m-184 1h0m0 0h0m70 0h0m0 0h0m17 0h0m57 0h0m-132 1h0m10 0h0m26 0h0m0 0h0m5 0h0m22 0h0m1 0h0m1 0h0m0 0h0m4 0h0m21 0h0m-104 1h0m48 0h0m17 0h0m12 0h0m34 0h0m37 0h0m44 0h0m-178 1h0m4 0h0m18 0h0m31 0h0m1 0h0m5 0h0m7 0h0m14 0h0m23 0h0m-66 1h0m5 0h0m14 0h0m14 0h0m14 0h0m12 0h0m21 0h0m4 0h0m-119 1h0m42 0h0m3 0h0m2 0h0m61 0h0m3 0h0m5 0h0m13 0h0m-101 1h0m69 0h0m0 0h0m1 0h0m2 0h0m1 0h0m2 0h0m10 0h0m8 0h0m-146 1h0m41 0h0m24 0h0m18 0h0m25 0h0m1 0h0m6 0h0m5 0h0m0 0h0m6 0h0m2 0h0m16 0h0m5 0h0m-115 1h0m37 0h0m3 0h0m4 0h0m4 0h0m3 0h0m22 0h0m3 0h0m19 0h0m3 0h0m39 0h0m-83 1h0m17 0h0m1 0h0m1 0h0m27 0h0m8 0h0m-143 1h0m14 0h0m5 0h0m51 0h0m8 0h0m6 0h0m2 0h0m25 0h0m10 0h0m1 0h0m1 0h0m0 0h0m4 0h0m1 0h0m3 0h0m6 0h0m11 0h0m34 0h0m-165 1h0m13 0h0m12 0h0m8 0h0m11 0h0m15 0h0m8 0h0m3 0h0m8 0h0m7 0h0m6 0h0m8 0h0m20 0h0m0 0h0m0 0h0m1 0h0m3 0h0m1 0h0m34 0h0m-153 1h0m64 0h0m21 0h0m11 0h0m4 0h0m21 0h0m-29 1h0m7 0h0m2 0h0m1 0h0m0 0h0m4 0h0m3 0h0m28 0h0m-159 1h0m67 0h0m9 0h0m3 0h0m26 0h0m1 0h0m13 0h0m13 0h0m1 0h0m4 0h0m5 0h0m5 0h0m0 0h0m6 0h0m2 0h0m-113 1h0m19 0h0m54 0h0m3 0h0m3 0h0m1 0h0m0 0h0m7 0h0m1 0h0m5 0h0m1 0h0m10 0h0m7 0h0m-109 1h0m5 0h0m6 0h0m52 0h0m3 0h0m1 0h0m12 0h0m1 0h0m6 0h0m2 0h0m7 0h0m3 0h0m1 0h0m30 0h0m11 0h0m2 0h0m-114 1h0m18 0h0m0 0h0m5 0h0m7 0h0m2 0h0m2 0h0m2 0h0m0 0h0m1 0h0m2 0h0m3 0h0m1 0h0m4 0h0m7 0h0m7 0h0m6 0h0m2 0h0m-42 1h0m12 0h0m5 0h0m2 0h0m16 0h0m6 0h0m1 0h0m20 0h0m16 0h0m-127 1h0m53 0h0m1 0h0m3 0h0m8 0h0m3 0h0m15 0h0m1 0h0m2 0h0m39 0h0m42 0h0m-199 1h0m89 0h0m4 0h0m3 0h0m2 0h0m4 0h0m5 0h0m0 0h0m2 0h0m8 0h0m5 0h0m7 0h0m44 0h0m25 0h0m3 0h0m-130 1h0m6 0h0m2 0h0m3 0h0m8 0h0m4 0h0m0 0h0m4 0h0m0 0h0m6 0h0m3 0h0m3 0h0m2 0h0m10 0h0m1 0h0m1 0h0m5 0h0m1 0h0m0 0h0m0 0h0m1 0h0m2 0h0m49 0h0m43 0h0m1 0h0m-242 1h0m4 0h0m43 0h0m41 0h0m17 0h0m2 0h0m9 0h0m1 0h0m9 0h0m1 0h0m0 0h0m1 0h0m2 0h0m2 0h0m3 0h0m2 0h0m0 0h0m2 0h0m3 0h0m4 0h0m8 0h0m1 0h0m26 0h0m-150 1h0m53 0h0m4 0h0m16 0h0m11 0h0m3 0h0m9 0h0m0 0h0m12 0h0m1 0h0m3 0h0m1 0h0m81 0h0m-221 1h0m7 0h0m19 0h0m58 0h0m0 0h0m13 0h0m1 0h0m2 0h0m5 0h0m2 0h0m5 0h0m2 0h0m2 0h0m2 0h0m1 0h0m3 0h0m3 0h0m10 0h0m2 0h0m11 0h0m3 0h0m6 0h0m6 0h0m16 0h0m40 0h0m46 0h0m-268 1h0m87 0h0m2 0h0m20 0h0m5 0h0m1 0h0m20 0h0m1 0h0m1 0h0m1 0h0m6 0h0m3 0h0m10 0h0m64 0h0m55 0h0m-271 1h0m6 0h0m32 0h0m14 0h0m22 0h0m5 0h0m19 0h0m5 0h0m2 0h0m6 0h0m8 0h0m8 0h0m10 0h0m18 0h0m57 0h0m75 0h0m-296 1h0m11 0h0m13 0h0m19 0h0m15 0h0m5 0h0m36 0h0m6 0h0m4 0h0m6 0h0m21 0h0m1 0h0m13 0h0m4 0h0m19 0h0m14 0h0m61 0h0m2 0h0m-228 1h0m84 0h0m1 0h0m2 0h0m7 0h0m12 0h0m1 0h0m2 0h0m7 0h0m4 0h0m2 0h0m13 0h0m5 0h0m13 0h0m51 0h0m17 0h0m49 0h0m-221 1h0m15 0h0m3 0h0m20 0h0m11 0h0m7 0h0m1 0h0m5 0h0m2 0h0m2 0h0m6 0h0m8 0h0m2 0h0m0 0h0m41 0h0m65 0h0m-210 1h0m9 0h0m45 0h0m3 0h0m10 0h0m4 0h0m0 0h0m9 0h0m3 0h0m3 0h0m1 0h0m15 0h0m9 0h0m19 0h0m5 0h0m38 0h0m9 0h0m-206 1h0m53 0h0m23 0h0m6 0h0m1 0h0m1 0h0m1 0h0m4 0h0m5 0h0m10 0h0m2 0h0m12 0h0m-122 1h0m21 0h0m0 0h0m14 0h0m57 0h0m1 0h0m1 0h0m1 0h0m4 0h0m11 0h0m3 0h0m5 0h0m6 0h0m5 0h0m0 0h0m2 0h0m95 0h0m2 0h0m-129 1h0m0 0h0m0 0h0m3 0h0m3 0h0m4 0h0m13 0h0m15 0h0m14 0h0m94 0h0m7 0h0m4 0h0m39 0h0m-316 1h0m3 0h0m5 0h0m5 0h0m21 0h0m33 0h0m43 0h0m4 0h0m4 0h0m7 0h0m8 0h0m1 0h0m1 0h0m0 0h0m0 0h0m4 0h0m10 0h0m1 0h0m11 0h0m4 0h0m22 0h0m29 0h0m14 0h0m6 0h0m5 0h0m-135 1h0m8 0h0m7 0h0m0 0h0m4 0h0m5 0h0m4 0h0m0 0h0m6 0h0m12 0h0m1 0h0m3 0h0m10 0h0m44 0h0m7 0h0m64 0h0m70 0h0m8 0h0m-318 1h0m9 0h0m3 0h0m4 0h0m51 0h0m14 0h0m2 0h0m14 0h0m83 0h0m4 0h0m21 0h0m5 0h0m30 0h0m-245 1h0m22 0h0m43 0h0m11 0h0m6 0h0m3 0h0m3 0h0m3 0h0m11 0h0m47 0h0m61 0h0m15 0h0m-204 1h0m53 0h0m14 0h0m3 0h0m2 0h0m4 0h0m6 0h0m36 0h0m7 0h0m47 0h0m19 0h0m-228 1h0m57 0h0m9 0h0m9 0h0m22 0h0m13 0h0m1 0h0m19 0h0m18 0h0m30 0h0m34 0h0m2 0h0m37 0h0m18 0h0m11 0h0m22 0h0m-293 1h0m2 0h0m74 0h0m5 0h0m13 0h0m37 0h0m4 0h0m101 0h0m2 0h0m21 0h0m-245 1h0m10 0h0m12 0h0m64 0h0m2 0h0m4 0h0m13 0h0m8 0h0m18 0h0m25 0h0m13 0h0m18 0h0m1 0h0m106 0h0m13 0h0m-257 1h0m13 0h0m18 0h0m1 0h0m2 0h0m7 0h0m8 0h0m26 0h0m26 0h0m93 0h0m-224 1h0m13 0h0m24 0h0m20 0h0m7 0h0m11 0h0m1 0h0m10 0h0m5 0h0m4 0h0m3 0h0m9 0h0m1 0h0m44 0h0m12 0h0m42 0h0m5 0h0m41 0h0m-289 1h0m6 0h0m52 0h0m10 0h0m16 0h0m19 0h0m9 0h0m3 0h0m21 0h0m23 0h0m101 0h0m25 0h0m5 0h0m10 0h0m11 0h0m2 0h0m-276 1h0m3 0h0m0 0h0m25 0h0m12 0h0m1 0h0m3 0h0m7 0h0m6 0h0m7 0h0m15 0h0m13 0h0m4 0h0m17 0h0m29 0h0m13 0h0m24 0h0m125 0h0m-360 1h0m10 0h0m47 0h0m10 0h0m20 0h0m13 0h0m3 0h0m13 0h0m5 0h0m11 0h0m11 0h0m103 0h0m94 0h0m-301 1h0m21 0h0m2 0h0m29 0h0m6 0h0m3 0h0m6 0h0m2 0h0m0 0h0m7 0h0m6 0h0m2 0h0m11 0h0m20 0h0m95 0h0m32 0h0m-264 1h0m3 0h0m4 0h0m44 0h0m1 0h0m9 0h0m4 0h0m1 0h0m16 0h0m6 0h0m0 0h0m10 0h0m3 0h0m4 0h0m4 0h0m9 0h0m24 0h0m13 0h0m110 0h0m-234 1h0m3 0h0m16 0h0m10 0h0m9 0h0m16 0h0m4 0h0m3 0h0m13 0h0m4 0h0m0 0h0m21 0h0m15 0h0m2 0h0m10 0h0m6 0h0m13 0h0m109 0h0m-297 1h0m77 0h0m11 0h0m11 0h0m2 0h0m2 0h0m15 0h0m5 0h0m6 0h0m2 0h0m40 0h0m119 0h0m7 0h0m27 0h0m-328 1h0m5 0h0m3 0h0m78 0h0m7 0h0m9 0h0m1 0h0m5 0h0m1 0h0m2 0h0m4 0h0m2 0h0m8 0h0m47 0h0m-155 1h0m5 0h0m8 0h0m61 0h0m9 0h0m4 0h0m7 0h0m0 0h0m6 0h0m2 0h0m4 0h0m1 0h0m1 0h0m1 0h0m1 0h0m2 0h0m2 0h0m4 0h0m2 0h0m10 0h0m121 0h0m-230 1h0m71 0h0m1 0h0m1 0h0m5 0h0m3 0h0m3 0h0m12 0h0m17 0h0m67 0h0m24 0h0m67 0h0m-290 1h0m13 0h0m26 0h0m15 0h0m14 0h0m13 0h0m2 0h0m12 0h0m23 0h0m5 0h0m1 0h0m5 0h0m18 0h0m120 0h0m-291 1h0m5 0h0m113 0h0m2 0h0m9 0h0m12 0h0m2 0h0m19 0h0m61 0h0m39 0h0m24 0h0m48 0h0m21 0h0m-302 1h0m26 0h0m12 0h0m9 0h0m6 0h0m2 0h0m12 0h0m12 0h0m1 0h0m1 0h0m11 0h0m36 0h0m62 0h0m-217 1h0m63 0h0m19 0h0m1 0h0m8 0h0m58 0h0m28 0h0m8 0h0m42 0h0m16 0h0m86 0h0m25 0h0m-370 1h0m3 0h0m49 0h0m25 0h0m26 0h0m4 0h0m1 0h0m5 0h0m1 0h0m1 0h0m4 0h0m5 0h0m33 0h0m159 0h0m11 0h0m14 0h0m-337 1h0m15 0h0m3 0h0m21 0h0m22 0h0m32 0h0m5 0h0m5 0h0m6 0h0m4 0h0m24 0h0m27 0h0m84 0h0m12 0h0m92 0h0m2 0h0m-363 1h0m12 0h0m4 0h0m60 0h0m21 0h0m0 0h0m6 0h0m7 0h0m2 0h0m0 0h0m1 0h0m14 0h0m27 0h0m12 0h0m16 0h0m104 0h0m-287 1h0m15 0h0m48 0h0m9 0h0m2 0h0m3 0h0m16 0h0m4 0h0m2 0h0m1 0h0m0 0h0m9 0h0m53 0h0m157 0h0m3 0h0m-294 1h0m57 0h0m16 0h0m4 0h0m26 0h0m8 0h0m11 0h0m17 0h0m11 0h0m87 0h0m49 0h0m-282 1h0m54 0h0m26 0h0m12 0h0m9 0h0m6 0h0m91 0h0m37 0h0m18 0h0m41 0h0m29 0h0m4 0h0m0 0h0m-263 1h0m4 0h0m0 0h0m22 0h0m47 0h0m134 0h0m66 0h0m-286 1h0m14 0h0m5 0h0m16 0h0m1 0h0m3 0h0m1 0h0m11 0h0m12 0h0m21 0h0m109 0h0m37 0h0m-242 1h0m27 0h0m0 0h0m9 0h0m12 0h0m7 0h0m5 0h0m8 0h0m158 0h0m1 0h0m29 0h0m22 0h0m-312 1h0m42 0h0m10 0h0m18 0h0m62 0h0m142 0h0m42 0h0m3 0h0m-276 1h0m6 0h0m15 0h0m4 0h0m5 0h0m2 0h0m13 0h0m1 0h0m2 0h0m4 0h0m5 0h0m-133 1h0m47 0h0m26 0h0m3 0h0m1 0h0m22 0h0m1 0h0m1 0h0m12 0h0m21 0h0m9 0h0m91 0h0m20 0h0m38 0h0m19 0h0m14 0h0m-315 1h0m13 0h0m13 0h0m16 0h0m11 0h0m22 0h0m5 0h0m15 0h0m26 0h0m21 0h0m115 0h0m-265 1h0m1 0h0m78 0h0m26 0h0m18 0h0m6 0h0m4 0h0m36 0h0m99 0h0m-228 1h0m58 0h0m1 0h0m42 0h0m163 0h0m8 0h0m4 0h0m29 0h0m15 0h0m-332 1h0m6 0h0m1 0h0m15 0h0m16 0h0m47 0h0m2 0h0m3 0h0m1 0h0m20 0h0m194 0h0m29 0h0m-331 1h0m18 0h0m6 0h0m36 0h0m12 0h0m11 0h0m219 0h0m5 0h0m-241 1h0m3 0h0m10 0h0m10 0h0m10 0h0m190 0h0m-298 1h0m41 0h0m10 0h0m22 0h0m16 0h0m3 0h0m4 0h0m63 0h0m160 0h0m-331 1h0m11 0h0m17 0h0m5 0h0m5 0h0m12 0h0m33 0h0m5 0h0m7 0h0m3 0h0m4 0h0m8 0h0m38 0h0m163 0h0m15 0h0m-337 1h0m15 0h0m25 0h0m24 0h0m21 0h0m3 0h0m28 0h0m1 0h0m215 0h0m-327 1h0m16 0h0m27 0h0m7 0h0m29 0h0m4 0h0m5 0h0m6 0h0m1 0h0m4 0h0m7 0h0m66 0h0m186 0h0m-305 1h0m35 0h0m6 0h0m0 0h0m6 0h0m3 0h0m0 0h0m1 0h0m136 0h0m92 0h0m-319 1h0m14 0h0m8 0h0m2 0h0m52 0h0m10 0h0m4 0h0m163 0h0m-191 1h0m2 0h0m2 0h0m7 0h0m12 0h0m6 0h0m2 0h0m87 0h0m-111 1h0m1 0h0m63 0h0m-125 1h0m19 0h0m4 0h0m11 0h0m33 0h0m4 0h0m2 0h0m5 0h0m5 0h0m71 0h0m-135 1h0m40 0h0m7 0h0m12 0h0m4 0h0m109 0h0m-196 1h0m69 0h0m4 0h0m11 0h0m3 0h0m6 0h0m231 0h0m-320 1h0m9 0h0m59 0h0m4 0h0m13 0h0m1 0h0m87 0h0m136 0h0m20 0h0m-313 1h0m10 0h0m33 0h0m12 0h0m5 0h0m260 0h0m-318 1h0m35 0h0m18 0h0m2 0h0m3 0h0m2 0h0m9 0h0m-24 1h0m1 0h0m10 0h0m7 0h0m-60 1h0m51 0h0m2 0h0m1 0h0m2 0h0m1 0h0m11 0h0m4 0h0m13 0h0m89 0h0m-175 1h0m38 0h0m5 0h0m20 0h0m3 0h0m2 0h0m158 0h0m-234 1h0m70 0h0m3 0h0m-68 1h0m36 0h0m11 0h0m5 0h0m4 0h0m2 0h0m13 0h0m11 0h0m42 0h0m-83 1h0m2 0h0m5 0h0m7 0h0m0 0h0m8 0h0m234 0h0m-254 1h0m8 0h0m2 0h0m9 0h0m3 0h0m2 0h0m1 0h0m1 0h0m-26 1h0m1 0h0m4 0h0m2 0h0m5 0h0m7 0h0m12 0h0m231 0h0m-255 1h0m1 0h0m6 0h0m1 0h0m-19 1h0m7 0h0m0 0h0m2 0h0m1 0h0m5 0h0m6 0h0m-14 1h0m14 0h0m9 0h0m16 0h0m-41 1h0m2 0h0m2 0h0m1 0h0m1 0h0m6 0h0m1 0h0m4 0h0m2 0h0m-20 1h0m6 0h0m10 0h0m2 0h0m-26 1h0m9 0h0m26 0h0m3 0h0m-50 1h0m29 0h0m0 0h0m1 0h0m2 0h0m11 0h0m61 0h0m1 0h0m-89 1h0m2 0h0m3 0h0m2 0h0m5 0h0m0 0h0m4 0h0m4 0h0m6 0h0m6 0h0m95 0h0m-127 1h0m8 0h0m8 0h0m3 0h0m0 0h0m4 0h0m14 0h0m0 0h0m-32 1h0m1 0h0m2 0h0m1 0h0m2 0h0m2 0h0m1 0h0m24 0h0m-24 1h0m15 0h0m-17 1h0m1 0h0m1 0h0m2 0h0m-13 1h0m2 0h0m0 0h0m3 0h0m-56 1h0m49 0h0m14 0h0m6 0h0m1 0h0m6 0h0m-23 1h0m11 0h0m1 0h0m-14 1h0m6 0h0m0 0h0m4 0h0m4 0h0m0 0h0m1 0h0m5 0h0m4 0h0m2 0h0m-19 1h0m7 0h0m7 0h0m122 0h0m-140 1h0m4 0h0m3 0h0m6 0h0m7 0h0m-29 1h0m13 0h0m7 0h0m1 0h0m3 0h0m-19 1h0m11 0h0m1 0h0m2 0h0m4 0h0m7 0h0m-11 1h0m1 0h0m7 0h0m4 0h0m-11 1h0m0 0h0m2 0h0m33 0h0m-44 1h0m5 0h0m2 0h0m4 0h0m15 0h0m131 0h0m-153 1h0m7 0h0m2 0h0m6 0h0m137 0h0m-152 1h0m1 0h0m1 0h0m6 0h0m3 0h0m-12 1h0m5 0h0m-20 1h0m8 0h0m14 0h0m1 0h0m2 0h0m2 0h0m3 0h0m-19 1h0m9 0h0m-3 1h0m16 0h0m-16 1h0m1 0h0m0 0h0m5 0h0m-11 1h0m4 0h0m5 0h0m1 0h0m2 0h0m-23 1h0m14 0h0m6 0h0m1 0h0m3 0h0m0 0h0m4 0h0m-16 1h0m5 0h0m4 0h0m-8 1h0m2 0h0m4 0h0m1 0h0m-9 1h0m0 0h0m8 0h0m8 0h0m5 1h0m-27 1h0m4 0h0m4 0h0m3 0h0m1 0h0m6 0h0m-3 1h0m2 0h0m3 0h0m-8 1h0m4 0h0m-48 1h0m40 0h0m0 0h0m10 0h0m0 0h0m-12 1h0m5 0h0m0 0h0m3 0h0m1 0h0m5 0h0m-14 1h0m3 0h0m7 0h0m-6 1h0m11 0h0m66 1h0m-65 1h0m55 2h0"/>
<path stroke="#584285" d="M835 106h0m20 10h0m1 0h0m-3 1h0m-2 2h0m7 10h0m6 1h0m-30 1h0m43 7h0m5 0h0m-4 4h0m-47 6h0m28 6h0m-3 10h0m8 0h0m0 6h0m18 2h0m-23 3h0m-1 4h0m12 0h0m-25 2h0m18 13h0m10 2h0m-8 1h0m-5 2h0m19 5h0m-23 4h0m18 0h0m-7 1h0m-11 3h0m-11 2h0m27 4h0m3 4h0m-17 23h0m18 4h0m12 8h0m-12 8h0m-81 3h0m7 4h0m88 0h0m27 1h0m-106 4h0m-110 3h0m19 2h0m182 4h0m-181 4h0m150 1h0m-157 2h0m173 3h0m-113 1h0m9 0h0m50 0h0m-115 2h0m158 0h0m-166 6h0m17 4h0m-26 4h0m12 0h0m52 2h0m-57 3h0m26 1h0m5 0h0m131 0h0m-55 3h0m56 0h0m-87 1h0m3 1h0m21 0h0m13 0h0m-56 1h0m8 0h0m4 0h0m118 0h0m-73 1h0m22 0h0m18 0h0m-45 1h0m9 0h0m-49 1h0m10 0h0m1 1h0m6 0h0m-22 1h0m-67 1h0m34 0h0m65 0h0m25 0h0m31 0h0m-52 1h0m9 1h0m6 0h0m5 0h0m-85 1h0m38 0h0m12 0h0m22 0h0m12 0h0m-28 1h0m2 0h0m-28 1h0m11 0h0m43 0h0m8 0h0m1 0h0m21 0h0m15 0h0m-55 1h0m19 0h0m16 0h0m31 0h0m-77 1h0m17 0h0m152 0h0m-154 1h0m11 0h0m29 0h0m-59 1h0m2 0h0m4 0h0m1 0h0m10 0h0m16 0h0m-66 1h0m32 0h0m8 0h0m9 0h0m5 0h0m10 0h0m1 0h0m6 0h0m12 0h0m-43 1h0m7 0h0m8 0h0m16 0h0m80 0h0m-212 1h0m89 0h0m38 0h0m1 0h0m-29 1h0m26 0h0m-45 1h0m9 0h0m7 0h0m9 0h0m23 0h0m0 0h0m11 0h0m5 0h0m-57 1h0m12 0h0m8 0h0m5 0h0m2 0h0m1 0h0m5 0h0m0 0h0m31 0h0m-75 1h0m1 0h0m8 0h0m0 0h0m12 0h0m13 0h0m7 0h0m2 0h0m6 0h0m4 0h0m14 0h0m104 0h0m-256 1h0m19 0h0m70 0h0m24 0h0m4 0h0m4 0h0m6 0h0m97 0h0m-197 1h0m66 0h0m16 0h0m12 0h0m0 0h0m4 0h0m2 0h0m4 0h0m3 0h0m3 0h0m6 0h0m14 0h0m19 0h0m-146 1h0m71 0h0m4 0h0m3 0h0m4 0h0m19 0h0m5 0h0m5 0h0m26 0h0m69 0h0m-230 1h0m93 0h0m3 0h0m9 0h0m2 0h0m5 0h0m7 0h0m0 0h0m3 0h0m1 0h0m2 0h0m16 0h0m-42 1h0m3 0h0m1 0h0m4 0h0m1 0h0m3 0h0m14 0h0m3 0h0m22 0h0m-70 1h0m16 0h0m2 0h0m2 0h0m10 0h0m5 0h0m4 0h0m7 0h0m8 0h0m3 0h0m66 0h0m-115 1h0m20 0h0m19 0h0m7 0h0m10 0h0m96 0h0m43 0h0m-186 1h0m13 0h0m6 0h0m4 0h0m4 0h0m2 0h0m1 0h0m5 0h0m5 0h0m1 0h0m77 0h0m-138 1h0m9 0h0m1 0h0m7 0h0m2 0h0m1 0h0m1 0h0m21 0h0m10 0h0m19 0h0m8 0h0m16 0h0m46 0h0m52 0h0m-170 1h0m11 0h0m13 0h0m2 0h0m0 0h0m2 0h0m16 0h0m9 0h0m-55 1h0m4 0h0m13 0h0m18 0h0m6 0h0m0 0h0m28 0h0m21 0h0m-139 1h0m39 0h0m12 0h0m9 0h0m12 0h0m13 0h0m1 0h0m10 0h0m5 0h0m-54 1h0m19 0h0m22 0h0m2 0h0m76 0h0m9 0h0m-230 1h0m53 0h0m29 0h0m6 0h0m10 0h0m5 0h0m8 0h0m8 0h0m6 0h0m13 0h0m1 0h0m2 0h0m4 0h0m10 0h0m13 0h0m50 0h0m27 0h0m94 0h0m-241 1h0m11 0h0m2 0h0m14 0h0m27 0h0m2 0h0m2 0h0m13 0h0m4 0h0m10 0h0m-81 1h0m1 0h0m6 0h0m6 0h0m5 0h0m7 0h0m5 0h0m1 0h0m12 0h0m7 0h0m64 0h0m18 0h0m1 0h0m1 0h0m-158 1h0m19 0h0m20 0h0m9 0h0m5 0h0m4 0h0m26 0h0m58 0h0m12 0h0m-134 1h0m11 0h0m7 0h0m4 0h0m2 0h0m4 0h0m0 0h0m4 0h0m2 0h0m19 0h0m1 0h0m24 0h0m4 0h0m2 0h0m49 0h0m59 0h0m-263 1h0m78 0h0m11 0h0m2 0h0m8 0h0m12 0h0m2 0h0m6 0h0m8 0h0m8 0h0m76 0h0m-119 1h0m2 0h0m9 0h0m2 0h0m1 0h0m6 0h0m16 0h0m0 0h0m51 0h0m-112 1h0m29 0h0m0 0h0m4 0h0m5 0h0m6 0h0m5 0h0m6 0h0m81 0h0m54 0h0m78 0h0m-265 1h0m6 0h0m5 0h0m8 0h0m7 0h0m3 0h0m8 0h0m6 0h0m16 0h0m5 0h0m83 0h0m2 0h0m3 0h0m20 0h0m33 0h0m-196 1h0m13 0h0m7 0h0m2 0h0m16 0h0m3 0h0m3 0h0m1 0h0m3 0h0m62 0h0m11 0h0m38 0h0m7 0h0m-168 1h0m40 0h0m4 0h0m15 0h0m13 0h0m0 0h0m74 0h0m10 0h0m30 0h0m69 0h0m-357 1h0m140 0h0m34 0h0m45 0h0m26 0h0m28 0h0m-162 1h0m2 0h0m13 0h0m11 0h0m10 0h0m10 0h0m39 0h0m39 0h0m0 0h0m-242 1h0m41 0h0m75 0h0m4 0h0m1 0h0m31 0h0m9 0h0m23 0h0m7 0h0m99 0h0m25 0h0m-310 1h0m58 0h0m79 0h0m8 0h0m7 0h0m15 0h0m55 0h0m35 0h0m8 0h0m25 0h0m-183 1h0m9 0h0m1 0h0m35 0h0m0 0h0m4 0h0m15 0h0m69 0h0m2 0h0m49 0h0m-198 1h0m22 0h0m13 0h0m4 0h0m4 0h0m11 0h0m1 0h0m5 0h0m20 0h0m135 0h0m-311 1h0m84 0h0m22 0h0m7 0h0m23 0h0m14 0h0m6 0h0m1 0h0m16 0h0m19 0h0m74 0h0m22 0h0m-285 1h0m9 0h0m25 0h0m78 0h0m17 0h0m10 0h0m11 0h0m166 0h0m41 0h0m1 0h0m-350 1h0m10 0h0m75 0h0m14 0h0m6 0h0m10 0h0m61 0h0m82 0h0m-221 1h0m39 0h0m60 0h0m9 0h0m139 0h0m16 0h0m-196 1h0m37 0h0m33 0h0m14 0h0m76 0h0m5 0h0m-259 1h0m58 0h0m25 0h0m32 0h0m15 0h0m99 0h0m7 0h0m13 0h0m-163 1h0m11 0h0m0 0h0m25 0h0m4 0h0m6 0h0m10 0h0m1 0h0m10 0h0m34 0h0m175 0h0m-324 1h0m74 0h0m23 0h0m4 0h0m113 0h0m94 0h0m-308 1h0m35 0h0m3 0h0m4 0h0m19 0h0m27 0h0m0 0h0m9 0h0m20 0h0m0 0h0m87 0h0m-172 1h0m36 0h0m21 0h0m4 0h0m8 0h0m10 0h0m17 0h0m84 0h0m-40 1h0m29 0h0m104 0h0m-280 1h0m44 0h0m26 0h0m4 0h0m8 0h0m168 0h0m10 0h0m-340 1h0m99 0h0m20 0h0m2 0h0m10 0h0m10 0h0m79 0h0m3 0h0m94 0h0m4 0h0m-260 1h0m41 0h0m16 0h0m16 0h0m-35 1h0m28 0h0m99 0h0m110 0h0m-212 1h0m26 0h0m130 0h0m5 0h0m30 0h0m14 0h0m-245 1h0m37 0h0m63 0h0m94 0h0m24 0h0m13 0h0m40 0h0m-289 1h0m30 0h0m61 0h0m79 0h0m23 0h0m-155 1h0m27 0h0m18 0h0m11 0h0m12 0h0m-58 1h0m25 0h0m127 0h0m86 0h0m19 0h0m-258 1h0m21 0h0m11 0h0m9 0h0m-96 1h0m26 0h0m14 0h0m12 0h0m255 0h0m-333 1h0m68 0h0m21 0h0m12 0h0m6 0h0m186 0h0m-201 1h0m24 0h0m14 0h0m8 0h0m1 0h0m5 0h0m125 0h0m-247 1h0m62 0h0m3 0h0m23 0h0m5 0h0m-42 1h0m10 0h0m20 0h0m-25 1h0m-117 1h0m142 0h0m14 0h0m13 0h0m169 0h0m4 0h0m4 0h0m-219 1h0m5 0h0m22 0h0m199 0h0m-340 1h0m43 0h0m28 0h0m58 0h0m37 0h0m44 0h0m-124 1h0m246 0h0m-232 1h0m7 1h0m233 0h0m-301 1h0m84 1h0m5 1h0m185 0h0m-218 1h0m3 0h0m-13 1h0m20 0h0m7 0h0m244 0h0m-255 1h0m112 0h0m-119 1h0m264 0h0m3 0h0m-315 1h0m57 0h0m229 2h0m26 0h0m-245 1h0m-24 1h0m3 3h0m11 0h0m-12 1h0m6 0h0m11 0h0m29 0h0m-46 1h0m-4 1h0m6 0h0m17 2h0m-16 1h0m16 1h0m1 1h0m209 0h0m-217 1h0m60 0h0m-28 1h0m-36 1h0m-4 1h0m85 0h0m-67 1h0m-8 4h0m1 0h0m-8 2h0m3 0h0m6 1h0m-23 3h0m6 1h0m3 0h0m0 0h0m2 0h0m5 0h0m2 0h0m-12 2h0m14 1h0m0 2h0m2 0h0m-11 2h0m39 0h0m-43 2h0m20 0h0m-17 2h0m4 0h0m-3 2h0m3 0h0m1 1h0m-7 1h0m33 0h0m-19 3h0"/>
<path stroke="#57498a" d="M859 150h0m15 68h0m-11 34h0m15 2h0m-12 4h0m36 6h0m-131 3h0m111 0h0m10 10h0m-44 6h0m67 26h0m-93 4h0m87 7h0m-50 6h0m-44 2h0m10 1h0m26 2h0m-73 1h0m42 0h0m18 0h0m35 0h0m35 0h0m-112 2h0m30 0h0m1 0h0m14 0h0m-46 1h0m16 0h0m9 0h0m22 0h0m8 0h0m-14 2h0m3 0h0m27 0h0m-31 1h0m19 0h0m-57 1h0m68 0h0m-40 1h0m23 0h0m-133 1h0m79 0h0m15 0h0m11 0h0m15 0h0m-20 1h0m33 0h0m27 0h0m-103 1h0m82 0h0m-25 1h0m11 0h0m21 0h0m21 0h0m-88 1h0m38 0h0m23 0h0m-16 1h0m1 0h0m13 0h0m1 0h0m-62 1h0m21 0h0m1 0h0m14 0h0m21 0h0m94 0h0m-163 1h0m9 0h0m29 0h0m1 0h0m-37 1h0m93 0h0m35 0h0m-117 1h0m17 0h0m32 0h0m12 0h0m59 0h0m-122 1h0m19 0h0m13 0h0m-8 1h0m6 0h0m21 0h0m13 0h0m-67 1h0m7 0h0m40 0h0m5 0h0m16 0h0m-48 1h0m6 0h0m12 0h0m-24 1h0m6 0h0m4 0h0m20 0h0m24 0h0m75 0h0m-114 1h0m10 0h0m2 0h0m4 0h0m9 0h0m-43 1h0m13 0h0m6 0h0m4 0h0m5 0h0m1 0h0m7 0h0m13 0h0m146 0h0m-201 1h0m11 0h0m13 0h0m5 0h0m2 0h0m8 0h0m0 0h0m1 0h0m1 0h0m11 0h0m-30 1h0m1 0h0m6 0h0m4 0h0m12 0h0m7 0h0m-47 1h0m9 0h0m4 0h0m14 0h0m20 0h0m4 0h0m59 0h0m-149 1h0m76 0h0m4 0h0m2 0h0m6 0h0m10 0h0m2 0h0m0 0h0m70 0h0m-140 1h0m7 0h0m43 0h0m19 0h0m7 0h0m-83 1h0m9 0h0m3 0h0m15 0h0m3 0h0m6 0h0m7 0h0m0 0h0m34 0h0m6 0h0m4 0h0m-76 1h0m8 0h0m48 0h0m8 0h0m7 0h0m12 0h0m-99 1h0m111 0h0m-85 1h0m28 0h0m5 0h0m8 0h0m10 0h0m18 0h0m7 0h0m-118 1h0m32 0h0m35 0h0m2 0h0m3 0h0m6 0h0m-27 1h0m2 0h0m2 0h0m12 0h0m2 0h0m26 0h0m24 0h0m-90 1h0m13 0h0m3 0h0m4 0h0m37 0h0m88 0h0m-118 1h0m4 0h0m113 0h0m-128 1h0m16 0h0m0 0h0m2 0h0m14 0h0m4 0h0m14 0h0m0 0h0m3 0h0m94 0h0m-170 1h0m12 0h0m18 0h0m3 0h0m25 0h0m34 0h0m82 0h0m-118 1h0m27 0h0m10 0h0m-72 1h0m11 0h0m1 0h0m24 0h0m0 0h0m126 0h0m-147 1h0m2 0h0m5 0h0m3 0h0m55 0h0m-57 1h0m4 0h0m7 0h0m8 0h0m14 0h0m72 0h0m15 0h0m37 0h0m-164 1h0m3 0h0m9 0h0m2 0h0m26 0h0m110 0h0m4 0h0m31 0h0m-180 1h0m31 0h0m4 0h0m5 0h0m109 0h0m17 0h0m22 0h0m-194 1h0m32 0h0m-10 1h0m12 0h0m4 0h0m8 0h0m8 0h0m2 0h0m6 0h0m23 0h0m11 0h0m-108 1h0m6 0h0m149 0h0m-162 1h0m20 0h0m25 0h0m15 0h0m2 0h0m26 0h0m72 0h0m100 0h0m-276 1h0m27 0h0m20 0h0m26 0h0m7 0h0m-37 1h0m4 0h0m1 0h0m3 0h0m13 0h0m10 0h0m7 0h0m16 0h0m-88 1h0m224 0h0m-211 1h0m1 0h0m152 0h0m78 0h0m7 0h0m-257 1h0m11 0h0m30 0h0m2 0h0m14 0h0m109 0h0m8 0h0m56 0h0m-215 1h0m10 0h0m46 0h0m6 0h0m-73 1h0m59 0h0m30 0h0m40 0h0m90 0h0m38 0h0m-221 1h0m31 0h0m97 0h0m-128 1h0m36 0h0m-21 1h0m19 0h0m103 0h0m24 0h0m45 0h0m-224 1h0m13 0h0m26 1h0m112 0h0m-108 1h0m9 0h0m-26 1h0m70 0h0m50 0h0m59 0h0m-205 1h0m187 0h0m-207 1h0m47 0h0m183 0h0m41 0h0m9 0h0m-261 1h0m34 0h0m7 0h0m-14 1h0m-51 1h0m193 0h0m-161 2h0m41 0h0m10 0h0m116 0h0m-92 1h0m-30 1h0m-44 1h0m28 0h0m15 0h0m202 0h0m-203 1h0m160 0h0m-199 1h0m77 0h0m-102 1h0m57 0h0m10 0h0m17 0h0m-74 1h0m171 0h0m-173 1h0m26 0h0m127 0h0m-136 1h0m-1 1h0m17 0h0m186 0h0m1 0h0m-188 1h0m-35 2h0m54 0h0m213 2h0m-184 1h0m-32 2h0m209 3h0m-180 1h0m-46 8h0m-32 13h0m28 10h0m-35 5h0"/>
<path stroke="#554f8d" d="M857 228h0m32 0h0m-7 3h0m13 2h0m-46 5h0m-11 1h0m21 30h0m38 15h0m-28 5h0m-110 2h0m136 6h0m1 14h0m-12 12h0m-39 2h0m5 0h0m-13 8h0m37 0h0m-46 1h0m1 4h0m-8 1h0m17 0h0m-21 1h0m15 0h0m-10 2h0m-2 1h0m14 0h0m36 0h0m-84 1h0m35 0h0m18 0h0m19 0h0m-54 1h0m4 0h0m19 0h0m27 0h0m3 0h0m6 0h0m79 1h0m-133 1h0m-11 1h0m20 0h0m2 0h0m5 0h0m6 0h0m47 0h0m23 0h0m-77 1h0m20 0h0m6 0h0m3 0h0m36 0h0m-40 1h0m30 0h0m71 0h0m-198 1h0m68 0h0m5 0h0m54 0h0m-59 2h0m7 0h0m19 0h0m-37 1h0m6 0h0m9 1h0m19 0h0m92 0h0m-115 1h0m0 0h0m54 0h0m-72 1h0m3 0h0m16 0h0m11 1h0m4 0h0m23 0h0m9 0h0m-37 1h0m1 0h0m-7 1h0m28 0h0m6 0h0m-33 2h0m23 0h0m-9 1h0m4 0h0m4 0h0m-72 1h0m22 0h0m22 0h0m25 0h0m41 0h0m47 0h0m-113 1h0m31 0h0m168 0h0m-232 1h0m14 0h0m6 0h0m39 0h0m4 0h0m2 0h0m26 0h0m40 0h0m-127 1h0m26 0h0m37 0h0m30 0h0m-76 1h0m29 0h0m16 0h0m-37 1h0m10 0h0m1 0h0m8 0h0m8 0h0m10 0h0m5 0h0m15 0h0m3 0h0m7 0h0m84 0h0m-160 1h0m15 0h0m11 0h0m89 0h0m-135 1h0m38 0h0m12 0h0m19 0h0m-55 1h0m52 0h0m-34 1h0m4 0h0m4 0h0m11 0h0m7 1h0m2 0h0m10 0h0m-105 1h0m36 0h0m30 0h0m1 0h0m25 0h0m6 0h0m0 0h0m73 0h0m-121 1h0m0 0h0m31 0h0m8 0h0m64 0h0m83 0h0m-168 1h0m1 0h0m9 0h0m6 0h0m9 0h0m15 0h0m2 1h0m15 0h0m106 0h0m-217 1h0m2 0h0m30 0h0m31 0h0m12 0h0m2 0h0m3 0h0m2 0h0m6 0h0m1 0h0m132 0h0m-157 1h0m0 0h0m7 0h0m38 0h0m-40 1h0m-21 1h0m0 0h0m6 0h0m0 0h0m9 0h0m58 0h0m44 0h0m-103 1h0m41 0h0m20 0h0m2 0h0m-92 1h0m2 0h0m6 0h0m18 0h0m-18 1h0m25 0h0m19 0h0m17 0h0m85 0h0m21 0h0m-194 1h0m11 0h0m50 0h0m9 0h0m37 0h0m-88 1h0m18 0h0m35 0h0m-21 1h0m8 0h0m146 0h0m-119 1h0m-98 1h0m50 0h0m13 0h0m12 0h0m16 0h0m-46 1h0m50 0h0m-49 1h0m38 0h0m6 0h0m11 0h0m196 0h0m-251 1h0m33 0h0m-29 1h0m27 0h0m199 0h0m11 1h0m-224 2h0m3 0h0m11 2h0m23 0h0m-45 1h0m13 0h0m-56 1h0m30 1h0m4 0h0m33 0h0m-41 1h0m204 0h0m-232 1h0m33 0h0m17 1h0m20 2h0m-41 1h0m216 4h0m41 0h0m-214 1h0m-32 1h0m-68 2h0m289 0h0m-178 9h0m24 3h0m124 7h0"/>
<path stroke="#52568f" d="M887 218h0m1 50h0m-23 33h0m28 0h0m-16 6h0m-78 18h0m62 5h0m-31 2h0m4 1h0m-34 6h0m114 1h0m-55 2h0m-19 1h0m-45 1h0m45 1h0m1 0h0m-28 1h0m32 1h0m32 0h0m29 0h0m-89 1h0m9 0h0m25 0h0m-46 1h0m16 1h0m40 0h0m162 0h0m-214 1h0m41 0h0m1 0h0m2 0h0m19 0h0m-42 2h0m5 0h0m19 0h0m-53 2h0m25 0h0m3 0h0m14 0h0m7 0h0m2 0h0m-72 1h0m60 0h0m3 0h0m-23 1h0m46 0h0m-23 1h0m20 0h0m-31 1h0m22 0h0m24 0h0m-39 1h0m0 0h0m33 0h0m-15 2h0m11 0h0m11 0h0m-68 1h0m40 0h0m6 0h0m16 0h0m-85 1h0m15 0h0m27 0h0m18 0h0m27 0h0m-76 1h0m17 0h0m6 0h0m-75 1h0m47 0h0m55 0h0m20 0h0m-78 1h0m31 0h0m26 0h0m55 0h0m-81 1h0m22 0h0m4 0h0m10 0h0m22 0h0m73 0h0m-131 1h0m55 0h0m-91 1h0m78 0h0m-18 1h0m28 0h0m-22 1h0m-42 1h0m42 0h0m11 0h0m4 0h0m6 0h0m-103 2h0m60 0h0m20 0h0m12 0h0m6 1h0m-27 1h0m21 0h0m-51 1h0m23 0h0m37 0h0m-4 1h0m2 0h0m-90 1h0m0 0h0m25 0h0m4 0h0m40 0h0m17 0h0m-26 1h0m12 0h0m16 0h0m-92 1h0m73 0h0m15 0h0m-38 2h0m9 0h0m21 0h0m13 0h0m3 0h0m-65 1h0m18 0h0m19 0h0m21 0h0m-61 2h0m17 0h0m20 0h0m21 0h0m-31 1h0m11 0h0m11 0h0m20 0h0m20 1h0m-67 2h0m1 0h0m22 0h0m10 0h0m-5 1h0m-34 1h0m59 0h0m-56 1h0m51 0h0m-18 1h0m3 1h0m-11 1h0m-22 2h0m49 0h0m1 0h0m-44 1h0m45 0h0m-77 1h0m72 0h0m-66 5h0m21 0h0m181 0h0m-184 2h0m-21 3h0"/>
<path stroke="#505d92" d="M889 223h0m-6 25h0m0 1h0m11 22h0m-25 4h0m20 15h0m-10 4h0m24 4h0m-9 1h0m10 0h0m5 7h0m-66 11h0m-21 18h0m11 3h0m-4 1h0m-19 3h0m60 0h0m15 0h0m-92 1h0m65 0h0m28 5h0m-50 2h0m25 0h0m-29 1h0m29 0h0m-14 1h0m14 1h0m-61 1h0m23 2h0m-17 1h0m12 1h0m68 0h0m-106 1h0m90 1h0m-94 1h0m52 0h0m67 1h0m-70 1h0m35 1h0m-45 1h0m61 0h0m-78 1h0m61 0h0m-36 4h0m17 0h0m18 1h0m6 0h0m-6 1h0m7 0h0m-27 1h0m12 0h0m20 0h0m20 1h0m-82 2h0m60 0h0m16 0h0m-59 2h0m28 0h0m20 0h0m-43 1h0m33 0h0m23 1h0m-38 1h0m29 1h0m-37 1h0m28 0h0m2 0h0m7 0h0m4 0h0m-38 1h0m-37 2h0m20 0h0m-1 2h0m5 0h0m31 0h0m10 1h0m-14 4h0m-93 4h0m79 0h0m43 31h0"/>
<path stroke="#4d6393" d="M870 258h0m10 1h0m-6 4h0m13 26h0m17 1h0m-6 7h0m-18 4h0m5 1h0m-1 9h0m-22 4h0m56 8h0m-24 2h0m-41 13h0m1 4h0m-7 4h0m16 0h0m10 0h0m-29 2h0m24 5h0m4 0h0m-21 1h0m26 0h0m8 3h0m-19 1h0m-13 1h0m11 0h0m-8 2h0m18 0h0m18 0h0m-117 1h0m88 1h0m10 1h0m-15 1h0m16 0h0m-24 1h0m23 0h0m-13 1h0m4 0h0m11 0h0m-23 1h0m2 0h0m-5 1h0m20 0h0m-10 1h0m-8 1h0m8 0h0m-1 1h0m15 0h0m14 0h0m-85 1h0m57 0h0m15 0h0m-8 1h0m11 0h0m-17 1h0m11 0h0m7 0h0m-49 1h0m16 0h0m13 0h0m-4 1h0m19 0h0m-8 1h0m-62 1h0m45 0h0m51 1h0m-56 1h0m0 0h0m35 0h0m-28 2h0m3 0h0m-24 2h0m33 0h0m13 0h0m-19 1h0m2 0h0m16 0h0m-14 1h0m20 0h0m-22 2h0m13 0h0m-93 1h0m116 1h0m-44 2h0m35 0h0m-25 1h0m-4 1h0m2 8h0m27 6h0"/>
<path stroke="#4a6994" d="M889 249h0m6 14h0m-20 2h0m40 2h0m-14 25h0m-15 15h0m-17 2h0m39 1h0m-9 18h0m-89 6h0m52 7h0m17 0h0m-23 3h0m0 2h0m13 0h0m-2 5h0m-11 1h0m-5 1h0m8 1h0m8 1h0m-12 1h0m7 0h0m4 0h0m11 2h0m-24 1h0m16 0h0m-2 2h0m10 0h0m-11 2h0m-13 2h0m11 1h0m0 0h0m4 0h0m10 3h0m-17 2h0m-3 1h0m9 0h0m9 0h0m-18 1h0m1 0h0m15 0h0m7 0h0m-14 1h0m1 0h0m0 0h0m-25 1h0m12 0h0m6 0h0m11 0h0m5 0h0m2 0h0m-26 1h0m18 0h0m-19 1h0m9 0h0m-42 2h0m54 0h0m-11 1h0m14 1h0m9 0h0m-36 1h0m8 0h0m24 0h0m10 0h0m-41 1h0m10 0h0m-4 1h0m8 1h0m-1 1h0m14 0h0m0 0h0m-9 3h0m1 0h0m9 0h0m-29 1h0m30 0h0m3 1h0m-26 1h0m12 4h0m-23 1h0"/>
<path stroke="#486e94" d="M889 231h0m6 7h0m-12 5h0m12 23h0m-2 6h0m-7 14h0m-3 9h0m3 5h0m-26 3h0m50 2h0m-39 9h0m7 11h0m-4 2h0m31 3h0m-44 9h0m18 1h0m-6 3h0m3 2h0m-18 2h0m34 0h0m-37 2h0m10 0h0m-11 2h0m7 0h0m19 0h0m-13 1h0m3 0h0m-8 2h0m9 0h0m-33 1h0m24 1h0m3 1h0m14 0h0m-20 1h0m2 0h0m1 0h0m7 0h0m-14 1h0m19 0h0m10 0h0m-29 1h0m2 0h0m3 0h0m28 0h0m-37 1h0m20 1h0m-15 1h0m2 1h0m10 0h0m7 0h0m7 0h0m-31 1h0m27 0h0m4 0h0m-33 1h0m19 0h0m9 0h0m-13 1h0m4 0h0m4 0h0m-14 2h0m0 0h0m11 0h0m10 0h0m-19 1h0m15 0h0m-25 1h0m1 0h0m14 0h0m16 0h0m-22 1h0m9 0h0m1 0h0m8 0h0m-25 1h0m0 1h0m9 0h0m15 0h0m16 0h0m-10 1h0m-22 1h0m6 0h0m0 0h0m10 0h0m-21 1h0m4 0h0m13 0h0m2 1h0m7 0h0m-16 1h0m9 0h0m-24 1h0m32 0h0m4 0h0m-30 1h0m7 0h0m2 0h0m2 0h0m-12 1h0m15 0h0m0 0h0m2 0h0m-13 2h0m3 0h0m11 0h0m3 0h0m-25 1h0m7 0h0m-11 1h0m4 0h0m23 0h0m0 0h0m4 0h0m-32 1h0m1 0h0m1 0h0m8 2h0m4 0h0m14 2h0m-27 2h0m20 0h0m7 3h0m-13 1h0m23 2h0m-8 2h0"/>
<path stroke="#457495" d="M876 236h0m10 32h0m2 4h0m10 27h0m8 13h0m-15 2h0m-13 27h0m13 2h0m-15 2h0m0 2h0m0 4h0m10 0h0m-37 4h0m7 0h0m1 0h0m25 1h0m-35 2h0m6 0h0m13 0h0m1 0h0m-15 2h0m25 1h0m3 0h0m2 1h0m13 0h0m-33 1h0m17 0h0m-18 1h0m2 0h0m5 0h0m-28 1h0m16 0h0m-1 1h0m6 0h0m4 0h0m2 0h0m22 0h0m3 0h0m-40 1h0m14 0h0m12 0h0m3 0h0m-28 1h0m40 0h0m-59 1h0m15 1h0m4 0h0m34 0h0m-36 1h0m19 0h0m0 1h0m-12 1h0m-11 1h0m31 0h0m0 0h0m4 0h0m-10 1h0m2 0h0m-20 1h0m5 0h0m22 0h0m-23 2h0m18 0h0m3 0h0m-25 1h0m1 0h0m12 0h0m2 0h0m8 0h0m6 3h0m-42 1h0m28 0h0m-5 1h0m16 0h0m-10 1h0m-26 1h0m18 0h0m0 0h0m14 0h0m-14 1h0m6 0h0m1 0h0m-3 1h0m5 0h0m-18 1h0m14 0h0m5 0h0m-11 1h0m3 1h0m25 2h0m-22 1h0m-4 1h0m9 0h0m9 1h0m-7 1h0m-1 1h0m-28 3h0"/>
<path stroke="#437995" d="M888 245h0m-19 21h0m-1 25h0m22 11h0m3 9h0m-9 6h0m-1 12h0m-6 4h0m-6 12h0m7 3h0m-6 2h0m-17 2h0m11 0h0m-20 2h0m11 1h0m17 2h0m-7 2h0m7 0h0m-11 1h0m2 0h0m0 1h0m-15 1h0m11 2h0m27 0h0m-57 1h0m23 0h0m-17 1h0m15 0h0m4 0h0m12 0h0m1 0h0m15 0h0m15 0h0m-38 1h0m15 0h0m-16 1h0m2 1h0m0 1h0m11 0h0m-21 1h0m12 0h0m11 1h0m11 0h0m-35 1h0m7 0h0m14 0h0m-7 1h0m17 0h0m-18 1h0m8 0h0m-23 1h0m7 0h0m15 0h0m-21 1h0m23 0h0m-7 1h0m5 0h0m-5 2h0m11 0h0m-29 1h0m17 0h0m19 0h0m-37 1h0m23 0h0m-8 1h0m1 1h0m8 0h0m17 1h0m-11 1h0m-15 1h0m9 0h0m5 0h0m-28 1h0m2 1h0m19 1h0m1 0h0m15 1h0m-32 1h0m16 0h0m-11 3h0m12 0h0m-6 1h0m5 0h0m-11 1h0m-8 1h0m20 0h0m5 3h0m-12 2h0m10 0h0m-13 3h0"/>
<path stroke="#407f95" d="M905 271h0m-20 32h0m-7 11h0m7 11h0m-2 1h0m14 4h0m-12 2h0m-16 11h0m9 0h0m-25 1h0m8 7h0m-12 2h0m6 0h0m-5 1h0m16 1h0m10 0h0m0 1h0m14 0h0m-29 1h0m-10 1h0m3 1h0m15 0h0m1 1h0m-30 1h0m19 1h0m-4 1h0m6 0h0m3 2h0m-6 1h0m0 0h0m15 0h0m-16 1h0m8 0h0m-2 1h0m-13 2h0m8 1h0m10 0h0m-9 1h0m31 0h0m-5 1h0m6 0h0m-31 1h0m3 1h0m9 0h0m14 0h0m-38 2h0m8 0h0m3 1h0m9 0h0m9 0h0m-23 1h0m23 1h0m6 0h0m-24 1h0m10 0h0m-5 1h0m0 0h0m32 2h0m-32 1h0m1 0h0m10 0h0m-30 2h0m27 0h0m14 1h0m-18 2h0m13 0h0m-14 1h0m-6 4h0m8 0h0m2 0h0m2 2h0m-10 19h0"/>
<path stroke="#3e8595" d="M878 266h0m22 1h0m4 3h0m11 20h0m-24 28h0m-34 8h0m14 10h0m-12 12h0m-7 4h0m28 0h0m-11 1h0m3 1h0m-13 1h0m-5 1h0m19 3h0m6 0h0m-17 3h0m2 0h0m2 0h0m-22 2h0m2 1h0m28 0h0m-13 1h0m14 3h0m-21 1h0m7 0h0m2 0h0m19 1h0m-40 1h0m1 2h0m32 0h0m-19 1h0m22 0h0m-26 1h0m7 0h0m20 2h0m10 1h0m-11 1h0m-10 2h0m20 1h0m-26 1h0m16 1h0m-26 1h0m8 5h0m13 4h0m3 3h0m-23 4h0"/>
<path stroke="#3c8a95" d="M888 265h0m-6 40h0m5 2h0m-16 23h0m-8 14h0m21 1h0m-24 1h0m14 0h0m-1 4h0m6 1h0m-4 3h0m-17 1h0m24 0h0m-16 3h0m-19 1h0m2 1h0m24 0h0m16 0h0m-41 4h0m4 3h0m10 0h0m-11 1h0m9 0h0m-11 2h0m22 1h0m7 0h0m9 0h0m-18 2h0m9 0h0m-31 3h0m45 0h0m-61 1h0m46 1h0m21 0h0m-21 2h0m-7 6h0m13 1h0m-9 2h0m-26 1h0m16 3h0m-10 4h0m30 2h0m-29 4h0m26 14h0"/>
<path stroke="#3a8f95" d="M894 311h0m-31 3h0m46 3h0m-34 7h0m17 10h0m-10 14h0m-22 8h0m-3 1h0m13 1h0m-6 1h0m13 3h0m-9 1h0m3 3h0m27 0h0m-41 1h0m5 0h0m0 3h0m9 0h0m11 1h0m-4 1h0m-7 4h0m8 2h0m11 0h0m-8 1h0m-17 1h0m26 0h0m-54 1h0m28 1h0m-5 1h0m32 2h0m-31 7h0m10 7h0"/>
<path stroke="#389494" d="M894 240h0m11 50h0m-38 4h0m11 6h0m21 3h0m-30 5h0m43 9h0m-37 33h0m16 3h0m-37 5h0m-1 3h0m27 4h0m-1 3h0m-30 1h0m32 0h0m-10 3h0m-5 1h0m18 0h0m6 1h0m-3 2h0m-20 1h0m22 0h0m-20 3h0m19 0h0m-39 1h0m3 6h0m18 6h0m-25 7h0"/>
<path stroke="#379a93" d="M906 209h0m-21 94h0m-4 19h0m10 9h0m-40 18h0m2 6h0m11 0h0m-10 1h0m30 3h0m-20 1h0m25 1h0m7 0h0m-12 2h0m14 1h0m-16 1h0m0 1h0m-3 1h0m-2 3h0m17 0h0m-12 1h0m-6 2h0m12 4h0m5 6h0m-34 2h0m-3 2h0"/>
<path stroke="#369e92" d="M899 246h0m0 38h0m-59 18h0m51 7h0m27 1h0m-22 43h0m-4 1h0m1 1h0m-17 3h0m6 2h0m0 2h0m4 0h0m-8 3h0m3 0h0m-2 2h0m7 2h0m-11 1h0m6 0h0m13 0h0m-5 3h0m-32 5h0m15 0h0m12 0h0m-3 1h0m3 2h0m5 6h0"/>
<path stroke="#36a490" d="M895 322h0m-14 31h0m12 0h0m-13 4h0m5 1h0m8 0h0m-14 2h0m1 5h0m2 3h0m-13 1h0m3 0h0m22 0h0m-22 3h0m14 0h0m-5 1h0m12 0h0m-3 4h0m-10 1h0m1 1h0m3 1h0m3 1h0m-34 2h0m32 3h0m-2 3h0m0 5h0m8 0h0m-10 8h0"/>
<path stroke="#37a98e" d="M892 248h0m28 7h0m-30 4h0m14 3h0m4 36h0m-17 21h0m-17 11h0m9 2h0m5 14h0m-5 3h0m-4 4h0m12 3h0m-9 5h0m-4 2h0m2 0h0m9 0h0m-5 1h0m2 0h0m6 2h0m-5 1h0m-3 2h0m-14 1h0m15 0h0m-12 1h0m7 1h0m3 1h0m-3 2h0m4 0h0m3 0h0m-34 4h0"/>
<path stroke="#3bae8b" d="M896 267h0m5 12h0m12 11h0m-20 5h0m-3 8h0m4 8h0m0 3h0m9 10h0m-25 4h0m18 13h0m-12 9h0m-8 3h0m-1 2h0m11 1h0m5 1h0m-13 2h0m5 0h0m3 1h0m4 0h0m-6 1h0m1 3h0m3 0h0m4 0h0m-6 3h0m6 2h0m-6 2h0m-1 1h0m-5 4h0m6 3h0m-6 3h0m2 2h0"/>
<path stroke="#42b487" d="M886 242h0m22 24h0m-27 4h0m21 60h0m2 11h0m-28 7h0m5 0h0m4 3h0m-10 1h0m11 0h0m-9 4h0m6 1h0m7 0h0m1 1h0m-4 1h0m-8 2h0m10 3h0m0 0h0m-3 1h0m-17 1h0m8 1h0m4 0h0m3 0h0m1 0h0m7 1h0m-4 1h0m3 1h0m-14 2h0m7 0h0m3 0h0m-22 2h0m27 0h0m1 0h0m-16 2h0m3 0h0m5 0h0m-3 1h0m13 2h0m-21 3h0m9 2h0m4 3h0"/>
<path stroke="#49b883" d="M906 263h0m-23 33h0m29 23h0m-29 27h0m-10 4h0m15 1h0m-13 1h0m17 0h0m-8 1h0m1 1h0m2 0h0m-10 3h0m12 0h0m-9 2h0m2 2h0m1 0h0m-4 2h0m6 1h0m-10 1h0m5 1h0m16 0h0m1 1h0m0 2h0m-13 1h0m8 0h0m8 0h0m-18 1h0m6 0h0m-7 1h0m3 1h0m1 1h0m-8 1h0m1 0h0m8 2h0m-4 1h0m3 1h0m-8 2h0m14 0h0m-6 8h0m-1 1h0m2 4h0"/>
<path stroke="#53bd7d" d="M911 274h0m-15 3h0m2 4h0m-1 67h0m-3 1h0m-3 3h0m11 0h0m-20 1h0m0 7h0m0 0h0m-5 2h0m8 0h0m4 0h0m-11 2h0m14 3h0m-10 1h0m3 0h0m6 0h0m-14 1h0m4 0h0m0 0h0m-4 1h0m12 1h0m-9 2h0m0 4h0m7 0h0m-15 1h0m10 1h0m-5 2h0m11 0h0m-6 2h0m2 4h0m-3 4h0m8 2h0"/>
<path stroke="#5cc278" d="M927 239h0m-35 56h0m21 3h0m-1 31h0m-36 19h0m10 4h0m3 0h0m-16 1h0m14 1h0m-8 6h0m8 0h0m-10 4h0m9 0h0m6 1h0m-13 1h0m6 0h0m5 0h0m0 0h0m-14 1h0m16 0h0m-14 3h0m1 0h0m12 0h0m-6 1h0m-2 1h0m3 2h0m-7 2h0m14 0h0m-17 1h0m9 2h0m-13 1h0m22 0h0m-10 1h0m2 2h0"/>
<path stroke="#68c671" d="M898 275h0m28 3h0m-12 36h0m-44 32h0m24 4h0m-8 3h0m-2 2h0m7 0h0m-13 2h0m15 1h0m-7 5h0m-7 1h0m-2 3h0m7 0h0m-12 1h0m9 1h0m8 0h0m-8 3h0m11 0h0m-4 1h0m-3 1h0m4 0h0m-2 2h0m-12 1h0m7 2h0m8 0h0m-19 2h0m2 2h0m3 2h0m4 9h0m8 2h0"/>
<path stroke="#74ca6b" d="M885 362h0m1 0h0m4 1h0m-18 1h0m5 1h0m7 1h0m-8 1h0m15 2h0m-13 7h0m5 0h0m7 1h0m2 1h0m-11 2h0m2 0h0m7 4h0"/>
<path stroke="#82ce62" d="M898 281h0m2 7h0m-28 66h0m13 6h0m-15 1h0m15 2h0m-4 8h0m1 3h0m5 1h0m-2 1h0m5 1h0m-15 1h0m23 0h0m-10 1h0"/>
<path stroke="#90d259" d="M894 284h0m-8 67h0m-7 4h0m8 0h0m6 3h0m-15 3h0m3 1h0m7 2h0m-2 1h0m5 5h0m-11 1h0m8 14h0"/>
<path stroke="#9ed551" d="M896 352h0m-9 5h0m6 4h0m6 4h0m-19 1h0m-6 4h0m9 0h0m9 3h0m-19 3h0m9 11h0"/>
<path stroke="#add846" d="M901 347h0m-1 1h0m4 2h0m-13 2h0m12 0h0m-3 2h0m-5 1h0m-2 2h0m6 2h0m6 0h0m-4 2h0m-8 1h0m1 0h0m9 0h0m-8 1h0m8 1h0m-8 1h0m-1 3h0m-2 2h0m0 0h0m3 0h0m5 0h0m5 2h0m-1 1h0"/>
<path stroke="#bbda3d" d="M907 345h0m-12 2h0m13 1h0m-20 2h0m4 3h0m4 0h0m-11 3h0m13 0h0m2 0h0m3 0h0m-14 1h0m6 0h0m0 0h0m4 0h0m2 0h0m-1 2h0m2 0h0m-6 1h0m1 0h0m2 0h0m-6 1h0m9 0h0m-12 1h0m4 0h0m3 0h0m3 1h0m-9 1h0m14 1h0m-17 1h0m7 0h0m3 0h0m1 0h0m2 0h0m-5 1h0m5 0h0m-7 1h0m1 0h0m9 0h0m-11 1h0m10 0h0m-1 1h0m-20 1h0m11 0h0m2 0h0m2 0h0m0 1h0m9 0h0m-13 1h0m-1 2h0m4 0h0m2 0h0m9 1h0m-19 3h0m12 5h0"/>
<path stroke="#cbdc35" d="M898 334h0m-1 4h0m5 3h0m2 0h0m-16 2h0m1 5h0m2 1h0m7 0h0m-6 1h0m1 0h0m-3 1h0m11 0h0m-9 1h0m1 0h0m9 0h0m-5 1h0m6 0h0m-6 1h0m1 0h0m3 0h0m-3 1h0m0 0h0m2 0h0m5 0h0m2 0h0m-10 1h0m2 0h0m-11 1h0m11 0h0m0 0h0m3 0h0m1 0h0m0 0h0m-5 1h0m1 0h0m0 0h0m2 0h0m8 0h0m-13 1h0m0 0h0m8 0h0m-16 1h0m10 0h0m0 0h0m1 0h0m3 0h0m1 0h0m6 0h0m-22 1h0m5 0h0m8 0h0m2 0h0m-6 1h0m0 0h0m5 0h0m2 0h0m1 0h0m-12 1h0m4 0h0m0 0h0m1 0h0m3 0h0m0 0h0m0 0h0m2 0h0m-12 1h0m0 0h0m8 0h0m-10 1h0m5 0h0m3 0h0m4 0h0m1 0h0m4 0h0m-15 1h0m9 0h0m1 0h0m3 0h0m-9 1h0m1 0h0m8 0h0m-13 1h0m10 0h0m2 0h0m4 0h0m-13 1h0m2 0h0m2 0h0m8 0h0m-16 1h0m8 0h0m5 0h0m0 0h0m3 0h0m-6 1h0m3 0h0m2 0h0m2 0h0m-19 1h0m9 0h0m-1 1h0m1 0h0m1 1h0m9 0h0m-12 1h0m5 0h0m2 1h0m-11 1h0m14 0h0m-12 1h0m6 2h0m-6 2h0"/>
<path stroke="#d9de30" d="M894 344h0m10 2h0m-8 1h0m-5 1h0m3 0h0m13 1h0m-10 1h0m-2 1h0m1 0h0m0 0h0m3 0h0m3 1h0m0 0h0m7 0h0m-21 1h0m9 0h0m2 0h0m4 0h0m-9 1h0m4 0h0m0 0h0m2 0h0m3 0h0m-5 1h0m3 0h0m1 0h0m3 0h0m-16 1h0m5 0h0m3 0h0m3 0h0m2 0h0m6 0h0m-18 1h0m4 0h0m0 0h0m1 0h0m5 0h0m6 0h0m-14 1h0m1 0h0m3 0h0m5 0h0m0 0h0m1 0h0m-11 1h0m0 0h0m4 0h0m4 0h0m3 0h0m2 0h0m3 0h0m-14 1h0m4 0h0m2 0h0m4 0h0m-9 1h0m2 0h0m4 0h0m1 0h0m1 0h0m-15 1h0m2 0h0m5 0h0m2 0h0m0 0h0m1 0h0m2 0h0m1 0h0m1 0h0m0 0h0m0 0h0m2 0h0m1 0h0m0 0h0m1 0h0m-8 1h0m4 0h0m2 0h0m1 0h0m1 0h0m-15 1h0m10 0h0m1 0h0m4 0h0m-10 1h0m3 0h0m1 0h0m1 0h0m-15 1h0m3 0h0m6 0h0m4 0h0m1 0h0m1 0h0m-10 1h0m6 0h0m1 0h0m1 0h0m1 0h0m3 0h0m-12 1h0m3 0h0m3 0h0m6 0h0m-6 1h0m1 0h0m7 0h0m2 0h0m-14 1h0m6 0h0m-4 1h0m1 0h0m0 0h0m2 0h0m4 1h0m3 0h0m-7 1h0m4 0h0m3 0h0m1 0h0m1 0h0m2 0h0m-17 1h0m7 0h0m2 0h0m2 0h0m-3 1h0m0 1h0m4 0h0m-6 1h0m7 0h0m5 0h0m-20 1h0m3 0h0m9 4h0"/>
<path stroke="#e8e033" d="M907 337h0m-21 6h0m8 2h0m-3 2h0m11 2h0m-11 1h0m3 0h0m17 0h0m-17 2h0m1 0h0m4 0h0m0 1h0m1 0h0m-8 1h0m3 0h0m2 0h0m0 0h0m1 0h0m7 0h0m2 0h0m-6 1h0m4 0h0m-15 1h0m3 0h0m7 0h0m0 0h0m3 0h0m6 0h0m-19 1h0m5 0h0m6 0h0m-12 1h0m5 0h0m1 0h0m2 0h0m2 0h0m7 0h0m-9 1h0m1 0h0m2 0h0m1 0h0m1 0h0m-4 1h0m0 0h0m2 0h0m-11 1h0m4 0h0m1 0h0m8 0h0m-15 1h0m9 0h0m7 0h0m1 0h0m1 0h0m0 0h0m-14 1h0m1 0h0m1 0h0m5 0h0m2 0h0m4 0h0m-16 1h0m2 0h0m5 0h0m2 0h0m1 0h0m5 0h0m-6 1h0m5 0h0m3 0h0m0 0h0m-12 1h0m2 0h0m3 0h0m1 0h0m2 0h0m5 0h0m-7 1h0m-5 1h0m1 0h0m1 0h0m1 0h0m2 0h0m7 0h0m-20 1h0m6 0h0m3 0h0m3 0h0m2 0h0m3 0h0m1 0h0m0 0h0m-5 1h0m3 0h0m2 0h0m-8 1h0m6 0h0m-4 1h0m13 0h0m-9 1h0m11 0h0m-16 1h0m9 0h0m-7 3h0m-1 2h0m11 0h0m-10 1h0m-1 5h0"/>
<path stroke="#f4e13b" d="M900 342h0m8 5h0m-12 2h0m5 0h0m4 1h0m-11 1h0m3 0h0m1 0h0m2 0h0m-6 1h0m3 0h0m0 1h0m0 0h0m2 1h0m-3 1h0m0 0h0m1 0h0m3 0h0m-5 1h0m1 0h0m4 0h0m0 0h0m2 0h0m-8 1h0m3 0h0m6 1h0m-9 1h0m2 0h0m7 0h0m0 0h0m5 0h0m-10 1h0m1 0h0m4 0h0m9 0h0m-19 1h0m1 0h0m8 0h0m2 0h0m-17 1h0m9 0h0m0 0h0m1 0h0m3 0h0m1 0h0m10 0h0m-19 1h0m0 0h0m5 0h0m4 0h0m4 0h0m-1 1h0m-9 1h0m3 0h0m3 0h0m2 0h0m1 0h0m2 0h0m-12 1h0m9 0h0m-9 1h0m5 0h0m1 0h0m1 0h0m4 0h0m2 0h0m-13 1h0m1 0h0m0 0h0m2 0h0m1 0h0m-6 1h0m1 0h0m1 0h0m4 0h0m1 0h0m-2 2h0m13 0h0m-9 1h0m1 0h0m1 1h0m1 0h0m0 0h0m-5 2h0m2 1h0m-11 1h0m1 1h0m8 1h0"/>
</g>
<text x="4.90" y="74.30" font-size="76" text-anchor="start" >A</text>
<text x="601.90" y="67.00" font-size="76" text-anchor="start" >B</text>
<text x="11.20" y="593.30" font-size="76" text-anchor="start" >C</text>
<text x="662.90" y="608.00" font-size="76" text-anchor="start" >D</text>
<text x="3.90" y="1019.50" font-size="76" text-anchor="start" >E</text>
<text x="683.90" y="1019.50" font-size="76" text-anchor="start" >F</text>
<text x="282.80" y="53.25" font-size="27.5" text-anchor="middle" >pct_counts_mt</text>
<text x="876.80" y="53.25" font-size="27.5" text-anchor="middle" >pct_counts_mt</text>
<text x="268.80" y="575.30" font-size="22.5" text-anchor="middle" >leiden</text>
<text x="931.40" y="575.00" font-size="22.5" text-anchor="middle" >log1p_total_counts</text>
<text x="268.90" y="996.60" font-size="22.5" text-anchor="middle" >pct_counts_mt</text>
<text x="931.75" y="996.75" font-size="22.5" text-anchor="middle" >log1p_n_genes_by_counts</text>
<text x="281.30" y="528.30" font-size="27.5" text-anchor="middle" textLength="51" lengthAdjust="spacingAndGlyphs">PC1</text>
<text x="877.00" y="528.30" font-size="27.5" text-anchor="middle" >PC3</text>
<text transform="translate(47.0,284.7) rotate(-90)" font-size="27.5" text-anchor="middle">PC2</text>
<text transform="translate(641.4,284.7) rotate(-90)" font-size="27.5" text-anchor="middle">PC4</text>
<text x="267.80" y="945.40" font-size="23.5" text-anchor="middle" textLength="77.3" lengthAdjust="spacingAndGlyphs">UMAP1</text>
<text x="931.00" y="945.40" font-size="23.5" text-anchor="middle" textLength="77.3" lengthAdjust="spacingAndGlyphs">UMAP1</text>
<text x="267.80" y="1366.80" font-size="23.5" text-anchor="middle" textLength="77.3" lengthAdjust="spacingAndGlyphs">UMAP1</text>
<text x="931.00" y="1366.80" font-size="23.5" text-anchor="middle" textLength="77.3" lengthAdjust="spacingAndGlyphs">UMAP1</text>
<text transform="translate(57.7,755.9) rotate(-90)" font-size="23.5" text-anchor="middle" textLength="77.3" lengthAdjust="spacingAndGlyphs">UMAP2</text>
<text transform="translate(720.5,755.9) rotate(-90)" font-size="23.5" text-anchor="middle" textLength="77.3" lengthAdjust="spacingAndGlyphs">UMAP2</text>
<text transform="translate(57.7,1177.2) rotate(-90)" font-size="23.5" text-anchor="middle" textLength="77.3" lengthAdjust="spacingAndGlyphs">UMAP2</text>
<text transform="translate(720.5,1177.2) rotate(-90)" font-size="23.5" text-anchor="middle" textLength="77.3" lengthAdjust="spacingAndGlyphs">UMAP2</text>
<rect x="58.10" y="65.20" width="448.40" height="435.40" fill="none" stroke="#141414" stroke-width="1.9"/>
<rect x="653.00" y="65.30" width="447.50" height="435.20" fill="none" stroke="#141414" stroke-width="2.0"/>
<rect x="68.00" y="585.50" width="402.00" height="337.50" fill="none" stroke="#1c1c1c" stroke-width="1.5"/>
<rect x="730.80" y="585.50" width="401.90" height="337.40" fill="none" stroke="#1c1c1c" stroke-width="1.3"/>
<rect x="68.00" y="1006.60" width="402.00" height="338.80" fill="none" stroke="#1c1c1c" stroke-width="1.5"/>
<rect x="730.80" y="1007.00" width="402.10" height="338.40" fill="none" stroke="#1c1c1c" stroke-width="1.3"/>
<rect x="510.70" y="65.50" width="16.10" height="435.10" fill="url(#vir)" stroke="#111" stroke-width="1.7"/>
<line x1="526.80" y1="500.60" x2="532.50" y2="500.60" stroke="#111" stroke-width="1.3"/>
<text x="539.50" y="510.00" font-size="27.5" text-anchor="start" >0</text>
<line x1="526.80" y1="411.82" x2="532.50" y2="411.82" stroke="#111" stroke-width="1.3"/>
<text x="539.50" y="421.22" font-size="27.5" text-anchor="start" >20</text>
<line x1="526.80" y1="323.04" x2="532.50" y2="323.04" stroke="#111" stroke-width="1.3"/>
<text x="539.50" y="332.44" font-size="27.5" text-anchor="start" >40</text>
<line x1="526.80" y1="234.26" x2="532.50" y2="234.26" stroke="#111" stroke-width="1.3"/>
<text x="539.50" y="243.66" font-size="27.5" text-anchor="start" >60</text>
<line x1="526.80" y1="145.48" x2="532.50" y2="145.48" stroke="#111" stroke-width="1.3"/>
<text x="539.50" y="154.88" font-size="27.5" text-anchor="start" >80</text>
<rect x="1105.30" y="65.50" width="15.50" height="435.10" fill="url(#vir)" stroke="#111" stroke-width="1.7"/>
<line x1="1120.80" y1="500.60" x2="1126.70" y2="500.60" stroke="#111" stroke-width="1.3"/>
<text x="1133.60" y="510.00" font-size="27.5" text-anchor="start" >0</text>
<line x1="1120.80" y1="411.82" x2="1126.70" y2="411.82" stroke="#111" stroke-width="1.3"/>
<text x="1133.60" y="421.22" font-size="27.5" text-anchor="start" >20</text>
<line x1="1120.80" y1="323.04" x2="1126.70" y2="323.04" stroke="#111" stroke-width="1.3"/>
<text x="1133.60" y="332.44" font-size="27.5" text-anchor="start" >40</text>
<line x1="1120.80" y1="234.26" x2="1126.70" y2="234.26" stroke="#111" stroke-width="1.3"/>
<text x="1133.60" y="243.66" font-size="27.5" text-anchor="start" >60</text>
<line x1="1120.80" y1="145.48" x2="1126.70" y2="145.48" stroke="#111" stroke-width="1.3"/>
<text x="1133.60" y="154.88" font-size="27.5" text-anchor="start" >80</text>
<rect x="1137.00" y="585.50" width="12.00" height="337.70" fill="url(#vir)" stroke="#111" stroke-width="1.7"/>
<line x1="1149.00" y1="609.40" x2="1154.30" y2="609.40" stroke="#111" stroke-width="1.3"/>
<text x="1160.30" y="617.50" font-size="23" text-anchor="start" >12</text>
<line x1="1149.00" y1="663.57" x2="1154.30" y2="663.57" stroke="#111" stroke-width="1.3"/>
<text x="1160.30" y="671.67" font-size="23" text-anchor="start" >11</text>
<line x1="1149.00" y1="717.74" x2="1154.30" y2="717.74" stroke="#111" stroke-width="1.3"/>
<text x="1160.30" y="725.84" font-size="23" text-anchor="start" >10</text>
<line x1="1149.00" y1="771.91" x2="1154.30" y2="771.91" stroke="#111" stroke-width="1.3"/>
<text x="1160.30" y="780.01" font-size="23" text-anchor="start" >9</text>
<line x1="1149.00" y1="826.08" x2="1154.30" y2="826.08" stroke="#111" stroke-width="1.3"/>
<text x="1160.30" y="834.18" font-size="23" text-anchor="start" >8</text>
<line x1="1149.00" y1="880.25" x2="1154.30" y2="880.25" stroke="#111" stroke-width="1.3"/>
<text x="1160.30" y="888.35" font-size="23" text-anchor="start" >7</text>
<rect x="474.00" y="1006.60" width="12.20" height="338.80" fill="url(#vir)" stroke="#111" stroke-width="1.7"/>
<line x1="486.20" y1="1345.40" x2="491.20" y2="1345.40" stroke="#111" stroke-width="1.3"/>
<text x="497.10" y="1353.50" font-size="23" text-anchor="start" >0</text>
<line x1="486.20" y1="1276.20" x2="491.20" y2="1276.20" stroke="#111" stroke-width="1.3"/>
<text x="497.10" y="1284.30" font-size="23" text-anchor="start" >20</text>
<line x1="486.20" y1="1207.00" x2="491.20" y2="1207.00" stroke="#111" stroke-width="1.3"/>
<text x="497.10" y="1215.10" font-size="23" text-anchor="start" >40</text>
<line x1="486.20" y1="1137.80" x2="491.20" y2="1137.80" stroke="#111" stroke-width="1.3"/>
<text x="497.10" y="1145.90" font-size="23" text-anchor="start" >60</text>
<line x1="486.20" y1="1068.60" x2="491.20" y2="1068.60" stroke="#111" stroke-width="1.3"/>
<text x="497.10" y="1076.70" font-size="23" text-anchor="start" >80</text>
<rect x="1137.10" y="1007.00" width="11.60" height="338.40" fill="url(#vir)" stroke="#111" stroke-width="1.7"/>
<line x1="1148.70" y1="1023.75" x2="1153.80" y2="1023.75" stroke="#111" stroke-width="1.3"/>
<text x="1159.90" y="1031.85" font-size="23" text-anchor="start" >9</text>
<line x1="1148.70" y1="1082.35" x2="1153.80" y2="1082.35" stroke="#111" stroke-width="1.3"/>
<text x="1159.90" y="1090.45" font-size="23" text-anchor="start" >8</text>
<line x1="1148.70" y1="1140.95" x2="1153.80" y2="1140.95" stroke="#111" stroke-width="1.3"/>
<text x="1159.90" y="1149.05" font-size="23" text-anchor="start" >7</text>
<line x1="1148.70" y1="1199.55" x2="1153.80" y2="1199.55" stroke="#111" stroke-width="1.3"/>
<text x="1159.90" y="1207.65" font-size="23" text-anchor="start" >6</text>
<line x1="1148.70" y1="1258.15" x2="1153.80" y2="1258.15" stroke="#111" stroke-width="1.3"/>
<text x="1159.90" y="1266.25" font-size="23" text-anchor="start" >5</text>
<line x1="1148.70" y1="1316.75" x2="1153.80" y2="1316.75" stroke="#111" stroke-width="1.3"/>
<text x="1159.90" y="1324.85" font-size="23" text-anchor="start" >4</text>
<circle cx="493.7" cy="592.90" r="5.6" fill="#17489b"/>
<text x="507.20" y="598.30" font-size="21" text-anchor="start" >0</text>
<circle cx="493.7" cy="622.16" r="5.6" fill="#7681b2"/>
<text x="507.20" y="627.56" font-size="21" text-anchor="start" >1</text>
<circle cx="493.7" cy="651.42" r="5.6" fill="#b0b5ce"/>
<text x="507.20" y="656.82" font-size="21" text-anchor="start" >2</text>
<circle cx="493.7" cy="680.68" r="5.6" fill="#cdb5ba"/>
<text x="507.20" y="686.08" font-size="21" text-anchor="start" >3</text>
<circle cx="493.7" cy="709.94" r="5.6" fill="#b47686"/>
<text x="507.20" y="715.34" font-size="21" text-anchor="start" >4</text>
<circle cx="493.7" cy="739.20" r="5.6" fill="#851f45"/>
<text x="507.20" y="744.60" font-size="21" text-anchor="start" >5</text>
<circle cx="493.7" cy="768.46" r="5.6" fill="#4870b6"/>
<text x="507.20" y="773.86" font-size="21" text-anchor="start" >6</text>
<circle cx="493.7" cy="797.72" r="5.6" fill="#7c8cc8"/>
<text x="507.20" y="803.12" font-size="21" text-anchor="start" >7</text>
<circle cx="493.7" cy="826.98" r="5.6" fill="#aab3da"/>
<text x="507.20" y="832.38" font-size="21" text-anchor="start" >8</text>
<circle cx="493.7" cy="856.24" r="5.6" fill="#dfaab5"/>
<text x="507.20" y="861.64" font-size="21" text-anchor="start" >9</text>
<circle cx="493.7" cy="885.50" r="5.6" fill="#d6788f"/>
<text x="507.20" y="890.90" font-size="21" text-anchor="start" >10</text>
<circle cx="493.7" cy="914.76" r="5.6" fill="#c4466c"/>
<text x="507.20" y="920.16" font-size="21" text-anchor="start" >11</text>
<circle cx="577.1" cy="592.90" r="5.6" fill="#3cb54a"/>
<text x="590.40" y="598.30" font-size="21" text-anchor="start" >12</text>
<circle cx="577.1" cy="622.16" r="5.6" fill="#86c98e"/>
<text x="590.40" y="627.56" font-size="21" text-anchor="start" >13</text>
<circle cx="577.1" cy="651.42" r="5.6" fill="#bcd7bf"/>
<text x="590.40" y="656.82" font-size="21" text-anchor="start" >14</text>
<circle cx="577.1" cy="680.68" r="5.6" fill="#e3cbc0"/>
<text x="590.40" y="686.08" font-size="21" text-anchor="start" >15</text>
<circle cx="577.1" cy="709.94" r="5.6" fill="#e8ad85"/>
<text x="590.40" y="715.34" font-size="21" text-anchor="start" >16</text>
<circle cx="577.1" cy="739.20" r="5.6" fill="#e28c30"/>
<text x="590.40" y="744.60" font-size="21" text-anchor="start" >17</text>
<circle cx="577.1" cy="768.46" r="5.6" fill="#38beb2"/>
<text x="590.40" y="773.86" font-size="21" text-anchor="start" >18</text>
<circle cx="577.1" cy="797.72" r="5.6" fill="#98d5cd"/>
<text x="590.40" y="803.12" font-size="21" text-anchor="start" >19</text>
<circle cx="577.1" cy="826.98" r="5.6" fill="#cfe5e2"/>
<text x="590.40" y="832.38" font-size="21" text-anchor="start" >20</text>
<circle cx="577.1" cy="856.24" r="5.6" fill="#eedbe6"/>
<text x="590.40" y="861.64" font-size="21" text-anchor="start" >21</text>
<circle cx="577.1" cy="885.50" r="5.6" fill="#efc1db"/>
<text x="590.40" y="890.90" font-size="21" text-anchor="start" >22</text>
<circle cx="577.1" cy="914.76" r="5.6" fill="#e59bc8"/>
<text x="590.40" y="920.16" font-size="21" text-anchor="start" >23</text>
</svg></body></html>
